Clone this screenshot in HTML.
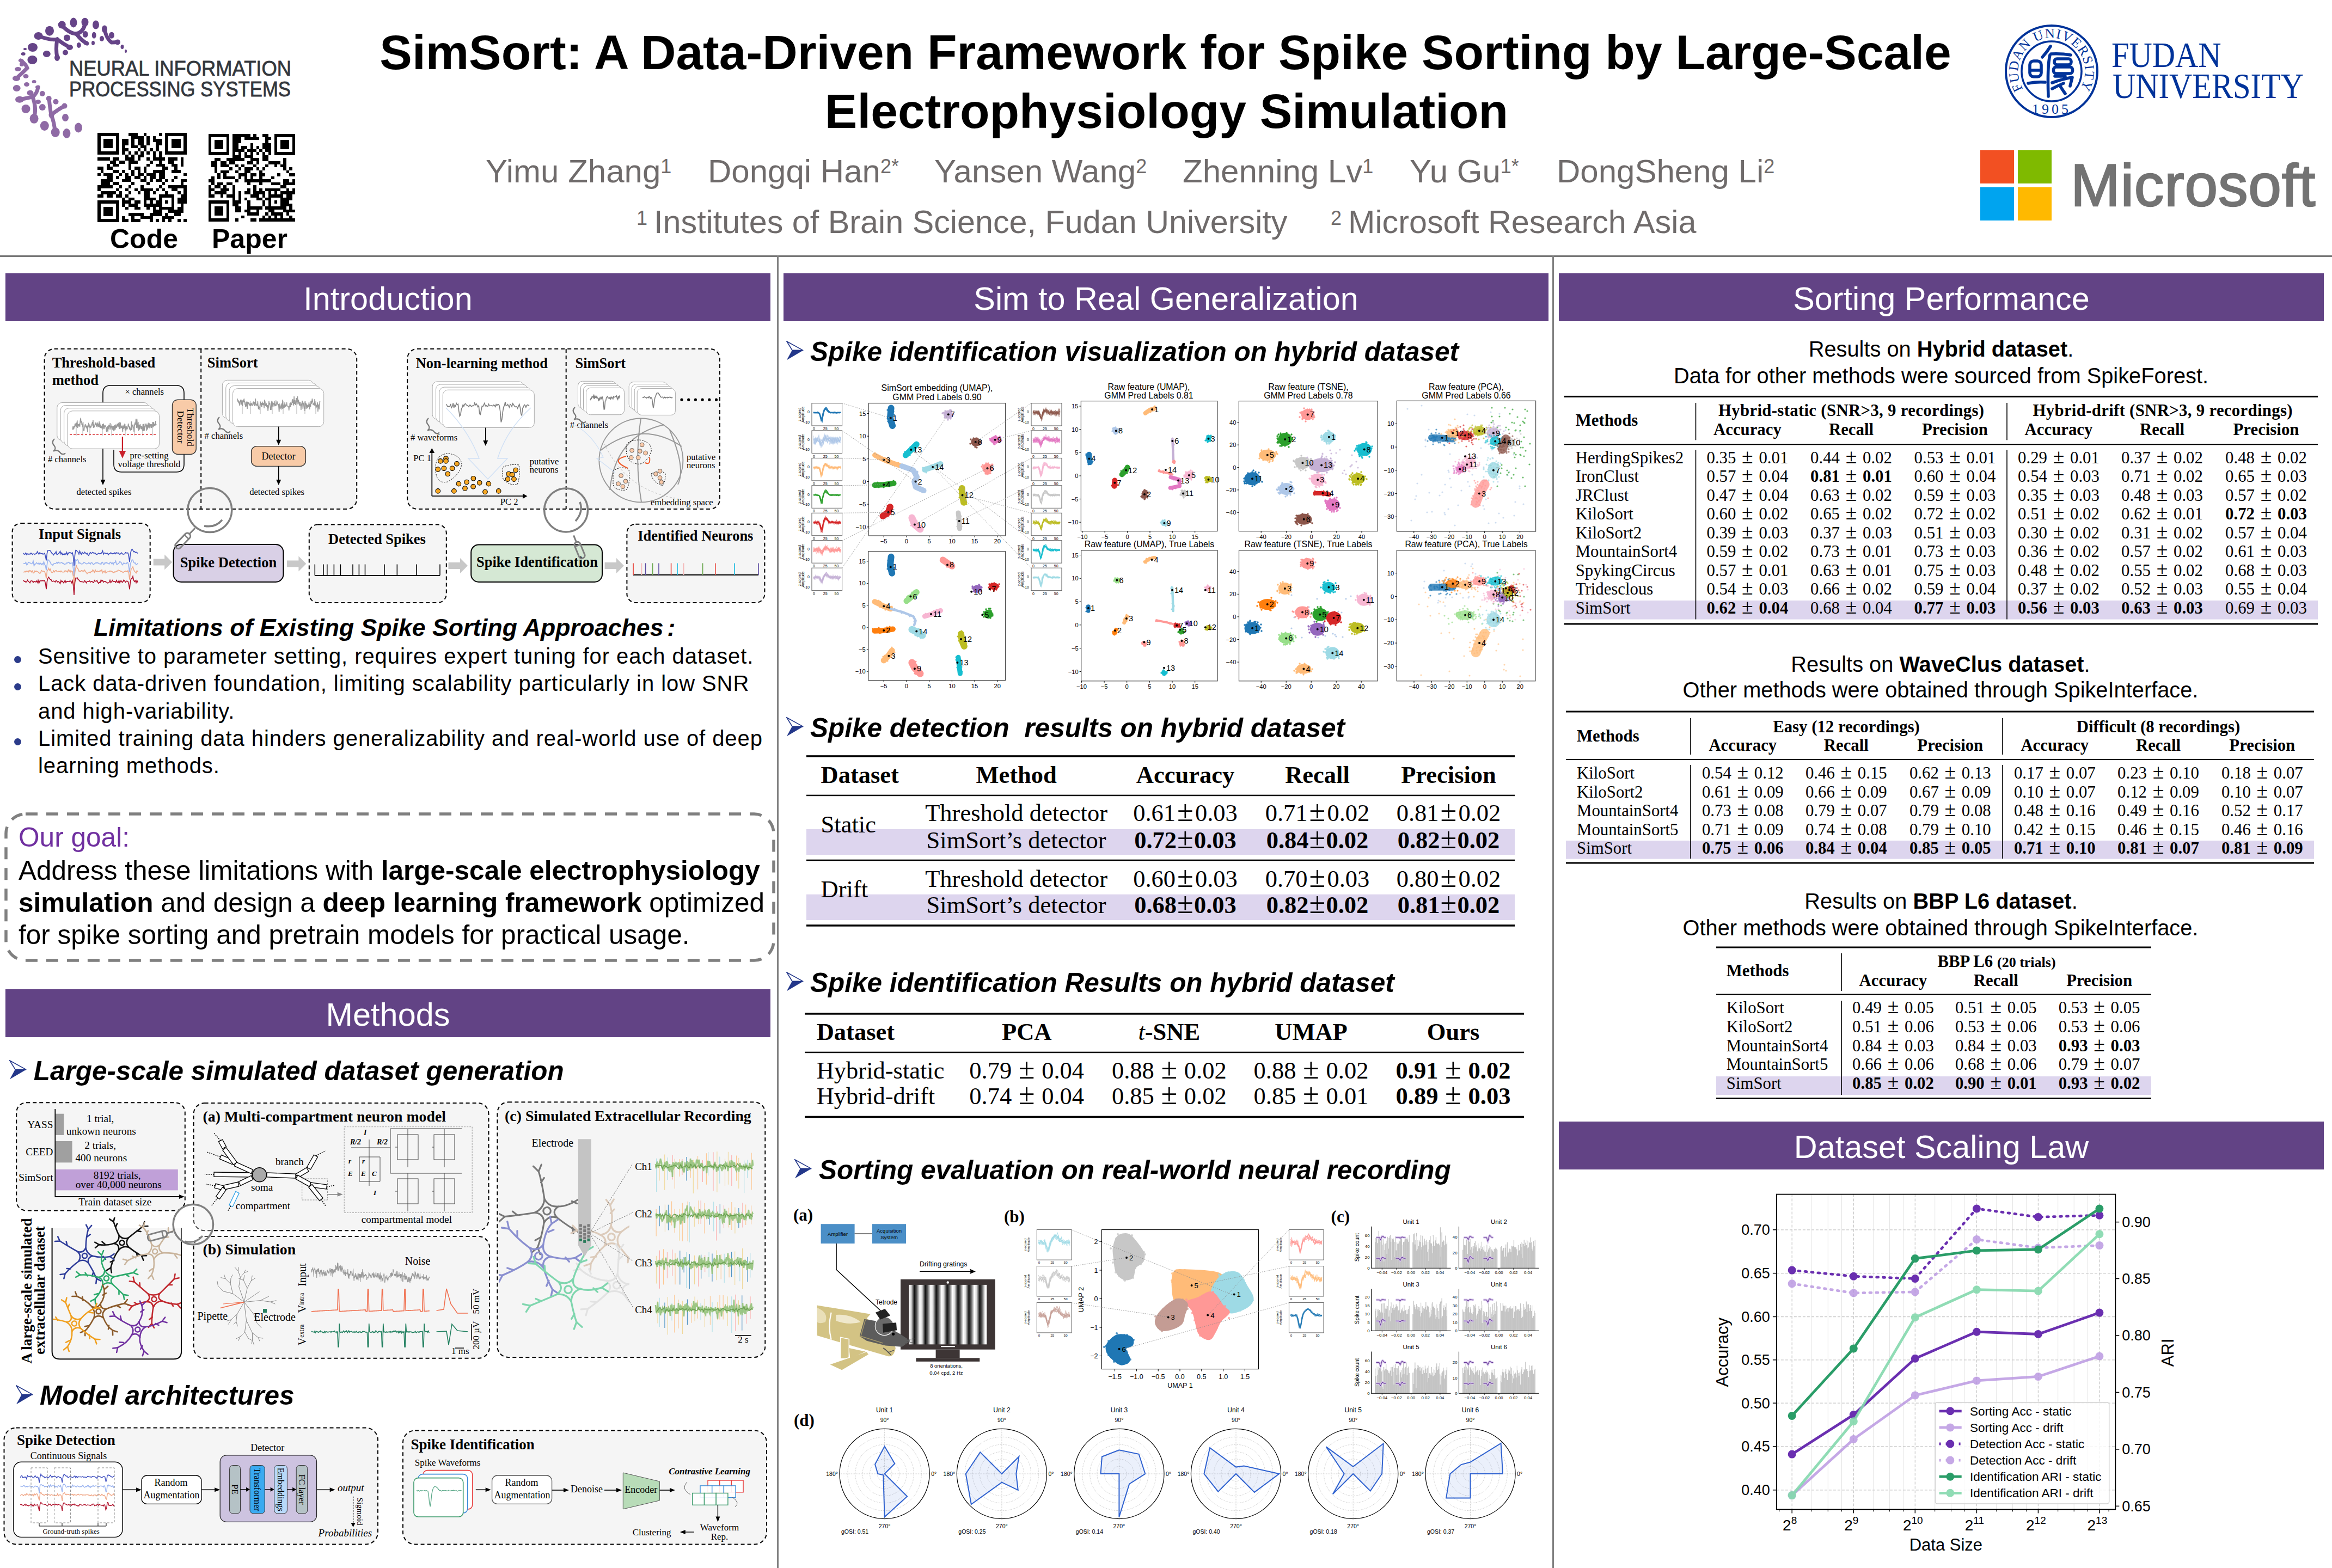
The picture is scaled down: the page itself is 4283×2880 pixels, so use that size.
<!DOCTYPE html>
<html><head><meta charset="utf-8">
<style>
html,body{margin:0;padding:0;background:#fff;}
body{width:4283px;height:2880px;position:relative;overflow:hidden;font-family:"Liberation Sans",sans-serif;color:#000;}
.a{position:absolute;white-space:nowrap;}
.bar{position:absolute;background:#624385;color:#fff;text-align:center;height:88px;line-height:88px;font-size:60px;}
.sv{position:absolute;}
.serif{font-family:"Liberation Serif",serif;}
.h2{position:absolute;white-space:nowrap;font-weight:bold;font-style:italic;font-size:49.5px;line-height:1;}
.arr{position:absolute;}
.au{position:absolute;white-space:nowrap;top:280px;font-size:60px;line-height:70px;color:#6f6b6b;}
.au .sp{font-size:36px;vertical-align:top;position:relative;top:-9px;}
.af{position:absolute;white-space:nowrap;top:374px;font-size:59.3px;line-height:68px;color:#6f6b6b;}
.af .sp2{font-size:36px;vertical-align:top;position:relative;top:-7px;margin-right:12px;}
table{border-collapse:collapse;}
.bar{line-height:94px;font-size:59.4px;}
.t40{position:absolute;white-space:nowrap;font-size:40px;line-height:40px;letter-spacing:0.93px;}
.t49{position:absolute;white-space:nowrap;font-size:49.5px;line-height:49px;}
.dot{position:absolute;width:13px;height:13px;border-radius:50%;background:#2b3b8a;}
</style></head><body>
<!-- header.html --><!-- HEADER --><div id="title" class="a" style="left:0;width:4283px;text-align:center;top:42px;font-weight:bold;font-size:89.3px;line-height:108px;"><div style="position:relative;left:-1px;">SimSort: A Data-Driven Framework for Spike Sorting by Large-Scale</div><div style="position:relative;left:1px;">Electrophysiology Simulation</div></div><div class="au" style="left:892px;">Yimu Zhang<span class="sp">1</span></div><div class="au" style="left:1300px;">Dongqi Han<span class="sp">2*</span></div><div class="au" style="left:1716px;">Yansen Wang<span class="sp">2</span></div><div class="au" style="left:2172px;">Zhenning Lv<span class="sp">1</span></div><div class="au" style="left:2589px;">Yu Gu<span class="sp">1*</span></div><div class="au" style="left:2859px;">DongSheng Li<span class="sp">2</span></div><div class="af" style="left:1169px;"><span class="sp2">1</span>Institutes of Brain Science, Fudan University</div><div class="af" style="left:2444px;"><span class="sp2">2</span>Microsoft Research Asia</div><!-- LOGOS --><svg class="sv" style="left:0;top:0" width="560" height="270" viewBox="0 0 560 270"><g fill="#664488"><ellipse cx="135" cy="41.5" rx="6.5" ry="9"/><ellipse cx="156" cy="40.7" rx="6.5" ry="8"/><ellipse cx="176" cy="45.5" rx="6" ry="8"/><ellipse cx="192" cy="53.5" rx="5" ry="7"/><ellipse cx="205" cy="64.7" rx="5" ry="6"/><ellipse cx="216" cy="77.4" rx="5" ry="5"/><ellipse cx="224.5" cy="86" rx="3" ry="4"/><ellipse cx="231" cy="94" rx="2" ry="3"/><ellipse cx="113.7" cy="45.5" rx="7" ry="7"/><ellipse cx="91" cy="56.7" rx="8" ry="9"/><ellipse cx="70.6" cy="66" rx="8" ry="7"/><ellipse cx="123" cy="69.4" rx="6" ry="6"/><ellipse cx="156.7" cy="63" rx="5" ry="6"/><ellipse cx="172.7" cy="64.7" rx="4" ry="6"/><ellipse cx="187" cy="71" rx="4" ry="5"/><ellipse cx="158" cy="79" rx="4" ry="4"/><ellipse cx="171" cy="79" rx="3" ry="4"/><ellipse cx="144.8" cy="83" rx="4" ry="5"/><ellipse cx="128" cy="87" rx="6" ry="5"/><ellipse cx="105" cy="106" rx="5" ry="6"/><ellipse cx="120" cy="96.5" rx="5" ry="5"/><ellipse cx="85.8" cy="99" rx="7" ry="6"/><ellipse cx="60" cy="87" rx="9" ry="8"/><ellipse cx="59.4" cy="110" rx="9" ry="8"/><ellipse cx="46" cy="90" rx="3" ry="2"/><ellipse cx="42.7" cy="99" rx="4" ry="3"/></g><g stroke="#664488" stroke-width="7" fill="none" stroke-linecap="round"><path d="M113,46 Q128,62 140,62 Q152,60 156,45"/><path d="M140,62 Q150,75 160,80"/><path d="M70,66 Q95,75 105,72 Q115,80 128,87"/><path d="M105,72 Q102,90 105,106"/><path d="M192,54 Q196,72 205,78 Q212,78 216,77"/></g><g fill="#8f6aa5"><ellipse cx="38.7" cy="111" rx="5" ry="3"/><ellipse cx="33" cy="127" rx="6" ry="4"/><ellipse cx="47.5" cy="140" rx="5" ry="4"/><ellipse cx="30" cy="144" rx="7" ry="5"/><ellipse cx="62.6" cy="150" rx="4" ry="3"/><ellipse cx="49" cy="155" rx="5" ry="4"/><ellipse cx="30.7" cy="162" rx="7" ry="6"/><ellipse cx="69" cy="160" rx="4" ry="3"/><ellipse cx="55.5" cy="170.7" rx="6" ry="5"/><ellipse cx="77.8" cy="172" rx="5" ry="5"/><ellipse cx="36" cy="182.7" rx="8" ry="6"/><ellipse cx="89.7" cy="181" rx="5" ry="5"/><ellipse cx="102.5" cy="186.7" rx="5" ry="5"/><ellipse cx="77.8" cy="197" rx="6" ry="6"/><ellipse cx="47.5" cy="200" rx="8" ry="8"/><ellipse cx="118.5" cy="194.6" rx="5" ry="5"/><ellipse cx="62.6" cy="217.8" rx="8" ry="9"/><ellipse cx="120" cy="216" rx="6" ry="7"/><ellipse cx="81.8" cy="231" rx="8" ry="9"/><ellipse cx="101.7" cy="243" rx="8" ry="9"/><ellipse cx="122.4" cy="245" rx="7" ry="9"/><ellipse cx="144" cy="234.5" rx="7" ry="9"/><ellipse cx="94.5" cy="211" rx="5" ry="6"/><ellipse cx="70" cy="187" rx="5" ry="4"/><ellipse cx="40" cy="118" rx="4" ry="4"/></g><g stroke="#8f6aa5" stroke-width="7" fill="none" stroke-linecap="round"><path d="M38,111 Q48,118 50,125 Q40,135 30,144"/><path d="M36,183 Q50,180 60,178 Q68,172 70,160"/><path d="M60,178 Q68,200 62,218"/><path d="M90,181 Q92,200 94,211 Q100,225 101,243"/><path d="M94,211 Q108,200 118,195"/></g><text x="127" y="139" font-size="38.5" fill="#33373d" stroke="#33373d" stroke-width="0.8" font-family="Liberation Sans" textLength="408" lengthAdjust="spacingAndGlyphs">NEURAL INFORMATION</text><text x="127" y="177" font-size="38.5" fill="#33373d" stroke="#33373d" stroke-width="0.8" font-family="Liberation Sans" textLength="407" lengthAdjust="spacingAndGlyphs">PROCESSING SYSTEMS</text></svg><svg class="sv" style="left:179px;top:244px" width="164" height="164" viewBox="0 0 29 29" shape-rendering="crispEdges"><path d="M0,0h1v1h-1zM1,0h1v1h-1zM2,0h1v1h-1zM3,0h1v1h-1zM4,0h1v1h-1zM5,0h1v1h-1zM6,0h1v1h-1zM10,0h1v1h-1zM11,0h1v1h-1zM12,0h1v1h-1zM15,0h1v1h-1zM20,0h1v1h-1zM22,0h1v1h-1zM23,0h1v1h-1zM24,0h1v1h-1zM25,0h1v1h-1zM26,0h1v1h-1zM27,0h1v1h-1zM28,0h1v1h-1zM0,1h1v1h-1zM6,1h1v1h-1zM11,1h1v1h-1zM12,1h1v1h-1zM13,1h1v1h-1zM14,1h1v1h-1zM16,1h1v1h-1zM18,1h1v1h-1zM22,1h1v1h-1zM28,1h1v1h-1zM0,2h1v1h-1zM2,2h1v1h-1zM3,2h1v1h-1zM4,2h1v1h-1zM6,2h1v1h-1zM8,2h1v1h-1zM9,2h1v1h-1zM11,2h1v1h-1zM13,2h1v1h-1zM14,2h1v1h-1zM16,2h1v1h-1zM18,2h1v1h-1zM19,2h1v1h-1zM20,2h1v1h-1zM22,2h1v1h-1zM24,2h1v1h-1zM25,2h1v1h-1zM26,2h1v1h-1zM28,2h1v1h-1zM0,3h1v1h-1zM2,3h1v1h-1zM3,3h1v1h-1zM4,3h1v1h-1zM6,3h1v1h-1zM8,3h1v1h-1zM9,3h1v1h-1zM11,3h1v1h-1zM13,3h1v1h-1zM14,3h1v1h-1zM16,3h1v1h-1zM19,3h1v1h-1zM20,3h1v1h-1zM22,3h1v1h-1zM24,3h1v1h-1zM25,3h1v1h-1zM26,3h1v1h-1zM28,3h1v1h-1zM0,4h1v1h-1zM2,4h1v1h-1zM3,4h1v1h-1zM4,4h1v1h-1zM6,4h1v1h-1zM8,4h1v1h-1zM11,4h1v1h-1zM12,4h1v1h-1zM14,4h1v1h-1zM15,4h1v1h-1zM19,4h1v1h-1zM22,4h1v1h-1zM24,4h1v1h-1zM25,4h1v1h-1zM26,4h1v1h-1zM28,4h1v1h-1zM0,5h1v1h-1zM6,5h1v1h-1zM8,5h1v1h-1zM9,5h1v1h-1zM13,5h1v1h-1zM15,5h1v1h-1zM17,5h1v1h-1zM19,5h1v1h-1zM22,5h1v1h-1zM28,5h1v1h-1zM0,6h1v1h-1zM1,6h1v1h-1zM2,6h1v1h-1zM3,6h1v1h-1zM4,6h1v1h-1zM5,6h1v1h-1zM6,6h1v1h-1zM8,6h1v1h-1zM10,6h1v1h-1zM12,6h1v1h-1zM14,6h1v1h-1zM16,6h1v1h-1zM18,6h1v1h-1zM20,6h1v1h-1zM22,6h1v1h-1zM23,6h1v1h-1zM24,6h1v1h-1zM25,6h1v1h-1zM26,6h1v1h-1zM27,6h1v1h-1zM28,6h1v1h-1zM9,7h1v1h-1zM11,7h1v1h-1zM13,7h1v1h-1zM14,7h1v1h-1zM18,7h1v1h-1zM20,7h1v1h-1zM0,8h1v1h-1zM1,8h1v1h-1zM2,8h1v1h-1zM3,8h1v1h-1zM5,8h1v1h-1zM6,8h1v1h-1zM9,8h1v1h-1zM10,8h1v1h-1zM11,8h1v1h-1zM13,8h1v1h-1zM16,8h1v1h-1zM18,8h1v1h-1zM19,8h1v1h-1zM20,8h1v1h-1zM21,8h1v1h-1zM23,8h1v1h-1zM24,8h1v1h-1zM25,8h1v1h-1zM27,8h1v1h-1zM4,9h1v1h-1zM5,9h1v1h-1zM7,9h1v1h-1zM8,9h1v1h-1zM10,9h1v1h-1zM11,9h1v1h-1zM12,9h1v1h-1zM17,9h1v1h-1zM20,9h1v1h-1zM23,9h1v1h-1zM24,9h1v1h-1zM27,9h1v1h-1zM3,10h1v1h-1zM5,10h1v1h-1zM6,10h1v1h-1zM10,10h1v1h-1zM16,10h1v1h-1zM19,10h1v1h-1zM20,10h1v1h-1zM21,10h1v1h-1zM24,10h1v1h-1zM25,10h1v1h-1zM27,10h1v1h-1zM0,11h1v1h-1zM1,11h1v1h-1zM3,11h1v1h-1zM4,11h1v1h-1zM10,11h1v1h-1zM12,11h1v1h-1zM13,11h1v1h-1zM15,11h1v1h-1zM21,11h1v1h-1zM22,11h1v1h-1zM25,11h1v1h-1zM1,12h1v1h-1zM5,12h1v1h-1zM6,12h1v1h-1zM8,12h1v1h-1zM11,12h1v1h-1zM13,12h1v1h-1zM15,12h1v1h-1zM18,12h1v1h-1zM19,12h1v1h-1zM20,12h1v1h-1zM21,12h1v1h-1zM24,12h1v1h-1zM25,12h1v1h-1zM26,12h1v1h-1zM0,13h1v1h-1zM2,13h1v1h-1zM3,13h1v1h-1zM4,13h1v1h-1zM7,13h1v1h-1zM9,13h1v1h-1zM11,13h1v1h-1zM13,13h1v1h-1zM14,13h1v1h-1zM16,13h1v1h-1zM17,13h1v1h-1zM18,13h1v1h-1zM20,13h1v1h-1zM21,13h1v1h-1zM28,13h1v1h-1zM3,14h1v1h-1zM4,14h1v1h-1zM6,14h1v1h-1zM9,14h1v1h-1zM10,14h1v1h-1zM12,14h1v1h-1zM13,14h1v1h-1zM15,14h1v1h-1zM17,14h1v1h-1zM18,14h1v1h-1zM20,14h1v1h-1zM21,14h1v1h-1zM25,14h1v1h-1zM1,15h1v1h-1zM2,15h1v1h-1zM3,15h1v1h-1zM4,15h1v1h-1zM8,15h1v1h-1zM9,15h1v1h-1zM10,15h1v1h-1zM14,15h1v1h-1zM15,15h1v1h-1zM17,15h1v1h-1zM19,15h1v1h-1zM20,15h1v1h-1zM22,15h1v1h-1zM24,15h1v1h-1zM27,15h1v1h-1zM28,15h1v1h-1zM1,16h1v1h-1zM2,16h1v1h-1zM3,16h1v1h-1zM5,16h1v1h-1zM6,16h1v1h-1zM11,16h1v1h-1zM16,16h1v1h-1zM21,16h1v1h-1zM27,16h1v1h-1zM0,17h1v1h-1zM1,17h1v1h-1zM2,17h1v1h-1zM3,17h1v1h-1zM4,17h1v1h-1zM7,17h1v1h-1zM10,17h1v1h-1zM14,17h1v1h-1zM20,17h1v1h-1zM23,17h1v1h-1zM24,17h1v1h-1zM25,17h1v1h-1zM26,17h1v1h-1zM27,17h1v1h-1zM28,17h1v1h-1zM0,18h1v1h-1zM6,18h1v1h-1zM9,18h1v1h-1zM12,18h1v1h-1zM14,18h1v1h-1zM15,18h1v1h-1zM16,18h1v1h-1zM17,18h1v1h-1zM19,18h1v1h-1zM21,18h1v1h-1zM24,18h1v1h-1zM25,18h1v1h-1zM28,18h1v1h-1zM1,19h1v1h-1zM2,19h1v1h-1zM3,19h1v1h-1zM4,19h1v1h-1zM5,19h1v1h-1zM7,19h1v1h-1zM10,19h1v1h-1zM13,19h1v1h-1zM15,19h1v1h-1zM16,19h1v1h-1zM18,19h1v1h-1zM22,19h1v1h-1zM26,19h1v1h-1zM28,19h1v1h-1zM0,20h1v1h-1zM1,20h1v1h-1zM3,20h1v1h-1zM4,20h1v1h-1zM6,20h1v1h-1zM7,20h1v1h-1zM9,20h1v1h-1zM15,20h1v1h-1zM16,20h1v1h-1zM20,20h1v1h-1zM21,20h1v1h-1zM22,20h1v1h-1zM23,20h1v1h-1zM24,20h1v1h-1zM27,20h1v1h-1zM28,20h1v1h-1zM8,21h1v1h-1zM10,21h1v1h-1zM11,21h1v1h-1zM15,21h1v1h-1zM16,21h1v1h-1zM17,21h1v1h-1zM18,21h1v1h-1zM20,21h1v1h-1zM24,21h1v1h-1zM26,21h1v1h-1zM27,21h1v1h-1zM28,21h1v1h-1zM0,22h1v1h-1zM1,22h1v1h-1zM2,22h1v1h-1zM3,22h1v1h-1zM4,22h1v1h-1zM5,22h1v1h-1zM6,22h1v1h-1zM8,22h1v1h-1zM9,22h1v1h-1zM10,22h1v1h-1zM12,22h1v1h-1zM13,22h1v1h-1zM15,22h1v1h-1zM17,22h1v1h-1zM19,22h1v1h-1zM20,22h1v1h-1zM22,22h1v1h-1zM24,22h1v1h-1zM26,22h1v1h-1zM27,22h1v1h-1zM28,22h1v1h-1zM0,23h1v1h-1zM6,23h1v1h-1zM8,23h1v1h-1zM10,23h1v1h-1zM11,23h1v1h-1zM12,23h1v1h-1zM15,23h1v1h-1zM16,23h1v1h-1zM17,23h1v1h-1zM18,23h1v1h-1zM19,23h1v1h-1zM20,23h1v1h-1zM24,23h1v1h-1zM27,23h1v1h-1zM0,24h1v1h-1zM2,24h1v1h-1zM3,24h1v1h-1zM4,24h1v1h-1zM6,24h1v1h-1zM9,24h1v1h-1zM12,24h1v1h-1zM13,24h1v1h-1zM16,24h1v1h-1zM18,24h1v1h-1zM20,24h1v1h-1zM21,24h1v1h-1zM22,24h1v1h-1zM23,24h1v1h-1zM24,24h1v1h-1zM26,24h1v1h-1zM27,24h1v1h-1zM0,25h1v1h-1zM2,25h1v1h-1zM3,25h1v1h-1zM4,25h1v1h-1zM6,25h1v1h-1zM18,25h1v1h-1zM19,25h1v1h-1zM20,25h1v1h-1zM23,25h1v1h-1zM24,25h1v1h-1zM25,25h1v1h-1zM26,25h1v1h-1zM27,25h1v1h-1zM0,26h1v1h-1zM2,26h1v1h-1zM3,26h1v1h-1zM4,26h1v1h-1zM6,26h1v1h-1zM10,26h1v1h-1zM11,26h1v1h-1zM12,26h1v1h-1zM13,26h1v1h-1zM14,26h1v1h-1zM17,26h1v1h-1zM18,26h1v1h-1zM19,26h1v1h-1zM20,26h1v1h-1zM22,26h1v1h-1zM25,26h1v1h-1zM26,26h1v1h-1zM0,27h1v1h-1zM6,27h1v1h-1zM8,27h1v1h-1zM11,27h1v1h-1zM14,27h1v1h-1zM15,27h1v1h-1zM16,27h1v1h-1zM17,27h1v1h-1zM21,27h1v1h-1zM22,27h1v1h-1zM23,27h1v1h-1zM24,27h1v1h-1zM0,28h1v1h-1zM1,28h1v1h-1zM2,28h1v1h-1zM3,28h1v1h-1zM4,28h1v1h-1zM5,28h1v1h-1zM6,28h1v1h-1zM8,28h1v1h-1zM9,28h1v1h-1zM11,28h1v1h-1zM12,28h1v1h-1zM13,28h1v1h-1zM17,28h1v1h-1zM19,28h1v1h-1zM21,28h1v1h-1zM23,28h1v1h-1zM26,28h1v1h-1zM28,28h1v1h-1z" fill="#000"/></svg><svg class="sv" style="left:383px;top:246px" width="159" height="161" viewBox="0 0 29 29" preserveAspectRatio="none" shape-rendering="crispEdges"><path d="M0,0h1v1h-1zM1,0h1v1h-1zM2,0h1v1h-1zM3,0h1v1h-1zM4,0h1v1h-1zM5,0h1v1h-1zM6,0h1v1h-1zM8,0h1v1h-1zM9,0h1v1h-1zM10,0h1v1h-1zM11,0h1v1h-1zM12,0h1v1h-1zM13,0h1v1h-1zM15,0h1v1h-1zM18,0h1v1h-1zM19,0h1v1h-1zM22,0h1v1h-1zM23,0h1v1h-1zM24,0h1v1h-1zM25,0h1v1h-1zM26,0h1v1h-1zM27,0h1v1h-1zM28,0h1v1h-1zM0,1h1v1h-1zM6,1h1v1h-1zM8,1h1v1h-1zM9,1h1v1h-1zM10,1h1v1h-1zM12,1h1v1h-1zM13,1h1v1h-1zM14,1h1v1h-1zM15,1h1v1h-1zM16,1h1v1h-1zM19,1h1v1h-1zM20,1h1v1h-1zM22,1h1v1h-1zM28,1h1v1h-1zM0,2h1v1h-1zM2,2h1v1h-1zM3,2h1v1h-1zM4,2h1v1h-1zM6,2h1v1h-1zM8,2h1v1h-1zM9,2h1v1h-1zM10,2h1v1h-1zM19,2h1v1h-1zM22,2h1v1h-1zM24,2h1v1h-1zM25,2h1v1h-1zM26,2h1v1h-1zM28,2h1v1h-1zM0,3h1v1h-1zM2,3h1v1h-1zM3,3h1v1h-1zM4,3h1v1h-1zM6,3h1v1h-1zM8,3h1v1h-1zM9,3h1v1h-1zM14,3h1v1h-1zM18,3h1v1h-1zM19,3h1v1h-1zM20,3h1v1h-1zM22,3h1v1h-1zM24,3h1v1h-1zM25,3h1v1h-1zM26,3h1v1h-1zM28,3h1v1h-1zM0,4h1v1h-1zM2,4h1v1h-1zM3,4h1v1h-1zM4,4h1v1h-1zM6,4h1v1h-1zM8,4h1v1h-1zM9,4h1v1h-1zM11,4h1v1h-1zM12,4h1v1h-1zM14,4h1v1h-1zM16,4h1v1h-1zM18,4h1v1h-1zM19,4h1v1h-1zM20,4h1v1h-1zM22,4h1v1h-1zM24,4h1v1h-1zM25,4h1v1h-1zM26,4h1v1h-1zM28,4h1v1h-1zM0,5h1v1h-1zM6,5h1v1h-1zM8,5h1v1h-1zM9,5h1v1h-1zM10,5h1v1h-1zM11,5h1v1h-1zM13,5h1v1h-1zM14,5h1v1h-1zM15,5h1v1h-1zM17,5h1v1h-1zM19,5h1v1h-1zM20,5h1v1h-1zM22,5h1v1h-1zM28,5h1v1h-1zM0,6h1v1h-1zM1,6h1v1h-1zM2,6h1v1h-1zM3,6h1v1h-1zM4,6h1v1h-1zM5,6h1v1h-1zM6,6h1v1h-1zM8,6h1v1h-1zM10,6h1v1h-1zM12,6h1v1h-1zM14,6h1v1h-1zM16,6h1v1h-1zM18,6h1v1h-1zM20,6h1v1h-1zM22,6h1v1h-1zM23,6h1v1h-1zM24,6h1v1h-1zM25,6h1v1h-1zM26,6h1v1h-1zM27,6h1v1h-1zM28,6h1v1h-1zM8,7h1v1h-1zM9,7h1v1h-1zM10,7h1v1h-1zM12,7h1v1h-1zM13,7h1v1h-1zM14,7h1v1h-1zM18,7h1v1h-1zM19,7h1v1h-1zM2,8h1v1h-1zM3,8h1v1h-1zM6,8h1v1h-1zM7,8h1v1h-1zM8,8h1v1h-1zM9,8h1v1h-1zM10,8h1v1h-1zM11,8h1v1h-1zM14,8h1v1h-1zM15,8h1v1h-1zM16,8h1v1h-1zM18,8h1v1h-1zM19,8h1v1h-1zM25,8h1v1h-1zM1,9h1v1h-1zM2,9h1v1h-1zM4,9h1v1h-1zM5,9h1v1h-1zM7,9h1v1h-1zM8,9h1v1h-1zM13,9h1v1h-1zM14,9h1v1h-1zM16,9h1v1h-1zM20,9h1v1h-1zM21,9h1v1h-1zM22,9h1v1h-1zM23,9h1v1h-1zM25,9h1v1h-1zM1,10h1v1h-1zM2,10h1v1h-1zM4,10h1v1h-1zM5,10h1v1h-1zM6,10h1v1h-1zM9,10h1v1h-1zM11,10h1v1h-1zM15,10h1v1h-1zM19,10h1v1h-1zM22,10h1v1h-1zM24,10h1v1h-1zM25,10h1v1h-1zM2,11h1v1h-1zM7,11h1v1h-1zM10,11h1v1h-1zM12,11h1v1h-1zM13,11h1v1h-1zM14,11h1v1h-1zM16,11h1v1h-1zM18,11h1v1h-1zM25,11h1v1h-1zM27,11h1v1h-1zM2,12h1v1h-1zM4,12h1v1h-1zM5,12h1v1h-1zM6,12h1v1h-1zM9,12h1v1h-1zM12,12h1v1h-1zM13,12h1v1h-1zM17,12h1v1h-1zM26,12h1v1h-1zM3,13h1v1h-1zM5,13h1v1h-1zM10,13h1v1h-1zM11,13h1v1h-1zM12,13h1v1h-1zM14,13h1v1h-1zM15,13h1v1h-1zM17,13h1v1h-1zM18,13h1v1h-1zM23,13h1v1h-1zM27,13h1v1h-1zM28,13h1v1h-1zM1,14h1v1h-1zM3,14h1v1h-1zM5,14h1v1h-1zM6,14h1v1h-1zM7,14h1v1h-1zM8,14h1v1h-1zM10,14h1v1h-1zM12,14h1v1h-1zM14,14h1v1h-1zM17,14h1v1h-1zM21,14h1v1h-1zM0,15h1v1h-1zM1,15h1v1h-1zM9,15h1v1h-1zM12,15h1v1h-1zM13,15h1v1h-1zM14,15h1v1h-1zM15,15h1v1h-1zM16,15h1v1h-1zM17,15h1v1h-1zM18,15h1v1h-1zM19,15h1v1h-1zM20,15h1v1h-1zM25,15h1v1h-1zM26,15h1v1h-1zM28,15h1v1h-1zM1,16h1v1h-1zM3,16h1v1h-1zM4,16h1v1h-1zM6,16h1v1h-1zM7,16h1v1h-1zM13,16h1v1h-1zM17,16h1v1h-1zM21,16h1v1h-1zM22,16h1v1h-1zM23,16h1v1h-1zM25,16h1v1h-1zM26,16h1v1h-1zM27,16h1v1h-1zM28,16h1v1h-1zM0,17h1v1h-1zM2,17h1v1h-1zM3,17h1v1h-1zM5,17h1v1h-1zM8,17h1v1h-1zM15,17h1v1h-1zM24,17h1v1h-1zM25,17h1v1h-1zM0,18h1v1h-1zM1,18h1v1h-1zM4,18h1v1h-1zM5,18h1v1h-1zM6,18h1v1h-1zM8,18h1v1h-1zM13,18h1v1h-1zM15,18h1v1h-1zM17,18h1v1h-1zM19,18h1v1h-1zM20,18h1v1h-1zM21,18h1v1h-1zM22,18h1v1h-1zM23,18h1v1h-1zM26,18h1v1h-1zM28,18h1v1h-1zM0,19h1v1h-1zM2,19h1v1h-1zM3,19h1v1h-1zM4,19h1v1h-1zM5,19h1v1h-1zM8,19h1v1h-1zM10,19h1v1h-1zM12,19h1v1h-1zM13,19h1v1h-1zM15,19h1v1h-1zM16,19h1v1h-1zM17,19h1v1h-1zM18,19h1v1h-1zM20,19h1v1h-1zM22,19h1v1h-1zM24,19h1v1h-1zM25,19h1v1h-1zM26,19h1v1h-1zM27,19h1v1h-1zM28,19h1v1h-1zM0,20h1v1h-1zM1,20h1v1h-1zM4,20h1v1h-1zM6,20h1v1h-1zM7,20h1v1h-1zM8,20h1v1h-1zM10,20h1v1h-1zM14,20h1v1h-1zM15,20h1v1h-1zM16,20h1v1h-1zM18,20h1v1h-1zM20,20h1v1h-1zM21,20h1v1h-1zM22,20h1v1h-1zM23,20h1v1h-1zM24,20h1v1h-1zM26,20h1v1h-1zM27,20h1v1h-1zM8,21h1v1h-1zM10,21h1v1h-1zM12,21h1v1h-1zM16,21h1v1h-1zM17,21h1v1h-1zM19,21h1v1h-1zM20,21h1v1h-1zM24,21h1v1h-1zM25,21h1v1h-1zM26,21h1v1h-1zM27,21h1v1h-1zM0,22h1v1h-1zM1,22h1v1h-1zM2,22h1v1h-1zM3,22h1v1h-1zM4,22h1v1h-1zM5,22h1v1h-1zM6,22h1v1h-1zM8,22h1v1h-1zM9,22h1v1h-1zM10,22h1v1h-1zM13,22h1v1h-1zM18,22h1v1h-1zM20,22h1v1h-1zM22,22h1v1h-1zM24,22h1v1h-1zM25,22h1v1h-1zM26,22h1v1h-1zM0,23h1v1h-1zM6,23h1v1h-1zM8,23h1v1h-1zM9,23h1v1h-1zM13,23h1v1h-1zM18,23h1v1h-1zM20,23h1v1h-1zM24,23h1v1h-1zM25,23h1v1h-1zM26,23h1v1h-1zM27,23h1v1h-1zM0,24h1v1h-1zM2,24h1v1h-1zM3,24h1v1h-1zM4,24h1v1h-1zM6,24h1v1h-1zM9,24h1v1h-1zM10,24h1v1h-1zM13,24h1v1h-1zM14,24h1v1h-1zM15,24h1v1h-1zM16,24h1v1h-1zM17,24h1v1h-1zM19,24h1v1h-1zM20,24h1v1h-1zM21,24h1v1h-1zM22,24h1v1h-1zM23,24h1v1h-1zM24,24h1v1h-1zM25,24h1v1h-1zM27,24h1v1h-1zM0,25h1v1h-1zM2,25h1v1h-1zM3,25h1v1h-1zM4,25h1v1h-1zM6,25h1v1h-1zM9,25h1v1h-1zM10,25h1v1h-1zM12,25h1v1h-1zM13,25h1v1h-1zM16,25h1v1h-1zM20,25h1v1h-1zM21,25h1v1h-1zM25,25h1v1h-1zM26,25h1v1h-1zM27,25h1v1h-1zM28,25h1v1h-1zM0,26h1v1h-1zM2,26h1v1h-1zM3,26h1v1h-1zM4,26h1v1h-1zM6,26h1v1h-1zM13,26h1v1h-1zM14,26h1v1h-1zM15,26h1v1h-1zM16,26h1v1h-1zM19,26h1v1h-1zM21,26h1v1h-1zM22,26h1v1h-1zM23,26h1v1h-1zM24,26h1v1h-1zM26,26h1v1h-1zM0,27h1v1h-1zM6,27h1v1h-1zM11,27h1v1h-1zM18,27h1v1h-1zM20,27h1v1h-1zM22,27h1v1h-1zM24,27h1v1h-1zM27,27h1v1h-1zM0,28h1v1h-1zM1,28h1v1h-1zM2,28h1v1h-1zM3,28h1v1h-1zM4,28h1v1h-1zM5,28h1v1h-1zM6,28h1v1h-1zM9,28h1v1h-1zM14,28h1v1h-1zM15,28h1v1h-1zM17,28h1v1h-1zM18,28h1v1h-1zM19,28h1v1h-1zM20,28h1v1h-1zM21,28h1v1h-1zM22,28h1v1h-1zM23,28h1v1h-1zM24,28h1v1h-1zM25,28h1v1h-1zM26,28h1v1h-1zM27,28h1v1h-1zM28,28h1v1h-1z" fill="#000"/></svg><div class="a" style="left:202px;top:409px;font-size:50px;font-weight:bold;line-height:60px;">Code</div><div class="a" style="left:389px;top:409px;font-size:50px;font-weight:bold;line-height:60px;">Paper</div><svg class="sv" style="left:3680px;top:43px" width="176" height="176" viewBox="-88 -88 176 176"><defs><path id="ftop" d="M-50.4,35.3 A61.5,61.5 0 1 1 50.4,35.3"/></defs><circle r="84" fill="none" stroke="#00339a" stroke-width="4"/><circle r="55" fill="none" stroke="#00339a" stroke-width="3.5"/><text font-family="Liberation Serif" font-size="25" fill="#00339a" letter-spacing="1.2"><textPath href="#ftop" startOffset="50%" text-anchor="middle">FUDAN UNIVERSITY</textPath></text><text font-family="Liberation Serif" font-size="26" fill="#00339a" x="0" y="78" letter-spacing="5" text-anchor="middle">1905</text><g stroke="#00339a" stroke-width="5.6" fill="none" stroke-linecap="round" stroke-linejoin="round"><rect x="-40" y="-19" width="21" height="29" rx="7"/><path d="M-39,-2 H-20"/><path d="M-43,22 Q-28,19 -12,20"/><path d="M-2,-46 Q-8,-36 -17,-26 M-3,-30 Q-8,-10 -6,46"/><path d="M-1,-32 Q18,-33 35,-30"/><rect x="5" y="-23" width="31" height="11" rx="5"/><rect x="3.5" y="-8" width="35" height="12" rx="5"/><path d="M6,9 H25 M1,21 Q20,14 38,11 L34,27 M1,32 Q12,26 22,22 M15,26 Q20,34 25,41"/></g></svg><div class="a serif" style="left:3878px;top:66px;font-size:65px;line-height:70px;color:#00339a;transform-origin:0 0;transform:scaleX(0.9);">FUDAN</div><div class="a serif" style="left:3880px;top:123px;font-size:65px;line-height:70px;color:#00339a;transform-origin:0 0;transform:scaleX(0.9);">UNIVERSITY</div><div style="position:absolute;left:3637px;top:276px;width:62px;height:61px;background:#f25022"></div><div style="position:absolute;left:3706px;top:276px;width:62px;height:61px;background:#7fba00"></div><div style="position:absolute;left:3637px;top:344px;width:62px;height:61px;background:#00a4ef"></div><div style="position:absolute;left:3706px;top:344px;width:62px;height:61px;background:#ffb900"></div><div class="a" style="left:3803px;top:275px;font-size:109px;line-height:130px;color:#737373;-webkit-text-stroke:2.5px #737373;letter-spacing:0.9px;">Microsoft</div><!-- /LOGOS --><!-- frame.html --><div style="position:absolute;left:0;top:469px;width:4283px;height:3px;background:#777;"></div><div style="position:absolute;left:1427px;top:469px;width:3px;height:2411px;background:#808080;"></div><div style="position:absolute;left:2851px;top:469px;width:3px;height:2411px;background:#808080;"></div><div class="bar" style="left:10px;top:502px;width:1405px;">Introduction</div><div class="bar" style="left:1439px;top:502px;width:1405px;">Sim to Real Generalization</div><div class="bar" style="left:2863px;top:502px;width:1405px;">Sorting Performance</div><div class="bar" style="left:10px;top:1817px;width:1405px;">Methods</div><div class="bar" style="left:2863px;top:2060px;width:1405px;">Dataset Scaling Law</div><!-- col1.html --><div class="a" style="left:172px;top:1129.9px;font-size:44.6px;line-height:45px;font-weight:bold;font-style:italic;">Limitations of Existing Spike Sorting Approaches<span style="margin-left:7px">:</span></div><div class="t40"  id="bl1219" style="left:70px;top:1185.1px;">Sensitive to parameter setting, requires expert tuning for each dataset.</div><div class="dot" style="left:25.5px;top:1205.0px;"></div><div class="t40"  id="bl1269" style="left:70px;top:1235.4px;">Lack data-driven foundation, limiting scalability particularly in low SNR</div><div class="dot" style="left:25.5px;top:1255.3px;"></div><div class="t40"  id="bl1319" style="left:70px;top:1285.7px;">and high-variability.</div><div class="t40"  id="bl1370" style="left:70px;top:1336.1px;">Limited training data hinders generalizability and real-world use of deep</div><div class="dot" style="left:25.5px;top:1356.0px;"></div><div class="t40"  id="bl1420" style="left:70px;top:1386.3px;">learning methods.</div><svg class="sv" style="left:0;top:1480px" width="1428" height="300"><rect x="11" y="15" width="1410" height="269" rx="36" ry="36" fill="none" stroke="#808080" stroke-width="5.5" stroke-dasharray="22 16"/></svg><div class="a" style="left:34px;top:1514.0px;font-size:49.6px;line-height:49.6px;color:#7030a0;">Our goal:</div><div class="t49" id="gl1615" style="left:34px;top:1573.5px;">Address these limitations with <b>large-scale electrophysiology</b></div><div class="t49" id="gl1674" style="left:34px;top:1633.0px;"><b>simulation</b> and design a <b>deep learning framework</b> optimized</div><div class="t49" id="gl1733" style="left:34px;top:1692.2px;">for spike sorting and pretrain models for practical usage.</div><svg class="sv" style="left:17.4px;top:1947.4px" width="34" height="37" viewBox="-1 -1 34 37"><path d="M0,0 L30.2,16.6 L9.9,16.1 Z" fill="none" stroke="#23378a" stroke-width="1.6" stroke-linejoin="miter"/><path d="M9.9,16.1 L30.2,16.6 L0,34.3 Z" fill="#23378a"/></svg><div class="h2" style="left:61.8px;top:1941.5px;">Large-scale simulated dataset generation</div><svg class="sv" style="left:29px;top:2544.0px" width="34" height="37" viewBox="-1 -1 34 37"><path d="M0,0 L30.2,16.6 L9.9,16.1 Z" fill="none" stroke="#23378a" stroke-width="1.6" stroke-linejoin="miter"/><path d="M9.9,16.1 L30.2,16.6 L0,34.3 Z" fill="#23378a"/></svg><div class="h2" style="left:73px;top:2538.1px;">Model architectures</div><!-- fig_intro.html --><svg class="sv" style="left:0;top:0" width="1428" height="1200" viewBox="0 0 1428 1200" font-family="Liberation Serif"><rect x="81.6" y="640.8" width="573.6" height="294.1" rx="18" fill="#f5f5f5" stroke="#000" stroke-width="2" stroke-dasharray="7 5"/><line x1="369.2" y1="641" x2="369.2" y2="935" stroke="#000" stroke-width="2" stroke-dasharray="7 5"/><text x="95.7" y="675.0" font-size="26.5" text-anchor="start" font-family="Liberation Serif" fill="#000" font-weight="bold">Threshold-based</text><text x="95.7" y="707.2" font-size="26.5" text-anchor="start" font-family="Liberation Serif" fill="#000" font-weight="bold">method</text><text x="380.8" y="675.0" font-size="26.5" text-anchor="start" font-family="Liberation Serif" fill="#000" font-weight="bold">SimSort</text><path d="M189,740 L189,722 Q189,708 203,708 L324,708 Q338,708 338,722 L338,734" fill="none" stroke="#000" stroke-width="1.6"/><path d="M209,826 L209,853 Q209,867 223,867 L324,867 Q338,867 338,853 L338,834" fill="none" stroke="#000" stroke-width="1.6"/><text x="229.5" y="725.2" font-size="16.6" text-anchor="start" font-family="Liberation Serif" fill="#000">× channels</text><rect x="104.8" y="739.5" width="168.5" height="69.4" rx="9" fill="#fff" stroke="#aaa" stroke-width="1"/><rect x="111.2" y="744.6" width="168.5" height="69.4" rx="9" fill="#fff" stroke="#aaa" stroke-width="1"/><rect x="117.6" y="749.7" width="168.5" height="69.4" rx="9" fill="#fff" stroke="#aaa" stroke-width="1"/><rect x="124.0" y="754.8" width="168.5" height="69.4" rx="9" fill="#fff" stroke="#aaa" stroke-width="1"/><polyline points="133.0,789 133.6,787 134.2,782 134.8,786 135.4,788 136.0,786 136.6,782 137.1,784 137.7,778 138.3,782 138.9,781 139.5,777 140.1,784 140.7,780 141.3,775 141.9,774 142.5,786 143.1,783 143.7,779 144.3,783 144.8,781 145.4,779 146.0,780 146.6,784 147.2,774 147.8,769 148.4,770 149.0,777 149.6,773 150.2,780 150.8,780 151.4,779 152.0,785 152.5,775 153.1,791 153.7,787 154.3,792 154.9,785 155.5,784 156.1,781 156.7,779 157.3,783 157.9,785 158.5,782 159.1,787 159.7,781 160.2,787 160.8,794 161.4,782 162.0,785 162.6,778 163.2,779 163.8,781 164.4,784 165.0,785 165.6,782 166.2,783 166.8,785 167.4,784 167.9,782 168.5,779 169.1,778 169.7,775 170.3,782 170.9,771 171.5,786 172.1,779 172.7,783 173.3,784 173.9,783 174.5,779 175.1,776 175.6,781 176.2,776 176.8,784 177.4,778 178.0,783 178.6,776 179.2,779 179.8,785 180.4,778 181.0,784 181.6,780 182.2,774 182.8,785 183.3,777 183.9,780 184.5,786 185.1,781 185.7,787 186.3,785 186.9,782 187.5,786 188.1,779 188.7,789 189.3,784 189.9,778 190.5,781 191.0,788 191.6,786 192.2,782 192.8,783 193.4,782 194.0,783 194.6,785 195.2,790 195.8,793 196.4,784 197.0,792 197.6,783 198.2,794 198.7,785 199.3,786 199.9,780 200.5,789 201.1,781 201.7,784 202.3,777 202.9,785 203.5,789 204.1,785 204.7,782 205.3,784 205.9,785 206.4,784 207.0,789 207.6,789 208.2,790 208.8,782 209.4,788 210.0,789 210.6,781 211.2,787 211.8,789 212.4,781 213.0,780 213.6,786 214.1,783 214.7,784 215.3,782 215.9,778 216.5,782 217.1,783 217.7,778 218.3,777 218.9,786 219.5,788 220.1,775 220.7,777 221.3,777 221.8,787 222.4,784 223.0,783 223.6,786 224.2,783 224.8,788 225.4,794 226.0,780 226.6,787 227.2,787 227.8,783 228.4,786 229.0,778 229.5,789 230.1,783 230.7,789 231.3,792 231.9,782 232.5,788 233.1,788 233.7,788 234.3,786 234.9,784 235.5,779 236.1,780 236.7,784 237.2,782 237.8,789 238.4,784 239.0,787 239.6,788 240.2,791 240.8,788 241.4,774 242.0,790 242.6,786 243.2,780 243.8,782 244.4,781 244.9,785 245.5,787 246.1,793 246.7,782 247.3,781 247.9,776 248.5,780 249.1,777 249.7,769 250.3,780 250.9,786 251.5,769 252.1,777 252.6,783 253.2,787 253.8,775 254.4,791 255.0,786 255.6,780 256.2,788 256.8,787 257.4,779 258.0,783 258.6,784 259.2,788 259.8,783 260.3,783 260.9,789 261.5,790 262.1,784 262.7,784 263.3,779 263.9,792 264.5,778 265.1,791 265.7,784 266.3,785 266.9,784 267.5,778 268.0,782 268.6,778 269.2,791 269.8,781 270.4,783 271.0,789 271.6,779 272.2,778 272.8,784 273.4,786 274.0,778 274.6,779 275.2,787 275.7,782 276.3,782 276.9,779 277.5,786 278.1,779 278.7,786 279.3,783 279.9,782 280.5,775 281.1,784 281.7,784 282.3,775 282.9,780 283.4,782 284.0,779 284.6,783 285.2,779 285.8,773 286.4,781 287.0,779" fill="none" stroke="#9a9a9a" stroke-width="1.5"/><line x1="140.0" y1="779.2" x2="140.0" y2="800.0" stroke="#9a9a9a" stroke-width="1" opacity="0.8"/><line x1="152.0" y1="779.2" x2="152.0" y2="800.0" stroke="#9a9a9a" stroke-width="1" opacity="0.8"/><line x1="165.0" y1="779.2" x2="165.0" y2="800.0" stroke="#9a9a9a" stroke-width="1" opacity="0.8"/><line x1="188.0" y1="779.2" x2="188.0" y2="800.0" stroke="#9a9a9a" stroke-width="1" opacity="0.8"/><line x1="205.0" y1="779.2" x2="205.0" y2="800.0" stroke="#9a9a9a" stroke-width="1" opacity="0.8"/><line x1="230.0" y1="779.2" x2="230.0" y2="800.0" stroke="#9a9a9a" stroke-width="1" opacity="0.8"/><line x1="247.0" y1="779.2" x2="247.0" y2="800.0" stroke="#9a9a9a" stroke-width="1" opacity="0.8"/><line x1="262.0" y1="779.2" x2="262.0" y2="800.0" stroke="#9a9a9a" stroke-width="1" opacity="0.8"/><line x1="280.0" y1="779.2" x2="280.0" y2="800.0" stroke="#9a9a9a" stroke-width="1" opacity="0.8"/><line x1="128" y1="797.7" x2="287" y2="797.7" stroke="#d62728" stroke-width="1.6" stroke-dasharray="4 3"/><line x1="224.9" y1="802" x2="224.9" y2="830" stroke="#c9202a" stroke-width="2.2"/><path d="M218.5,828 L224.9,842 L231.3,828 Z" fill="#c9202a"/><rect x="316.5" y="734.2" width="43.7" height="100.3" rx="10" fill="#f8cba8" stroke="#333" stroke-width="1.4"/><text transform="translate(344,784.3) rotate(90)" font-size="17.5" text-anchor="middle" font-family="Liberation Serif">Threshold</text><text transform="translate(326,784.3) rotate(90)" font-size="17.5" text-anchor="middle" font-family="Liberation Serif">Detector</text><text x="238.5" y="842.2" font-size="16.6" text-anchor="start" font-family="Liberation Serif" fill="#000">pre-setting</text><text x="216.6" y="857.7" font-size="16.6" text-anchor="start" font-family="Liberation Serif" fill="#000">voltage threshold</text><text x="88.0" y="848.7" font-size="16.6" text-anchor="start" font-family="Liberation Serif" fill="#000"># channels</text><path transform="translate(100,806) rotate(20)" d="M0,0 q-4,8 4,12 q6,4 2,10 q6,-6 12,-2 q6,4 10,-2" fill="none" stroke="#777" stroke-width="2.2"/><line x1="189" y1="824" x2="189" y2="883" stroke="#000" stroke-width="1.6"/><path d="M184.5,881 L189,891 L193.5,881 Z" fill="#000"/><text x="191.0" y="909.0" font-size="16.6" text-anchor="middle" font-family="Liberation Serif" fill="#000">detected spikes</text><rect x="408.4" y="698.3" width="167.1" height="70.0" rx="9" fill="#fff" stroke="#aaa" stroke-width="1"/><rect x="414.8" y="703.4" width="167.1" height="70.0" rx="9" fill="#fff" stroke="#aaa" stroke-width="1"/><rect x="421.2" y="708.5" width="167.1" height="70.0" rx="9" fill="#fff" stroke="#aaa" stroke-width="1"/><rect x="427.6" y="713.6" width="167.1" height="70.0" rx="9" fill="#fff" stroke="#aaa" stroke-width="1"/><polyline points="436.0,732 436.6,737 437.2,737 437.8,736 438.3,741 438.9,737 439.5,739 440.1,745 440.7,743 441.3,737 441.8,734 442.4,738 443.0,734 443.6,742 444.2,743 444.8,736 445.4,746 445.9,736 446.5,735 447.1,738 447.7,737 448.3,732 448.9,739 449.4,737 450.0,743 450.6,744 451.2,748 451.8,738 452.4,745 453.0,746 453.5,737 454.1,751 454.7,738 455.3,745 455.9,739 456.5,742 457.0,739 457.6,742 458.2,744 458.8,742 459.4,742 460.0,746 460.6,742 461.1,743 461.7,740 462.3,743 462.9,745 463.5,745 464.1,743 464.6,739 465.2,743 465.8,738 466.4,738 467.0,741 467.6,746 468.2,738 468.7,745 469.3,732 469.9,742 470.5,743 471.1,743 471.7,746 472.2,743 472.8,744 473.4,737 474.0,745 474.6,751 475.2,745 475.8,753 476.3,748 476.9,750 477.5,744 478.1,738 478.7,741 479.3,744 479.8,747 480.4,740 481.0,747 481.6,739 482.2,740 482.8,744 483.4,742 483.9,743 484.5,740 485.1,750 485.7,734 486.3,738 486.9,738 487.4,745 488.0,745 488.6,743 489.2,742 489.8,747 490.4,745 491.0,750 491.5,744 492.1,755 492.7,750 493.3,747 493.9,737 494.5,740 495.0,743 495.6,740 496.2,746 496.8,753 497.4,748 498.0,753 498.6,740 499.1,736 499.7,748 500.3,744 500.9,739 501.5,741 502.1,741 502.6,741 503.2,746 503.8,745 504.4,738 505.0,737 505.6,746 506.2,743 506.7,743 507.3,745 507.9,741 508.5,737 509.1,738 509.7,742 510.2,742 510.8,744 511.4,742 512.0,748 512.6,757 513.2,749 513.8,743 514.3,744 514.9,748 515.5,750 516.1,751 516.7,741 517.3,747 517.8,746 518.4,751 519.0,734 519.6,745 520.2,748 520.8,750 521.4,743 521.9,749 522.5,747 523.1,739 523.7,746 524.3,743 524.9,748 525.4,743 526.0,745 526.6,739 527.2,745 527.8,746 528.4,746 529.0,746 529.5,747 530.1,748 530.7,754 531.3,747 531.9,747 532.5,740 533.0,742 533.6,748 534.2,738 534.8,743 535.4,742 536.0,744 536.6,735 537.1,740 537.7,733 538.3,737 538.9,743 539.5,744 540.1,728 540.6,738 541.2,742 541.8,735 542.4,739 543.0,744 543.6,742 544.2,731 544.7,739 545.3,736 545.9,738 546.5,728 547.1,742 547.7,742 548.2,734 548.8,738 549.4,739 550.0,745 550.6,742 551.2,738 551.8,745 552.3,743 552.9,753 553.5,743 554.1,744 554.7,739 555.3,736 555.8,741 556.4,751 557.0,743 557.6,741 558.2,740 558.8,751 559.4,749 559.9,755 560.5,737 561.1,744 561.7,740 562.3,751 562.9,743 563.4,744 564.0,746 564.6,750 565.2,744 565.8,744 566.4,748 567.0,743 567.5,739 568.1,745 568.7,752 569.3,743 569.9,743 570.5,747 571.0,736 571.6,741 572.2,741 572.8,737 573.4,732 574.0,736 574.6,739 575.1,744 575.7,742 576.3,741 576.9,741 577.5,745 578.1,733 578.6,740 579.2,743 579.8,742 580.4,749 581.0,748 581.6,745 582.2,746 582.7,743 583.3,739 583.9,756 584.5,746 585.1,743 585.7,747 586.2,752 586.8,742 587.4,737 588.0,739" fill="none" stroke="#9a9a9a" stroke-width="1.5"/><line x1="445.0" y1="736.6" x2="445.0" y2="760.0" stroke="#9a9a9a" stroke-width="1" opacity="0.8"/><line x1="460.0" y1="736.6" x2="460.0" y2="760.0" stroke="#9a9a9a" stroke-width="1" opacity="0.8"/><line x1="478.0" y1="736.6" x2="478.0" y2="760.0" stroke="#9a9a9a" stroke-width="1" opacity="0.8"/><line x1="500.0" y1="736.6" x2="500.0" y2="760.0" stroke="#9a9a9a" stroke-width="1" opacity="0.8"/><line x1="520.0" y1="736.6" x2="520.0" y2="760.0" stroke="#9a9a9a" stroke-width="1" opacity="0.8"/><line x1="545.0" y1="736.6" x2="545.0" y2="760.0" stroke="#9a9a9a" stroke-width="1" opacity="0.8"/><line x1="560.0" y1="736.6" x2="560.0" y2="760.0" stroke="#9a9a9a" stroke-width="1" opacity="0.8"/><line x1="580.0" y1="736.6" x2="580.0" y2="760.0" stroke="#9a9a9a" stroke-width="1" opacity="0.8"/><text x="375.6" y="806.2" font-size="16.6" text-anchor="start" font-family="Liberation Serif" fill="#000"># channels</text><path transform="translate(403,766) rotate(20)" d="M0,0 q-4,8 4,12 q6,4 2,10 q6,-6 12,-2 q6,4 10,-2" fill="none" stroke="#777" stroke-width="2.2"/><line x1="511.7" y1="783.6" x2="511.7" y2="809.8" stroke="#000" stroke-width="1.6"/><path d="M507.2,807.8 L511.7,817.8 L516.2,807.8 Z" fill="#000"/><rect x="461.6" y="819.6" width="99.8" height="36.8" rx="10" fill="#f8cba8" stroke="#333" stroke-width="1.4"/><text x="511.5" y="843.5" font-size="18" text-anchor="middle" font-family="Liberation Serif" fill="#000">Detector</text><line x1="511.7" y1="856.4" x2="511.7" y2="883" stroke="#000" stroke-width="1.6"/><path d="M507.2,881 L511.7,891 L516.2,881 Z" fill="#000"/><text x="508.6" y="909.0" font-size="16.6" text-anchor="middle" font-family="Liberation Serif" fill="#000">detected spikes</text><rect x="748.2" y="640.8" width="573.8" height="294.1" rx="18" fill="#f5f5f5" stroke="#000" stroke-width="2" stroke-dasharray="7 5"/><line x1="1039.7" y1="641" x2="1039.7" y2="935" stroke="#000" stroke-width="2" stroke-dasharray="7 5"/><text x="763.7" y="675.8" font-size="26.5" text-anchor="start" font-family="Liberation Serif" fill="#000" font-weight="bold">Non-learning method</text><text x="1056.4" y="675.8" font-size="26.5" text-anchor="start" font-family="Liberation Serif" fill="#000" font-weight="bold">SimSort</text><rect x="794.1" y="700.9" width="168.0" height="69.3" rx="9" fill="#fff" stroke="#aaa" stroke-width="1"/><rect x="800.5" y="706.0" width="168.0" height="69.3" rx="9" fill="#fff" stroke="#aaa" stroke-width="1"/><rect x="806.9" y="711.1" width="168.0" height="69.3" rx="9" fill="#fff" stroke="#aaa" stroke-width="1"/><rect x="813.3" y="716.2" width="168.0" height="69.3" rx="9" fill="#fff" stroke="#aaa" stroke-width="1"/><polyline points="820.0,742.2 821.5,746.1 823.0,747.1 824.6,746.0 826.1,747.2 827.6,741.9 829.1,749.0 830.6,746.6 832.2,740.4 833.7,749.1 835.2,744.0 836.7,746.1 838.2,740.6 839.8,743.7 841.3,742.2 842.8,754.9 844.3,764.5 845.8,762.0 847.4,751.1 848.9,748.5 850.4,743.3 851.9,746.3 853.4,742.4 855.0,741.3 856.5,743.9 858.0,744.4 859.5,745.4 861.0,747.1 862.6,744.1 864.1,744.2 865.6,746.7 867.1,745.9 868.6,744.9 870.2,745.5 871.7,740.2 873.2,743.8 874.7,741.5 876.2,744.2 877.8,747.4 879.3,745.2 880.8,760.4 882.3,761.4 883.8,753.5 885.4,745.7 886.9,746.7 888.4,743.5 889.9,740.4 891.4,745.7 893.0,744.7 894.5,746.4 896.0,746.3 897.5,742.3 899.0,745.5 900.6,745.3 902.1,744.8 903.6,745.2 905.1,745.7 906.6,743.8 908.2,744.7 909.7,747.2 911.2,742.7 912.7,744.8 914.2,742.8 915.8,742.8 917.3,745.8 918.8,756.4 920.3,775.6 921.8,770.5 923.4,756.5 924.9,747.5 926.4,745.2 927.9,738.2 929.4,745.3 931.0,745.1 932.5,742.7 934.0,745.3 935.5,748.2 937.0,742.5 938.6,743.9 940.1,747.0 941.6,741.0 943.1,742.7 944.6,745.7 946.2,747.1 947.7,747.7 949.2,746.7 950.7,750.1 952.2,745.9 953.8,742.6 955.3,748.5 956.8,759.7 958.3,763.4 959.8,749.7 961.4,747.6 962.9,743.4 964.4,744.6 965.9,748.2 967.4,744.6 969.0,743.5 970.5,744.7 972.0,743.6" fill="none" stroke="#808080" stroke-width="1.6"/><text x="754.0" y="808.8" font-size="16.6" text-anchor="start" font-family="Liberation Serif" fill="#000"># waveforms</text><path transform="translate(787,768) rotate(20)" d="M0,0 q-4,8 4,12 q6,4 2,10 q6,-6 12,-2 q6,4 10,-2" fill="none" stroke="#777" stroke-width="2.2"/><path d="M819,749 Q860,790 880,842 L860,842 L896,880 L932,842 L914,842 Q930,790 975,749" fill="none" stroke="#cfe0f5" stroke-width="1.4"/><line x1="891.8" y1="785.6" x2="891.8" y2="811" stroke="#000" stroke-width="1.6"/><path d="M887.3,809 L891.8,819 L896.3,809 Z" fill="#000"/><line x1="793.3" y1="911.2" x2="793.3" y2="830" stroke="#000" stroke-width="1.8"/><path d="M788.5,832 L793.3,823 L798.1,832 Z" fill="#000"/><line x1="793.3" y1="911.2" x2="962" y2="911.2" stroke="#000" stroke-width="1.8"/><path d="M960,906.4 L968.5,911.2 L960,916 Z" fill="#000"/><text x="759.3" y="847.4" font-size="16.6" text-anchor="start" font-family="Liberation Serif" fill="#000">PC 1</text><text x="918.8" y="927.1" font-size="16.6" text-anchor="start" font-family="Liberation Serif" fill="#000">PC 2</text><path d="M800,860 Q800,835 822,833 Q845,835 848,852 Q845,872 822,885 Q800,890 800,860 Z" fill="none" stroke="#000" stroke-width="1" stroke-dasharray="2.5 2"/><path d="M924,858 Q935,852 953,854 Q956,875 950,890 Q935,892 924,880 Q922,865 924,858 Z" fill="none" stroke="#000" stroke-width="1" stroke-dasharray="2.5 2"/><circle cx="808.9" cy="846.9" r="4.3" fill="#f5a623" stroke="#000" stroke-width="1.1"/><circle cx="819.0" cy="842.2" r="4.3" fill="#f5a623" stroke="#000" stroke-width="1.1"/><circle cx="819.0" cy="846.9" r="4.3" fill="#f5a623" stroke="#000" stroke-width="1.1"/><circle cx="839.0" cy="851.8" r="4.3" fill="#f5a623" stroke="#000" stroke-width="1.1"/><circle cx="804.3" cy="862.1" r="4.3" fill="#f5a623" stroke="#000" stroke-width="1.1"/><circle cx="815.4" cy="860.3" r="4.3" fill="#f5a623" stroke="#000" stroke-width="1.1"/><circle cx="830.6" cy="860.3" r="4.3" fill="#f5a623" stroke="#000" stroke-width="1.1"/><circle cx="822.3" cy="870.5" r="4.3" fill="#f5a623" stroke="#000" stroke-width="1.1"/><circle cx="842.4" cy="888.6" r="4.3" fill="#f5a623" stroke="#000" stroke-width="1.1"/><circle cx="857.1" cy="885.5" r="4.3" fill="#f5a623" stroke="#000" stroke-width="1.1"/><circle cx="869.4" cy="878.8" r="4.3" fill="#f5a623" stroke="#000" stroke-width="1.1"/><circle cx="880.7" cy="886.8" r="4.3" fill="#f5a623" stroke="#000" stroke-width="1.1"/><circle cx="897.4" cy="888.6" r="4.3" fill="#f5a623" stroke="#000" stroke-width="1.1"/><circle cx="854.0" cy="897.0" r="4.3" fill="#f5a623" stroke="#000" stroke-width="1.1"/><circle cx="869.1" cy="893.7" r="4.3" fill="#f5a623" stroke="#000" stroke-width="1.1"/><circle cx="804.3" cy="901.9" r="4.3" fill="#f5a623" stroke="#000" stroke-width="1.1"/><circle cx="833.9" cy="901.9" r="4.3" fill="#f5a623" stroke="#000" stroke-width="1.1"/><circle cx="891.0" cy="903.5" r="4.3" fill="#f5a623" stroke="#000" stroke-width="1.1"/><circle cx="915.7" cy="901.9" r="4.3" fill="#f5a623" stroke="#000" stroke-width="1.1"/><circle cx="947.1" cy="863.6" r="4.3" fill="#f5a623" stroke="#000" stroke-width="1.1"/><circle cx="934.2" cy="870.5" r="4.3" fill="#f5a623" stroke="#000" stroke-width="1.1"/><circle cx="940.7" cy="871.8" r="4.3" fill="#f5a623" stroke="#000" stroke-width="1.1"/><circle cx="932.4" cy="880.1" r="4.3" fill="#f5a623" stroke="#000" stroke-width="1.1"/><circle cx="944.0" cy="880.1" r="4.3" fill="#f5a623" stroke="#000" stroke-width="1.1"/><text x="972.8" y="852.5" font-size="16.6" text-anchor="start" font-family="Liberation Serif" fill="#000">putative</text><text x="972.8" y="868.0" font-size="16.6" text-anchor="start" font-family="Liberation Serif" fill="#000">neurons</text><rect x="1061.5" y="700.3" width="70.0" height="49.4" rx="8" fill="#fff" stroke="#aaa" stroke-width="1"/><rect x="1066.5" y="704.3" width="70.0" height="49.4" rx="8" fill="#fff" stroke="#aaa" stroke-width="1"/><rect x="1071.5" y="708.3" width="70.0" height="49.4" rx="8" fill="#fff" stroke="#aaa" stroke-width="1"/><rect x="1076.5" y="712.3" width="70.0" height="49.4" rx="8" fill="#fff" stroke="#aaa" stroke-width="1"/><rect x="1155.2" y="701.6" width="70.2" height="48.8" rx="8" fill="#fff" stroke="#aaa" stroke-width="1"/><rect x="1160.2" y="705.6" width="70.2" height="48.8" rx="8" fill="#fff" stroke="#aaa" stroke-width="1"/><rect x="1165.2" y="709.6" width="70.2" height="48.8" rx="8" fill="#fff" stroke="#aaa" stroke-width="1"/><rect x="1170.2" y="713.6" width="70.2" height="48.8" rx="8" fill="#fff" stroke="#aaa" stroke-width="1"/><polyline points="1084.0,735.1 1085.1,732.1 1086.2,732.3 1087.3,728.3 1088.4,728.4 1089.5,730.6 1090.6,724.6 1091.7,732.6 1092.8,726.8 1093.9,730.3 1095.0,730.8 1096.1,728.0 1097.2,730.9 1098.3,731.7 1099.4,734.8 1100.5,731.0 1101.6,734.5 1102.7,731.2 1103.8,729.5 1104.9,732.2 1106.0,728.9 1107.1,732.0 1108.2,739.7 1109.3,751.8 1110.4,751.6 1111.5,737.3 1112.6,736.0 1113.7,730.7 1114.8,729.3 1115.9,728.0 1117.0,731.4 1118.1,730.8 1119.2,731.7 1120.3,729.7 1121.4,733.8 1122.5,729.3 1123.6,731.0 1124.7,730.5 1125.8,732.7 1126.9,728.3 1128.0,729.3 1129.1,729.5 1130.2,728.3 1131.3,728.4 1132.4,727.0 1133.5,731.9 1134.6,733.7 1135.7,727.5 1136.8,731.9 1137.9,727.1 1139.0,728.0" fill="none" stroke="#808080" stroke-width="1.6"/><polyline points="1180.0,729.8 1181.1,730.1 1182.2,730.3 1183.3,728.8 1184.4,729.2 1185.5,730.0 1186.6,729.9 1187.7,731.3 1188.8,729.8 1189.9,729.6 1191.0,730.7 1192.1,728.4 1193.2,728.9 1194.3,731.6 1195.4,729.7 1196.5,730.5 1197.6,733.3 1198.7,741.3 1199.8,749.5 1200.9,744.4 1202.0,735.5 1203.1,729.7 1204.2,727.2 1205.3,724.4 1206.4,722.0 1207.5,721.8 1208.6,721.5 1209.7,723.6 1210.8,724.1 1211.9,726.4 1213.0,728.4 1214.1,729.5 1215.2,729.7 1216.3,729.1 1217.4,729.6 1218.5,731.2 1219.6,730.6 1220.7,729.5 1221.8,731.1 1222.9,729.9 1224.0,730.0 1225.1,729.5 1226.2,730.9 1227.3,730.1 1228.4,729.9 1229.5,729.4 1230.6,729.2 1231.7,730.1 1232.8,730.0 1233.9,730.9 1235.0,729.5" fill="none" stroke="#808080" stroke-width="1.6"/><circle cx="1252.0" cy="734.2" r="2.6" fill="#000"/><circle cx="1264.7" cy="734.2" r="2.6" fill="#000"/><circle cx="1277.4" cy="734.2" r="2.6" fill="#000"/><circle cx="1290.1" cy="734.2" r="2.6" fill="#000"/><circle cx="1302.8" cy="734.2" r="2.6" fill="#000"/><circle cx="1315.5" cy="734.2" r="2.6" fill="#000"/><text x="1046.7" y="785.6" font-size="16.6" text-anchor="start" font-family="Liberation Serif" fill="#000"># channels</text><path transform="translate(1056,748) rotate(20)" d="M0,0 q-4,8 4,12 q6,4 2,10 q6,-6 12,-2 q6,4 10,-2" fill="none" stroke="#777" stroke-width="2.2"/><circle cx="1177.4" cy="845.6" r="77" fill="none" stroke="#999" stroke-width="2"/><path d="M1177,769 Q1165,845 1178,922" fill="none" stroke="#999" stroke-width="2"/><path d="M1102,828 Q1177,770 1252,820" fill="none" stroke="#999" stroke-width="2"/><path d="M1120,900 Q1130,800 1220,780" fill="none" stroke="#999" stroke-width="2"/><path d="M1230,790 Q1260,860 1245,890" fill="none" stroke="#999" stroke-width="2"/><path d="M1110,815 Q1150,900 1240,915" fill="none" stroke="#bbb" stroke-width="1" stroke-dasharray="4 3"/><path d="M1150,822 Q1150,808 1175,808 Q1198,812 1196,830 Q1185,855 1170,852 Q1150,850 1150,822Z" fill="none" stroke="#000" stroke-width="1" stroke-dasharray="2.5 2"/><path d="M1126,865 Q1140,855 1155,862 Q1158,890 1150,900 Q1130,902 1126,890Z" fill="none" stroke="#000" stroke-width="1" stroke-dasharray="2.5 2"/><path d="M1196,870 Q1215,862 1222,870 Q1222,890 1215,892 Q1198,885 1196,870Z" fill="none" stroke="#000" stroke-width="1" stroke-dasharray="2.5 2"/><circle cx="1179.2" cy="817.0" r="3.9" fill="#f9c9a8" stroke="#444" stroke-width="0.8"/><circle cx="1160.6" cy="827.3" r="3.9" fill="#f9c9a8" stroke="#444" stroke-width="0.8"/><circle cx="1175.3" cy="828.6" r="3.9" fill="#f9c9a8" stroke="#444" stroke-width="0.8"/><circle cx="1185.6" cy="832.0" r="3.9" fill="#f9c9a8" stroke="#444" stroke-width="0.8"/><circle cx="1159.3" cy="840.4" r="3.9" fill="#f9c9a8" stroke="#444" stroke-width="0.8"/><circle cx="1172.2" cy="840.4" r="3.9" fill="#f9c9a8" stroke="#444" stroke-width="0.8"/><circle cx="1140.6" cy="873.6" r="3.9" fill="#f9c9a8" stroke="#444" stroke-width="0.8"/><circle cx="1149.1" cy="883.9" r="3.9" fill="#f9c9a8" stroke="#444" stroke-width="0.8"/><circle cx="1135.7" cy="888.6" r="3.9" fill="#f9c9a8" stroke="#444" stroke-width="0.8"/><circle cx="1143.9" cy="893.7" r="3.9" fill="#f9c9a8" stroke="#444" stroke-width="0.8"/><circle cx="1212.1" cy="865.4" r="3.9" fill="#f9c9a8" stroke="#444" stroke-width="0.8"/><circle cx="1204.4" cy="870.5" r="3.9" fill="#f9c9a8" stroke="#444" stroke-width="0.8"/><circle cx="1212.1" cy="877.5" r="3.9" fill="#f9c9a8" stroke="#444" stroke-width="0.8"/><circle cx="1214.7" cy="885.5" r="3.9" fill="#f9c9a8" stroke="#444" stroke-width="0.8"/><path d="M1153,860 Q1120,845 1150,838" fill="none" stroke="#f05a28" stroke-width="2"/><path d="M1185,850 Q1195,855 1193,840" fill="none" stroke="#f05a28" stroke-width="2"/><path d="M1055,780 Q1090,800 1108,840 L1096,842 L1130,868" fill="none" stroke="#cfe0f5" stroke-width="1.2"/><text x="1261.0" y="844.8" font-size="16.6" text-anchor="start" font-family="Liberation Serif" fill="#000">putative</text><text x="1261.0" y="859.7" font-size="16.6" text-anchor="start" font-family="Liberation Serif" fill="#000">neurons</text><text x="1194.9" y="928.4" font-size="16.6" text-anchor="start" font-family="Liberation Serif" fill="#000">embedding space</text><rect x="22.6" y="961" width="253.1" height="145.7" rx="16" fill="#f5f5f5" stroke="#000" stroke-width="2" stroke-dasharray="7 5"/><text x="146.6" y="989.6" font-size="26.5" text-anchor="middle" font-family="Liberation Serif" fill="#000" font-weight="bold">Input Signals</text><polyline points="43.0,1016.0 44.5,1018.2 46.0,1017.9 47.5,1015.5 49.0,1018.9 50.5,1017.3 52.0,1018.0 53.5,1017.1 55.0,1018.1 56.5,1015.9 58.0,1016.2 59.5,1018.3 61.0,1017.2 62.5,1017.2 64.0,1018.4 65.5,1017.0 67.0,1017.2 68.5,1013.1 70.0,1015.8 71.5,1017.9 73.0,1015.2 74.5,1016.1 76.0,1017.0 77.5,1016.4 79.0,1018.0 80.5,1017.3 82.0,1016.1 83.5,1022.3 85.0,1029.4 86.5,1015.8 88.0,1010.7 89.5,1010.7 91.0,1010.9 92.5,1011.6 94.0,1014.3 95.5,1016.5 97.0,1017.6 98.5,1019.4 100.0,1016.3 101.5,1016.2 103.0,1013.2 104.5,1018.6 106.0,1018.0 107.5,1016.6 109.0,1015.5 110.5,1012.4 112.0,1017.8 113.5,1015.3 115.0,1019.0 116.5,1017.8 118.0,1018.6 119.5,1016.4 121.0,1018.5 122.5,1014.4 124.0,1018.9 125.5,1016.5 127.0,1014.7 128.5,1015.9 130.0,1015.0 131.5,1016.9 133.0,1015.4 134.5,1021.7 136.0,1039.4 137.5,1019.7 139.0,1010.6 140.5,1010.8 142.0,1013.2 143.5,1014.0 145.0,1017.7 146.5,1012.1 148.0,1016.3 149.5,1018.1 151.0,1014.5 152.5,1016.3 154.0,1016.9 155.5,1014.1 157.0,1015.7 158.5,1017.5 160.0,1016.1 161.5,1019.0 163.0,1020.4 164.5,1016.5 166.0,1014.8 167.5,1016.5 169.0,1015.7 170.5,1014.3 172.0,1016.0 173.5,1015.8 175.0,1016.0 176.5,1018.1 178.0,1018.3 179.5,1017.3 181.0,1016.0 182.5,1017.3 184.0,1016.6 185.5,1016.9 187.0,1015.0 188.5,1011.7 190.0,1018.0 191.5,1015.6 193.0,1015.8 194.5,1016.6 196.0,1016.5 197.5,1016.1 199.0,1019.0 200.5,1016.8 202.0,1017.0 203.5,1015.2 205.0,1016.4 206.5,1017.3 208.0,1016.5 209.5,1017.1 211.0,1015.1 212.5,1017.2 214.0,1015.0 215.5,1015.9 217.0,1015.4 218.5,1016.9 220.0,1018.3 221.5,1017.1 223.0,1015.2 224.5,1016.8 226.0,1018.2 227.5,1017.7 229.0,1017.4 230.5,1014.8 232.0,1015.7 233.5,1015.4 235.0,1015.7 236.5,1021.6 238.0,1032.1 239.5,1017.0 241.0,1011.1 242.5,1008.6 244.0,1010.6 245.5,1013.5 247.0,1013.0 248.5,1014.7 250.0,1014.2 251.5,1014.9 253.0,1016.4" fill="none" stroke="#3f4fc0" stroke-width="1.6"/><polyline points="43.0,1034.4 44.5,1035.1 46.0,1035.1 47.5,1032.8 49.0,1037.6 50.5,1036.7 52.0,1032.7 53.5,1033.5 55.0,1033.8 56.5,1034.9 58.0,1035.6 59.5,1034.6 61.0,1030.5 62.5,1039.2 64.0,1036.0 65.5,1035.9 67.0,1033.4 68.5,1034.8 70.0,1036.1 71.5,1033.8 73.0,1036.4 74.5,1034.7 76.0,1037.1 77.5,1034.7 79.0,1037.0 80.5,1032.0 82.0,1036.7 83.5,1039.3 85.0,1047.4 86.5,1036.6 88.0,1027.8 89.5,1029.0 91.0,1030.7 92.5,1033.0 94.0,1036.6 95.5,1036.3 97.0,1038.4 98.5,1035.7 100.0,1034.8 101.5,1035.2 103.0,1034.5 104.5,1032.6 106.0,1034.8 107.5,1032.7 109.0,1034.1 110.5,1034.1 112.0,1033.7 113.5,1032.9 115.0,1034.8 116.5,1034.6 118.0,1036.8 119.5,1035.6 121.0,1036.1 122.5,1033.9 124.0,1034.1 125.5,1032.6 127.0,1033.2 128.5,1035.7 130.0,1034.3 131.5,1034.3 133.0,1033.6 134.5,1044.3 136.0,1057.9 137.5,1039.9 139.0,1028.2 140.5,1029.2 142.0,1027.6 143.5,1029.2 145.0,1034.9 146.5,1033.6 148.0,1034.9 149.5,1036.0 151.0,1035.7 152.5,1035.0 154.0,1032.7 155.5,1033.5 157.0,1034.7 158.5,1035.6 160.0,1035.4 161.5,1035.2 163.0,1033.4 164.5,1034.6 166.0,1036.1 167.5,1033.2 169.0,1033.7 170.5,1036.0 172.0,1037.1 173.5,1035.2 175.0,1034.6 176.5,1033.1 178.0,1034.4 179.5,1033.3 181.0,1034.8 182.5,1035.7 184.0,1035.3 185.5,1036.7 187.0,1033.0 188.5,1032.6 190.0,1036.8 191.5,1036.3 193.0,1033.1 194.5,1034.8 196.0,1032.9 197.5,1034.6 199.0,1035.1 200.5,1036.1 202.0,1033.1 203.5,1032.6 205.0,1035.5 206.5,1034.1 208.0,1036.8 209.5,1032.8 211.0,1033.6 212.5,1030.3 214.0,1036.4 215.5,1036.7 217.0,1035.3 218.5,1034.1 220.0,1031.4 221.5,1032.4 223.0,1033.8 224.5,1037.6 226.0,1036.0 227.5,1033.7 229.0,1035.3 230.5,1035.5 232.0,1035.4 233.5,1033.1 235.0,1033.8 236.5,1040.8 238.0,1051.1 239.5,1035.0 241.0,1032.1 242.5,1028.2 244.0,1028.5 245.5,1032.8 247.0,1034.4 248.5,1033.9 250.0,1037.3 251.5,1036.3 253.0,1034.6" fill="none" stroke="#9bb4f0" stroke-width="1.6"/><polyline points="43.0,1050.7 44.5,1050.7 46.0,1049.2 47.5,1050.8 49.0,1048.8 50.5,1049.2 52.0,1050.7 53.5,1047.6 55.0,1049.1 56.5,1048.1 58.0,1050.7 59.5,1048.7 61.0,1052.5 62.5,1052.0 64.0,1048.5 65.5,1049.9 67.0,1049.0 68.5,1049.6 70.0,1050.7 71.5,1052.0 73.0,1053.1 74.5,1052.5 76.0,1047.6 77.5,1048.9 79.0,1049.3 80.5,1049.0 82.0,1049.7 83.5,1054.7 85.0,1062.3 86.5,1049.0 88.0,1046.9 89.5,1043.8 91.0,1047.6 92.5,1045.5 94.0,1050.3 95.5,1051.8 97.0,1051.6 98.5,1048.4 100.0,1050.5 101.5,1048.4 103.0,1047.8 104.5,1049.6 106.0,1050.4 107.5,1049.3 109.0,1049.4 110.5,1050.6 112.0,1048.5 113.5,1050.3 115.0,1050.8 116.5,1050.7 118.0,1050.5 119.5,1048.0 121.0,1049.2 122.5,1048.9 124.0,1050.7 125.5,1046.8 127.0,1049.8 128.5,1047.1 130.0,1050.6 131.5,1048.7 133.0,1049.6 134.5,1058.3 136.0,1075.7 137.5,1051.6 139.0,1043.5 140.5,1039.6 142.0,1043.8 143.5,1045.3 145.0,1049.2 146.5,1048.9 148.0,1049.6 149.5,1047.8 151.0,1049.1 152.5,1047.8 154.0,1049.6 155.5,1047.1 157.0,1050.0 158.5,1051.4 160.0,1053.8 161.5,1052.0 163.0,1051.7 164.5,1050.9 166.0,1052.1 167.5,1049.6 169.0,1050.2 170.5,1046.6 172.0,1048.8 173.5,1051.4 175.0,1046.9 176.5,1050.1 178.0,1049.5 179.5,1049.0 181.0,1050.1 182.5,1049.7 184.0,1047.8 185.5,1049.5 187.0,1046.8 188.5,1052.0 190.0,1049.6 191.5,1051.0 193.0,1048.2 194.5,1052.5 196.0,1051.2 197.5,1050.2 199.0,1050.0 200.5,1050.2 202.0,1048.5 203.5,1049.4 205.0,1049.3 206.5,1050.2 208.0,1052.1 209.5,1051.5 211.0,1050.0 212.5,1050.6 214.0,1049.2 215.5,1048.9 217.0,1047.1 218.5,1047.6 220.0,1047.7 221.5,1049.5 223.0,1049.3 224.5,1050.3 226.0,1051.5 227.5,1050.7 229.0,1049.4 230.5,1048.9 232.0,1049.2 233.5,1050.5 235.0,1048.0 236.5,1051.9 238.0,1064.7 239.5,1052.3 241.0,1045.2 242.5,1043.7 244.0,1041.1 245.5,1046.1 247.0,1049.3 248.5,1050.8 250.0,1052.4 251.5,1048.1 253.0,1050.2" fill="none" stroke="#f0a888" stroke-width="1.6"/><polyline points="43.0,1065.7 44.5,1067.9 46.0,1067.6 47.5,1069.5 49.0,1068.5 50.5,1065.4 52.0,1068.0 53.5,1068.8 55.0,1070.5 56.5,1067.1 58.0,1066.8 59.5,1067.3 61.0,1069.8 62.5,1067.8 64.0,1068.4 65.5,1068.9 67.0,1066.9 68.5,1069.9 70.0,1065.6 71.5,1071.1 73.0,1067.2 74.5,1066.8 76.0,1067.0 77.5,1066.4 79.0,1066.8 80.5,1066.9 82.0,1066.2 83.5,1072.0 85.0,1082.1 86.5,1067.6 88.0,1062.1 89.5,1060.0 91.0,1063.1 92.5,1064.4 94.0,1065.0 95.5,1067.9 97.0,1067.8 98.5,1067.1 100.0,1068.1 101.5,1069.1 103.0,1066.3 104.5,1067.4 106.0,1069.2 107.5,1068.2 109.0,1069.5 110.5,1072.0 112.0,1066.2 113.5,1068.8 115.0,1067.6 116.5,1070.5 118.0,1069.1 119.5,1066.0 121.0,1069.9 122.5,1068.2 124.0,1067.7 125.5,1068.2 127.0,1068.5 128.5,1066.8 130.0,1067.6 131.5,1070.3 133.0,1066.5 134.5,1074.4 136.0,1092.9 137.5,1070.2 139.0,1061.6 140.5,1061.8 142.0,1061.3 143.5,1064.4 145.0,1065.3 146.5,1067.4 148.0,1068.5 149.5,1068.2 151.0,1068.6 152.5,1068.8 154.0,1069.5 155.5,1066.5 157.0,1068.4 158.5,1070.7 160.0,1067.8 161.5,1067.8 163.0,1068.2 164.5,1067.0 166.0,1069.1 167.5,1068.2 169.0,1067.9 170.5,1069.4 172.0,1070.1 173.5,1065.9 175.0,1067.4 176.5,1067.8 178.0,1066.0 179.5,1069.3 181.0,1071.6 182.5,1069.5 184.0,1070.2 185.5,1065.1 187.0,1067.5 188.5,1066.1 190.0,1069.4 191.5,1068.0 193.0,1067.9 194.5,1069.0 196.0,1069.4 197.5,1070.8 199.0,1070.4 200.5,1069.7 202.0,1065.6 203.5,1070.2 205.0,1068.3 206.5,1065.8 208.0,1068.5 209.5,1067.8 211.0,1068.1 212.5,1069.7 214.0,1066.0 215.5,1069.2 217.0,1070.1 218.5,1066.4 220.0,1070.4 221.5,1067.1 223.0,1067.0 224.5,1069.7 226.0,1068.2 227.5,1065.3 229.0,1067.2 230.5,1069.3 232.0,1067.3 233.5,1067.4 235.0,1068.1 236.5,1072.8 238.0,1082.5 239.5,1067.7 241.0,1062.5 242.5,1063.3 244.0,1058.7 245.5,1065.6 247.0,1068.3 248.5,1066.3 250.0,1070.4 251.5,1065.8 253.0,1069.7" fill="none" stroke="#b0102a" stroke-width="1.6"/><path d="M281.7,1026.5 L302.2,1026.5 L302.2,1018.5 L316.2,1032.5 L302.2,1046.5 L302.2,1038.5 L281.7,1038.5 Z" fill="#c8c8c8"/><rect x="318.6" y="1000" width="201.8" height="69" rx="14" fill="#d9d0e6" stroke="#000" stroke-width="2"/><text x="419.5" y="1042.0" font-size="26.5" text-anchor="middle" font-family="Liberation Serif" fill="#000" font-weight="bold">Spike Detection</text><path d="M527,1029.5 L548.4,1029.5 L548.4,1021.5 L562.4,1035.5 L548.4,1049.5 L548.4,1041.5 L527,1041.5 Z" fill="#c8c8c8"/><rect x="567.8" y="963.4" width="252.0" height="143.6" rx="16" fill="#f5f5f5" stroke="#000" stroke-width="2" stroke-dasharray="7 5"/><text x="692.5" y="998.6" font-size="26.5" text-anchor="middle" font-family="Liberation Serif" fill="#000" font-weight="bold">Detected Spikes</text><line x1="578.3" y1="1057" x2="808" y2="1057" stroke="#000" stroke-width="1.8"/><line x1="578.3" y1="1036.5" x2="578.3" y2="1057" stroke="#000" stroke-width="1.5"/><line x1="594" y1="1036.5" x2="594" y2="1057" stroke="#000" stroke-width="1.5"/><line x1="600.8" y1="1036.5" x2="600.8" y2="1057" stroke="#000" stroke-width="1.5"/><line x1="613.4" y1="1036.5" x2="613.4" y2="1057" stroke="#000" stroke-width="1.5"/><line x1="625.4" y1="1036.5" x2="625.4" y2="1057" stroke="#000" stroke-width="1.5"/><line x1="648" y1="1036.5" x2="648" y2="1057" stroke="#000" stroke-width="1.5"/><line x1="659.4" y1="1036.5" x2="659.4" y2="1057" stroke="#000" stroke-width="1.5"/><line x1="670.5" y1="1036.5" x2="670.5" y2="1057" stroke="#000" stroke-width="1.5"/><line x1="706" y1="1036.5" x2="706" y2="1057" stroke="#000" stroke-width="1.5"/><line x1="729.3" y1="1036.5" x2="729.3" y2="1057" stroke="#000" stroke-width="1.5"/><line x1="764.8" y1="1036.5" x2="764.8" y2="1057" stroke="#000" stroke-width="1.5"/><line x1="808" y1="1036.5" x2="808" y2="1057" stroke="#000" stroke-width="1.5"/><path d="M823.5,1033 L845,1033 L845,1025 L859,1039 L845,1053 L845,1045 L823.5,1045 Z" fill="#c8c8c8"/><rect x="865.2" y="1000.4" width="240.8" height="68.6" rx="14" fill="#d5e8d4" stroke="#000" stroke-width="2"/><text x="986.5" y="1041.0" font-size="26.5" text-anchor="middle" font-family="Liberation Serif" fill="#000" font-weight="bold">Spike Identification</text><path d="M1110.6,1033 L1132,1033 L1132,1025 L1146,1039 L1132,1053 L1132,1045 L1110.6,1045 Z" fill="#c8c8c8"/><rect x="1151.4" y="962.7" width="253.0" height="144.2" rx="16" fill="#f5f5f5" stroke="#000" stroke-width="2" stroke-dasharray="7 5"/><text x="1277.3" y="992.7" font-size="26.5" text-anchor="middle" font-family="Liberation Serif" fill="#000" font-weight="bold">Identified Neurons</text><line x1="1163" y1="1056" x2="1393" y2="1056" stroke="#000" stroke-width="1.8"/><line x1="1163.1" y1="1034.4" x2="1163.1" y2="1056" stroke="#e8453c" stroke-width="1.6"/><line x1="1178.5" y1="1034.4" x2="1178.5" y2="1056" stroke="#f4b6b6" stroke-width="1.6"/><line x1="1185.6" y1="1034.4" x2="1185.6" y2="1056" stroke="#5b4aa0" stroke-width="1.6"/><line x1="1198.6" y1="1034.4" x2="1198.6" y2="1056" stroke="#6aa84f" stroke-width="1.6"/><line x1="1210" y1="1034.4" x2="1210" y2="1056" stroke="#5b4aa0" stroke-width="1.6"/><line x1="1232.6" y1="1034.4" x2="1232.6" y2="1056" stroke="#e8453c" stroke-width="1.6"/><line x1="1244" y1="1034.4" x2="1244" y2="1056" stroke="#17b8e0" stroke-width="1.6"/><line x1="1255.7" y1="1034.4" x2="1255.7" y2="1056" stroke="#f4b6b6" stroke-width="1.6"/><line x1="1290.6" y1="1034.4" x2="1290.6" y2="1056" stroke="#6aa84f" stroke-width="1.6"/><line x1="1313.8" y1="1034.4" x2="1313.8" y2="1056" stroke="#e8453c" stroke-width="1.6"/><line x1="1349" y1="1034.4" x2="1349" y2="1056" stroke="#17b8e0" stroke-width="1.6"/><line x1="1393" y1="1034.4" x2="1393" y2="1056" stroke="#5b4aa0" stroke-width="1.6"/><circle cx="385.3" cy="937" r="40.5" fill="none" stroke="#808080" stroke-width="3.5"/><g transform="translate(358.2,970) rotate(133.8)"><line x1="0" y1="0" x2="15.0" y2="0" stroke="#808080" stroke-width="3"/><rect x="15.0" y="-5.5" width="34.9" height="11" rx="5" fill="none" stroke="#808080" stroke-width="3"/><line x1="22.4" y1="-5.5" x2="22.4" y2="5.5" stroke="#808080" stroke-width="2.5"/></g><path d="M375,966 Q395,970 408,955" fill="none" stroke="#808080" stroke-width="3.5"/><circle cx="1039.6" cy="937" r="40" fill="none" stroke="#808080" stroke-width="3.5"/><g transform="translate(1053.5,983.4) rotate(67.8)"><line x1="0" y1="0" x2="13.5" y2="0" stroke="#808080" stroke-width="3"/><rect x="13.5" y="-5.5" width="31.5" height="11" rx="5" fill="none" stroke="#808080" stroke-width="3"/><line x1="20.2" y1="-5.5" x2="20.2" y2="5.5" stroke="#808080" stroke-width="2.5"/></g><path d="M1065,922 Q1072,940 1057,957" fill="none" stroke="#808080" stroke-width="3.5"/></svg><!-- fig_methods.html --><svg class="sv" style="left:0;top:0" width="1428" height="2880" viewBox="0 0 1428 2880" font-family="Liberation Serif"><rect x="30.2" y="2025.3" width="309.6" height="198.3" rx="18" fill="#f5f5f5" stroke="#000" stroke-width="2" stroke-dasharray="7 5"/><rect x="102.3" y="2045.7" width="15" height="39.3" fill="#a0a0a0"/><rect x="102.3" y="2096" width="30.3" height="39.3" fill="#a0a0a0"/><rect x="102.3" y="2147.8" width="224.5" height="38.5" fill="#c0a0d8"/><line x1="101.3" y1="2037" x2="101.3" y2="2198" stroke="#000" stroke-width="1.8"/><g transform="translate(101.3,2198.0) rotate(0.0)"><line x1="0" y1="0" x2="229.6" y2="0" stroke="#000" stroke-width="1.8"/><path d="M227.6,-4 L237.6,0 L227.6,4 Z" fill="#000"/></g><text x="97.5" y="2072.2" font-size="19.3" text-anchor="end" font-family="Liberation Serif" fill="#000">YASS</text><text x="97.5" y="2121.6" font-size="19.3" text-anchor="end" font-family="Liberation Serif" fill="#000">CEED</text><text x="97.5" y="2169.4" font-size="19.3" text-anchor="end" font-family="Liberation Serif" fill="#000">SimSort</text><text x="184.2" y="2061.0" font-size="19.3" text-anchor="middle" font-family="Liberation Serif" fill="#000">1 trial,</text><text x="185.8" y="2084.0" font-size="19.3" text-anchor="middle" font-family="Liberation Serif" fill="#000">unkown neurons</text><text x="184.2" y="2110.4" font-size="19.3" text-anchor="middle" font-family="Liberation Serif" fill="#000">2 trials,</text><text x="185.8" y="2132.8" font-size="19.3" text-anchor="middle" font-family="Liberation Serif" fill="#000">400 neurons</text><text x="215.2" y="2164.7" font-size="19.3" text-anchor="middle" font-family="Liberation Serif" fill="#000">8192 trials,</text><text x="217.7" y="2181.6" font-size="19.3" text-anchor="middle" font-family="Liberation Serif" fill="#000">over 40,000 neurons</text><text x="211.3" y="2214.0" font-size="19.3" text-anchor="middle" font-family="Liberation Serif" fill="#000">Train dataset size</text><path d="M95.6,2255.5 L95.6,2482 Q95.6,2496.3 110,2496.3 L319,2496.3 Q333.1,2496.3 333.1,2482 L333.1,2255.5" fill="#f5f5f5" stroke="#000" stroke-width="2"/><clipPath id="nbox"><rect x="97" y="2236" width="235" height="259"/></clipPath><g clip-path="url(#nbox)"><g transform="translate(224.0,2282.6) rotate(32) scale(1.0)" fill="none" stroke="#111" stroke-width="2.6" stroke-linecap="round" stroke-linejoin="round"><circle r="4.5"/><path d="M15.0,0.4Q3.7,3.3 2.0,14.9Q-1.9,4.6 -12.0,9.0Q-5.0,0.0 -12.1,-8.9Q-1.4,-4.8 5.2,-14.1Q4.1,-2.8 15.0,0.4"/><path d="M15.0,0.4 Q29.2,2.0 43.2,1.1"/><line x1="43.2" y1="1.1" x2="50.8" y2="-3.8"/><line x1="43.2" y1="1.1" x2="50.5" y2="6.3"/><line x1="32.0" y1="0.8" x2="36.8" y2="5.9"/><path d="M2.0,14.9 Q0.4,30.5 6.9,50.0"/><line x1="6.9" y1="50.0" x2="12.9" y2="56.7"/><line x1="6.9" y1="50.0" x2="2.8" y2="58.1"/><line x1="4.9" y1="35.7" x2="0.6" y2="41.2"/><path d="M-12.0,9.0 Q-19.8,19.0 -33.7,25.2"/><line x1="-33.7" y1="25.2" x2="-36.6" y2="33.7"/><line x1="-33.7" y1="25.2" x2="-42.7" y2="25.6"/><line x1="-25.1" y1="18.8" x2="-32.0" y2="17.7"/><path d="M-12.1,-8.9 Q-18.0,-12.0 -33.5,-24.5"/><line x1="-33.5" y1="-24.5" x2="-42.5" y2="-24.8"/><line x1="-33.5" y1="-24.5" x2="-36.5" y2="-33.0"/><line x1="-25.1" y1="-18.3" x2="-26.1" y2="-25.3"/><path d="M5.2,-14.1 Q12.1,-33.4 16.8,-45.9"/><line x1="16.8" y1="-45.9" x2="14.6" y2="-54.6"/><line x1="16.8" y1="-45.9" x2="24.1" y2="-51.1"/><line x1="12.1" y1="-33.0" x2="18.5" y2="-35.8"/></g><g transform="translate(155.5,2306.6) rotate(1) scale(1.0)" fill="none" stroke="#2f3d9a" stroke-width="2.6" stroke-linecap="round" stroke-linejoin="round"><circle r="4.5"/><path d="M15.0,0.2Q4.3,2.6 7.2,13.2Q-0.8,4.9 -10.9,10.3Q-5.0,0.6 -13.0,-7.5Q-2.2,-4.5 1.8,-14.9Q3.8,-3.3 15.0,0.2"/><path d="M15.0,0.2 Q30.2,3.8 46.6,0.6"/><line x1="46.6" y1="0.6" x2="54.1" y2="-4.4"/><line x1="46.6" y1="0.6" x2="53.9" y2="5.7"/><line x1="33.9" y1="0.4" x2="38.7" y2="5.5"/><path d="M7.2,13.2 Q16.3,27.3 22.6,41.5"/><line x1="22.6" y1="41.5" x2="30.6" y2="45.6"/><line x1="22.6" y1="41.5" x2="21.7" y2="50.4"/><line x1="16.4" y1="30.1" x2="14.3" y2="36.7"/><path d="M-10.9,10.3 Q-23.6,19.8 -35.5,33.7"/><line x1="-35.5" y1="33.7" x2="-37.4" y2="42.5"/><line x1="-35.5" y1="33.7" x2="-44.4" y2="35.1"/><line x1="-25.5" y1="24.2" x2="-32.5" y2="23.9"/><path d="M-13.0,-7.5 Q-24.5,-13.5 -46.0,-26.3"/><line x1="-46.0" y1="-26.3" x2="-54.9" y2="-25.6"/><line x1="-46.0" y1="-26.3" x2="-49.9" y2="-34.4"/><line x1="-32.4" y1="-18.6" x2="-34.2" y2="-25.4"/><path d="M1.8,-14.9 Q1.9,-34.7 5.8,-49.2"/><line x1="5.8" y1="-49.2" x2="1.6" y2="-57.1"/><line x1="5.8" y1="-49.2" x2="11.7" y2="-55.9"/><line x1="4.2" y1="-35.2" x2="9.7" y2="-39.5"/></g><g transform="translate(284.7,2298.6) rotate(20) scale(1.0)" fill="none" stroke="#c9b49c" stroke-width="2.6" stroke-linecap="round" stroke-linejoin="round"><circle r="4.5"/><path d="M14.8,-2.7Q4.1,2.8 3.0,14.7Q-1.7,4.7 -11.8,9.3Q-5.0,-0.3 -10.7,-10.5Q-1.3,-4.8 4.0,-14.5Q3.7,-3.4 14.8,-2.7"/><path d="M14.8,-2.7 Q36.7,-11.0 51.6,-9.4"/><line x1="51.6" y1="-9.4" x2="58.0" y2="-15.7"/><line x1="51.6" y1="-9.4" x2="59.9" y2="-5.7"/><line x1="36.5" y1="-6.6" x2="42.2" y2="-2.6"/><path d="M3.0,14.7 Q10.0,28.4 8.8,42.6"/><line x1="8.8" y1="42.6" x2="15.2" y2="48.9"/><line x1="8.8" y1="42.6" x2="5.3" y2="50.9"/><line x1="6.5" y1="31.5" x2="2.5" y2="37.3"/><path d="M-11.8,9.3 Q-27.6,16.8 -41.4,32.8"/><line x1="-41.4" y1="32.8" x2="-44.0" y2="41.4"/><line x1="-41.4" y1="32.8" x2="-50.3" y2="33.4"/><line x1="-29.2" y1="23.1" x2="-36.2" y2="22.2"/><path d="M-10.7,-10.5 Q-20.0,-24.5 -34.7,-33.9"/><line x1="-34.7" y1="-33.9" x2="-43.6" y2="-35.5"/><line x1="-34.7" y1="-33.9" x2="-36.5" y2="-42.7"/><line x1="-25.0" y1="-24.4" x2="-25.0" y2="-31.4"/><path d="M4.0,-14.5 Q5.8,-22.9 11.1,-40.6"/><line x1="11.1" y1="-40.6" x2="8.1" y2="-49.1"/><line x1="11.1" y1="-40.6" x2="17.9" y2="-46.4"/><line x1="8.3" y1="-30.3" x2="14.4" y2="-33.6"/></g><g transform="translate(195.4,2348.0) rotate(53) scale(1.0)" fill="none" stroke="#2aaa6a" stroke-width="2.6" stroke-linecap="round" stroke-linejoin="round"><circle r="4.5"/><path d="M14.8,-2.4Q4.4,2.4 6.1,13.7Q-0.9,4.9 -10.5,10.7Q-4.9,0.9 -13.5,-6.4Q-1.7,-4.7 6.4,-13.6Q4.0,-3.0 14.8,-2.4"/><path d="M14.8,-2.4 Q29.3,-5.2 42.6,-6.9"/><line x1="42.6" y1="-6.9" x2="49.1" y2="-13.1"/><line x1="42.6" y1="-6.9" x2="50.7" y2="-3.0"/><line x1="31.6" y1="-5.1" x2="37.2" y2="-0.9"/><path d="M6.1,13.7 Q14.2,22.9 17.7,39.5"/><line x1="17.7" y1="39.5" x2="25.3" y2="44.2"/><line x1="17.7" y1="39.5" x2="16.1" y2="48.4"/><line x1="13.1" y1="29.3" x2="10.5" y2="35.8"/><path d="M-10.5,10.7 Q-26.1,22.0 -34.1,34.8"/><line x1="-34.1" y1="34.8" x2="-35.7" y2="43.7"/><line x1="-34.1" y1="34.8" x2="-42.9" y2="36.5"/><line x1="-24.5" y1="25.0" x2="-31.5" y2="25.0"/><path d="M-13.5,-6.4 Q-28.7,-7.9 -39.3,-18.7"/><line x1="-39.3" y1="-18.7" x2="-48.2" y2="-17.3"/><line x1="-39.3" y1="-18.7" x2="-43.9" y2="-26.5"/><line x1="-29.1" y1="-13.8" x2="-31.3" y2="-20.5"/><path d="M6.4,-13.6 Q12.0,-25.9 21.5,-45.8"/><line x1="21.5" y1="-45.8" x2="20.1" y2="-54.7"/><line x1="21.5" y1="-45.8" x2="29.3" y2="-50.4"/><line x1="15.3" y1="-32.7" x2="21.9" y2="-35.0"/></g><g transform="translate(283.0,2386.3) rotate(15) scale(1.0)" fill="none" stroke="#c0282e" stroke-width="2.6" stroke-linecap="round" stroke-linejoin="round"><circle r="4.5"/><path d="M15.0,-0.7Q3.9,3.1 2.5,14.8Q-2.0,4.6 -12.6,8.1Q-5.0,0.3 -13.4,-6.7Q-1.5,-4.8 7.4,-13.0Q4.3,-2.6 15.0,-0.7"/><path d="M15.0,-0.7 Q26.8,1.4 43.5,-1.9"/><line x1="43.5" y1="-1.9" x2="50.7" y2="-7.3"/><line x1="43.5" y1="-1.9" x2="51.2" y2="2.8"/><line x1="32.2" y1="-1.4" x2="37.3" y2="3.4"/><path d="M2.5,14.8 Q2.9,25.3 7.4,44.3"/><line x1="7.4" y1="44.3" x2="13.7" y2="50.8"/><line x1="7.4" y1="44.3" x2="3.6" y2="52.5"/><line x1="5.4" y1="32.5" x2="1.3" y2="38.2"/><path d="M-12.6,8.1 Q-23.2,12.8 -35.5,22.7"/><line x1="-35.5" y1="22.7" x2="-39.0" y2="31.0"/><line x1="-35.5" y1="22.7" x2="-44.4" y2="22.4"/><line x1="-26.4" y1="16.9" x2="-33.3" y2="15.3"/><path d="M-13.4,-6.7 Q-29.6,-14.5 -43.2,-21.4"/><line x1="-43.2" y1="-21.4" x2="-52.1" y2="-20.2"/><line x1="-43.2" y1="-21.4" x2="-47.6" y2="-29.3"/><line x1="-31.1" y1="-15.5" x2="-33.3" y2="-22.1"/><path d="M7.4,-13.0 Q16.6,-28.6 26.1,-45.6"/><line x1="26.1" y1="-45.6" x2="25.3" y2="-54.6"/><line x1="26.1" y1="-45.6" x2="34.1" y2="-49.5"/><line x1="18.4" y1="-32.2" x2="25.2" y2="-34.0"/></g><g transform="translate(181.0,2408.6) rotate(61) scale(1.0)" fill="none" stroke="#8a5a2a" stroke-width="2.6" stroke-linecap="round" stroke-linejoin="round"><circle r="4.5"/><path d="M14.9,-2.0Q4.4,2.4 6.6,13.4Q-1.6,4.7 -13.5,6.6Q-4.9,-0.8 -10.9,-10.3Q-1.5,-4.8 3.1,-14.7Q3.7,-3.4 14.9,-2.0"/><path d="M14.9,-2.0 Q31.3,0.5 42.9,-5.7"/><line x1="42.9" y1="-5.7" x2="49.6" y2="-11.8"/><line x1="42.9" y1="-5.7" x2="50.9" y2="-1.7"/><line x1="31.8" y1="-4.2" x2="37.3" y2="0.1"/><path d="M6.6,13.4 Q17.4,30.0 19.2,38.9"/><line x1="19.2" y1="38.9" x2="27.1" y2="43.3"/><line x1="19.2" y1="38.9" x2="17.9" y2="47.8"/><line x1="14.2" y1="28.8" x2="11.9" y2="35.4"/><path d="M-13.5,6.6 Q-29.2,10.0 -43.3,21.3"/><line x1="-43.3" y1="21.3" x2="-47.7" y2="29.1"/><line x1="-43.3" y1="21.3" x2="-52.2" y2="20.0"/><line x1="-31.2" y1="15.4" x2="-37.8" y2="13.0"/><path d="M-10.9,-10.3 Q-15.8,-22.1 -30.0,-28.6"/><line x1="-30.0" y1="-28.6" x2="-38.9" y2="-30.1"/><line x1="-30.0" y1="-28.6" x2="-31.9" y2="-37.4"/><line x1="-22.5" y1="-21.4" x2="-22.5" y2="-28.4"/><path d="M3.1,-14.7 Q4.3,-28.3 10.3,-48.4"/><line x1="10.3" y1="-48.4" x2="6.8" y2="-56.7"/><line x1="10.3" y1="-48.4" x2="16.8" y2="-54.6"/><line x1="7.4" y1="-34.7" x2="13.3" y2="-38.4"/></g><g transform="translate(136.4,2431.0) rotate(42) scale(1.0)" fill="none" stroke="#f0a020" stroke-width="2.6" stroke-linecap="round" stroke-linejoin="round"><circle r="4.5"/><path d="M14.9,-1.3Q4.3,2.5 6.5,13.5Q-1.4,4.8 -12.9,7.7Q-5.0,0.2 -13.5,-6.5Q-2.2,-4.5 3.0,-14.7Q3.7,-3.3 14.9,-1.3"/><path d="M14.9,-1.3 Q34.8,-1.6 47.5,-4.1"/><line x1="47.5" y1="-4.1" x2="54.5" y2="-9.8"/><line x1="47.5" y1="-4.1" x2="55.4" y2="0.3"/><line x1="34.4" y1="-3.0" x2="39.7" y2="1.6"/><path d="M6.5,13.5 Q17.1,23.8 19.3,39.9"/><line x1="19.3" y1="39.9" x2="27.1" y2="44.4"/><line x1="19.3" y1="39.9" x2="18.0" y2="48.8"/><line x1="14.2" y1="29.4" x2="11.8" y2="36.0"/><path d="M-12.9,7.7 Q-26.5,13.8 -35.4,21.0"/><line x1="-35.4" y1="21.0" x2="-39.2" y2="29.2"/><line x1="-35.4" y1="21.0" x2="-44.4" y2="20.5"/><line x1="-26.6" y1="15.8" x2="-33.3" y2="14.0"/><path d="M-13.5,-6.5 Q-28.8,-13.6 -37.6,-18.1"/><line x1="-37.6" y1="-18.1" x2="-46.5" y2="-16.7"/><line x1="-37.6" y1="-18.1" x2="-42.1" y2="-25.9"/><line x1="-28.1" y1="-13.5" x2="-30.3" y2="-20.1"/><path d="M3.0,-14.7 Q2.6,-32.2 9.5,-46.9"/><line x1="9.5" y1="-46.9" x2="6.0" y2="-55.2"/><line x1="9.5" y1="-46.9" x2="16.0" y2="-53.2"/><line x1="6.9" y1="-33.9" x2="12.8" y2="-37.7"/></g><g transform="translate(252.8,2442.0) rotate(62) scale(1.0)" fill="none" stroke="#7030a0" stroke-width="2.6" stroke-linecap="round" stroke-linejoin="round"><circle r="4.5"/><path d="M14.7,3.0Q3.6,3.5 3.7,14.5Q-1.9,4.6 -12.8,7.8Q-5.0,-0.3 -11.8,-9.2Q-1.8,-4.7 2.4,-14.8Q4.1,-2.8 14.7,3.0"/><path d="M14.7,3.0 Q22.8,9.7 40.6,8.3"/><line x1="40.6" y1="8.3" x2="48.9" y2="4.8"/><line x1="40.6" y1="8.3" x2="46.8" y2="14.7"/><line x1="30.4" y1="6.2" x2="34.2" y2="12.1"/><path d="M3.7,14.5 Q12.5,26.4 12.1,47.9"/><line x1="12.1" y1="47.9" x2="18.9" y2="53.8"/><line x1="12.1" y1="47.9" x2="9.0" y2="56.3"/><line x1="8.7" y1="34.3" x2="5.0" y2="40.3"/><path d="M-12.8,7.8 Q-27.3,18.9 -41.5,25.3"/><line x1="-41.5" y1="25.3" x2="-45.2" y2="33.6"/><line x1="-41.5" y1="25.3" x2="-50.5" y2="24.9"/><line x1="-29.9" y1="18.2" x2="-36.6" y2="16.5"/><path d="M-11.8,-9.2 Q-18.6,-22.7 -35.3,-27.6"/><line x1="-35.3" y1="-27.6" x2="-44.3" y2="-28.2"/><line x1="-35.3" y1="-27.6" x2="-38.0" y2="-36.2"/><line x1="-25.9" y1="-20.3" x2="-26.7" y2="-27.2"/><path d="M2.4,-14.8 Q7.5,-26.9 7.7,-46.9"/><line x1="7.7" y1="-46.9" x2="3.9" y2="-55.1"/><line x1="7.7" y1="-46.9" x2="14.0" y2="-53.4"/><line x1="5.6" y1="-33.9" x2="11.3" y2="-37.9"/></g></g><text transform="translate(58,2371) rotate(-90)" font-size="27" font-weight="bold" text-anchor="middle" font-family="Liberation Serif">A large-scale simulated</text><text transform="translate(82,2370) rotate(-90)" font-size="27" font-weight="bold" text-anchor="middle" font-family="Liberation Serif">extracellular dataset</text><rect x="355.6" y="2026" width="541.9" height="234.3" rx="20" fill="#f5f5f5" stroke="#000" stroke-width="2" stroke-dasharray="7 5"/><text x="372.5" y="2060.3" font-size="27.8" text-anchor="start" font-family="Liberation Serif" fill="#000" font-weight="bold">(a) Multi-compartment neuron model</text><circle cx="476.6" cy="2157.8" r="13" fill="#aaa" stroke="#000" stroke-width="1.5"/><g transform="translate(463.0,2158.0) rotate(-179.2)"><rect x="0" y="-4.0" width="70.0" height="8" fill="#fff" stroke="#000" stroke-width="1.3"/></g><g transform="translate(463.0,2152.0) rotate(-155.7)"><rect x="0" y="-4.0" width="34.0" height="8" fill="#fff" stroke="#000" stroke-width="1.3"/></g><g transform="translate(428.0,2135.0) rotate(-156.5)"><rect x="0" y="-4.0" width="25.1" height="8" fill="#fff" stroke="#000" stroke-width="1.3"/></g><g transform="translate(432.0,2137.0) rotate(-126.5)"><rect x="0" y="-4.0" width="33.6" height="8" fill="#fff" stroke="#000" stroke-width="1.3"/></g><g transform="translate(412.0,2108.0) rotate(-118.3)"><rect x="0" y="-4.0" width="14.8" height="8" fill="#fff" stroke="#000" stroke-width="1.3"/></g><g transform="translate(463.0,2163.0) rotate(154.4)"><rect x="0" y="-4.0" width="25.5" height="8" fill="#fff" stroke="#000" stroke-width="1.3"/></g><g transform="translate(438.0,2175.0) rotate(167.0)"><rect x="0" y="-4.0" width="26.7" height="8" fill="#fff" stroke="#000" stroke-width="1.3"/></g><g transform="translate(410.0,2182.0) rotate(-165.1)"><rect x="0" y="-4.0" width="15.5" height="8" fill="#fff" stroke="#000" stroke-width="1.3"/></g><g transform="translate(412.0,2183.0) rotate(125.2)"><rect x="0" y="-4.0" width="20.8" height="8" fill="#fff" stroke="#000" stroke-width="1.3"/></g><g transform="translate(490.0,2158.0) rotate(2.2)"><rect x="0" y="-4.0" width="53.0" height="8" fill="#fff" stroke="#000" stroke-width="1.3"/></g><g transform="translate(545.0,2160.0) rotate(-31.0)"><rect x="0" y="-4.0" width="23.3" height="8" fill="#fff" stroke="#000" stroke-width="1.3"/></g><g transform="translate(567.0,2146.0) rotate(-60.5)"><rect x="0" y="-4.0" width="26.4" height="8" fill="#fff" stroke="#000" stroke-width="1.3"/></g><g transform="translate(545.0,2162.0) rotate(29.2)"><rect x="0" y="-4.0" width="28.7" height="8" fill="#fff" stroke="#000" stroke-width="1.3"/></g><g transform="translate(570.0,2176.0) rotate(7.6)"><rect x="0" y="-4.0" width="30.3" height="8" fill="#fff" stroke="#000" stroke-width="1.3"/></g><g transform="translate(570.0,2178.0) rotate(51.3)"><rect x="0" y="-4.0" width="32.0" height="8" fill="#fff" stroke="#000" stroke-width="1.3"/></g><g transform="translate(436.0,2190.0) rotate(115.6)"><rect x="0" y="-3.5" width="27.7" height="7" fill="#fff" stroke="#2aa0e8" stroke-width="1.3"/></g><line x1="393" y1="2157" x2="376" y2="2157" stroke="#000" stroke-width="1.5" stroke-dasharray="2 2"/><line x1="405" y1="2125" x2="380" y2="2116" stroke="#000" stroke-width="1.5" stroke-dasharray="2 2"/><line x1="405" y1="2095" x2="392" y2="2080" stroke="#000" stroke-width="1.5" stroke-dasharray="2 2"/><line x1="395" y1="2178" x2="378" y2="2175" stroke="#000" stroke-width="1.5" stroke-dasharray="2 2"/><line x1="400" y1="2200" x2="388" y2="2215" stroke="#000" stroke-width="1.5" stroke-dasharray="2 2"/><line x1="424" y1="2215" x2="418" y2="2225" stroke="#000" stroke-width="1.5" stroke-dasharray="2 2"/><line x1="580" y1="2123" x2="598" y2="2114" stroke="#000" stroke-width="1.5" stroke-dasharray="2 2"/><line x1="600" y1="2180" x2="615" y2="2177" stroke="#000" stroke-width="1.5" stroke-dasharray="2 2"/><line x1="590" y1="2203" x2="598" y2="2215" stroke="#000" stroke-width="1.5" stroke-dasharray="2 2"/><text x="506.0" y="2140.0" font-size="19" text-anchor="start" font-family="Liberation Serif" fill="#000">branch</text><text x="461.0" y="2186.9" font-size="19" text-anchor="start" font-family="Liberation Serif" fill="#000">soma</text><text x="432.8" y="2221.3" font-size="19" text-anchor="start" font-family="Liberation Serif" fill="#000">compartment</text><rect x="554.7" y="2165" width="46.9" height="39" fill="none" stroke="#888" stroke-width="1" stroke-dasharray="3 2"/><g transform="translate(603.0,2193.8) rotate(0.0)"><line x1="0" y1="0" x2="18.7" y2="0" stroke="#888" stroke-width="1.6"/><path d="M16.7,-4 L26.7,0 L16.7,4 Z" fill="#888"/></g><rect x="632.2" y="2069.7" width="235" height="157.8" fill="none" stroke="#999" stroke-width="1" stroke-dasharray="3 2"/><text x="746.9" y="2246.3" font-size="19" text-anchor="middle" font-family="Liberation Serif" fill="#000">compartmental model</text><g stroke="#444" stroke-width="1" fill="none"><path d="M645,2108 L717,2108 M678,2093 v15 M678,2108 v70 M660,2125 h38 v45 h-38 z M717,2108 V2073 H848 M717,2108 V2155 H848"/><rect x="730" y="2084" width="38" height="46"/><line x1="749" y1="2074" x2="749" y2="2144"/><line x1="730" y1="2107" x2="726" y2="2107"/><rect x="797" y="2084" width="38" height="46"/><line x1="816" y1="2074" x2="816" y2="2144"/><line x1="797" y1="2107" x2="793" y2="2107"/><rect x="730" y="2165" width="38" height="46"/><line x1="749" y1="2155" x2="749" y2="2225"/><line x1="730" y1="2188" x2="726" y2="2188"/><rect x="797" y="2165" width="38" height="46"/><line x1="816" y1="2155" x2="816" y2="2225"/><line x1="797" y1="2188" x2="793" y2="2188"/></g><text x="643.0" y="2102.0" font-size="14" text-anchor="start" font-family="Liberation Serif" fill="#000" font-weight="bold" font-style="italic">R</text><text x="652.0" y="2102.0" font-size="14" text-anchor="start" font-family="Liberation Serif" fill="#000" font-weight="bold" font-style="italic">/2</text><text x="692.0" y="2102.0" font-size="14" text-anchor="start" font-family="Liberation Serif" fill="#000" font-weight="bold" font-style="italic">R</text><text x="701.0" y="2102.0" font-size="14" text-anchor="start" font-family="Liberation Serif" fill="#000" font-weight="bold" font-style="italic">/2</text><text x="668.0" y="2085.0" font-size="14" text-anchor="start" font-family="Liberation Serif" fill="#000" font-weight="bold" font-style="italic">I</text><text x="640.0" y="2137.0" font-size="13" text-anchor="start" font-family="Liberation Serif" fill="#000" font-weight="bold" font-style="italic">r</text><text x="665.0" y="2137.0" font-size="13" text-anchor="start" font-family="Liberation Serif" fill="#000" font-weight="bold" font-style="italic">r</text><text x="639.0" y="2160.0" font-size="13" text-anchor="start" font-family="Liberation Serif" fill="#000" font-weight="bold" font-style="italic">E</text><text x="663.0" y="2160.0" font-size="13" text-anchor="start" font-family="Liberation Serif" fill="#000" font-weight="bold" font-style="italic">E</text><text x="683.0" y="2160.0" font-size="13" text-anchor="start" font-family="Liberation Serif" fill="#000" font-weight="bold" font-style="italic">C</text><text x="686.0" y="2195.0" font-size="13" text-anchor="start" font-family="Liberation Serif" fill="#000" font-weight="bold" font-style="italic">I</text><rect x="355.6" y="2271" width="543.4" height="223.7" rx="20" fill="#f5f5f5" stroke="#000" stroke-width="2" stroke-dasharray="7 5"/><circle cx="354.8" cy="2249" r="36.7" fill="#fff" fill-opacity="0.3" stroke="#808080" stroke-width="3.5"/><path d="M340,2280 Q360,2285 372,2270" fill="none" stroke="#808080" stroke-width="3"/><g transform="translate(318,2262) rotate(165)"><line x1="0" y1="0" x2="12" y2="0" stroke="#808080" stroke-width="3"/><rect x="12" y="-6" width="36" height="12" rx="5" fill="none" stroke="#808080" stroke-width="3"/><line x1="20" y1="-6" x2="20" y2="6" stroke="#808080" stroke-width="2.5"/></g><text x="372.5" y="2304.0" font-size="27.8" text-anchor="start" font-family="Liberation Serif" fill="#000" font-weight="bold">(b) Simulation</text><line x1="448.4" y1="2391.6" x2="427.6" y2="2376.0" stroke="#888" stroke-width="1"/><line x1="427.6" y1="2376.0" x2="409.9" y2="2371.7" stroke="#888" stroke-width="1"/><line x1="409.9" y1="2371.7" x2="400.6" y2="2362.3" stroke="#888" stroke-width="1"/><line x1="400.6" y1="2362.3" x2="398.9" y2="2353.1" stroke="#888" stroke-width="1"/><line x1="427.6" y1="2376.0" x2="423.3" y2="2357.8" stroke="#888" stroke-width="1"/><line x1="423.3" y1="2357.8" x2="414.2" y2="2348.8" stroke="#888" stroke-width="1"/><line x1="414.2" y1="2348.8" x2="405.4" y2="2346.5" stroke="#888" stroke-width="1"/><line x1="414.2" y1="2348.8" x2="411.4" y2="2340.9" stroke="#888" stroke-width="1"/><line x1="423.3" y1="2357.8" x2="424.0" y2="2347.7" stroke="#888" stroke-width="1"/><line x1="424.0" y1="2347.7" x2="427.4" y2="2341.2" stroke="#888" stroke-width="1"/><line x1="448.4" y1="2391.6" x2="438.7" y2="2363.2" stroke="#888" stroke-width="1"/><line x1="438.7" y1="2363.2" x2="441.5" y2="2346.1" stroke="#888" stroke-width="1"/><line x1="441.5" y1="2346.1" x2="437.4" y2="2334.4" stroke="#888" stroke-width="1"/><line x1="437.4" y1="2334.4" x2="431.3" y2="2327.7" stroke="#888" stroke-width="1"/><line x1="437.4" y1="2334.4" x2="438.2" y2="2327.4" stroke="#888" stroke-width="1"/><line x1="441.5" y1="2346.1" x2="448.8" y2="2337.6" stroke="#888" stroke-width="1"/><line x1="448.8" y1="2337.6" x2="450.8" y2="2332.4" stroke="#888" stroke-width="1"/><line x1="448.8" y1="2337.6" x2="455.3" y2="2335.4" stroke="#888" stroke-width="1"/><line x1="448.4" y1="2391.6" x2="454.1" y2="2366.2" stroke="#888" stroke-width="1"/><line x1="454.1" y1="2366.2" x2="447.4" y2="2351.6" stroke="#888" stroke-width="1"/><line x1="447.4" y1="2351.6" x2="438.2" y2="2347.8" stroke="#888" stroke-width="1"/><line x1="447.4" y1="2351.6" x2="448.8" y2="2342.1" stroke="#888" stroke-width="1"/><line x1="454.1" y1="2366.2" x2="461.5" y2="2352.1" stroke="#888" stroke-width="1"/><line x1="461.5" y1="2352.1" x2="463.3" y2="2342.8" stroke="#888" stroke-width="1"/><line x1="461.5" y1="2352.1" x2="469.0" y2="2347.5" stroke="#888" stroke-width="1"/><line x1="448.4" y1="2391.6" x2="476.5" y2="2372.4" stroke="#888" stroke-width="1"/><line x1="448.4" y1="2391.6" x2="478.3" y2="2388.6" stroke="#888" stroke-width="1"/><line x1="478.3" y1="2388.6" x2="493.9" y2="2381.0" stroke="#888" stroke-width="1"/><line x1="478.3" y1="2388.6" x2="496.4" y2="2391.2" stroke="#888" stroke-width="1"/><line x1="496.4" y1="2391.2" x2="507.5" y2="2388.7" stroke="#888" stroke-width="1"/><line x1="496.4" y1="2391.2" x2="505.4" y2="2395.1" stroke="#888" stroke-width="1"/><line x1="448.4" y1="2391.6" x2="465.8" y2="2413.5" stroke="#888" stroke-width="1"/><line x1="465.8" y1="2413.5" x2="472.0" y2="2430.1" stroke="#888" stroke-width="1"/><line x1="472.0" y1="2430.1" x2="480.0" y2="2438.7" stroke="#888" stroke-width="1"/><line x1="448.4" y1="2391.6" x2="452.5" y2="2425.4" stroke="#888" stroke-width="1"/><line x1="452.5" y1="2425.4" x2="463.4" y2="2448.1" stroke="#888" stroke-width="1"/><line x1="463.4" y1="2448.1" x2="474.3" y2="2456.7" stroke="#888" stroke-width="1"/><line x1="474.3" y1="2456.7" x2="483.2" y2="2458.1" stroke="#888" stroke-width="1"/><line x1="474.3" y1="2456.7" x2="476.9" y2="2463.4" stroke="#888" stroke-width="1"/><line x1="463.4" y1="2448.1" x2="463.5" y2="2461.5" stroke="#888" stroke-width="1"/><line x1="463.5" y1="2461.5" x2="466.8" y2="2470.7" stroke="#888" stroke-width="1"/><line x1="463.5" y1="2461.5" x2="462.0" y2="2468.7" stroke="#888" stroke-width="1"/><line x1="452.5" y1="2425.4" x2="449.5" y2="2446.5" stroke="#888" stroke-width="1"/><line x1="449.5" y1="2446.5" x2="456.1" y2="2458.3" stroke="#888" stroke-width="1"/><line x1="456.1" y1="2458.3" x2="463.3" y2="2462.1" stroke="#888" stroke-width="1"/><line x1="449.5" y1="2446.5" x2="441.2" y2="2455.0" stroke="#888" stroke-width="1"/><line x1="441.2" y1="2455.0" x2="437.7" y2="2462.9" stroke="#888" stroke-width="1"/><line x1="441.2" y1="2455.0" x2="434.0" y2="2458.8" stroke="#888" stroke-width="1"/><line x1="448.4" y1="2391.6" x2="435.3" y2="2414.0" stroke="#888" stroke-width="1"/><line x1="435.3" y1="2414.0" x2="433.7" y2="2427.1" stroke="#888" stroke-width="1"/><line x1="433.7" y1="2427.1" x2="436.4" y2="2436.2" stroke="#888" stroke-width="1"/><line x1="433.7" y1="2427.1" x2="429.3" y2="2432.7" stroke="#888" stroke-width="1"/><line x1="435.3" y1="2414.0" x2="424.8" y2="2423.8" stroke="#888" stroke-width="1"/><line x1="424.8" y1="2423.8" x2="419.2" y2="2432.6" stroke="#888" stroke-width="1"/><line x1="424.8" y1="2423.8" x2="416.5" y2="2426.3" stroke="#888" stroke-width="1"/><line x1="404.7" y1="2402.5" x2="448.4" y2="2391.6" stroke="#f07050" stroke-width="1.6"/><line x1="410" y1="2395" x2="448.4" y2="2391.6" stroke="#f07050" stroke-width="1.2"/><rect x="483" y="2404" width="7" height="7" fill="#2a8060"/><text x="362.5" y="2424.4" font-size="20" text-anchor="start" font-family="Liberation Serif" fill="#000">Pipette</text><text x="466.3" y="2426.0" font-size="20" text-anchor="start" font-family="Liberation Serif" fill="#000">Electrode</text><text transform="translate(562,2341.6) rotate(-90)" font-size="20" text-anchor="middle" font-family="Liberation Serif">Input</text><text transform="translate(562,2393) rotate(-90)" font-size="20" text-anchor="middle" font-family="Liberation Serif">V<tspan font-size="12" dy="-4">intra</tspan></text><text transform="translate(562,2452) rotate(-90)" font-size="20" text-anchor="middle" font-family="Liberation Serif">V<tspan font-size="12" dy="-4">extra</tspan></text><polyline points="571.9,2331 572.4,2337 573.0,2335 573.5,2331 574.1,2328 574.6,2332 575.2,2332 575.7,2335 576.3,2345 576.8,2328 577.3,2332 577.9,2332 578.4,2330 579.0,2333 579.5,2335 580.1,2340 580.6,2337 581.1,2332 581.7,2347 582.2,2333 582.8,2331 583.3,2334 583.9,2336 584.4,2329 585.0,2336 585.5,2331 586.0,2340 586.6,2337 587.1,2337 587.7,2345 588.2,2333 588.8,2335 589.3,2337 589.8,2335 590.4,2332 590.9,2340 591.5,2342 592.0,2343 592.6,2337 593.1,2337 593.7,2337 594.2,2340 594.7,2333 595.3,2343 595.8,2337 596.4,2338 596.9,2343 597.5,2342 598.0,2335 598.5,2337 599.1,2343 599.6,2341 600.2,2338 600.7,2336 601.3,2332 601.8,2337 602.4,2337 602.9,2334 603.4,2339 604.0,2337 604.5,2338 605.1,2336 605.6,2332 606.2,2329 606.7,2336 607.3,2333 607.8,2343 608.3,2331 608.9,2339 609.4,2331 610.0,2331 610.5,2332 611.1,2346 611.6,2331 612.1,2335 612.7,2339 613.2,2333 613.8,2333 614.3,2337 614.9,2331 615.4,2335 616.0,2336 616.5,2324 617.0,2333 617.6,2326 618.1,2329 618.7,2332 619.2,2327 619.8,2319 620.3,2334 620.8,2320 621.4,2330 621.9,2335 622.5,2331 623.0,2327 623.6,2326 624.1,2328 624.7,2336 625.2,2332 625.7,2324 626.3,2333 626.8,2336 627.4,2332 627.9,2325 628.5,2327 629.0,2331 629.5,2330 630.1,2338 630.6,2332 631.2,2340 631.7,2339 632.3,2338 632.8,2341 633.4,2332 633.9,2333 634.4,2344 635.0,2336 635.5,2341 636.1,2338 636.6,2339 637.2,2339 637.7,2337 638.3,2341 638.8,2331 639.3,2344 639.9,2347 640.4,2339 641.0,2349 641.5,2340 642.1,2343 642.6,2340 643.1,2341 643.7,2334 644.2,2339 644.8,2336 645.3,2336 645.9,2336 646.4,2343 647.0,2342 647.5,2339 648.0,2344 648.6,2330 649.1,2344 649.7,2347 650.2,2353 650.8,2344 651.3,2347 651.8,2341 652.4,2346 652.9,2338 653.5,2344 654.0,2346 654.6,2350 655.1,2341 655.7,2346 656.2,2350 656.7,2348 657.3,2339 657.8,2352 658.4,2342 658.9,2339 659.5,2342 660.0,2347 660.5,2340 661.1,2342 661.6,2355 662.2,2340 662.7,2343 663.3,2347 663.8,2336 664.4,2344 664.9,2345 665.4,2339 666.0,2331 666.5,2346 667.1,2347 667.6,2343 668.2,2337 668.7,2346 669.3,2342 669.8,2344 670.3,2342 670.9,2342 671.4,2340 672.0,2344 672.5,2342 673.1,2343 673.6,2351 674.1,2348 674.7,2347 675.2,2345 675.8,2348 676.3,2346 676.9,2345 677.4,2337 678.0,2343 678.5,2340 679.0,2341 679.6,2345 680.1,2342 680.7,2342 681.2,2347 681.8,2347 682.3,2346 682.8,2345 683.4,2339 683.9,2341 684.5,2339 685.0,2342 685.6,2345 686.1,2337 686.7,2347 687.2,2339 687.7,2346 688.3,2346 688.8,2345 689.4,2343 689.9,2343 690.5,2336 691.0,2346 691.5,2344 692.1,2346 692.6,2343 693.2,2338 693.7,2344 694.3,2348 694.8,2346 695.4,2342 695.9,2338 696.4,2350 697.0,2341 697.5,2348 698.1,2350 698.6,2345 699.2,2337 699.7,2355 700.3,2343 700.8,2347 701.3,2342 701.9,2352 702.4,2347 703.0,2353 703.5,2353 704.1,2343 704.6,2343 705.1,2339 705.7,2341 706.2,2353 706.8,2356 707.3,2353 707.9,2345 708.4,2346 709.0,2348 709.5,2348 710.0,2346 710.6,2342 711.1,2351 711.7,2347 712.2,2352 712.8,2351 713.3,2346 713.8,2346 714.4,2345 714.9,2345 715.5,2344 716.0,2345 716.6,2347 717.1,2341 717.7,2338 718.2,2344 718.7,2337 719.3,2346 719.8,2338 720.4,2340 720.9,2344 721.5,2341 722.0,2331 722.5,2334 723.1,2336 723.6,2339 724.2,2343 724.7,2340 725.3,2343 725.8,2340 726.4,2344 726.9,2342 727.4,2336 728.0,2334 728.5,2344 729.1,2347 729.6,2335 730.2,2345 730.7,2345 731.3,2341 731.8,2345 732.3,2342 732.9,2337 733.4,2344 734.0,2341 734.5,2345 735.1,2347 735.6,2340 736.1,2345 736.7,2353 737.2,2342 737.8,2341 738.3,2345 738.9,2336 739.4,2352 740.0,2355 740.5,2348 741.0,2343 741.6,2343 742.1,2346 742.7,2338 743.2,2348 743.8,2351 744.3,2344 744.8,2350 745.4,2340 745.9,2350 746.5,2343 747.0,2350 747.6,2345 748.1,2353 748.7,2355 749.2,2350 749.7,2348 750.3,2345 750.8,2355 751.4,2350 751.9,2345 752.5,2353 753.0,2357 753.5,2348 754.1,2349 754.6,2353 755.2,2346 755.7,2343 756.3,2349 756.8,2339 757.4,2343 757.9,2338 758.4,2343 759.0,2341 759.5,2341 760.1,2345 760.6,2335 761.2,2347 761.7,2348 762.3,2343 762.8,2338 763.3,2337 763.9,2343 764.4,2342 765.0,2343 765.5,2349 766.1,2347 766.6,2340 767.1,2339 767.7,2346 768.2,2344 768.8,2339 769.3,2348 769.9,2348 770.4,2347 771.0,2350 771.5,2339 772.0,2348 772.6,2348 773.1,2346 773.7,2345 774.2,2345 774.8,2346 775.3,2346 775.8,2344 776.4,2347 776.9,2345 777.5,2350 778.0,2340 778.6,2350 779.1,2346 779.7,2348 780.2,2348 780.7,2345 781.3,2348 781.8,2345 782.4,2351 782.9,2342 783.5,2344 784.0,2351 784.5,2350 785.1,2349 785.6,2351 786.2,2349 786.7,2351 787.3,2350 787.8,2347 788.4,2345 788.9,2348" fill="none" stroke="#9a9a9a" stroke-width="1.1"/><text x="743.8" y="2322.8" font-size="20" text-anchor="start" font-family="Liberation Serif" fill="#000">Noise</text><polyline points="571.9,2408.8 573.0,2408.7 574.1,2408.7 575.2,2408.6 576.3,2408.5 577.4,2408.5 578.4,2408.4 579.5,2408.3 580.6,2408.3 581.7,2408.2 582.8,2408.1 583.9,2408.1 585.0,2408.0 586.1,2407.9 587.2,2407.9 588.3,2407.8 589.3,2407.8 590.4,2407.7 591.5,2407.6 592.6,2407.6 593.7,2407.5 594.8,2407.4 595.9,2407.4 597.0,2407.3 598.1,2407.2 599.2,2407.2 600.3,2407.1 601.3,2407.0 602.4,2407.0 603.5,2406.9 604.6,2406.8 605.7,2406.8 606.8,2406.7 607.9,2406.6 609.0,2406.6 610.1,2406.5 611.2,2406.4 612.2,2406.4 613.3,2406.3 614.4,2406.2 615.5,2406.2 616.6,2406.1 617.7,2406.1 618.8,2406.0 619.9,2405.9 621.0,2368.0 622.1,2368.0 623.2,2408.7 624.2,2408.7 625.3,2408.6 626.4,2408.5 627.5,2408.5 628.6,2408.4 629.7,2408.3 630.8,2408.3 631.9,2408.2 633.0,2408.1 634.1,2408.1 635.1,2408.0 636.2,2407.9 637.3,2407.9 638.4,2407.8 639.5,2407.7 640.6,2407.7 641.7,2407.6 642.8,2407.5 643.9,2407.5 645.0,2407.4 646.1,2407.4 647.1,2407.3 648.2,2407.2 649.3,2407.2 650.4,2407.1 651.5,2407.0 652.6,2407.0 653.7,2406.9 654.8,2406.8 655.9,2406.8 657.0,2406.7 658.0,2406.6 659.1,2406.6 660.2,2406.5 661.3,2406.4 662.4,2406.4 663.5,2406.3 664.6,2406.2 665.7,2406.2 666.8,2406.1 667.9,2406.0 669.0,2406.0 670.0,2405.9 671.1,2405.8 672.2,2408.8 673.3,2408.7 674.4,2408.6 675.5,2368.0 676.6,2368.0 677.7,2408.5 678.8,2408.4 679.9,2408.3 680.9,2408.3 682.0,2408.2 683.1,2408.1 684.2,2408.1 685.3,2408.0 686.4,2407.9 687.5,2407.9 688.6,2407.8 689.7,2407.7 690.8,2407.7 691.8,2407.6 692.9,2407.5 694.0,2407.5 695.1,2407.4 696.2,2407.3 697.3,2407.3 698.4,2407.2 699.5,2407.1 700.6,2407.1 701.7,2368.0 702.8,2368.0 703.8,2406.9 704.9,2406.8 706.0,2406.8 707.1,2406.7 708.2,2406.6 709.3,2406.6 710.4,2406.5 711.5,2406.4 712.6,2406.4 713.7,2406.3 714.7,2406.2 715.8,2406.2 716.9,2406.1 718.0,2406.0 719.1,2406.0 720.2,2405.9 721.3,2405.8 722.4,2408.8 723.5,2408.7 724.6,2408.6 725.7,2408.6 726.7,2408.5 727.8,2408.4 728.9,2408.4 730.0,2408.3 731.1,2408.2 732.2,2408.2 733.3,2408.1 734.4,2408.1 735.5,2408.0 736.6,2407.9 737.6,2407.9 738.7,2407.8 739.8,2407.7 740.9,2407.7 742.0,2407.6 743.1,2368.0 744.2,2368.0 745.3,2407.4 746.4,2407.3 747.5,2407.3 748.6,2407.2 749.6,2407.1 750.7,2407.1 751.8,2407.0 752.9,2406.9 754.0,2406.9 755.1,2406.8 756.2,2406.7 757.3,2406.7 758.4,2406.6 759.5,2406.5 760.5,2406.5 761.6,2406.4 762.7,2406.4 763.8,2406.3 764.9,2406.2 766.0,2406.2 767.1,2406.1 768.2,2406.0 769.3,2406.0 770.4,2405.9 771.5,2405.8 772.5,2408.8 773.6,2408.7 774.7,2408.6 775.8,2408.6 776.9,2368.0 778.0,2368.0 779.1,2408.4 780.2,2408.3 781.3,2408.2 782.4,2408.2 783.4,2408.1 784.5,2408.0 785.6,2408.0 786.7,2407.9 787.8,2407.8 788.9,2407.8" fill="none" stroke="#f07050" stroke-width="1.6"/><path d="M801.6,2407 L815,2405 L820,2367 L828,2395 L840,2412 L859.4,2412" fill="none" stroke="#f07050" stroke-width="1.6"/><polyline points="571.9,2446.0 573.0,2445.4 574.1,2446.3 575.2,2446.5 576.3,2446.6 577.4,2447.0 578.4,2444.5 579.5,2447.7 580.6,2446.1 581.7,2445.5 582.8,2445.9 583.9,2446.7 585.0,2447.2 586.1,2445.9 587.2,2446.5 588.3,2444.7 589.3,2446.5 590.4,2446.2 591.5,2445.9 592.6,2447.2 593.7,2448.1 594.8,2447.3 595.9,2445.5 597.0,2447.8 598.1,2446.0 599.2,2446.3 600.3,2445.7 601.3,2446.8 602.4,2446.9 603.5,2446.4 604.6,2446.1 605.7,2446.2 606.8,2445.9 607.9,2447.3 609.0,2445.8 610.1,2446.2 611.2,2446.1 612.2,2445.6 613.3,2446.1 614.4,2444.8 615.5,2446.7 616.6,2446.8 617.7,2446.0 618.8,2447.9 619.9,2445.5 621.0,2474.0 622.1,2474.0 623.2,2431.0 624.2,2446.1 625.3,2447.2 626.4,2446.4 627.5,2446.6 628.6,2447.7 629.7,2446.5 630.8,2444.6 631.9,2445.6 633.0,2447.1 634.1,2446.2 635.1,2445.2 636.2,2444.3 637.3,2446.6 638.4,2447.8 639.5,2445.1 640.6,2444.1 641.7,2446.8 642.8,2445.8 643.9,2446.0 645.0,2446.0 646.1,2445.4 647.1,2446.7 648.2,2447.2 649.3,2446.7 650.4,2445.7 651.5,2447.3 652.6,2446.2 653.7,2446.9 654.8,2445.4 655.9,2447.0 657.0,2447.0 658.0,2447.6 659.1,2446.3 660.2,2446.7 661.3,2445.7 662.4,2447.2 663.5,2447.1 664.6,2447.4 665.7,2445.9 666.8,2445.1 667.9,2446.2 669.0,2446.1 670.0,2445.6 671.1,2446.9 672.2,2447.2 673.3,2446.7 674.4,2447.4 675.5,2474.0 676.6,2474.0 677.7,2431.0 678.8,2446.0 679.9,2447.0 680.9,2447.2 682.0,2446.4 683.1,2447.3 684.2,2445.5 685.3,2446.2 686.4,2447.8 687.5,2446.7 688.6,2447.3 689.7,2444.4 690.8,2444.7 691.8,2445.4 692.9,2447.3 694.0,2447.9 695.1,2445.7 696.2,2445.3 697.3,2445.3 698.4,2445.4 699.5,2446.9 700.6,2446.0 701.7,2474.0 702.8,2474.0 703.8,2431.0 704.9,2446.5 706.0,2446.2 707.1,2447.1 708.2,2447.2 709.3,2446.0 710.4,2447.2 711.5,2446.9 712.6,2446.2 713.7,2446.6 714.7,2447.0 715.8,2446.0 716.9,2445.6 718.0,2447.6 719.1,2446.3 720.2,2445.7 721.3,2446.8 722.4,2444.9 723.5,2446.4 724.6,2445.0 725.7,2445.9 726.7,2444.5 727.8,2445.6 728.9,2447.2 730.0,2446.1 731.1,2445.1 732.2,2448.0 733.3,2445.7 734.4,2447.8 735.5,2445.8 736.6,2444.9 737.6,2448.1 738.7,2445.9 739.8,2447.1 740.9,2447.5 742.0,2445.0 743.1,2474.0 744.2,2474.0 745.3,2431.0 746.4,2446.3 747.5,2445.1 748.6,2446.4 749.6,2447.1 750.7,2446.0 751.8,2446.9 752.9,2445.8 754.0,2446.3 755.1,2446.6 756.2,2446.4 757.3,2447.6 758.4,2447.2 759.5,2447.1 760.5,2447.0 761.6,2446.5 762.7,2445.2 763.8,2447.3 764.9,2448.0 766.0,2446.5 767.1,2446.1 768.2,2446.3 769.3,2447.5 770.4,2446.6 771.5,2445.3 772.5,2446.1 773.6,2445.6 774.7,2446.1 775.8,2445.4 776.9,2474.0 778.0,2474.0 779.1,2431.0 780.2,2444.7 781.3,2445.3 782.4,2445.9 783.4,2445.9 784.5,2445.0 785.6,2447.2 786.7,2444.7 787.8,2447.0 788.9,2447.0" fill="none" stroke="#228060" stroke-width="1.6"/><path d="M801.6,2446 L820,2445 L824,2470 L830,2432 L840,2444 L859.4,2446" fill="none" stroke="#228060" stroke-width="1.6"/><line x1="866" y1="2375" x2="866" y2="2405" stroke="#000" stroke-width="1.5"/><line x1="866" y1="2432" x2="866" y2="2462" stroke="#000" stroke-width="1.5"/><line x1="836" y1="2476" x2="852" y2="2476" stroke="#000" stroke-width="1.5"/><text transform="translate(880,2390) rotate(-90)" font-size="17" text-anchor="middle" font-family="Liberation Serif">50 mV</text><text transform="translate(880,2452.5) rotate(-90)" font-size="17" text-anchor="middle" font-family="Liberation Serif">200 µV</text><text x="845.3" y="2486.9" font-size="17" text-anchor="middle" font-family="Liberation Serif" fill="#000">1 ms</text><rect x="913.4" y="2024.3" width="491.9" height="468.7" rx="20" fill="#f5f5f5" stroke="#000" stroke-width="2" stroke-dasharray="7 5"/><text x="927.1" y="2059.4" font-size="27.8" text-anchor="start" font-family="Liberation Serif" fill="#000" font-weight="bold">(c) Simulated Extracellular Recording</text><clipPath id="cbox"><rect x="916" y="2070" width="240" height="420"/></clipPath><g clip-path="url(#cbox)"><g transform="translate(1004.6,2224.2) rotate(40) scale(1.5)" fill="none" stroke="#777" stroke-width="2.1" stroke-linecap="round" stroke-linejoin="round"><circle r="4.5"/><path d="M14.9,-1.7Q4.4,2.4 6.5,13.5Q-0.7,4.9 -10.1,11.1Q-5.0,0.4 -11.8,-9.2Q-1.0,-4.9 7.2,-13.2Q4.1,-2.8 14.9,-1.7"/><path d="M14.9,-1.7 Q29.9,-1.9 52.3,-5.9"/><line x1="52.3" y1="-5.9" x2="59.1" y2="-11.8"/><line x1="52.3" y1="-5.9" x2="60.3" y2="-1.7"/><line x1="37.0" y1="-4.2" x2="42.4" y2="0.3"/><path d="M6.5,13.5 Q14.5,26.5 19.9,41.5"/><line x1="19.9" y1="41.5" x2="27.7" y2="46.0"/><line x1="19.9" y1="41.5" x2="18.5" y2="50.4"/><line x1="14.5" y1="30.3" x2="12.1" y2="36.8"/><path d="M-10.1,11.1 Q-17.7,20.3 -35.2,38.6"/><line x1="-35.2" y1="38.6" x2="-36.4" y2="47.5"/><line x1="-35.2" y1="38.6" x2="-43.9" y2="40.7"/><line x1="-24.9" y1="27.3" x2="-31.9" y2="27.5"/><path d="M-11.8,-9.2 Q-29.2,-24.5 -39.0,-30.5"/><line x1="-39.0" y1="-30.5" x2="-48.0" y2="-31.1"/><line x1="-39.0" y1="-30.5" x2="-41.7" y2="-39.1"/><line x1="-28.0" y1="-21.9" x2="-28.7" y2="-28.8"/><path d="M7.2,-13.2 Q16.5,-21.2 21.3,-39.0"/><line x1="21.3" y1="-39.0" x2="20.4" y2="-48.0"/><line x1="21.3" y1="-39.0" x2="29.3" y2="-43.1"/><line x1="15.6" y1="-28.7" x2="22.4" y2="-30.6"/></g><g transform="translate(989.3,2307.0) rotate(7) scale(1.5)" fill="none" stroke="#8a8fd0" stroke-width="2.2" stroke-linecap="round" stroke-linejoin="round"><circle r="4.5"/><path d="M15.0,-1.1Q4.4,2.4 7.4,13.1Q-1.1,4.9 -12.3,8.6Q-5.0,-0.0 -12.2,-8.7Q-1.7,-4.7 3.9,-14.5Q3.9,-3.2 15.0,-1.1"/><path d="M15.0,-1.1 Q32.8,1.3 44.6,-3.2"/><line x1="44.6" y1="-3.2" x2="51.6" y2="-8.8"/><line x1="44.6" y1="-3.2" x2="52.4" y2="1.4"/><line x1="32.8" y1="-2.3" x2="38.0" y2="2.3"/><path d="M7.4,13.1 Q13.5,27.1 21.8,38.7"/><line x1="21.8" y1="38.7" x2="29.8" y2="42.7"/><line x1="21.8" y1="38.7" x2="21.0" y2="47.7"/><line x1="16.0" y1="28.5" x2="14.0" y2="35.2"/><path d="M-12.3,8.6 Q-21.9,17.6 -41.1,28.8"/><line x1="-41.1" y1="28.8" x2="-44.3" y2="37.2"/><line x1="-41.1" y1="28.8" x2="-50.1" y2="28.9"/><line x1="-29.4" y1="20.6" x2="-36.3" y2="19.2"/><path d="M-12.2,-8.7 Q-25.7,-15.7 -40.1,-28.7"/><line x1="-40.1" y1="-28.7" x2="-49.1" y2="-28.9"/><line x1="-40.1" y1="-28.7" x2="-43.2" y2="-37.2"/><line x1="-28.8" y1="-20.6" x2="-29.8" y2="-27.5"/><path d="M3.9,-14.5 Q4.2,-31.8 11.0,-41.3"/><line x1="11.0" y1="-41.3" x2="8.0" y2="-49.8"/><line x1="11.0" y1="-41.3" x2="17.9" y2="-47.2"/><line x1="8.2" y1="-30.7" x2="14.3" y2="-34.1"/></g><g transform="translate(1123.0,2272.0) rotate(56) scale(1.4)" fill="none" stroke="#dccbbb" stroke-width="2.3" stroke-linecap="round" stroke-linejoin="round"><circle r="4.5"/><path d="M14.9,-1.6Q4.2,2.7 4.7,14.2Q-1.2,4.9 -10.6,10.6Q-5.0,0.6 -12.8,-7.9Q-2.2,-4.5 1.7,-14.9Q3.6,-3.5 14.9,-1.6"/><path d="M14.9,-1.6 Q27.7,-2.0 47.5,-5.0"/><line x1="47.5" y1="-5.0" x2="54.4" y2="-10.8"/><line x1="47.5" y1="-5.0" x2="55.4" y2="-0.7"/><line x1="34.3" y1="-3.6" x2="39.7" y2="0.9"/><path d="M4.7,14.2 Q6.6,28.0 13.9,42.1"/><line x1="13.9" y1="42.1" x2="21.0" y2="47.5"/><line x1="13.9" y1="42.1" x2="11.4" y2="50.7"/><line x1="10.2" y1="31.0" x2="7.0" y2="37.2"/><path d="M-10.6,10.6 Q-23.7,16.9 -32.0,32.2"/><line x1="-32.0" y1="32.2" x2="-33.7" y2="41.0"/><line x1="-32.0" y1="32.2" x2="-40.9" y2="33.8"/><line x1="-23.4" y1="23.5" x2="-30.4" y2="23.4"/><path d="M-12.8,-7.9 Q-20.2,-16.9 -35.5,-22.0"/><line x1="-35.5" y1="-22.0" x2="-44.5" y2="-21.6"/><line x1="-35.5" y1="-22.0" x2="-39.2" y2="-30.2"/><line x1="-26.5" y1="-16.4" x2="-28.0" y2="-23.3"/><path d="M1.7,-14.9 Q0.0,-28.5 4.7,-41.7"/><line x1="4.7" y1="-41.7" x2="0.5" y2="-49.6"/><line x1="4.7" y1="-41.7" x2="10.6" y2="-48.5"/><line x1="3.5" y1="-31.1" x2="9.1" y2="-35.4"/></g><g transform="translate(1132.7,2360.6) rotate(60) scale(1.4)" fill="none" stroke="#e2e2e2" stroke-width="2.3" stroke-linecap="round" stroke-linejoin="round"><circle r="4.5"/><path d="M14.9,-1.9Q4.0,3.0 2.4,14.8Q-1.9,4.6 -12.1,8.9Q-5.0,0.1 -12.4,-8.4Q-1.3,-4.8 6.4,-13.6Q4.1,-2.9 14.9,-1.9"/><path d="M14.9,-1.9 Q25.7,-3.3 45.4,-5.7"/><line x1="45.4" y1="-5.7" x2="52.1" y2="-11.7"/><line x1="45.4" y1="-5.7" x2="53.4" y2="-1.6"/><line x1="33.2" y1="-4.2" x2="38.6" y2="0.2"/><path d="M2.4,14.8 Q6.3,29.3 7.8,48.3"/><line x1="7.8" y1="48.3" x2="14.0" y2="54.8"/><line x1="7.8" y1="48.3" x2="4.0" y2="56.4"/><line x1="5.6" y1="34.7" x2="1.4" y2="40.3"/><path d="M-12.1,8.9 Q-23.4,24.9 -42.1,31.0"/><line x1="-42.1" y1="31.0" x2="-45.0" y2="39.5"/><line x1="-42.1" y1="31.0" x2="-51.1" y2="31.3"/><line x1="-29.8" y1="21.9" x2="-36.7" y2="20.8"/><path d="M-12.4,-8.4 Q-22.1,-14.9 -38.4,-25.9"/><line x1="-38.4" y1="-25.9" x2="-47.4" y2="-25.8"/><line x1="-38.4" y1="-25.9" x2="-41.7" y2="-34.2"/><line x1="-28.0" y1="-18.8" x2="-29.2" y2="-25.7"/><path d="M6.4,-13.6 Q7.7,-29.6 18.5,-39.0"/><line x1="18.5" y1="-39.0" x2="17.1" y2="-47.8"/><line x1="18.5" y1="-39.0" x2="26.2" y2="-43.5"/><line x1="13.7" y1="-28.9" x2="20.3" y2="-31.1"/></g><g transform="translate(1043.5,2368.6) rotate(7) scale(1.5)" fill="none" stroke="#7fd6ae" stroke-width="2.2" stroke-linecap="round" stroke-linejoin="round"><circle r="4.5"/><path d="M14.8,-2.7Q4.4,2.4 5.5,14.0Q-1.7,4.7 -13.0,7.5Q-5.0,-0.1 -12.8,-7.8Q-1.7,-4.7 4.7,-14.2Q3.8,-3.3 14.8,-2.7"/><path d="M14.8,-2.7 Q24.7,-0.4 40.5,-7.3"/><line x1="40.5" y1="-7.3" x2="46.9" y2="-13.6"/><line x1="40.5" y1="-7.3" x2="48.7" y2="-3.6"/><line x1="30.4" y1="-5.5" x2="36.1" y2="-1.4"/><path d="M5.5,14.0 Q10.5,29.2 15.0,38.3"/><line x1="15.0" y1="38.3" x2="22.4" y2="43.4"/><line x1="15.0" y1="38.3" x2="13.0" y2="47.1"/><line x1="11.3" y1="28.7" x2="8.4" y2="35.1"/><path d="M-13.0,7.5 Q-26.0,15.3 -43.8,25.2"/><line x1="-43.8" y1="25.2" x2="-47.7" y2="33.3"/><line x1="-43.8" y1="25.2" x2="-52.8" y2="24.5"/><line x1="-31.2" y1="18.0" x2="-38.0" y2="16.0"/><path d="M-12.8,-7.8 Q-24.7,-14.4 -43.2,-26.4"/><line x1="-43.2" y1="-26.4" x2="-52.2" y2="-26.0"/><line x1="-43.2" y1="-26.4" x2="-46.9" y2="-34.6"/><line x1="-30.8" y1="-18.8" x2="-32.3" y2="-25.7"/><path d="M4.7,-14.2 Q6.7,-27.7 16.6,-50.1"/><line x1="16.6" y1="-50.1" x2="14.1" y2="-58.8"/><line x1="16.6" y1="-50.1" x2="23.8" y2="-55.6"/><line x1="11.7" y1="-35.4" x2="18.0" y2="-38.5"/></g></g><path d="M1062,2092.2 L1085.8,2092.2 L1085.8,2287.3 L1073.7,2308 L1062,2287.3 Z" fill="#c4c4c4"/><rect x="1063.9" y="2248.4" width="5" height="5" fill="#7a7a7a"/><rect x="1071.2" y="2251.4" width="5" height="5" fill="#7a7a7a"/><rect x="1078.5" y="2248.4" width="5" height="5" fill="#7a7a7a"/><rect x="1063.9" y="2255.0" width="5" height="5" fill="#7a7a7a"/><rect x="1071.2" y="2258.0" width="5" height="5" fill="#7a7a7a"/><rect x="1078.5" y="2255.0" width="5" height="5" fill="#7a7a7a"/><rect x="1063.9" y="2261.6" width="5" height="5" fill="#7a7a7a"/><rect x="1071.2" y="2264.6" width="5" height="5" fill="#7a7a7a"/><rect x="1078.5" y="2261.6" width="5" height="5" fill="#7a7a7a"/><rect x="1063.9" y="2268.2" width="5" height="5" fill="#7a7a7a"/><rect x="1071.2" y="2271.2" width="5" height="5" fill="#7a7a7a"/><rect x="1078.5" y="2268.2" width="5" height="5" fill="#7a7a7a"/><rect x="1063.9" y="2274.8" width="5" height="5" fill="#2a7a5a"/><rect x="1071.2" y="2277.8" width="5" height="5" fill="#2a7a5a"/><rect x="1078.5" y="2274.8" width="5" height="5" fill="#2a7a5a"/><text x="976.5" y="2105.6" font-size="20" text-anchor="start" font-family="Liberation Serif" fill="#000">Electrode</text><text x="1166.2" y="2148.7" font-size="19" text-anchor="start" font-family="Liberation Serif" fill="#000">Ch1</text><line x1="1083" y1="2265" x2="1162" y2="2137.3" stroke="#777" stroke-width="1" stroke-dasharray="3 2"/><line x1="1205.6" y1="2127.8" x2="1205.6" y2="2189.1" stroke="#9edae5" stroke-width="1.1" opacity="0.8"/><line x1="1211.0" y1="2129.8" x2="1211.0" y2="2168.6" stroke="#f0d080" stroke-width="1.1" opacity="0.8"/><line x1="1220.7" y1="2120.5" x2="1220.7" y2="2185.7" stroke="#f0d080" stroke-width="1.1" opacity="0.8"/><line x1="1226.2" y1="2125.9" x2="1226.2" y2="2167.1" stroke="#9edae5" stroke-width="1.1" opacity="0.8"/><line x1="1235.2" y1="2121.6" x2="1235.2" y2="2166.6" stroke="#ff9896" stroke-width="1.1" opacity="0.8"/><line x1="1239.4" y1="2128.5" x2="1239.4" y2="2183.3" stroke="#ffbb78" stroke-width="1.1" opacity="0.8"/><line x1="1247.6" y1="2129.1" x2="1247.6" y2="2161.0" stroke="#ffbb78" stroke-width="1.1" opacity="0.8"/><line x1="1252.9" y1="2129.0" x2="1252.9" y2="2158.1" stroke="#ff9896" stroke-width="1.1" opacity="0.8"/><line x1="1260.8" y1="2125.0" x2="1260.8" y2="2168.6" stroke="#1f77b4" stroke-width="1.1" opacity="0.8"/><line x1="1268.2" y1="2131.9" x2="1268.2" y2="2163.4" stroke="#ffbb78" stroke-width="1.1" opacity="0.8"/><line x1="1273.3" y1="2130.3" x2="1273.3" y2="2191.9" stroke="#f0d080" stroke-width="1.1" opacity="0.8"/><line x1="1281.6" y1="2123.3" x2="1281.6" y2="2184.6" stroke="#ffbb78" stroke-width="1.1" opacity="0.8"/><line x1="1290.4" y1="2131.0" x2="1290.4" y2="2171.0" stroke="#ff9896" stroke-width="1.1" opacity="0.8"/><line x1="1297.4" y1="2118.3" x2="1297.4" y2="2175.7" stroke="#ffbb78" stroke-width="1.1" opacity="0.8"/><line x1="1300.6" y1="2115.9" x2="1300.6" y2="2159.2" stroke="#9edae5" stroke-width="1.1" opacity="0.8"/><line x1="1310.0" y1="2116.3" x2="1310.0" y2="2187.3" stroke="#ff9896" stroke-width="1.1" opacity="0.8"/><line x1="1316.9" y1="2114.9" x2="1316.9" y2="2189.7" stroke="#f0d080" stroke-width="1.1" opacity="0.8"/><line x1="1321.8" y1="2124.4" x2="1321.8" y2="2173.7" stroke="#9edae5" stroke-width="1.1" opacity="0.8"/><line x1="1331.5" y1="2128.2" x2="1331.5" y2="2178.3" stroke="#f0d080" stroke-width="1.1" opacity="0.8"/><line x1="1337.4" y1="2115.7" x2="1337.4" y2="2175.8" stroke="#f0d080" stroke-width="1.1" opacity="0.8"/><line x1="1343.8" y1="2121.6" x2="1343.8" y2="2178.1" stroke="#ff9896" stroke-width="1.1" opacity="0.8"/><line x1="1352.6" y1="2122.6" x2="1352.6" y2="2168.8" stroke="#ffbb78" stroke-width="1.1" opacity="0.8"/><line x1="1356.8" y1="2126.7" x2="1356.8" y2="2183.1" stroke="#f0d080" stroke-width="1.1" opacity="0.8"/><line x1="1366.7" y1="2131.4" x2="1366.7" y2="2191.2" stroke="#9edae5" stroke-width="1.1" opacity="0.8"/><line x1="1372.6" y1="2130.3" x2="1372.6" y2="2163.8" stroke="#9edae5" stroke-width="1.1" opacity="0.8"/><line x1="1380.2" y1="2117.4" x2="1380.2" y2="2185.2" stroke="#ffbb78" stroke-width="1.1" opacity="0.8"/><polyline points="1204,2138 1205,2146 1206,2137 1207,2135 1208,2137 1209,2145 1210,2139 1211,2136 1212,2139 1213,2128 1214,2132 1215,2135 1216,2146 1217,2143 1218,2151 1219,2139 1220,2147 1221,2135 1222,2141 1223,2143 1224,2133 1225,2138 1226,2136 1227,2143 1228,2149 1229,2150 1230,2138 1231,2149 1232,2143 1233,2153 1234,2139 1235,2162 1236,2134 1237,2146 1238,2144 1239,2137 1240,2136 1241,2143 1242,2140 1243,2137 1244,2139 1245,2138 1246,2135 1247,2145 1248,2146 1249,2135 1250,2143 1251,2146 1252,2139 1253,2132 1254,2147 1255,2151 1256,2148 1257,2150 1258,2135 1259,2141 1260,2140 1261,2146 1262,2132 1263,2151 1264,2140 1265,2135 1266,2145 1267,2147 1268,2128 1269,2138 1270,2146 1271,2131 1272,2139 1273,2140 1274,2135 1275,2139 1276,2142 1277,2144 1278,2141 1279,2132 1280,2134 1281,2130 1282,2136 1283,2140 1284,2130 1285,2140 1286,2146 1287,2140 1288,2136 1289,2140 1290,2139 1291,2145 1292,2151 1293,2147 1294,2143 1295,2143 1296,2142 1297,2147 1298,2155 1299,2140 1300,2132 1301,2139 1302,2141 1303,2133 1304,2138 1305,2141 1306,2145 1307,2141 1308,2142 1309,2144 1310,2146 1311,2141 1312,2143 1313,2134 1314,2140 1315,2140 1316,2152 1317,2149 1318,2145 1319,2147 1320,2142 1321,2140 1322,2139 1323,2143 1324,2144 1325,2147 1326,2151 1327,2141 1328,2148 1329,2141 1330,2140 1331,2137 1332,2148 1333,2137 1334,2139 1335,2137 1336,2143 1337,2151 1338,2144 1339,2141 1340,2136 1341,2139 1342,2145 1343,2131 1344,2139 1345,2139 1346,2135 1347,2137 1348,2145 1349,2135 1350,2144 1351,2147 1352,2143 1353,2150 1354,2148 1355,2148 1356,2144 1357,2152 1358,2144 1359,2136 1360,2142 1361,2147 1362,2142 1363,2143 1364,2148 1365,2141 1366,2140 1367,2146 1368,2150 1369,2142 1370,2139 1371,2142 1372,2141 1373,2142 1374,2146 1375,2149 1376,2141 1377,2136 1378,2146 1379,2140 1380,2146 1381,2143 1382,2130 1383,2141" fill="none" stroke="#93c27a" stroke-width="2.6" opacity="0.9"/><polyline points="1204.4,2143.2 1206.4,2140.6 1208.4,2141.9 1210.4,2140.2 1212.4,2140.4 1214.4,2140.6 1216.4,2146.6 1218.4,2141.6 1220.4,2140.1 1222.4,2142.9 1224.4,2142.7 1226.4,2145.6 1228.4,2143.7 1230.4,2143.3 1232.4,2142.6 1234.4,2141.9 1236.4,2141.5 1238.4,2139.8 1240.4,2140.6 1242.4,2141.7 1244.4,2145.1 1246.4,2146.3 1248.4,2142.6 1250.4,2138.7 1252.4,2145.2 1254.4,2144.3 1256.4,2142.6 1258.4,2143.6 1260.4,2139.6 1262.4,2141.7 1264.4,2144.8 1266.4,2144.6 1268.4,2138.6 1270.4,2140.2 1272.4,2145.0 1274.4,2140.9 1276.4,2139.1 1278.4,2146.0 1280.4,2142.0 1282.4,2140.7 1284.4,2144.3 1286.4,2139.8 1288.4,2142.2 1290.4,2143.8 1292.4,2144.8 1294.4,2142.6 1296.4,2142.3 1298.4,2144.0 1300.4,2142.3 1302.4,2143.4 1304.4,2140.7 1306.4,2142.5 1308.4,2141.9 1310.4,2143.9 1312.4,2138.2 1314.4,2142.1 1316.4,2144.4 1318.4,2145.6 1320.4,2144.0 1322.4,2140.1 1324.4,2139.2 1326.4,2141.4 1328.4,2139.4 1330.4,2141.7 1332.4,2145.3 1334.4,2140.6 1336.4,2142.3 1338.4,2143.0 1340.4,2144.0 1342.4,2141.6 1344.4,2142.6 1346.4,2140.9 1348.4,2140.5 1350.4,2142.9 1352.4,2141.7 1354.4,2137.5 1356.4,2139.7 1358.4,2142.2 1360.4,2141.5 1362.4,2143.5 1364.4,2143.2 1366.4,2142.0 1368.4,2145.0 1370.4,2141.2 1372.4,2146.2 1374.4,2144.2 1376.4,2144.4 1378.4,2143.8 1380.4,2146.7 1382.4,2146.4" fill="none" stroke="#6aa050" stroke-width="1.5"/><text x="1166.2" y="2235.7" font-size="19" text-anchor="start" font-family="Liberation Serif" fill="#000">Ch2</text><line x1="1083" y1="2265" x2="1162" y2="2227.2" stroke="#777" stroke-width="1" stroke-dasharray="3 2"/><line x1="1205.2" y1="2221.1" x2="1205.2" y2="2270.5" stroke="#ffbb78" stroke-width="1.1" opacity="0.8"/><line x1="1211.2" y1="2214.8" x2="1211.2" y2="2252.2" stroke="#1f77b4" stroke-width="1.1" opacity="0.8"/><line x1="1221.4" y1="2212.4" x2="1221.4" y2="2262.5" stroke="#f0d080" stroke-width="1.1" opacity="0.8"/><line x1="1227.4" y1="2212.7" x2="1227.4" y2="2259.6" stroke="#1f77b4" stroke-width="1.1" opacity="0.8"/><line x1="1233.6" y1="2206.4" x2="1233.6" y2="2250.8" stroke="#ffbb78" stroke-width="1.1" opacity="0.8"/><line x1="1239.1" y1="2220.8" x2="1239.1" y2="2264.2" stroke="#ffbb78" stroke-width="1.1" opacity="0.8"/><line x1="1247.6" y1="2220.6" x2="1247.6" y2="2278.7" stroke="#f0d080" stroke-width="1.1" opacity="0.8"/><line x1="1253.3" y1="2209.6" x2="1253.3" y2="2280.1" stroke="#ffbb78" stroke-width="1.1" opacity="0.8"/><line x1="1263.1" y1="2206.7" x2="1263.1" y2="2279.9" stroke="#ffbb78" stroke-width="1.1" opacity="0.8"/><line x1="1266.2" y1="2207.9" x2="1266.2" y2="2282.1" stroke="#9edae5" stroke-width="1.1" opacity="0.8"/><line x1="1275.3" y1="2216.5" x2="1275.3" y2="2253.1" stroke="#f0d080" stroke-width="1.1" opacity="0.8"/><line x1="1283.0" y1="2204.9" x2="1283.0" y2="2248.3" stroke="#ffbb78" stroke-width="1.1" opacity="0.8"/><line x1="1287.2" y1="2205.0" x2="1287.2" y2="2248.0" stroke="#ff9896" stroke-width="1.1" opacity="0.8"/><line x1="1293.8" y1="2209.8" x2="1293.8" y2="2265.4" stroke="#ffbb78" stroke-width="1.1" opacity="0.8"/><line x1="1302.9" y1="2222.2" x2="1302.9" y2="2249.6" stroke="#1f77b4" stroke-width="1.1" opacity="0.8"/><line x1="1310.7" y1="2207.2" x2="1310.7" y2="2261.5" stroke="#9edae5" stroke-width="1.1" opacity="0.8"/><line x1="1315.7" y1="2215.1" x2="1315.7" y2="2278.6" stroke="#ff9896" stroke-width="1.1" opacity="0.8"/><line x1="1322.3" y1="2211.7" x2="1322.3" y2="2265.6" stroke="#1f77b4" stroke-width="1.1" opacity="0.8"/><line x1="1329.5" y1="2214.0" x2="1329.5" y2="2255.4" stroke="#ff9896" stroke-width="1.1" opacity="0.8"/><line x1="1338.6" y1="2218.6" x2="1338.6" y2="2254.6" stroke="#ffbb78" stroke-width="1.1" opacity="0.8"/><line x1="1343.8" y1="2208.1" x2="1343.8" y2="2258.9" stroke="#ffbb78" stroke-width="1.1" opacity="0.8"/><line x1="1349.9" y1="2217.5" x2="1349.9" y2="2265.5" stroke="#f0d080" stroke-width="1.1" opacity="0.8"/><line x1="1356.8" y1="2218.9" x2="1356.8" y2="2255.3" stroke="#1f77b4" stroke-width="1.1" opacity="0.8"/><line x1="1363.9" y1="2208.9" x2="1363.9" y2="2254.4" stroke="#ff9896" stroke-width="1.1" opacity="0.8"/><line x1="1369.7" y1="2212.5" x2="1369.7" y2="2250.0" stroke="#ffbb78" stroke-width="1.1" opacity="0.8"/><line x1="1379.6" y1="2214.3" x2="1379.6" y2="2248.8" stroke="#ffbb78" stroke-width="1.1" opacity="0.8"/><polyline points="1204,2231 1205,2230 1206,2238 1207,2234 1208,2230 1209,2234 1210,2230 1211,2234 1212,2234 1213,2237 1214,2235 1215,2239 1216,2243 1217,2242 1218,2239 1219,2232 1220,2238 1221,2233 1222,2227 1223,2232 1224,2223 1225,2247 1226,2237 1227,2235 1228,2244 1229,2244 1230,2231 1231,2232 1232,2242 1233,2240 1234,2238 1235,2236 1236,2238 1237,2245 1238,2236 1239,2256 1240,2239 1241,2244 1242,2232 1243,2233 1244,2238 1245,2242 1246,2235 1247,2240 1248,2232 1249,2235 1250,2249 1251,2244 1252,2229 1253,2242 1254,2236 1255,2228 1256,2234 1257,2246 1258,2230 1259,2220 1260,2223 1261,2222 1262,2214 1263,2234 1264,2232 1265,2234 1266,2226 1267,2227 1268,2216 1269,2219 1270,2221 1271,2225 1272,2224 1273,2233 1274,2227 1275,2228 1276,2229 1277,2232 1278,2230 1279,2238 1280,2234 1281,2231 1282,2228 1283,2239 1284,2229 1285,2221 1286,2230 1287,2225 1288,2238 1289,2233 1290,2227 1291,2229 1292,2232 1293,2228 1294,2231 1295,2224 1296,2226 1297,2231 1298,2236 1299,2234 1300,2223 1301,2239 1302,2221 1303,2224 1304,2232 1305,2228 1306,2236 1307,2228 1308,2228 1309,2226 1310,2231 1311,2229 1312,2237 1313,2232 1314,2232 1315,2228 1316,2233 1317,2233 1318,2229 1319,2232 1320,2234 1321,2232 1322,2238 1323,2237 1324,2233 1325,2232 1326,2236 1327,2245 1328,2243 1329,2227 1330,2246 1331,2220 1332,2237 1333,2234 1334,2224 1335,2230 1336,2231 1337,2234 1338,2236 1339,2234 1340,2250 1341,2228 1342,2234 1343,2234 1344,2237 1345,2235 1346,2242 1347,2234 1348,2239 1349,2229 1350,2238 1351,2233 1352,2233 1353,2233 1354,2242 1355,2246 1356,2241 1357,2227 1358,2233 1359,2246 1360,2236 1361,2234 1362,2239 1363,2230 1364,2232 1365,2234 1366,2237 1367,2241 1368,2233 1369,2237 1370,2239 1371,2235 1372,2228 1373,2232 1374,2228 1375,2222 1376,2233 1377,2239 1378,2229 1379,2234 1380,2240 1381,2233 1382,2228 1383,2230" fill="none" stroke="#93c27a" stroke-width="2.6" opacity="0.9"/><polyline points="1204.4,2233.2 1206.4,2230.6 1208.4,2231.4 1210.4,2232.6 1212.4,2229.3 1214.4,2234.9 1216.4,2230.7 1218.4,2237.0 1220.4,2232.2 1222.4,2230.1 1224.4,2231.5 1226.4,2232.2 1228.4,2232.8 1230.4,2235.0 1232.4,2237.2 1234.4,2234.4 1236.4,2231.8 1238.4,2230.4 1240.4,2230.7 1242.4,2233.9 1244.4,2232.1 1246.4,2235.2 1248.4,2231.2 1250.4,2232.8 1252.4,2235.5 1254.4,2232.7 1256.4,2229.1 1258.4,2230.4 1260.4,2231.8 1262.4,2232.2 1264.4,2232.3 1266.4,2230.4 1268.4,2233.9 1270.4,2231.7 1272.4,2235.3 1274.4,2230.5 1276.4,2229.9 1278.4,2232.3 1280.4,2236.5 1282.4,2229.3 1284.4,2231.8 1286.4,2231.4 1288.4,2234.3 1290.4,2232.9 1292.4,2230.2 1294.4,2231.4 1296.4,2233.8 1298.4,2232.4 1300.4,2231.6 1302.4,2232.5 1304.4,2234.7 1306.4,2232.3 1308.4,2233.1 1310.4,2233.9 1312.4,2232.9 1314.4,2235.3 1316.4,2233.8 1318.4,2234.3 1320.4,2229.7 1322.4,2232.0 1324.4,2230.6 1326.4,2233.4 1328.4,2232.9 1330.4,2229.5 1332.4,2233.6 1334.4,2229.8 1336.4,2232.3 1338.4,2232.6 1340.4,2234.6 1342.4,2230.7 1344.4,2233.5 1346.4,2232.4 1348.4,2232.9 1350.4,2232.3 1352.4,2229.6 1354.4,2230.7 1356.4,2231.7 1358.4,2233.9 1360.4,2230.9 1362.4,2230.9 1364.4,2230.6 1366.4,2235.5 1368.4,2235.4 1370.4,2230.0 1372.4,2232.1 1374.4,2231.7 1376.4,2235.3 1378.4,2230.5 1380.4,2231.7 1382.4,2234.5" fill="none" stroke="#6aa050" stroke-width="1.5"/><text x="1166.2" y="2325.6" font-size="19" text-anchor="start" font-family="Liberation Serif" fill="#000">Ch3</text><line x1="1083" y1="2265" x2="1162" y2="2315.8" stroke="#777" stroke-width="1" stroke-dasharray="3 2"/><line x1="1205.4" y1="2306.8" x2="1205.4" y2="2357.5" stroke="#f0d080" stroke-width="1.1" opacity="0.8"/><line x1="1211.5" y1="2296.6" x2="1211.5" y2="2366.8" stroke="#ff9896" stroke-width="1.1" opacity="0.8"/><line x1="1218.5" y1="2294.3" x2="1218.5" y2="2359.5" stroke="#ffbb78" stroke-width="1.1" opacity="0.8"/><line x1="1225.4" y1="2299.9" x2="1225.4" y2="2348.0" stroke="#ff9896" stroke-width="1.1" opacity="0.8"/><line x1="1234.7" y1="2295.1" x2="1234.7" y2="2343.7" stroke="#ff9896" stroke-width="1.1" opacity="0.8"/><line x1="1240.0" y1="2301.9" x2="1240.0" y2="2359.2" stroke="#ffbb78" stroke-width="1.1" opacity="0.8"/><line x1="1248.8" y1="2297.0" x2="1248.8" y2="2359.6" stroke="#1f77b4" stroke-width="1.1" opacity="0.8"/><line x1="1256.1" y1="2309.1" x2="1256.1" y2="2337.3" stroke="#1f77b4" stroke-width="1.1" opacity="0.8"/><line x1="1260.6" y1="2300.0" x2="1260.6" y2="2366.0" stroke="#9edae5" stroke-width="1.1" opacity="0.8"/><line x1="1266.4" y1="2303.3" x2="1266.4" y2="2367.6" stroke="#1f77b4" stroke-width="1.1" opacity="0.8"/><line x1="1275.5" y1="2305.9" x2="1275.5" y2="2359.1" stroke="#f0d080" stroke-width="1.1" opacity="0.8"/><line x1="1282.7" y1="2309.8" x2="1282.7" y2="2363.1" stroke="#ff9896" stroke-width="1.1" opacity="0.8"/><line x1="1287.7" y1="2304.4" x2="1287.7" y2="2348.4" stroke="#1f77b4" stroke-width="1.1" opacity="0.8"/><line x1="1294.7" y1="2305.4" x2="1294.7" y2="2336.3" stroke="#ff9896" stroke-width="1.1" opacity="0.8"/><line x1="1302.1" y1="2300.1" x2="1302.1" y2="2345.2" stroke="#9edae5" stroke-width="1.1" opacity="0.8"/><line x1="1308.0" y1="2302.4" x2="1308.0" y2="2353.7" stroke="#1f77b4" stroke-width="1.1" opacity="0.8"/><line x1="1315.6" y1="2296.4" x2="1315.6" y2="2351.3" stroke="#f0d080" stroke-width="1.1" opacity="0.8"/><line x1="1324.2" y1="2303.4" x2="1324.2" y2="2349.5" stroke="#ffbb78" stroke-width="1.1" opacity="0.8"/><line x1="1330.2" y1="2302.8" x2="1330.2" y2="2355.9" stroke="#9edae5" stroke-width="1.1" opacity="0.8"/><line x1="1339.1" y1="2305.7" x2="1339.1" y2="2346.2" stroke="#ffbb78" stroke-width="1.1" opacity="0.8"/><line x1="1343.6" y1="2299.6" x2="1343.6" y2="2345.8" stroke="#1f77b4" stroke-width="1.1" opacity="0.8"/><line x1="1349.7" y1="2298.5" x2="1349.7" y2="2360.0" stroke="#f0d080" stroke-width="1.1" opacity="0.8"/><line x1="1358.8" y1="2309.2" x2="1358.8" y2="2353.3" stroke="#9edae5" stroke-width="1.1" opacity="0.8"/><line x1="1363.6" y1="2293.0" x2="1363.6" y2="2367.9" stroke="#f0d080" stroke-width="1.1" opacity="0.8"/><line x1="1372.9" y1="2308.8" x2="1372.9" y2="2354.5" stroke="#1f77b4" stroke-width="1.1" opacity="0.8"/><line x1="1377.8" y1="2301.5" x2="1377.8" y2="2346.6" stroke="#9edae5" stroke-width="1.1" opacity="0.8"/><polyline points="1204,2316 1205,2322 1206,2322 1207,2327 1208,2320 1209,2315 1210,2323 1211,2314 1212,2325 1213,2315 1214,2326 1215,2318 1216,2315 1217,2320 1218,2315 1219,2325 1220,2332 1221,2318 1222,2315 1223,2310 1224,2317 1225,2323 1226,2324 1227,2322 1228,2322 1229,2324 1230,2316 1231,2313 1232,2319 1233,2316 1234,2315 1235,2315 1236,2318 1237,2322 1238,2314 1239,2321 1240,2324 1241,2312 1242,2320 1243,2316 1244,2314 1245,2324 1246,2325 1247,2321 1248,2321 1249,2324 1250,2312 1251,2327 1252,2319 1253,2317 1254,2328 1255,2326 1256,2322 1257,2322 1258,2312 1259,2309 1260,2324 1261,2324 1262,2321 1263,2317 1264,2322 1265,2315 1266,2321 1267,2326 1268,2325 1269,2331 1270,2326 1271,2321 1272,2329 1273,2322 1274,2322 1275,2319 1276,2322 1277,2317 1278,2326 1279,2320 1280,2327 1281,2326 1282,2319 1283,2325 1284,2309 1285,2306 1286,2325 1287,2312 1288,2333 1289,2310 1290,2328 1291,2320 1292,2315 1293,2323 1294,2309 1295,2327 1296,2320 1297,2320 1298,2318 1299,2328 1300,2327 1301,2309 1302,2328 1303,2318 1304,2319 1305,2320 1306,2322 1307,2322 1308,2340 1309,2320 1310,2317 1311,2321 1312,2310 1313,2323 1314,2323 1315,2313 1316,2317 1317,2305 1318,2329 1319,2322 1320,2322 1321,2313 1322,2305 1323,2321 1324,2322 1325,2313 1326,2316 1327,2322 1328,2318 1329,2321 1330,2322 1331,2319 1332,2312 1333,2321 1334,2309 1335,2314 1336,2312 1337,2302 1338,2327 1339,2311 1340,2318 1341,2326 1342,2316 1343,2318 1344,2311 1345,2318 1346,2324 1347,2316 1348,2324 1349,2316 1350,2315 1351,2315 1352,2317 1353,2312 1354,2321 1355,2309 1356,2317 1357,2323 1358,2315 1359,2311 1360,2318 1361,2311 1362,2322 1363,2325 1364,2318 1365,2317 1366,2329 1367,2322 1368,2315 1369,2315 1370,2323 1371,2316 1372,2333 1373,2329 1374,2328 1375,2320 1376,2331 1377,2317 1378,2326 1379,2330 1380,2322 1381,2333 1382,2328 1383,2315" fill="none" stroke="#93c27a" stroke-width="2.6" opacity="0.9"/><polyline points="1204.4,2319.7 1206.4,2322.6 1208.4,2319.7 1210.4,2317.8 1212.4,2319.8 1214.4,2321.0 1216.4,2321.8 1218.4,2321.5 1220.4,2321.9 1222.4,2318.7 1224.4,2319.6 1226.4,2319.3 1228.4,2320.0 1230.4,2321.7 1232.4,2323.5 1234.4,2320.4 1236.4,2323.0 1238.4,2323.1 1240.4,2318.5 1242.4,2319.2 1244.4,2321.1 1246.4,2318.1 1248.4,2324.6 1250.4,2317.1 1252.4,2318.4 1254.4,2322.4 1256.4,2319.4 1258.4,2322.3 1260.4,2318.9 1262.4,2323.0 1264.4,2319.7 1266.4,2322.3 1268.4,2322.8 1270.4,2317.9 1272.4,2319.1 1274.4,2317.4 1276.4,2318.6 1278.4,2322.7 1280.4,2320.8 1282.4,2322.5 1284.4,2323.7 1286.4,2322.9 1288.4,2322.3 1290.4,2320.0 1292.4,2320.1 1294.4,2321.5 1296.4,2322.6 1298.4,2323.0 1300.4,2321.5 1302.4,2320.3 1304.4,2320.7 1306.4,2324.2 1308.4,2321.4 1310.4,2324.9 1312.4,2319.4 1314.4,2322.6 1316.4,2321.3 1318.4,2322.4 1320.4,2319.4 1322.4,2321.5 1324.4,2320.7 1326.4,2320.3 1328.4,2318.5 1330.4,2318.0 1332.4,2320.2 1334.4,2322.0 1336.4,2321.4 1338.4,2321.3 1340.4,2321.5 1342.4,2318.2 1344.4,2323.0 1346.4,2321.0 1348.4,2319.4 1350.4,2319.8 1352.4,2322.8 1354.4,2321.3 1356.4,2317.6 1358.4,2325.1 1360.4,2317.9 1362.4,2324.3 1364.4,2322.6 1366.4,2318.9 1368.4,2323.4 1370.4,2323.4 1372.4,2323.0 1374.4,2322.2 1376.4,2321.5 1378.4,2321.3 1380.4,2319.8 1382.4,2321.4" fill="none" stroke="#6aa050" stroke-width="1.5"/><text x="1166.2" y="2412.3" font-size="19" text-anchor="start" font-family="Liberation Serif" fill="#000">Ch4</text><line x1="1083" y1="2265" x2="1162" y2="2400.3" stroke="#777" stroke-width="1" stroke-dasharray="3 2"/><line x1="1208.0" y1="2390.0" x2="1208.0" y2="2430.6" stroke="#f0d080" stroke-width="1.1" opacity="0.8"/><line x1="1211.2" y1="2383.7" x2="1211.2" y2="2436.9" stroke="#9edae5" stroke-width="1.1" opacity="0.8"/><line x1="1220.9" y1="2392.5" x2="1220.9" y2="2438.9" stroke="#1f77b4" stroke-width="1.1" opacity="0.8"/><line x1="1226.4" y1="2381.9" x2="1226.4" y2="2451.6" stroke="#f0d080" stroke-width="1.1" opacity="0.8"/><line x1="1234.0" y1="2393.6" x2="1234.0" y2="2425.4" stroke="#9edae5" stroke-width="1.1" opacity="0.8"/><line x1="1238.7" y1="2378.0" x2="1238.7" y2="2447.5" stroke="#ffbb78" stroke-width="1.1" opacity="0.8"/><line x1="1245.9" y1="2386.9" x2="1245.9" y2="2440.1" stroke="#ffbb78" stroke-width="1.1" opacity="0.8"/><line x1="1253.4" y1="2389.3" x2="1253.4" y2="2449.9" stroke="#f0d080" stroke-width="1.1" opacity="0.8"/><line x1="1262.4" y1="2386.4" x2="1262.4" y2="2433.5" stroke="#1f77b4" stroke-width="1.1" opacity="0.8"/><line x1="1269.7" y1="2394.1" x2="1269.7" y2="2429.7" stroke="#ffbb78" stroke-width="1.1" opacity="0.8"/><line x1="1276.1" y1="2381.6" x2="1276.1" y2="2426.7" stroke="#f0d080" stroke-width="1.1" opacity="0.8"/><line x1="1281.2" y1="2387.6" x2="1281.2" y2="2421.8" stroke="#ffbb78" stroke-width="1.1" opacity="0.8"/><line x1="1287.0" y1="2393.4" x2="1287.0" y2="2425.1" stroke="#9edae5" stroke-width="1.1" opacity="0.8"/><line x1="1294.5" y1="2385.6" x2="1294.5" y2="2437.4" stroke="#f0d080" stroke-width="1.1" opacity="0.8"/><line x1="1304.4" y1="2380.3" x2="1304.4" y2="2433.6" stroke="#ffbb78" stroke-width="1.1" opacity="0.8"/><line x1="1308.1" y1="2392.1" x2="1308.1" y2="2446.8" stroke="#9edae5" stroke-width="1.1" opacity="0.8"/><line x1="1317.7" y1="2391.5" x2="1317.7" y2="2424.5" stroke="#f0d080" stroke-width="1.1" opacity="0.8"/><line x1="1322.0" y1="2378.9" x2="1322.0" y2="2423.5" stroke="#ffbb78" stroke-width="1.1" opacity="0.8"/><line x1="1328.2" y1="2379.0" x2="1328.2" y2="2423.5" stroke="#ffbb78" stroke-width="1.1" opacity="0.8"/><line x1="1336.2" y1="2381.3" x2="1336.2" y2="2435.6" stroke="#f0d080" stroke-width="1.1" opacity="0.8"/><line x1="1343.8" y1="2381.3" x2="1343.8" y2="2448.1" stroke="#9edae5" stroke-width="1.1" opacity="0.8"/><line x1="1350.9" y1="2377.8" x2="1350.9" y2="2444.7" stroke="#ff9896" stroke-width="1.1" opacity="0.8"/><line x1="1356.4" y1="2388.3" x2="1356.4" y2="2432.9" stroke="#f0d080" stroke-width="1.1" opacity="0.8"/><line x1="1362.8" y1="2379.2" x2="1362.8" y2="2443.7" stroke="#1f77b4" stroke-width="1.1" opacity="0.8"/><line x1="1370.5" y1="2394.8" x2="1370.5" y2="2431.4" stroke="#ff9896" stroke-width="1.1" opacity="0.8"/><line x1="1378.0" y1="2381.2" x2="1378.0" y2="2422.4" stroke="#ff9896" stroke-width="1.1" opacity="0.8"/><polyline points="1204,2397 1205,2408 1206,2410 1207,2401 1208,2392 1209,2411 1210,2406 1211,2404 1212,2405 1213,2416 1214,2406 1215,2412 1216,2406 1217,2402 1218,2405 1219,2408 1220,2410 1221,2408 1222,2410 1223,2406 1224,2401 1225,2408 1226,2402 1227,2409 1228,2402 1229,2404 1230,2408 1231,2417 1232,2401 1233,2403 1234,2396 1235,2407 1236,2405 1237,2408 1238,2397 1239,2403 1240,2406 1241,2412 1242,2412 1243,2403 1244,2408 1245,2413 1246,2393 1247,2407 1248,2401 1249,2399 1250,2406 1251,2398 1252,2405 1253,2402 1254,2408 1255,2399 1256,2418 1257,2403 1258,2396 1259,2406 1260,2401 1261,2394 1262,2404 1263,2407 1264,2398 1265,2406 1266,2407 1267,2400 1268,2404 1269,2408 1270,2402 1271,2406 1272,2401 1273,2403 1274,2390 1275,2399 1276,2414 1277,2401 1278,2396 1279,2398 1280,2395 1281,2400 1282,2402 1283,2406 1284,2400 1285,2406 1286,2401 1287,2410 1288,2402 1289,2406 1290,2398 1291,2411 1292,2407 1293,2405 1294,2411 1295,2413 1296,2415 1297,2399 1298,2406 1299,2412 1300,2405 1301,2402 1302,2403 1303,2412 1304,2414 1305,2402 1306,2402 1307,2407 1308,2410 1309,2403 1310,2407 1311,2405 1312,2407 1313,2407 1314,2401 1315,2405 1316,2412 1317,2413 1318,2422 1319,2402 1320,2411 1321,2408 1322,2404 1323,2410 1324,2402 1325,2418 1326,2409 1327,2403 1328,2406 1329,2407 1330,2403 1331,2401 1332,2399 1333,2405 1334,2403 1335,2412 1336,2401 1337,2403 1338,2405 1339,2408 1340,2398 1341,2410 1342,2404 1343,2399 1344,2398 1345,2399 1346,2410 1347,2402 1348,2387 1349,2410 1350,2409 1351,2408 1352,2399 1353,2397 1354,2410 1355,2406 1356,2418 1357,2407 1358,2397 1359,2406 1360,2412 1361,2410 1362,2405 1363,2416 1364,2393 1365,2411 1366,2399 1367,2403 1368,2414 1369,2398 1370,2413 1371,2395 1372,2400 1373,2406 1374,2404 1375,2406 1376,2405 1377,2406 1378,2399 1379,2399 1380,2394 1381,2404 1382,2403 1383,2400" fill="none" stroke="#93c27a" stroke-width="2.6" opacity="0.9"/><polyline points="1204.4,2410.5 1206.4,2408.7 1208.4,2405.7 1210.4,2403.0 1212.4,2401.0 1214.4,2406.0 1216.4,2404.8 1218.4,2403.6 1220.4,2400.2 1222.4,2409.6 1224.4,2405.2 1226.4,2406.1 1228.4,2409.2 1230.4,2405.7 1232.4,2406.7 1234.4,2407.5 1236.4,2403.1 1238.4,2406.6 1240.4,2406.6 1242.4,2404.1 1244.4,2406.1 1246.4,2407.3 1248.4,2403.5 1250.4,2405.7 1252.4,2403.5 1254.4,2403.7 1256.4,2405.3 1258.4,2406.3 1260.4,2403.6 1262.4,2408.8 1264.4,2405.8 1266.4,2404.0 1268.4,2404.6 1270.4,2407.6 1272.4,2404.3 1274.4,2405.3 1276.4,2405.8 1278.4,2407.6 1280.4,2407.0 1282.4,2401.8 1284.4,2405.6 1286.4,2406.5 1288.4,2405.2 1290.4,2405.2 1292.4,2408.8 1294.4,2403.3 1296.4,2405.7 1298.4,2404.8 1300.4,2406.7 1302.4,2404.8 1304.4,2406.2 1306.4,2404.2 1308.4,2404.2 1310.4,2406.6 1312.4,2405.9 1314.4,2405.9 1316.4,2405.2 1318.4,2403.2 1320.4,2407.2 1322.4,2407.2 1324.4,2406.0 1326.4,2403.9 1328.4,2403.4 1330.4,2404.8 1332.4,2405.4 1334.4,2407.5 1336.4,2406.7 1338.4,2407.1 1340.4,2406.3 1342.4,2405.2 1344.4,2406.1 1346.4,2404.1 1348.4,2407.7 1350.4,2405.1 1352.4,2403.1 1354.4,2408.6 1356.4,2404.7 1358.4,2405.2 1360.4,2403.8 1362.4,2403.7 1364.4,2404.2 1366.4,2399.7 1368.4,2405.4 1370.4,2406.0 1372.4,2402.9 1374.4,2406.1 1376.4,2406.8 1378.4,2405.3 1380.4,2403.5 1382.4,2405.6" fill="none" stroke="#6aa050" stroke-width="1.5"/><line x1="1350" y1="2453" x2="1379.7" y2="2453" stroke="#000" stroke-width="1.6"/><text x="1365.0" y="2465.9" font-size="17" text-anchor="middle" font-family="Liberation Serif" fill="#000">2 s</text></svg><!-- fig_arch.html --><svg class="sv" style="left:0;top:0" width="1428" height="2880" viewBox="0 0 1428 2880" font-family="Liberation Serif"><rect x="7.5" y="2622.5" width="686.5" height="213.9" rx="22" fill="#f5f5f5" stroke="#000" stroke-width="2" stroke-dasharray="7 5"/><text x="31.0" y="2654.2" font-size="27" text-anchor="start" font-family="Liberation Serif" fill="#000" font-weight="bold">Spike Detection</text><text x="126.0" y="2680.3" font-size="18" text-anchor="middle" font-family="Liberation Serif" fill="#000">Continuous Signals</text><rect x="24.9" y="2685.3" width="200.1" height="138.1" rx="14" fill="#fff" stroke="#000" stroke-width="1.4"/><polyline points="37.3,2713.9 38.8,2711.0 40.2,2710.3 41.7,2714.1 43.1,2713.6 44.6,2712.8 46.0,2713.5 47.5,2712.8 48.9,2716.4 50.4,2710.2 51.8,2711.5 53.3,2711.9 54.7,2711.6 56.2,2713.0 57.6,2711.2 59.1,2712.5 60.5,2713.9 62.0,2714.6 63.5,2711.5 64.9,2710.7 66.4,2713.2 67.8,2713.9 69.3,2712.5 70.7,2715.0 72.2,2723.5 73.6,2712.9 75.1,2707.6 76.5,2710.0 78.0,2710.7 79.4,2712.5 80.9,2712.3 82.3,2714.6 83.8,2713.6 85.2,2712.5 86.7,2713.4 88.2,2714.5 89.6,2713.4 91.1,2712.1 92.5,2709.6 94.0,2711.7 95.4,2713.8 96.9,2711.8 98.3,2711.7 99.8,2711.7 101.2,2711.7 102.7,2712.5 104.1,2714.5 105.6,2712.6 107.0,2712.0 108.5,2712.8 109.9,2713.6 111.4,2713.4 112.9,2716.1 114.3,2723.2 115.8,2711.9 117.2,2708.6 118.7,2708.3 120.1,2709.9 121.6,2711.6 123.0,2711.0 124.5,2713.5 125.9,2713.7 127.4,2712.4 128.8,2712.3 130.3,2713.0 131.7,2713.0 133.2,2713.8 134.6,2713.2 136.1,2711.8 137.6,2710.8 139.0,2714.0 140.5,2711.9 141.9,2714.0 143.4,2712.2 144.8,2712.5 146.3,2712.6 147.7,2712.4 149.2,2713.1 150.6,2712.7 152.1,2712.1 153.5,2713.3 155.0,2713.0 156.4,2712.9 157.9,2713.7 159.3,2713.4 160.8,2711.6 162.3,2712.0 163.7,2712.8 165.2,2712.3 166.6,2713.0 168.1,2713.2 169.5,2711.7 171.0,2712.1 172.4,2711.9 173.9,2712.3 175.3,2713.3 176.8,2713.6 178.2,2715.6 179.7,2711.0 181.1,2712.4 182.6,2711.9 184.0,2712.4 185.5,2713.3 187.0,2714.4 188.4,2713.0 189.9,2712.0 191.3,2712.0 192.8,2713.0 194.2,2720.7 195.7,2720.4 197.1,2710.0 198.6,2708.6 200.0,2710.0 201.5,2709.8 202.9,2711.7 204.4,2712.2 205.8,2713.3 207.3,2713.0 208.7,2711.6 210.2,2710.6" fill="none" stroke="#3f4fc0" stroke-width="1.4"/><polyline points="37.3,2729.3 38.8,2730.1 40.2,2730.0 41.7,2730.0 43.1,2728.8 44.6,2728.7 46.0,2730.7 47.5,2731.3 48.9,2730.0 50.4,2730.8 51.8,2729.6 53.3,2729.7 54.7,2729.3 56.2,2729.5 57.6,2731.1 59.1,2729.9 60.5,2731.1 62.0,2731.9 63.5,2729.6 64.9,2729.3 66.4,2730.4 67.8,2730.4 69.3,2730.4 70.7,2733.5 72.2,2742.7 73.6,2728.2 75.1,2726.7 76.5,2727.1 78.0,2728.8 79.4,2728.1 80.9,2729.5 82.3,2731.4 83.8,2729.8 85.2,2730.5 86.7,2730.2 88.2,2729.9 89.6,2728.0 91.1,2731.5 92.5,2727.3 94.0,2730.5 95.4,2728.7 96.9,2728.9 98.3,2729.2 99.8,2728.1 101.2,2731.6 102.7,2730.1 104.1,2730.8 105.6,2731.6 107.0,2728.6 108.5,2729.1 109.9,2730.5 111.4,2728.3 112.9,2734.8 114.3,2740.6 115.8,2727.4 117.2,2726.0 118.7,2726.2 120.1,2728.5 121.6,2731.7 123.0,2731.4 124.5,2729.7 125.9,2730.8 127.4,2730.0 128.8,2729.2 130.3,2729.3 131.7,2731.7 133.2,2727.7 134.6,2730.1 136.1,2729.0 137.6,2729.7 139.0,2730.8 140.5,2731.0 141.9,2729.0 143.4,2729.9 144.8,2730.7 146.3,2731.0 147.7,2730.7 149.2,2730.7 150.6,2730.0 152.1,2727.8 153.5,2730.2 155.0,2731.9 156.4,2731.3 157.9,2729.9 159.3,2730.9 160.8,2728.6 162.3,2728.6 163.7,2731.6 165.2,2729.7 166.6,2732.2 168.1,2729.7 169.5,2729.9 171.0,2728.2 172.4,2730.2 173.9,2730.0 175.3,2728.9 176.8,2729.3 178.2,2729.4 179.7,2730.6 181.1,2730.1 182.6,2730.3 184.0,2729.4 185.5,2729.3 187.0,2729.7 188.4,2729.6 189.9,2731.5 191.3,2728.7 192.8,2730.9 194.2,2739.0 195.7,2740.1 197.1,2728.9 198.6,2727.1 200.0,2729.6 201.5,2728.6 202.9,2729.1 204.4,2730.6 205.8,2730.3 207.3,2728.5 208.7,2732.0 210.2,2729.8" fill="none" stroke="#9bb4f0" stroke-width="1.4"/><polyline points="37.3,2747.0 38.8,2745.6 40.2,2745.0 41.7,2745.9 43.1,2747.3 44.6,2745.5 46.0,2744.9 47.5,2746.7 48.9,2743.5 50.4,2744.3 51.8,2745.7 53.3,2746.6 54.7,2744.4 56.2,2745.6 57.6,2745.8 59.1,2746.4 60.5,2744.2 62.0,2747.5 63.5,2744.1 64.9,2745.9 66.4,2743.9 67.8,2743.7 69.3,2746.3 70.7,2751.4 72.2,2756.0 73.6,2743.5 75.1,2740.9 76.5,2743.4 78.0,2745.4 79.4,2745.0 80.9,2747.0 82.3,2745.5 83.8,2744.8 85.2,2744.8 86.7,2746.7 88.2,2745.6 89.6,2745.1 91.1,2745.9 92.5,2746.6 94.0,2745.0 95.4,2745.7 96.9,2746.2 98.3,2746.0 99.8,2746.6 101.2,2746.6 102.7,2746.5 104.1,2747.3 105.6,2743.9 107.0,2747.5 108.5,2745.2 109.9,2746.0 111.4,2745.5 112.9,2748.2 114.3,2756.8 115.8,2743.5 117.2,2743.1 118.7,2741.7 120.1,2745.0 121.6,2745.9 123.0,2744.2 124.5,2745.5 125.9,2744.8 127.4,2745.8 128.8,2745.8 130.3,2744.6 131.7,2744.9 133.2,2744.5 134.6,2746.9 136.1,2744.6 137.6,2746.2 139.0,2745.7 140.5,2746.2 141.9,2745.6 143.4,2744.3 144.8,2745.6 146.3,2746.0 147.7,2745.3 149.2,2745.4 150.6,2745.1 152.1,2746.6 153.5,2745.7 155.0,2745.7 156.4,2746.4 157.9,2745.2 159.3,2745.8 160.8,2745.4 162.3,2745.7 163.7,2746.9 165.2,2746.1 166.6,2747.1 168.1,2745.6 169.5,2747.4 171.0,2747.8 172.4,2745.5 173.9,2745.9 175.3,2745.8 176.8,2747.9 178.2,2746.0 179.7,2746.0 181.1,2744.2 182.6,2745.0 184.0,2746.7 185.5,2746.5 187.0,2744.5 188.4,2745.8 189.9,2747.3 191.3,2746.2 192.8,2747.8 194.2,2752.6 195.7,2753.9 197.1,2744.8 198.6,2742.0 200.0,2743.4 201.5,2744.2 202.9,2745.6 204.4,2747.1 205.8,2745.6 207.3,2745.7 208.7,2743.9 210.2,2747.4" fill="none" stroke="#f0a888" stroke-width="1.4"/><polyline points="37.3,2764.1 38.8,2762.7 40.2,2764.3 41.7,2764.5 43.1,2765.2 44.6,2764.2 46.0,2762.7 47.5,2765.4 48.9,2763.8 50.4,2765.3 51.8,2766.2 53.3,2765.2 54.7,2764.7 56.2,2763.7 57.6,2763.1 59.1,2765.8 60.5,2763.7 62.0,2766.3 63.5,2762.9 64.9,2764.7 66.4,2764.5 67.8,2764.1 69.3,2763.8 70.7,2769.9 72.2,2775.1 73.6,2762.5 75.1,2759.3 76.5,2761.1 78.0,2762.5 79.4,2762.6 80.9,2762.8 82.3,2763.2 83.8,2763.0 85.2,2764.9 86.7,2765.2 88.2,2764.8 89.6,2762.2 91.1,2763.2 92.5,2762.6 94.0,2765.6 95.4,2764.3 96.9,2763.7 98.3,2763.4 99.8,2764.0 101.2,2764.0 102.7,2762.4 104.1,2763.6 105.6,2764.3 107.0,2763.1 108.5,2763.9 109.9,2764.1 111.4,2764.5 112.9,2767.7 114.3,2774.8 115.8,2762.8 117.2,2760.4 118.7,2760.7 120.1,2762.6 121.6,2763.1 123.0,2764.1 124.5,2764.4 125.9,2763.4 127.4,2764.6 128.8,2763.1 130.3,2762.9 131.7,2765.1 133.2,2763.2 134.6,2763.7 136.1,2762.3 137.6,2764.8 139.0,2763.8 140.5,2764.8 141.9,2766.2 143.4,2765.4 144.8,2766.2 146.3,2762.8 147.7,2762.9 149.2,2764.0 150.6,2765.1 152.1,2764.7 153.5,2763.9 155.0,2763.8 156.4,2763.4 157.9,2764.7 159.3,2764.8 160.8,2763.9 162.3,2764.4 163.7,2764.2 165.2,2765.1 166.6,2765.2 168.1,2763.9 169.5,2764.3 171.0,2762.2 172.4,2763.2 173.9,2765.7 175.3,2764.5 176.8,2765.4 178.2,2763.4 179.7,2762.9 181.1,2765.2 182.6,2763.4 184.0,2764.2 185.5,2764.5 187.0,2765.1 188.4,2764.5 189.9,2766.3 191.3,2763.5 192.8,2765.2 194.2,2773.1 195.7,2770.6 197.1,2759.7 198.6,2760.0 200.0,2765.1 201.5,2765.0 202.9,2765.5 204.4,2765.0 205.8,2764.7 207.3,2762.8 208.7,2765.8 210.2,2766.5" fill="none" stroke="#b0102a" stroke-width="1.4"/><rect x="57" y="2696" width="30" height="101" fill="none" stroke="#888" stroke-width="1" stroke-dasharray="4 3"/><rect x="99.5" y="2696" width="29.9" height="101" fill="none" stroke="#888" stroke-width="1" stroke-dasharray="4 3"/><rect x="180" y="2696" width="30" height="101" fill="none" stroke="#888" stroke-width="1" stroke-dasharray="4 3"/><path d="M72,2797 v6 h108 v-6 M114,2797 v6 M195,2797 v6 h-15" fill="none" stroke="#000" stroke-width="1"/><text x="130.6" y="2817.0" font-size="13" text-anchor="middle" font-family="Liberation Serif" fill="#000">Ground-truth spikes</text><g transform="translate(225.0,2736.3) rotate(0.0)"><line x1="0" y1="0" x2="27.0" y2="0" stroke="#000" stroke-width="1.6"/><path d="M25.0,-4 L35.0,0 L25.0,4 Z" fill="#000"/></g><rect x="260" y="2710" width="110" height="52.4" rx="10" fill="#fff" stroke="#000" stroke-width="1.3"/><text x="314.0" y="2728.9" font-size="18" text-anchor="middle" font-family="Liberation Serif" fill="#000">Random</text><text x="315.0" y="2751.9" font-size="18" text-anchor="middle" font-family="Liberation Serif" fill="#000">Augmentation</text><g transform="translate(370.0,2736.3) rotate(0.0)"><line x1="0" y1="0" x2="26.2" y2="0" stroke="#000" stroke-width="1.6"/><path d="M24.2,-4 L34.2,0 L24.2,4 Z" fill="#000"/></g><rect x="404.2" y="2672.9" width="177.3" height="122.5" rx="12" fill="#cdc3e0" stroke="#222" stroke-width="1.3"/><text x="491.3" y="2664.8" font-size="18" text-anchor="middle" font-family="Liberation Serif" fill="#000">Detector</text><rect x="421.6" y="2691.5" width="19.9" height="88.4" rx="6" fill="#b5c2c6" stroke="#333" stroke-width="1"/><text transform="translate(425.6,2735.7) rotate(90)" font-size="16" text-anchor="middle" font-family="Liberation Serif">PE</text><rect x="459" y="2691.5" width="27.3" height="88.4" rx="6" fill="#3aaaf0" stroke="#333" stroke-width="1"/><text transform="translate(466.6,2735.7) rotate(90)" font-size="16" text-anchor="middle" font-family="Liberation Serif">Transformer</text><rect x="503.7" y="2691.5" width="23.7" height="88.4" rx="6" fill="#b8d8f8" stroke="#333" stroke-width="1"/><text transform="translate(509.5,2735.7) rotate(90)" font-size="16" text-anchor="middle" font-family="Liberation Serif">Embeddings</text><rect x="544.2" y="2691.5" width="20.5" height="88.4" rx="6" fill="#b5c2c6" stroke="#333" stroke-width="1"/><text transform="translate(548.5,2735.7) rotate(90)" font-size="16" text-anchor="middle" font-family="Liberation Serif">FC layer</text><g transform="translate(441.5,2735.7) rotate(0.0)"><line x1="0" y1="0" x2="12.5" y2="0" stroke="#000" stroke-width="1.2"/><path d="M10.5,-4 L17.5,0 L10.5,4 Z" fill="#000"/></g><g transform="translate(486.3,2735.7) rotate(0.0)"><line x1="0" y1="0" x2="12.4" y2="0" stroke="#000" stroke-width="1.2"/><path d="M10.4,-4 L17.4,0 L10.4,4 Z" fill="#000"/></g><g transform="translate(527.4,2735.7) rotate(0.0)"><line x1="0" y1="0" x2="11.8" y2="0" stroke="#000" stroke-width="1.2"/><path d="M9.8,-4 L16.8,0 L9.8,4 Z" fill="#000"/></g><g transform="translate(581.5,2736.3) rotate(0.0)"><line x1="0" y1="0" x2="26.2" y2="0" stroke="#000" stroke-width="1.6"/><path d="M24.2,-4 L34.2,0 L24.2,4 Z" fill="#000"/></g><text x="620.0" y="2739.4" font-size="19" text-anchor="start" font-family="Liberation Serif" fill="#000" font-style="italic">output</text><line x1="648.6" y1="2748.8" x2="648.6" y2="2798" stroke="#000" stroke-width="1.3" stroke-dasharray="3 2"/><path d="M644.5,2797 L648.6,2805 L652.7,2797Z" fill="#000"/><text transform="translate(656,2776) rotate(90)" font-size="15" text-anchor="middle" font-family="Liberation Serif">Sigmoid</text><text x="584.6" y="2822.0" font-size="19" text-anchor="start" font-family="Liberation Serif" fill="#000" font-style="italic">Probabilities</text><rect x="740" y="2627.5" width="668.0" height="208.9" rx="22" fill="#f5f5f5" stroke="#000" stroke-width="2" stroke-dasharray="7 5"/><text x="754.4" y="2661.7" font-size="27" text-anchor="start" font-family="Liberation Serif" fill="#000" font-weight="bold">Spike Identification</text><text x="761.8" y="2691.5" font-size="17" text-anchor="start" font-family="Liberation Serif" fill="#000">Spike Waveforms</text><rect x="777" y="2700.6" width="90.7" height="71.4" rx="8" fill="#fff" stroke="#e84040" stroke-width="1.6"/><rect x="768" y="2707.6" width="90.7" height="71.4" rx="8" fill="#fff" stroke="#3a8ad8" stroke-width="1.6"/><rect x="760" y="2714.6" width="90.7" height="71.4" rx="8" fill="#fff" stroke="#3a9a6a" stroke-width="1.6"/><polyline points="765.0,2737.6 766.4,2738.6 767.8,2737.3 769.2,2737.9 770.6,2739.0 772.0,2737.7 773.4,2738.7 774.8,2737.5 776.2,2738.1 777.6,2738.4 779.0,2738.0 780.4,2737.3 781.8,2738.5 783.2,2737.8 784.6,2738.4 786.0,2738.9 787.4,2747.6 788.8,2761.3 790.2,2767.2 791.6,2757.1 793.0,2743.8 794.4,2737.2 795.8,2733.1 797.2,2731.6 798.6,2729.8 800.0,2729.9 801.4,2731.5 802.8,2732.5 804.2,2733.7 805.6,2736.1 807.0,2737.3 808.4,2737.5 809.8,2738.0 811.2,2738.9 812.6,2737.7 814.0,2738.0 815.4,2737.7 816.8,2737.8 818.2,2737.7 819.6,2737.8 821.0,2738.6 822.4,2738.2 823.8,2737.3 825.2,2738.4 826.6,2738.2 828.0,2738.5 829.4,2737.6 830.8,2737.6 832.2,2737.7 833.6,2737.1 835.0,2738.3 836.4,2738.4 837.8,2737.6 839.2,2738.7 840.6,2738.8 842.0,2738.0 843.4,2737.9 844.8,2737.7 846.2,2737.5 847.6,2738.2" fill="none" stroke="#5aa888" stroke-width="1.3"/><g transform="translate(873.8,2736.3) rotate(0.0)"><line x1="0" y1="0" x2="19.9" y2="0" stroke="#000" stroke-width="1.6"/><path d="M17.9,-4 L27.9,0 L17.9,4 Z" fill="#000"/></g><rect x="903.6" y="2710" width="110" height="52.4" rx="10" fill="#fff" stroke="#555" stroke-width="1.3"/><text x="958.0" y="2728.9" font-size="18" text-anchor="middle" font-family="Liberation Serif" fill="#000">Random</text><text x="959.0" y="2751.9" font-size="18" text-anchor="middle" font-family="Liberation Serif" fill="#000">Augmentation</text><g transform="translate(1013.7,2737.0) rotate(0.0)"><line x1="0" y1="0" x2="23.3" y2="0" stroke="#000" stroke-width="1.6"/><path d="M21.3,-4 L31.3,0 L21.3,4 Z" fill="#000"/></g><text x="1048.0" y="2741.3" font-size="18" text-anchor="start" font-family="Liberation Serif" fill="#000">Denoise</text><g transform="translate(1110.0,2737.0) rotate(0.0)"><line x1="0" y1="0" x2="24.0" y2="0" stroke="#000" stroke-width="1.6"/><path d="M22.0,-4 L32.0,0 L22.0,4 Z" fill="#000"/></g><path d="M1144.3,2705 L1211.4,2721 L1211.4,2756 L1144.3,2771.8 Z" fill="#b8dcb8" stroke="#555" stroke-width="1"/><text x="1177.2" y="2742.0" font-size="18" text-anchor="middle" font-family="Liberation Serif" fill="#000">Encoder</text><g transform="translate(1211.4,2737.0) rotate(0.0)"><line x1="0" y1="0" x2="20.6" y2="0" stroke="#000" stroke-width="1.6"/><path d="M18.6,-4 L28.6,0 L18.6,4 Z" fill="#000"/></g><rect x="1300.0" y="2719" width="21.7" height="21.8" fill="#fff" fill-opacity="0.9" stroke="#e84040" stroke-width="1.4"/><rect x="1321.7" y="2719" width="21.7" height="21.8" fill="#fff" fill-opacity="0.9" stroke="#e84040" stroke-width="1.4"/><rect x="1343.4" y="2719" width="21.7" height="21.8" fill="#fff" fill-opacity="0.9" stroke="#e84040" stroke-width="1.4"/><rect x="1286.0" y="2728.9" width="21.7" height="21.8" fill="#fff" fill-opacity="0.9" stroke="#3a8ad8" stroke-width="1.4"/><rect x="1307.7" y="2728.9" width="21.7" height="21.8" fill="#fff" fill-opacity="0.9" stroke="#3a8ad8" stroke-width="1.4"/><rect x="1329.4" y="2728.9" width="21.7" height="21.8" fill="#fff" fill-opacity="0.9" stroke="#3a8ad8" stroke-width="1.4"/><rect x="1271.8" y="2742.5" width="21.7" height="21.8" fill="#fff" fill-opacity="0.9" stroke="#3a9a6a" stroke-width="1.4"/><rect x="1293.5" y="2742.5" width="21.7" height="21.8" fill="#fff" fill-opacity="0.9" stroke="#3a9a6a" stroke-width="1.4"/><rect x="1315.2" y="2742.5" width="21.7" height="21.8" fill="#fff" fill-opacity="0.9" stroke="#3a9a6a" stroke-width="1.4"/><text x="1228.2" y="2708.3" font-size="17" text-anchor="start" font-family="Liberation Serif" fill="#000" font-weight="bold" font-style="italic">Contrastive Learning</text><path d="M1268,2745 Q1250,2735 1262,2722" fill="none" stroke="#666" stroke-width="1"/><path d="M1345,2750 Q1360,2760 1350,2768" fill="none" stroke="#666" stroke-width="1"/><g transform="translate(1318.4,2764.3) rotate(90.0)"><line x1="0" y1="0" x2="23.1" y2="0" stroke="#000" stroke-width="1.4"/><path d="M21.1,-4 L31.1,0 L21.1,4 Z" fill="#000"/></g><text x="1321.5" y="2811.0" font-size="17" text-anchor="middle" font-family="Liberation Serif" fill="#000">Waveform</text><text x="1321.5" y="2827.7" font-size="17" text-anchor="middle" font-family="Liberation Serif" fill="#000">Rep.</text><text x="1161.7" y="2820.3" font-size="17" text-anchor="start" font-family="Liberation Serif" fill="#000">Clustering</text><g transform="translate(1274.9,2814.0) rotate(180.0)"><line x1="0" y1="0" x2="18.1" y2="0" stroke="#000" stroke-width="1.4"/><path d="M16.1,-4 L26.1,0 L16.1,4 Z" fill="#000"/></g></svg><!-- col2.html --><svg class="sv" style="left:1444px;top:626.4px" width="34" height="37" viewBox="-1 -1 34 37"><path d="M0,0 L30.2,16.6 L9.9,16.1 Z" fill="none" stroke="#23378a" stroke-width="1.6" stroke-linejoin="miter"/><path d="M9.9,16.1 L30.2,16.6 L0,34.3 Z" fill="#23378a"/></svg><div class="h2" style="left:1488px;top:620.5px;">Spike identification visualization on hybrid dataset</div><svg class="sv" style="left:1444px;top:1317.4px" width="34" height="37" viewBox="-1 -1 34 37"><path d="M0,0 L30.2,16.6 L9.9,16.1 Z" fill="none" stroke="#23378a" stroke-width="1.6" stroke-linejoin="miter"/><path d="M9.9,16.1 L30.2,16.6 L0,34.3 Z" fill="#23378a"/></svg><div class="h2" style="left:1488px;top:1311.5px;">Spike detection &nbsp;results on hybrid dataset</div><svg class="sv" style="left:1444px;top:1785.4px" width="34" height="37" viewBox="-1 -1 34 37"><path d="M0,0 L30.2,16.6 L9.9,16.1 Z" fill="none" stroke="#23378a" stroke-width="1.6" stroke-linejoin="miter"/><path d="M9.9,16.1 L30.2,16.6 L0,34.3 Z" fill="#23378a"/></svg><div class="h2" style="left:1488px;top:1779.5px;">Spike identification Results on hybrid dataset</div><svg class="sv" style="left:1459px;top:2129.4px" width="34" height="37" viewBox="-1 -1 34 37"><path d="M0,0 L30.2,16.6 L9.9,16.1 Z" fill="none" stroke="#23378a" stroke-width="1.6" stroke-linejoin="miter"/><path d="M9.9,16.1 L30.2,16.6 L0,34.3 Z" fill="#23378a"/></svg><div class="h2" style="left:1504px;top:2123.5px;">Sorting evaluation on real-world neural recording</div><!-- fig_scatter.html --><svg class="sv" style="left:0;top:0" width="4283" height="2880" viewBox="0 0 4283 2880" font-family="Liberation Sans"><rect x="1595.5" y="740.5" width="251.0" height="243.5" fill="#fff" stroke="#444" stroke-width="1.2"/><clipPath id="cp0_1595_740"><rect x="1595.5" y="740.5" width="251.0" height="243.5"/></clipPath><g clip-path="url(#cp0_1595_740)"><path d="M1636.6,749.5 L1634.9,767.8 L1639.1,782.0" fill="none" stroke="#1f77b4" stroke-width="12" stroke-linecap="round" stroke-linejoin="round"/><path d="M1636 756h0M1641 756h0M1642 762h0M1630 753h0M1634 754h0M1630 768h0M1639 769h0M1640 778h0M1631 774h0M1633 776h0" stroke="#1f77b4" stroke-width="3.2" stroke-linecap="round"/><ellipse cx="1741.7" cy="761.2" rx="8.7" ry="7.8" fill="#c5b0d5"/><path d="M1745 753h0M1731 759h0M1735 767h0M1746 754h0M1747 755h0M1740 756h0M1743 767h0M1748 764h0M1747 765h0M1737 756h0M1737 765h0M1741 771h0M1736 755h0M1746 769h0M1746 767h0M1751 761h0M1733 758h0M1747 754h0M1742 766h0M1739 767h0" stroke="#c5b0d5" stroke-width="3.4" stroke-linecap="round"/><ellipse cx="1791.7" cy="812.0" rx="8.3" ry="8.3" fill="#8c564b"/><path d="M1794 822h0M1797 807h0M1788 806h0M1798 808h0M1791 818h0M1786 810h0M1783 807h0M1787 816h0M1800 812h0M1796 815h0M1798 817h0M1794 805h0M1798 815h0M1800 812h0M1802 810h0M1801 813h0M1788 805h0M1791 821h0M1797 817h0M1782 815h0" stroke="#8c564b" stroke-width="3.4" stroke-linecap="round"/><ellipse cx="1827.6" cy="807.8" rx="9.2" ry="6.9" fill="#e377c2"/><path d="M1833 804h0M1821 808h0M1837 803h0M1825 815h0M1823 805h0M1828 801h0M1829 801h0M1835 808h0M1839 809h0M1836 802h0M1826 812h0M1836 802h0M1835 811h0M1837 811h0M1828 803h0M1819 809h0M1827 816h0M1822 810h0M1818 806h0M1830 813h0" stroke="#e377c2" stroke-width="3.4" stroke-linecap="round"/><path d="M1663.3,836.1 L1673.3,826.1 L1683.3,816.1" fill="none" stroke="#17becf" stroke-width="11.0" stroke-linecap="round" stroke-linejoin="round"/><path d="M1672 821h0M1671 836h0M1670 836h0M1662 830h0M1670 831h0M1674 831h0M1679 828h0M1670 825h0M1680 828h0M1672 826h0" stroke="#17becf" stroke-width="3.2" stroke-linecap="round"/><path d="M1606.5,836.1 L1623.2,844.5 L1652.4,855.3" fill="none" stroke="#ffbb78" stroke-width="9.0" stroke-linecap="round" stroke-linejoin="round"/><path d="M1622 841h0M1607 832h0M1612 843h0M1629 850h0M1635 845h0M1650 850h0M1612 837h0M1627 842h0M1605 838h0M1625 841h0" stroke="#ffbb78" stroke-width="3.2" stroke-linecap="round"/><path d="M1656.6,856.1 L1677.4,863.6 L1684.1,876.1 L1679.1,884.5 L1681.6,894.4 L1696.6,901.1" fill="none" stroke="#aec7e8" stroke-width="10" stroke-linecap="round" stroke-linejoin="round"/><path d="M1685 868h0M1681 879h0M1687 878h0M1686 899h0M1685 866h0M1698 901h0M1679 874h0M1690 900h0M1681 866h0M1683 867h0" stroke="#aec7e8" stroke-width="3.2" stroke-linecap="round"/><path d="M1698.3,862.8 L1713.3,857.8 L1727.5,852.0" fill="none" stroke="#9edae5" stroke-width="10" stroke-linecap="round" stroke-linejoin="round"/><path d="M1709 859h0M1712 861h0M1700 858h0M1728 857h0M1713 860h0M1725 853h0M1695 859h0M1701 868h0M1712 861h0M1708 862h0" stroke="#9edae5" stroke-width="3.2" stroke-linecap="round"/><ellipse cx="1813.4" cy="860.3" rx="9.2" ry="9.2" fill="#ff9896"/><path d="M1819 869h0M1811 851h0M1823 860h0M1824 861h0M1810 870h0M1819 858h0M1818 864h0M1807 858h0M1805 854h0M1816 870h0M1813 869h0M1823 854h0M1820 865h0M1813 866h0M1815 851h0M1813 871h0M1806 858h0M1819 861h0M1822 853h0M1803 857h0" stroke="#ff9896" stroke-width="3.4" stroke-linecap="round"/><path d="M1606.5,891.1 L1623.2,890.3 L1641.6,887.8" fill="none" stroke="#2ca02c" stroke-width="10" stroke-linecap="round" stroke-linejoin="round"/><path d="M1619 892h0M1641 883h0M1623 895h0M1614 895h0M1641 883h0M1626 890h0M1626 891h0M1633 891h0M1612 886h0M1618 892h0" stroke="#2ca02c" stroke-width="3.2" stroke-linecap="round"/><path d="M1766.7,896.9 L1767.6,909.4 L1770.1,922.8" fill="none" stroke="#bcbd22" stroke-width="12" stroke-linecap="round" stroke-linejoin="round"/><path d="M1771 907h0M1771 908h0M1764 894h0M1773 909h0M1762 914h0M1775 926h0M1774 910h0M1762 906h0M1767 925h0M1761 899h0" stroke="#bcbd22" stroke-width="3.2" stroke-linecap="round"/><path d="M1621.5,947.8 L1631.5,941.1 L1634.9,931.1" fill="none" stroke="#d62728" stroke-width="12" stroke-linecap="round" stroke-linejoin="round"/><path d="M1626 943h0M1631 948h0M1630 929h0M1627 949h0M1631 940h0M1636 941h0M1639 931h0M1636 932h0M1627 941h0M1627 939h0" stroke="#d62728" stroke-width="3.2" stroke-linecap="round"/><path d="M1674.9,951.1 L1679.9,963.6 L1690.0,971.9" fill="none" stroke="#f7b6d2" stroke-width="13.0" stroke-linecap="round" stroke-linejoin="round"/><path d="M1679 951h0M1677 966h0M1687 962h0M1679 966h0M1682 955h0M1687 962h0M1679 962h0M1673 965h0M1679 960h0M1684 957h0" stroke="#f7b6d2" stroke-width="3.2" stroke-linecap="round"/><path d="M1760.0,941.9 L1761.7,956.9 L1762.5,971.1" fill="none" stroke="#c7c7c7" stroke-width="9.0" stroke-linecap="round" stroke-linejoin="round"/><path d="M1762 958h0M1762 962h0M1762 944h0M1766 967h0M1758 967h0M1757 954h0M1765 964h0M1758 967h0M1765 948h0M1759 964h0" stroke="#c7c7c7" stroke-width="3.2" stroke-linecap="round"/></g><circle cx="1635.7" cy="767.8" r="2" fill="#000"/><text x="1639.7" y="772.8" font-size="14.5" text-anchor="start" fill="#000">1</text><circle cx="1741.7" cy="761.2" r="2" fill="#000"/><text x="1745.7" y="766.2" font-size="14.5" text-anchor="start" fill="#000">7</text><circle cx="1791.7" cy="812.0" r="2" fill="#000"/><text x="1795.7" y="817.0" font-size="14.5" text-anchor="start" fill="#000">8</text><circle cx="1827.6" cy="807.8" r="2" fill="#000"/><text x="1831.6" y="812.8" font-size="14.5" text-anchor="start" fill="#000">9</text><circle cx="1673.3" cy="826.1" r="2" fill="#000"/><text x="1677.3" y="831.1" font-size="14.5" text-anchor="start" fill="#000">13</text><circle cx="1623.2" cy="844.5" r="2" fill="#000"/><text x="1627.2" y="849.5" font-size="14.5" text-anchor="start" fill="#000">3</text><circle cx="1681.6" cy="884.5" r="2" fill="#000"/><text x="1685.6" y="889.5" font-size="14.5" text-anchor="start" fill="#000">2</text><circle cx="1713.3" cy="857.8" r="2" fill="#000"/><text x="1717.3" y="862.8" font-size="14.5" text-anchor="start" fill="#000">14</text><circle cx="1813.4" cy="860.3" r="2" fill="#000"/><text x="1817.4" y="865.3" font-size="14.5" text-anchor="start" fill="#000">6</text><circle cx="1623.2" cy="890.3" r="2" fill="#000"/><text x="1627.2" y="895.3" font-size="14.5" text-anchor="start" fill="#000">4</text><circle cx="1767.6" cy="909.4" r="2" fill="#000"/><text x="1771.6" y="914.4" font-size="14.5" text-anchor="start" fill="#000">12</text><circle cx="1631.5" cy="941.1" r="2" fill="#000"/><text x="1635.5" y="946.1" font-size="14.5" text-anchor="start" fill="#000">5</text><circle cx="1679.9" cy="963.6" r="2" fill="#000"/><text x="1683.9" y="968.6" font-size="14.5" text-anchor="start" fill="#000">10</text><circle cx="1761.7" cy="956.9" r="2" fill="#000"/><text x="1765.7" y="961.9" font-size="14.5" text-anchor="start" fill="#000">11</text><line x1="1623.2" y1="984" x2="1623.2" y2="987" stroke="#000" stroke-width="1"/><text x="1623.2" y="998.0" font-size="11.2" text-anchor="middle" fill="#000">−5</text><line x1="1664.9" y1="984" x2="1664.9" y2="987" stroke="#000" stroke-width="1"/><text x="1664.9" y="998.0" font-size="11.2" text-anchor="middle" fill="#000">0</text><line x1="1706.6" y1="984" x2="1706.6" y2="987" stroke="#000" stroke-width="1"/><text x="1706.6" y="998.0" font-size="11.2" text-anchor="middle" fill="#000">5</text><line x1="1748.4" y1="984" x2="1748.4" y2="987" stroke="#000" stroke-width="1"/><text x="1748.4" y="998.0" font-size="11.2" text-anchor="middle" fill="#000">10</text><line x1="1790.1" y1="984" x2="1790.1" y2="987" stroke="#000" stroke-width="1"/><text x="1790.1" y="998.0" font-size="11.2" text-anchor="middle" fill="#000">15</text><line x1="1831.8" y1="984" x2="1831.8" y2="987" stroke="#000" stroke-width="1"/><text x="1831.8" y="998.0" font-size="11.2" text-anchor="middle" fill="#000">20</text><line x1="1592.5" y1="967.8" x2="1595.5" y2="967.8" stroke="#000" stroke-width="1"/><text x="1590.5" y="971.8" font-size="11.2" text-anchor="end" fill="#000">−10</text><line x1="1592.5" y1="926.1" x2="1595.5" y2="926.1" stroke="#000" stroke-width="1"/><text x="1590.5" y="930.1" font-size="11.2" text-anchor="end" fill="#000">−5</text><line x1="1592.5" y1="884.5" x2="1595.5" y2="884.5" stroke="#000" stroke-width="1"/><text x="1590.5" y="888.5" font-size="11.2" text-anchor="end" fill="#000">0</text><line x1="1592.5" y1="842.8" x2="1595.5" y2="842.8" stroke="#000" stroke-width="1"/><text x="1590.5" y="846.8" font-size="11.2" text-anchor="end" fill="#000">5</text><line x1="1592.5" y1="801.1" x2="1595.5" y2="801.1" stroke="#000" stroke-width="1"/><text x="1590.5" y="805.1" font-size="11.2" text-anchor="end" fill="#000">10</text><line x1="1592.5" y1="759.5" x2="1595.5" y2="759.5" stroke="#000" stroke-width="1"/><text x="1590.5" y="763.5" font-size="11.2" text-anchor="end" fill="#000">15</text><text x="1721.0" y="718.0" font-size="15.9" text-anchor="middle" fill="#000">SimSort embedding (UMAP),</text><text x="1721.0" y="734.5" font-size="15.9" text-anchor="middle" fill="#000">GMM Pred Labels 0.90</text><rect x="1594.8" y="1012.7" width="251.7" height="237.0" fill="#fff" stroke="#444" stroke-width="1.2"/><clipPath id="cp86_1594_1012"><rect x="1594.8" y="1012.7" width="251.7" height="237.0"/></clipPath><g clip-path="url(#cp86_1594_1012)"><path d="M1636.6,1022.8 L1634.9,1039.0 L1638.2,1052.7" fill="none" stroke="#1f77b4" stroke-width="12" stroke-linecap="round" stroke-linejoin="round"/><path d="M1637 1031h0M1641 1037h0M1630 1045h0M1631 1029h0M1636 1030h0M1642 1043h0M1641 1044h0M1636 1040h0M1635 1037h0M1632 1045h0" stroke="#1f77b4" stroke-width="3.2" stroke-linecap="round"/><path d="M1731.7,1028.5 L1740.0,1034.1 L1748.4,1039.8" fill="none" stroke="#ff9896" stroke-width="12" stroke-linecap="round" stroke-linejoin="round"/><path d="M1749 1033h0M1734 1033h0M1742 1032h0M1741 1037h0M1741 1041h0M1739 1041h0M1748 1034h0M1748 1039h0M1744 1035h0M1748 1038h0" stroke="#ff9896" stroke-width="3.2" stroke-linecap="round"/><ellipse cx="1794.3" cy="1081.1" rx="8.3" ry="6.4" fill="#9467bd"/><path d="M1799 1080h0M1801 1082h0M1799 1075h0M1795 1087h0M1802 1086h0M1788 1082h0M1788 1086h0M1803 1079h0M1795 1077h0M1791 1087h0M1802 1078h0M1800 1078h0M1800 1079h0M1786 1077h0M1795 1088h0M1791 1088h0M1798 1074h0M1790 1079h0M1786 1080h0M1802 1084h0" stroke="#9467bd" stroke-width="3.4" stroke-linecap="round"/><ellipse cx="1826.0" cy="1077.0" rx="8.7" ry="6.4" fill="#d62728"/><path d="M1834 1077h0M1818 1077h0M1819 1083h0M1820 1078h0M1830 1083h0M1821 1072h0M1835 1073h0M1816 1079h0M1820 1074h0M1826 1085h0M1825 1083h0M1826 1071h0M1822 1072h0M1819 1077h0M1819 1077h0M1826 1082h0M1817 1073h0M1818 1075h0M1828 1082h0M1819 1081h0" stroke="#d62728" stroke-width="3.4" stroke-linecap="round"/><path d="M1664.9,1103.7 L1674.9,1095.6 L1683.3,1087.5" fill="none" stroke="#98df8a" stroke-width="11.0" stroke-linecap="round" stroke-linejoin="round"/><path d="M1668 1094h0M1684 1093h0M1675 1088h0M1677 1094h0M1678 1086h0M1672 1094h0M1681 1098h0M1668 1095h0M1666 1096h0M1687 1089h0" stroke="#98df8a" stroke-width="3.2" stroke-linecap="round"/><path d="M1606.5,1105.3 L1623.2,1113.4 L1635.7,1118.3" fill="none" stroke="#ffbb78" stroke-width="10" stroke-linecap="round" stroke-linejoin="round"/><path d="M1638 1114h0M1628 1119h0M1622 1115h0M1618 1111h0M1617 1105h0M1616 1110h0M1626 1120h0M1614 1103h0M1616 1115h0M1614 1105h0" stroke="#ffbb78" stroke-width="3.2" stroke-linecap="round"/><path d="M1635.7,1118.3 L1656.6,1123.9 L1677.4,1132.0 L1681.6,1140.1 L1679.1,1148.2" fill="none" stroke="#aec7e8" stroke-width="4.4" stroke-linecap="round" stroke-linejoin="round"/><path d="M1658 1124h0M1678 1135h0M1681 1143h0M1671 1132h0M1679 1141h0M1679 1141h0M1656 1126h0M1664 1127h0M1662 1126h0M1643 1118h0" stroke="#aec7e8" stroke-width="3.2" stroke-linecap="round"/><path d="M1698.3,1132.0 L1711.6,1128.0 L1727.5,1121.5" fill="none" stroke="#f7b6d2" stroke-width="9.0" stroke-linecap="round" stroke-linejoin="round"/><path d="M1717 1131h0M1718 1125h0M1712 1124h0M1699 1129h0M1713 1124h0M1700 1127h0M1714 1126h0M1727 1122h0M1715 1122h0M1720 1120h0" stroke="#f7b6d2" stroke-width="3.2" stroke-linecap="round"/><ellipse cx="1815.1" cy="1128.0" rx="8.3" ry="8.3" fill="#2ca02c"/><path d="M1821 1129h0M1811 1119h0M1811 1125h0M1816 1118h0M1807 1124h0M1819 1135h0M1809 1130h0M1823 1128h0M1819 1118h0M1808 1129h0M1813 1133h0M1819 1134h0M1806 1128h0M1807 1133h0M1820 1129h0M1815 1134h0M1817 1118h0M1817 1124h0M1820 1122h0M1823 1131h0" stroke="#2ca02c" stroke-width="3.4" stroke-linecap="round"/><path d="M1606.5,1158.7 L1623.2,1157.9 L1639.9,1155.5" fill="none" stroke="#ff7f0e" stroke-width="10" stroke-linecap="round" stroke-linejoin="round"/><path d="M1634 1151h0M1615 1162h0M1629 1152h0M1603 1155h0M1616 1163h0M1620 1161h0M1618 1162h0M1614 1153h0M1625 1157h0M1622 1156h0" stroke="#ff7f0e" stroke-width="3.2" stroke-linecap="round"/><path d="M1674.9,1156.3 L1683.3,1160.3 L1694.1,1166.8" fill="none" stroke="#9edae5" stroke-width="13.0" stroke-linecap="round" stroke-linejoin="round"/><path d="M1680 1158h0M1681 1167h0M1689 1156h0M1691 1172h0M1686 1162h0M1686 1168h0M1681 1160h0M1685 1169h0M1684 1167h0M1687 1155h0" stroke="#9edae5" stroke-width="3.2" stroke-linecap="round"/><path d="M1765.0,1164.4 L1766.7,1176.5 L1770.9,1187.0" fill="none" stroke="#bcbd22" stroke-width="12" stroke-linecap="round" stroke-linejoin="round"/><path d="M1759 1169h0M1765 1175h0M1772 1172h0M1775 1181h0M1772 1174h0M1761 1177h0M1766 1159h0M1766 1174h0M1770 1170h0M1766 1182h0" stroke="#bcbd22" stroke-width="3.2" stroke-linecap="round"/><path d="M1623.2,1212.9 L1631.5,1204.8 L1638.2,1195.1" fill="none" stroke="#ffbb78" stroke-width="11.0" stroke-linecap="round" stroke-linejoin="round"/><path d="M1643 1198h0M1623 1206h0M1638 1189h0M1638 1190h0M1625 1204h0M1625 1207h0M1629 1204h0M1622 1206h0M1630 1214h0M1636 1205h0" stroke="#ffbb78" stroke-width="3.2" stroke-linecap="round"/><path d="M1674.9,1217.0 L1679.9,1226.7 L1690.0,1237.2" fill="none" stroke="#ff9896" stroke-width="13.0" stroke-linecap="round" stroke-linejoin="round"/><path d="M1672 1214h0M1689 1230h0M1686 1230h0M1682 1215h0M1680 1237h0M1682 1238h0M1694 1240h0M1680 1230h0M1683 1221h0M1676 1227h0" stroke="#ff9896" stroke-width="3.2" stroke-linecap="round"/><path d="M1760.0,1207.3 L1760.9,1217.0 L1763.4,1237.2" fill="none" stroke="#17becf" stroke-width="9.0" stroke-linecap="round" stroke-linejoin="round"/><path d="M1761 1211h0M1763 1237h0M1763 1226h0M1762 1226h0M1764 1211h0M1756 1212h0M1767 1234h0M1758 1226h0M1756 1207h0M1766 1225h0" stroke="#17becf" stroke-width="3.2" stroke-linecap="round"/></g><circle cx="1635.7" cy="1041.4" r="2" fill="#000"/><text x="1639.7" y="1046.4" font-size="14.5" text-anchor="start" fill="#000">1</text><circle cx="1740.0" cy="1037.4" r="2" fill="#000"/><text x="1744.0" y="1042.4" font-size="14.5" text-anchor="start" fill="#000">8</text><circle cx="1784.2" cy="1086.7" r="2" fill="#000"/><text x="1788.2" y="1091.7" font-size="14.5" text-anchor="start" fill="#000">10</text><circle cx="1817.6" cy="1081.9" r="2" fill="#000"/><text x="1821.6" y="1086.9" font-size="14.5" text-anchor="start" fill="#000">7</text><circle cx="1672.4" cy="1095.6" r="2" fill="#000"/><text x="1676.4" y="1100.6" font-size="14.5" text-anchor="start" fill="#000">6</text><circle cx="1623.2" cy="1113.4" r="2" fill="#000"/><text x="1627.2" y="1118.4" font-size="14.5" text-anchor="start" fill="#000">4</text><circle cx="1710.0" cy="1128.0" r="2" fill="#000"/><text x="1714.0" y="1133.0" font-size="14.5" text-anchor="start" fill="#000">11</text><circle cx="1804.3" cy="1129.6" r="2" fill="#000"/><text x="1808.3" y="1134.6" font-size="14.5" text-anchor="start" fill="#000">5</text><circle cx="1623.2" cy="1157.9" r="2" fill="#000"/><text x="1627.2" y="1162.9" font-size="14.5" text-anchor="start" fill="#000">2</text><circle cx="1683.3" cy="1159.5" r="2" fill="#000"/><text x="1687.3" y="1164.5" font-size="14.5" text-anchor="start" fill="#000">14</text><circle cx="1765.0" cy="1174.1" r="2" fill="#000"/><text x="1769.0" y="1179.1" font-size="14.5" text-anchor="start" fill="#000">12</text><circle cx="1632.4" cy="1204.8" r="2" fill="#000"/><text x="1636.4" y="1209.8" font-size="14.5" text-anchor="start" fill="#000">3</text><circle cx="1679.9" cy="1228.3" r="2" fill="#000"/><text x="1683.9" y="1233.3" font-size="14.5" text-anchor="start" fill="#000">9</text><circle cx="1758.4" cy="1217.0" r="2" fill="#000"/><text x="1762.4" y="1222.0" font-size="14.5" text-anchor="start" fill="#000">13</text><line x1="1623.2" y1="1249.8" x2="1623.2" y2="1252.8" stroke="#000" stroke-width="1"/><text x="1623.2" y="1263.8" font-size="11.2" text-anchor="middle" fill="#000">−5</text><line x1="1664.9" y1="1249.8" x2="1664.9" y2="1252.8" stroke="#000" stroke-width="1"/><text x="1664.9" y="1263.8" font-size="11.2" text-anchor="middle" fill="#000">0</text><line x1="1706.6" y1="1249.8" x2="1706.6" y2="1252.8" stroke="#000" stroke-width="1"/><text x="1706.6" y="1263.8" font-size="11.2" text-anchor="middle" fill="#000">5</text><line x1="1748.4" y1="1249.8" x2="1748.4" y2="1252.8" stroke="#000" stroke-width="1"/><text x="1748.4" y="1263.8" font-size="11.2" text-anchor="middle" fill="#000">10</text><line x1="1790.1" y1="1249.8" x2="1790.1" y2="1252.8" stroke="#000" stroke-width="1"/><text x="1790.1" y="1263.8" font-size="11.2" text-anchor="middle" fill="#000">15</text><line x1="1831.8" y1="1249.8" x2="1831.8" y2="1252.8" stroke="#000" stroke-width="1"/><text x="1831.8" y="1263.8" font-size="11.2" text-anchor="middle" fill="#000">20</text><line x1="1591.8" y1="1233.2" x2="1594.8" y2="1233.2" stroke="#000" stroke-width="1"/><text x="1589.8" y="1237.2" font-size="11.2" text-anchor="end" fill="#000">−10</text><line x1="1591.8" y1="1192.7" x2="1594.8" y2="1192.7" stroke="#000" stroke-width="1"/><text x="1589.8" y="1196.7" font-size="11.2" text-anchor="end" fill="#000">−5</text><line x1="1591.8" y1="1152.2" x2="1594.8" y2="1152.2" stroke="#000" stroke-width="1"/><text x="1589.8" y="1156.2" font-size="11.2" text-anchor="end" fill="#000">0</text><line x1="1591.8" y1="1111.8" x2="1594.8" y2="1111.8" stroke="#000" stroke-width="1"/><text x="1589.8" y="1115.8" font-size="11.2" text-anchor="end" fill="#000">5</text><line x1="1591.8" y1="1071.4" x2="1594.8" y2="1071.4" stroke="#000" stroke-width="1"/><text x="1589.8" y="1075.4" font-size="11.2" text-anchor="end" fill="#000">10</text><line x1="1591.8" y1="1030.9" x2="1594.8" y2="1030.9" stroke="#000" stroke-width="1"/><text x="1589.8" y="1034.9" font-size="11.2" text-anchor="end" fill="#000">15</text><rect x="1985.4" y="736.6" width="250.5" height="239.0" fill="#fff" stroke="#444" stroke-width="1.2"/><clipPath id="cp172_1985_736"><rect x="1985.4" y="736.6" width="250.5" height="239.0"/></clipPath><g clip-path="url(#cp172_1985_736)"><path d="M2103.7,758.8 L2112.0,752.8 L2120.2,750.3" fill="none" stroke="#ffbb78" stroke-width="8" stroke-linecap="round" stroke-linejoin="round"/><path d="M2108 754h0M2119 754h0M2114 752h0M2109 757h0M2121 746h0M2109 755h0M2112 753h0M2119 748h0M2113 757h0M2113 754h0" stroke="#ffbb78" stroke-width="3.2" stroke-linecap="round"/><ellipse cx="2049.9" cy="791.2" rx="6.4" ry="5.1" fill="#aec7e8"/><path d="M2047 796h0M2046 787h0M2043 792h0M2047 788h0M2054 792h0M2054 791h0M2051 796h0M2046 794h0M2057 789h0M2044 790h0M2049 785h0M2046 786h0M2044 787h0M2049 797h0M2051 796h0M2050 796h0M2055 791h0M2055 788h0M2055 793h0M2058 790h0" stroke="#aec7e8" stroke-width="3.4" stroke-linecap="round"/><path d="M2153.3,805.7 L2154.1,822.8 L2155.0,844.1" fill="none" stroke="#c5b0d5" stroke-width="4.4" stroke-linecap="round" stroke-linejoin="round"/><path d="M2155 827h0M2152 809h0M2155 821h0M2155 814h0M2155 813h0M2156 810h0M2154 813h0M2156 817h0M2154 810h0M2154 825h0" stroke="#c5b0d5" stroke-width="3.2" stroke-linecap="round"/><path d="M2155.8,846.7 L2156.6,850.1" fill="none" stroke="#ff9896" stroke-width="4.4" stroke-linecap="round" stroke-linejoin="round"/><path d="M2154 849h0M2157 846h0M2157 850h0M2158 848h0M2158 848h0M2158 848h0M2154 849h0M2158 848h0M2155 849h0M2154 847h0" stroke="#ff9896" stroke-width="3.2" stroke-linecap="round"/><ellipse cx="2219.5" cy="805.7" rx="4.6" ry="6.4" fill="#17becf"/><path d="M2218 812h0M2215 809h0M2223 810h0M2223 801h0M2222 801h0M2223 802h0M2221 801h0M2219 800h0M2218 810h0M2224 804h0M2216 806h0M2223 809h0M2219 800h0M2221 809h0M2224 804h0M2217 801h0M2224 800h0M2214 809h0M2223 807h0M2218 810h0" stroke="#17becf" stroke-width="3.4" stroke-linecap="round"/><path d="M2000.3,834.7 L2000.3,842.4 L2002.0,849.2" fill="none" stroke="#1f77b4" stroke-width="10" stroke-linecap="round" stroke-linejoin="round"/><path d="M1995 836h0M1995 836h0M1996 838h0M2007 847h0M1997 835h0M2000 848h0M1999 853h0M1996 839h0M2000 838h0M1995 834h0" stroke="#1f77b4" stroke-width="3.2" stroke-linecap="round"/><path d="M2060.7,871.4 L2068.1,863.7 L2070.6,858.6" fill="none" stroke="#2ca02c" stroke-width="10" stroke-linecap="round" stroke-linejoin="round"/><path d="M2066 866h0M2067 867h0M2070 869h0M2065 871h0M2064 863h0M2063 862h0M2068 867h0M2068 866h0M2059 865h0M2067 868h0" stroke="#2ca02c" stroke-width="3.2" stroke-linecap="round"/><path d="M2128.5,865.4 L2140.9,868.0 L2153.3,871.4" fill="none" stroke="#ff9896" stroke-width="4" stroke-linecap="round" stroke-linejoin="round"/><path d="M2137 869h0M2129 863h0M2128 865h0M2136 865h0M2143 867h0M2132 867h0M2137 867h0M2148 871h0M2136 866h0M2137 866h0" stroke="#ff9896" stroke-width="3.2" stroke-linecap="round"/><path d="M2150.0,876.5 L2165.7,880.8 L2166.5,892.7 L2149.2,896.1" fill="none" stroke="#e377c2" stroke-width="7.0" stroke-linecap="round" stroke-linejoin="round"/><path d="M2154 898h0M2151 876h0M2168 890h0M2159 897h0M2149 874h0M2161 892h0M2170 884h0M2153 899h0M2156 881h0M2160 877h0" stroke="#e377c2" stroke-width="3.2" stroke-linecap="round"/><ellipse cx="2183.9" cy="873.1" rx="8.3" ry="7.4" fill="#f7b6d2"/><path d="M2188 881h0M2175 873h0M2184 866h0M2191 870h0M2178 867h0M2190 867h0M2187 877h0M2178 875h0M2183 878h0M2177 873h0M2179 874h0M2187 869h0M2190 866h0M2178 868h0M2176 875h0M2187 864h0M2175 876h0M2180 868h0M2178 874h0M2189 875h0" stroke="#f7b6d2" stroke-width="3.4" stroke-linecap="round"/><ellipse cx="2219.5" cy="880.8" rx="6.4" ry="4.6" fill="#bcbd22"/><path d="M2224 878h0M2218 876h0M2222 884h0M2214 882h0M2215 880h0M2216 883h0M2215 883h0M2213 878h0M2217 878h0M2225 884h0M2218 886h0M2215 876h0M2223 878h0M2216 879h0M2215 886h0M2218 877h0M2213 878h0M2217 884h0M2221 876h0M2216 876h0" stroke="#bcbd22" stroke-width="3.4" stroke-linecap="round"/><path d="M2047.4,882.5 L2046.6,892.7" fill="none" stroke="#d62728" stroke-width="10" stroke-linecap="round" stroke-linejoin="round"/><path d="M2042 892h0M2046 888h0M2048 881h0M2051 889h0M2048 880h0M2051 886h0M2050 893h0M2047 886h0M2052 891h0M2047 895h0" stroke="#d62728" stroke-width="3.2" stroke-linecap="round"/><ellipse cx="2102.0" cy="908.1" rx="5.1" ry="8.3" fill="#8c564b"/><path d="M2098 910h0M2102 900h0M2098 907h0M2104 901h0M2104 902h0M2108 905h0M2098 910h0M2098 914h0M2108 906h0M2103 903h0M2102 917h0M2106 902h0M2107 914h0M2104 903h0M2102 902h0M2105 905h0M2096 912h0M2103 916h0M2100 912h0M2107 911h0" stroke="#8c564b" stroke-width="3.4" stroke-linecap="round"/><ellipse cx="2173.1" cy="906.4" rx="5.1" ry="5.5" fill="#c7c7c7"/><path d="M2174 914h0M2171 909h0M2179 904h0M2170 901h0M2176 910h0M2176 901h0M2177 911h0M2170 907h0M2177 908h0M2176 902h0M2172 901h0M2176 909h0M2172 910h0M2168 909h0M2170 907h0M2177 903h0M2178 907h0M2173 910h0M2168 909h0M2173 911h0" stroke="#c7c7c7" stroke-width="3.4" stroke-linecap="round"/><ellipse cx="2138.4" cy="961.0" rx="4.6" ry="5.1" fill="#9edae5"/><path d="M2137 958h0M2141 960h0M2134 960h0M2143 961h0M2135 964h0M2135 956h0M2138 964h0M2139 957h0M2138 956h0M2139 955h0M2137 964h0M2133 959h0M2141 966h0M2134 962h0M2135 957h0M2143 963h0M2135 962h0M2142 962h0M2144 963h0M2132 960h0" stroke="#9edae5" stroke-width="3.4" stroke-linecap="round"/></g><circle cx="2116.1" cy="752.0" r="2" fill="#000"/><text x="2120.1" y="757.0" font-size="14.5" text-anchor="start" fill="#000">1</text><circle cx="2049.9" cy="791.2" r="2" fill="#000"/><text x="2053.9" y="796.2" font-size="14.5" text-anchor="start" fill="#000">8</text><circle cx="2153.3" cy="810.0" r="2" fill="#000"/><text x="2157.3" y="815.0" font-size="14.5" text-anchor="start" fill="#000">6</text><circle cx="2219.5" cy="805.7" r="2" fill="#000"/><text x="2223.5" y="810.7" font-size="14.5" text-anchor="start" fill="#000">3</text><circle cx="2000.3" cy="842.4" r="2" fill="#000"/><text x="2004.3" y="847.4" font-size="14.5" text-anchor="start" fill="#000">4</text><circle cx="2068.1" cy="863.7" r="2" fill="#000"/><text x="2072.1" y="868.7" font-size="14.5" text-anchor="start" fill="#000">12</text><circle cx="2140.9" cy="862.9" r="2" fill="#000"/><text x="2144.9" y="867.9" font-size="14.5" text-anchor="start" fill="#000">14</text><circle cx="2164.1" cy="882.5" r="2" fill="#000"/><text x="2168.1" y="887.5" font-size="14.5" text-anchor="start" fill="#000">13</text><circle cx="2183.9" cy="873.1" r="2" fill="#000"/><text x="2187.9" y="878.1" font-size="14.5" text-anchor="start" fill="#000">5</text><circle cx="2219.5" cy="880.8" r="2" fill="#000"/><text x="2223.5" y="885.8" font-size="14.5" text-anchor="start" fill="#000">10</text><circle cx="2047.4" cy="886.7" r="2" fill="#000"/><text x="2051.4" y="891.7" font-size="14.5" text-anchor="start" fill="#000">7</text><circle cx="2102.0" cy="908.1" r="2" fill="#000"/><text x="2106.0" y="913.1" font-size="14.5" text-anchor="start" fill="#000">2</text><circle cx="2173.1" cy="906.4" r="2" fill="#000"/><text x="2177.1" y="911.4" font-size="14.5" text-anchor="start" fill="#000">11</text><circle cx="2138.4" cy="961.0" r="2" fill="#000"/><text x="2142.4" y="966.0" font-size="14.5" text-anchor="start" fill="#000">9</text><line x1="1987.9" y1="975.6" x2="1987.9" y2="978.6" stroke="#000" stroke-width="1"/><text x="1987.9" y="989.6" font-size="11.2" text-anchor="middle" fill="#000">−10</text><line x1="2029.2" y1="975.6" x2="2029.2" y2="978.6" stroke="#000" stroke-width="1"/><text x="2029.2" y="989.6" font-size="11.2" text-anchor="middle" fill="#000">−5</text><line x1="2070.6" y1="975.6" x2="2070.6" y2="978.6" stroke="#000" stroke-width="1"/><text x="2070.6" y="989.6" font-size="11.2" text-anchor="middle" fill="#000">0</text><line x1="2112.0" y1="975.6" x2="2112.0" y2="978.6" stroke="#000" stroke-width="1"/><text x="2112.0" y="989.6" font-size="11.2" text-anchor="middle" fill="#000">5</text><line x1="2153.3" y1="975.6" x2="2153.3" y2="978.6" stroke="#000" stroke-width="1"/><text x="2153.3" y="989.6" font-size="11.2" text-anchor="middle" fill="#000">10</text><line x1="2194.7" y1="975.6" x2="2194.7" y2="978.6" stroke="#000" stroke-width="1"/><text x="2194.7" y="989.6" font-size="11.2" text-anchor="middle" fill="#000">15</text><line x1="1982.4" y1="959.2" x2="1985.4" y2="959.2" stroke="#000" stroke-width="1"/><text x="1980.4" y="963.2" font-size="11.2" text-anchor="end" fill="#000">−10</text><line x1="1982.4" y1="916.6" x2="1985.4" y2="916.6" stroke="#000" stroke-width="1"/><text x="1980.4" y="920.6" font-size="11.2" text-anchor="end" fill="#000">−5</text><line x1="1982.4" y1="874.0" x2="1985.4" y2="874.0" stroke="#000" stroke-width="1"/><text x="1980.4" y="878.0" font-size="11.2" text-anchor="end" fill="#000">0</text><line x1="1982.4" y1="831.3" x2="1985.4" y2="831.3" stroke="#000" stroke-width="1"/><text x="1980.4" y="835.3" font-size="11.2" text-anchor="end" fill="#000">5</text><line x1="1982.4" y1="788.6" x2="1985.4" y2="788.6" stroke="#000" stroke-width="1"/><text x="1980.4" y="792.6" font-size="11.2" text-anchor="end" fill="#000">10</text><line x1="1982.4" y1="746.0" x2="1985.4" y2="746.0" stroke="#000" stroke-width="1"/><text x="1980.4" y="750.0" font-size="11.2" text-anchor="end" fill="#000">15</text><text x="2110.0" y="716.0" font-size="15.9" text-anchor="middle" fill="#000">Raw feature (UMAP),</text><text x="2110.0" y="731.8" font-size="15.9" text-anchor="middle" fill="#000">GMM Pred Labels 0.81</text><rect x="2275.4" y="736.6" width="255.0" height="239.0" fill="#fff" stroke="#444" stroke-width="1.2"/><clipPath id="cp260_2275_736"><rect x="2275.4" y="736.6" width="255.0" height="239.0"/></clipPath><g clip-path="url(#cp260_2275_736)"><path d="M2448 860h0M2469 864h0M2429 834h0M2480 857h0M2405 855h0M2483 836h0M2483 854h0M2491 848h0M2443 827h0M2445 833h0M2466 869h0M2454 832h0M2448 857h0M2401 840h0M2424 843h0M2436 839h0M2428 871h0M2481 856h0M2494 859h0M2492 826h0M2400 841h0M2429 833h0M2461 826h0M2407 843h0M2472 871h0" stroke="#c5b0d5" stroke-width="3.2" stroke-linecap="round" opacity="0.8"/><ellipse cx="2401.7" cy="761.4" rx="12.0" ry="10.1" fill="#ff9896"/><path d="M2414 766h0M2395 768h0M2390 757h0M2395 750h0M2392 770h0M2391 757h0M2392 768h0M2402 768h0M2401 752h0M2393 768h0M2401 769h0M2387 766h0M2398 774h0M2393 762h0M2408 754h0M2410 756h0M2413 767h0M2407 755h0M2397 767h0M2388 758h0M2409 752h0M2413 757h0M2405 752h0M2408 767h0M2411 770h0M2413 763h0M2392 770h0M2390 758h0" stroke="#ff9896" stroke-width="3.4" stroke-linecap="round"/><ellipse cx="2360.1" cy="806.9" rx="12.9" ry="12.0" fill="#2ca02c"/><path d="M2369 812h0M2374 807h0M2346 805h0M2364 800h0M2373 805h0M2347 811h0M2351 819h0M2363 795h0M2367 821h0M2346 813h0M2368 810h0M2365 814h0M2354 819h0M2351 819h0M2372 798h0M2360 819h0M2352 804h0M2356 818h0M2351 807h0M2369 804h0M2352 796h0M2348 798h0M2346 801h0M2368 808h0M2352 798h0M2352 796h0M2348 813h0M2347 807h0" stroke="#2ca02c" stroke-width="3.4" stroke-linecap="round"/><ellipse cx="2440.9" cy="802.8" rx="12.0" ry="10.1" fill="#9edae5"/><path d="M2437 815h0M2427 804h0M2437 795h0M2448 806h0M2430 806h0M2444 813h0M2436 813h0M2440 791h0M2449 802h0M2433 810h0M2436 811h0M2440 811h0M2449 807h0M2432 810h0M2441 815h0M2446 810h0M2432 799h0M2442 793h0M2430 802h0M2438 809h0M2452 800h0M2450 801h0M2436 808h0M2426 803h0M2435 795h0M2427 800h0M2428 808h0M2439 791h0" stroke="#9edae5" stroke-width="3.4" stroke-linecap="round"/><ellipse cx="2505.6" cy="825.5" rx="13.8" ry="12.0" fill="#17becf"/><path d="M2498 833h0M2496 822h0M2497 823h0M2490 825h0M2502 841h0M2502 818h0M2518 824h0M2509 816h0M2520 820h0M2510 836h0M2497 826h0M2513 833h0M2493 827h0M2495 818h0M2499 836h0M2515 839h0M2505 816h0M2497 838h0M2491 823h0M2501 839h0M2496 835h0M2519 824h0M2510 813h0M2502 819h0M2488 828h0M2509 812h0M2492 819h0M2497 821h0" stroke="#17becf" stroke-width="3.4" stroke-linecap="round"/><ellipse cx="2327.8" cy="835.8" rx="15.6" ry="10.1" fill="#ffbb78"/><path d="M2317 828h0M2334 830h0M2324 830h0M2338 834h0M2340 837h0M2338 845h0M2313 842h0M2344 830h0M2327 829h0M2335 842h0M2320 845h0M2315 835h0M2337 847h0M2320 843h0M2330 825h0M2317 827h0M2319 831h0M2328 846h0M2331 849h0M2324 844h0M2332 847h0M2322 844h0M2344 831h0M2326 843h0M2322 828h0M2346 834h0M2345 833h0M2325 844h0" stroke="#ffbb78" stroke-width="3.4" stroke-linecap="round"/><ellipse cx="2392.4" cy="850.3" rx="13.8" ry="11.0" fill="#c7c7c7"/><path d="M2390 841h0M2382 853h0M2382 851h0M2376 847h0M2389 843h0M2382 843h0M2393 862h0M2378 848h0M2404 853h0M2391 843h0M2394 844h0M2376 846h0M2378 858h0M2402 843h0M2398 864h0M2386 861h0M2400 846h0M2380 845h0M2390 837h0M2401 846h0M2400 845h0M2408 843h0M2382 857h0M2409 845h0M2407 844h0M2406 851h0M2406 859h0M2389 864h0" stroke="#c7c7c7" stroke-width="3.4" stroke-linecap="round"/><ellipse cx="2427.1" cy="854.4" rx="22.1" ry="12.9" fill="#c5b0d5"/><path d="M2407 851h0M2452 849h0M2411 856h0M2439 860h0M2410 857h0M2437 868h0M2433 842h0M2428 845h0M2444 842h0M2437 843h0M2447 862h0M2433 863h0M2419 863h0M2426 864h0M2428 838h0M2419 868h0M2450 855h0M2422 847h0M2440 862h0M2410 861h0M2446 846h0M2421 863h0M2442 849h0M2415 848h0M2437 861h0M2427 841h0M2408 861h0M2406 857h0" stroke="#c5b0d5" stroke-width="3.4" stroke-linecap="round"/><ellipse cx="2300.0" cy="879.2" rx="14.7" ry="12.0" fill="#1f77b4"/><path d="M2294 872h0M2300 893h0M2307 874h0M2285 884h0M2313 885h0M2313 884h0M2285 879h0M2307 887h0M2290 878h0M2304 891h0M2312 885h0M2305 869h0M2287 878h0M2313 883h0M2306 867h0M2286 888h0M2300 867h0M2312 882h0M2318 885h0M2309 876h0M2308 876h0M2286 887h0M2302 864h0M2292 871h0M2313 879h0M2312 868h0M2289 888h0M2292 869h0" stroke="#1f77b4" stroke-width="3.4" stroke-linecap="round"/><ellipse cx="2420.1" cy="881.3" rx="12.9" ry="11.0" fill="#f7b6d2"/><path d="M2414 874h0M2426 891h0M2406 879h0M2421 888h0M2430 883h0M2414 872h0M2405 879h0M2420 891h0M2418 895h0M2419 874h0M2424 872h0M2422 868h0M2430 882h0M2427 885h0M2409 874h0M2434 885h0M2412 886h0M2423 894h0M2432 885h0M2416 894h0M2419 872h0M2409 874h0M2416 889h0M2429 891h0M2422 890h0M2435 887h0M2432 872h0M2412 874h0" stroke="#f7b6d2" stroke-width="3.4" stroke-linecap="round"/><ellipse cx="2494.1" cy="879.2" rx="12.9" ry="10.1" fill="#bcbd22"/><path d="M2478 880h0M2507 875h0M2496 871h0M2486 883h0M2484 887h0M2479 881h0M2490 890h0M2500 867h0M2479 874h0M2486 877h0M2494 887h0M2484 869h0M2499 874h0M2493 872h0M2492 890h0M2482 872h0M2500 890h0M2492 869h0M2479 881h0M2486 890h0M2510 880h0M2503 878h0M2506 879h0M2495 890h0M2499 891h0M2480 876h0M2485 886h0M2488 885h0" stroke="#bcbd22" stroke-width="3.4" stroke-linecap="round"/><ellipse cx="2362.4" cy="897.9" rx="13.8" ry="11.0" fill="#aec7e8"/><path d="M2349 897h0M2377 906h0M2346 900h0M2373 893h0M2351 904h0M2364 905h0M2361 912h0M2352 893h0M2369 905h0M2350 907h0M2348 898h0M2358 890h0M2370 885h0M2354 890h0M2370 909h0M2370 909h0M2345 899h0M2348 895h0M2370 900h0M2372 886h0M2355 887h0M2348 905h0M2364 910h0M2376 898h0M2352 906h0M2355 888h0M2349 899h0M2376 898h0" stroke="#aec7e8" stroke-width="3.4" stroke-linecap="round"/><path d="M2415.5,906.1 L2429.4,906.1 L2440.9,908.2" fill="none" stroke="#d62728" stroke-width="8" stroke-linecap="round" stroke-linejoin="round"/><path d="M2415 902h0M2431 902h0M2442 906h0M2424 905h0M2414 905h0M2429 909h0M2436 909h0M2430 910h0M2427 903h0M2414 909h0M2434 906h0M2419 903h0M2439 904h0M2432 904h0" stroke="#d62728" stroke-width="3.2" stroke-linecap="round"/><ellipse cx="2447.9" cy="926.8" rx="12.9" ry="11.0" fill="#e377c2"/><path d="M2450 940h0M2443 916h0M2446 940h0M2444 919h0M2435 924h0M2455 939h0M2457 928h0M2457 937h0M2455 914h0M2444 937h0M2434 921h0M2442 917h0M2437 935h0M2451 915h0M2461 933h0M2443 933h0M2449 934h0M2437 920h0M2434 919h0M2442 937h0M2450 917h0M2450 938h0M2441 932h0M2438 922h0M2449 918h0M2448 934h0M2447 936h0M2450 919h0" stroke="#e377c2" stroke-width="3.4" stroke-linecap="round"/><ellipse cx="2394.7" cy="953.7" rx="14.7" ry="10.1" fill="#8c564b"/><path d="M2385 959h0M2410 961h0M2379 958h0M2403 958h0M2381 958h0M2385 953h0M2407 959h0M2381 947h0M2401 949h0M2380 960h0M2392 944h0M2406 953h0M2379 952h0M2400 961h0M2394 961h0M2401 961h0M2390 965h0M2383 963h0M2392 944h0M2385 947h0M2401 958h0M2381 961h0M2382 962h0M2382 957h0M2402 944h0M2385 949h0M2382 947h0M2384 955h0" stroke="#8c564b" stroke-width="3.4" stroke-linecap="round"/></g><circle cx="2401.7" cy="761.4" r="2" fill="#000"/><text x="2405.7" y="766.4" font-size="14.5" text-anchor="start" fill="#000">7</text><circle cx="2360.1" cy="806.9" r="2" fill="#000"/><text x="2364.1" y="811.9" font-size="14.5" text-anchor="start" fill="#000">12</text><circle cx="2440.9" cy="802.8" r="2" fill="#000"/><text x="2444.9" y="807.8" font-size="14.5" text-anchor="start" fill="#000">1</text><circle cx="2505.6" cy="825.5" r="2" fill="#000"/><text x="2509.6" y="830.5" font-size="14.5" text-anchor="start" fill="#000">8</text><circle cx="2327.8" cy="835.8" r="2" fill="#000"/><text x="2331.8" y="840.8" font-size="14.5" text-anchor="start" fill="#000">5</text><circle cx="2392.4" cy="850.3" r="2" fill="#000"/><text x="2396.4" y="855.3" font-size="14.5" text-anchor="start" fill="#000">10</text><circle cx="2427.1" cy="854.4" r="2" fill="#000"/><text x="2431.1" y="859.4" font-size="14.5" text-anchor="start" fill="#000">13</text><circle cx="2300.0" cy="879.2" r="2" fill="#000"/><text x="2304.0" y="884.2" font-size="14.5" text-anchor="start" fill="#000">11</text><circle cx="2420.1" cy="881.3" r="2" fill="#000"/><text x="2424.1" y="886.3" font-size="14.5" text-anchor="start" fill="#000">3</text><circle cx="2494.1" cy="879.2" r="2" fill="#000"/><text x="2498.1" y="884.2" font-size="14.5" text-anchor="start" fill="#000">4</text><circle cx="2362.4" cy="897.9" r="2" fill="#000"/><text x="2366.4" y="902.9" font-size="14.5" text-anchor="start" fill="#000">2</text><circle cx="2429.4" cy="906.1" r="2" fill="#000"/><text x="2433.4" y="911.1" font-size="14.5" text-anchor="start" fill="#000">14</text><circle cx="2447.9" cy="926.8" r="2" fill="#000"/><text x="2451.9" y="931.8" font-size="14.5" text-anchor="start" fill="#000">9</text><circle cx="2394.7" cy="953.7" r="2" fill="#000"/><text x="2398.7" y="958.7" font-size="14.5" text-anchor="start" fill="#000">6</text><line x1="2316.2" y1="975.6" x2="2316.2" y2="978.6" stroke="#000" stroke-width="1"/><text x="2316.2" y="989.6" font-size="11.2" text-anchor="middle" fill="#000">−40</text><line x1="2362.4" y1="975.6" x2="2362.4" y2="978.6" stroke="#000" stroke-width="1"/><text x="2362.4" y="989.6" font-size="11.2" text-anchor="middle" fill="#000">−20</text><line x1="2408.6" y1="975.6" x2="2408.6" y2="978.6" stroke="#000" stroke-width="1"/><text x="2408.6" y="989.6" font-size="11.2" text-anchor="middle" fill="#000">0</text><line x1="2454.8" y1="975.6" x2="2454.8" y2="978.6" stroke="#000" stroke-width="1"/><text x="2454.8" y="989.6" font-size="11.2" text-anchor="middle" fill="#000">20</text><line x1="2501.0" y1="975.6" x2="2501.0" y2="978.6" stroke="#000" stroke-width="1"/><text x="2501.0" y="989.6" font-size="11.2" text-anchor="middle" fill="#000">40</text><line x1="2272.4" y1="941.3" x2="2275.4" y2="941.3" stroke="#000" stroke-width="1"/><text x="2270.4" y="945.3" font-size="11.2" text-anchor="end" fill="#000">−40</text><line x1="2272.4" y1="899.9" x2="2275.4" y2="899.9" stroke="#000" stroke-width="1"/><text x="2270.4" y="903.9" font-size="11.2" text-anchor="end" fill="#000">−20</text><line x1="2272.4" y1="858.6" x2="2275.4" y2="858.6" stroke="#000" stroke-width="1"/><text x="2270.4" y="862.6" font-size="11.2" text-anchor="end" fill="#000">0</text><line x1="2272.4" y1="817.2" x2="2275.4" y2="817.2" stroke="#000" stroke-width="1"/><text x="2270.4" y="821.2" font-size="11.2" text-anchor="end" fill="#000">20</text><line x1="2272.4" y1="775.9" x2="2275.4" y2="775.9" stroke="#000" stroke-width="1"/><text x="2270.4" y="779.9" font-size="11.2" text-anchor="end" fill="#000">40</text><text x="2402.9" y="716.0" font-size="15.9" text-anchor="middle" fill="#000">Raw feature (TSNE),</text><text x="2402.9" y="731.8" font-size="15.9" text-anchor="middle" fill="#000">GMM Pred Labels 0.78</text><rect x="2565.4" y="736.3" width="255.2" height="239.7" fill="#fff" stroke="#444" stroke-width="1.2"/><clipPath id="cp343_2565_736"><rect x="2565.4" y="736.3" width="255.2" height="239.7"/></clipPath><g clip-path="url(#cp343_2565_736)"><path d="M2665 895h0M2740 826h0M2791 793h0M2649 904h0M2751 885h0M2783 922h0M2798 926h0M2747 960h0M2738 757h0M2624 789h0M2761 951h0M2765 790h0M2726 935h0M2644 910h0M2611 872h0M2661 867h0M2709 837h0M2695 761h0M2769 873h0M2585 751h0M2732 786h0M2708 763h0M2601 911h0M2724 929h0M2713 841h0M2720 823h0M2791 893h0M2753 943h0M2599 917h0M2742 842h0M2729 917h0M2660 864h0M2727 813h0M2611 745h0M2684 901h0M2781 947h0M2761 804h0M2654 890h0M2750 851h0M2654 945h0M2737 866h0M2592 956h0M2734 961h0M2653 942h0M2754 760h0M2741 852h0M2699 893h0M2671 864h0M2753 826h0M2618 820h0M2665 803h0M2772 866h0M2672 965h0M2625 905h0M2733 790h0M2705 789h0M2696 885h0M2621 941h0M2725 858h0M2791 897h0M2663 879h0M2603 888h0M2678 928h0M2726 789h0M2780 835h0M2726 897h0M2630 940h0M2660 935h0M2663 834h0M2704 872h0" stroke="#aec7e8" stroke-width="3.2" stroke-linecap="round" opacity="0.6"/><path d="M2771 815h0M2805 755h0M2747 872h0M2756 869h0M2799 803h0M2801 752h0M2771 868h0M2763 812h0M2784 835h0M2771 789h0M2768 872h0M2777 776h0M2750 893h0M2751 854h0M2794 811h0M2793 822h0M2773 810h0M2754 814h0M2810 815h0M2792 781h0M2768 864h0M2766 785h0M2784 860h0M2801 893h0M2754 765h0M2740 765h0M2742 773h0M2750 785h0M2787 766h0M2781 832h0M2781 777h0M2797 774h0M2778 816h0M2780 872h0M2809 853h0M2778 752h0M2773 760h0M2797 877h0M2792 835h0M2738 855h0M2784 790h0M2744 876h0M2758 860h0M2799 838h0M2744 801h0M2782 840h0M2739 776h0M2793 836h0M2792 791h0M2802 828h0M2771 809h0M2801 768h0M2740 749h0M2783 791h0M2799 776h0M2764 749h0M2797 822h0M2758 854h0M2776 878h0M2800 777h0" stroke="#2ca02c" stroke-width="3.2" stroke-linecap="round" opacity="0.7"/><ellipse cx="2635.8" cy="804.0" rx="7.2" ry="4.0" fill="#aec7e8" opacity="0.8"/><path d="M2644 801h0M2644 805h0M2636 804h0M2639 803h0M2618 807h0M2618 809h0M2646 800h0M2632 810h0M2638 803h0M2634 805h0M2631 800h0M2644 805h0M2634 799h0M2633 805h0M2639 805h0M2643 806h0M2629 804h0M2641 804h0M2644 808h0M2633 801h0M2636 805h0M2637 803h0M2632 806h0M2628 808h0M2642 801h0M2635 803h0M2628 802h0M2639 807h0M2638 809h0M2643 802h0M2632 805h0M2638 803h0M2643 808h0M2632 807h0M2637 802h0M2633 802h0M2628 801h0M2633 812h0M2647 805h0M2639 802h0M2633 803h0M2629 807h0M2638 798h0M2636 807h0M2636 809h0M2647 807h0M2641 804h0M2633 807h0M2639 801h0M2632 803h0" stroke="#aec7e8" stroke-width="3.2" stroke-linecap="round" opacity="0.7"/><path d="M2629.3,804.0 L2648.8,804.9 L2668.2,806.2" fill="none" stroke="#1f77b4" stroke-width="12.6" stroke-linecap="round" opacity="0.8"/><path d="M2667 805h0M2632 816h0M2654 801h0M2650 810h0M2632 811h0M2651 809h0M2622 810h0M2636 807h0M2668 808h0M2629 796h0M2635 810h0M2659 812h0M2672 814h0M2664 808h0M2637 804h0M2636 807h0M2632 804h0M2629 805h0M2634 804h0M2653 818h0M2659 808h0M2638 789h0M2646 806h0M2654 805h0M2637 795h0M2633 801h0M2634 802h0M2626 806h0M2661 805h0M2643 796h0M2647 804h0M2671 806h0M2661 799h0M2652 817h0M2633 804h0M2645 803h0M2634 809h0M2662 801h0M2656 804h0M2636 810h0M2645 813h0M2654 808h0M2642 813h0M2635 802h0M2647 806h0M2655 805h0M2659 804h0M2639 802h0M2631 800h0M2640 810h0" stroke="#1f77b4" stroke-width="3.2" stroke-linecap="round" opacity="0.7"/><ellipse cx="2668.2" cy="795.5" rx="12.0" ry="8.0" fill="#ffbb78" opacity="0.8"/><path d="M2660 789h0M2667 807h0M2672 796h0M2677 791h0M2683 806h0M2672 790h0M2679 797h0M2675 803h0M2672 790h0M2683 797h0M2671 799h0M2671 800h0M2670 794h0M2663 792h0M2665 802h0M2665 795h0M2667 799h0M2675 808h0M2655 794h0M2674 785h0M2685 795h0M2660 802h0M2647 797h0M2659 795h0M2672 801h0M2672 809h0M2669 793h0M2680 795h0M2672 770h0M2673 795h0M2664 791h0M2677 782h0M2699 803h0M2672 808h0M2671 790h0M2678 785h0M2674 803h0M2673 786h0M2670 795h0M2661 780h0M2657 792h0M2679 813h0M2677 790h0M2664 803h0M2674 798h0M2671 803h0M2690 796h0M2670 799h0M2664 781h0M2673 791h0" stroke="#ffbb78" stroke-width="3.2" stroke-linecap="round" opacity="0.7"/><ellipse cx="2691.0" cy="799.8" rx="14.4" ry="8.8" fill="#d62728" opacity="0.8"/><path d="M2706 801h0M2708 794h0M2704 788h0M2702 798h0M2702 797h0M2699 803h0M2695 803h0M2711 796h0M2707 797h0M2705 816h0M2682 784h0M2693 795h0M2685 797h0M2685 810h0M2704 808h0M2718 794h0M2662 814h0M2694 799h0M2670 790h0M2699 799h0M2666 793h0M2703 809h0M2693 820h0M2703 813h0M2707 806h0M2675 788h0M2682 802h0M2691 802h0M2691 803h0M2703 800h0M2688 781h0M2701 794h0M2680 806h0M2702 805h0M2702 792h0M2688 796h0M2711 806h0M2688 806h0M2695 799h0M2696 806h0M2689 791h0M2695 798h0M2678 794h0M2688 800h0M2698 798h0M2696 797h0M2697 803h0M2698 810h0M2688 788h0M2690 806h0" stroke="#d62728" stroke-width="3.2" stroke-linecap="round" opacity="0.7"/><ellipse cx="2716.9" cy="791.2" rx="12.0" ry="8.8" fill="#bcbd22" opacity="0.8"/><path d="M2717 793h0M2700 785h0M2722 797h0M2710 794h0M2710 783h0M2718 793h0M2721 796h0M2733 798h0M2713 798h0M2703 792h0M2727 796h0M2725 805h0M2710 797h0M2716 799h0M2718 797h0M2732 796h0M2715 789h0M2710 799h0M2730 789h0M2699 787h0M2721 784h0M2698 788h0M2697 794h0M2713 792h0M2730 785h0M2696 791h0M2722 781h0M2713 789h0M2717 787h0M2743 789h0M2719 788h0M2691 801h0M2686 801h0M2704 781h0M2716 807h0M2720 790h0M2709 796h0M2713 796h0M2698 795h0M2720 781h0M2707 790h0M2712 793h0M2703 785h0M2738 785h0M2713 790h0M2714 800h0M2711 797h0M2709 797h0M2715 790h0M2716 795h0" stroke="#bcbd22" stroke-width="3.2" stroke-linecap="round" opacity="0.7"/><ellipse cx="2742.9" cy="795.5" rx="12.0" ry="10.4" fill="#c5b0d5" opacity="0.8"/><path d="M2731 787h0M2763 800h0M2739 801h0M2742 776h0M2744 794h0M2746 789h0M2741 805h0M2741 792h0M2746 792h0M2753 794h0M2746 790h0M2731 802h0M2745 801h0M2750 783h0M2744 779h0M2748 786h0M2747 802h0M2738 795h0M2755 782h0M2749 796h0M2752 782h0M2743 805h0M2756 789h0M2740 811h0M2729 795h0M2745 797h0M2734 804h0M2752 811h0M2735 791h0M2754 811h0M2743 783h0M2741 804h0M2750 805h0M2762 792h0M2734 785h0M2742 804h0M2760 797h0M2743 794h0M2755 789h0M2742 795h0M2743 811h0M2734 816h0M2737 789h0M2736 801h0M2743 805h0M2735 781h0M2739 798h0M2729 795h0M2748 789h0M2735 786h0" stroke="#c5b0d5" stroke-width="3.2" stroke-linecap="round" opacity="0.7"/><ellipse cx="2746.2" cy="810.4" rx="10.4" ry="8.8" fill="#17becf" opacity="0.8"/><path d="M2745 814h0M2769 819h0M2736 799h0M2745 822h0M2752 807h0M2755 820h0M2759 803h0M2750 801h0M2739 801h0M2744 800h0M2753 810h0M2739 814h0M2759 813h0M2741 808h0M2745 805h0M2732 808h0M2757 805h0M2730 810h0M2755 798h0M2748 813h0M2751 814h0M2751 799h0M2751 820h0M2744 813h0M2738 820h0M2741 822h0M2743 815h0M2742 824h0M2729 813h0M2729 802h0M2762 817h0M2729 810h0M2741 815h0M2762 815h0M2750 814h0M2737 815h0M2754 806h0M2741 821h0M2748 802h0M2743 807h0M2746 810h0M2744 822h0M2753 821h0M2732 811h0M2756 816h0M2740 805h0M2754 809h0M2752 812h0M2745 811h0M2739 823h0" stroke="#17becf" stroke-width="3.2" stroke-linecap="round" opacity="0.7"/><ellipse cx="2772.1" cy="812.6" rx="10.4" ry="8.8" fill="#c7c7c7" opacity="0.8"/><path d="M2777 823h0M2768 809h0M2769 806h0M2778 818h0M2768 810h0M2775 807h0M2769 824h0M2766 809h0M2793 797h0M2762 825h0M2769 816h0M2790 807h0M2767 816h0M2771 809h0M2771 803h0M2776 819h0M2771 811h0M2777 809h0M2770 812h0M2785 812h0M2771 811h0M2769 806h0M2764 819h0M2767 813h0M2768 803h0M2768 823h0M2769 808h0M2769 810h0M2774 810h0M2771 809h0M2775 815h0M2774 817h0M2771 821h0M2776 823h0M2771 815h0M2766 813h0M2779 810h0M2785 813h0M2786 805h0M2770 809h0M2781 817h0M2771 809h0M2772 818h0M2779 812h0M2768 813h0M2773 814h0M2768 825h0M2767 823h0M2784 819h0M2788 817h0" stroke="#c7c7c7" stroke-width="3.2" stroke-linecap="round" opacity="0.7"/><path d="M2765.6,806.2 L2759.2,825.4" fill="none" stroke="#8c564b" stroke-width="16.2" stroke-linecap="round" opacity="0.8"/><path d="M2778 801h0M2771 830h0M2758 813h0M2754 820h0M2764 806h0M2772 804h0M2760 814h0M2769 815h0M2747 817h0M2765 813h0M2756 819h0M2762 806h0M2772 796h0M2773 803h0M2762 820h0M2761 817h0M2752 826h0M2765 808h0M2769 820h0M2757 813h0M2765 804h0M2750 819h0M2758 826h0M2754 833h0M2756 826h0M2762 827h0M2760 819h0M2768 805h0M2761 805h0M2766 806h0M2751 817h0M2751 824h0M2771 825h0M2752 823h0M2767 831h0M2751 805h0M2754 807h0M2782 807h0M2767 829h0M2754 821h0M2760 806h0M2767 832h0M2760 810h0M2752 817h0M2768 814h0M2759 821h0M2771 809h0M2758 821h0M2758 831h0M2754 816h0" stroke="#8c564b" stroke-width="3.2" stroke-linecap="round" opacity="0.7"/><ellipse cx="2700.7" cy="846.8" rx="8.8" ry="6.4" fill="#f7b6d2" opacity="0.8"/><path d="M2697 841h0M2702 854h0M2694 851h0M2704 839h0M2700 845h0M2695 850h0M2703 839h0M2703 846h0M2701 843h0M2710 839h0M2696 848h0M2693 841h0M2694 852h0M2700 843h0M2700 843h0M2681 851h0M2717 853h0M2700 844h0M2706 848h0M2700 850h0M2701 846h0M2684 849h0M2717 850h0M2691 842h0M2691 840h0M2697 855h0M2698 846h0M2698 841h0M2709 845h0M2702 844h0M2694 845h0M2692 855h0M2697 843h0M2696 859h0M2695 843h0M2690 843h0M2699 845h0M2698 850h0M2691 838h0M2701 848h0M2706 843h0M2702 844h0M2700 855h0M2709 848h0M2702 841h0M2692 846h0M2698 854h0M2699 849h0M2716 855h0M2702 840h0" stroke="#f7b6d2" stroke-width="3.2" stroke-linecap="round" opacity="0.7"/><ellipse cx="2694.2" cy="855.3" rx="12.0" ry="7.2" fill="#f7b6d2" opacity="0.8"/><path d="M2690 852h0M2690 852h0M2687 845h0M2699 866h0M2706 849h0M2678 860h0M2708 859h0M2710 857h0M2698 856h0M2697 859h0M2711 860h0M2703 852h0M2685 857h0M2690 861h0M2695 856h0M2694 853h0M2694 854h0M2700 851h0M2686 855h0M2689 848h0M2690 868h0M2681 863h0M2700 856h0M2697 865h0M2700 844h0M2690 863h0M2688 867h0M2713 853h0M2680 844h0M2714 856h0M2696 857h0M2685 853h0M2690 855h0M2698 865h0M2693 851h0M2710 849h0M2698 858h0M2689 852h0M2705 861h0M2691 854h0M2694 838h0M2681 853h0M2707 859h0M2694 859h0M2673 848h0M2685 862h0M2695 860h0M2700 857h0M2686 856h0M2686 848h0" stroke="#f7b6d2" stroke-width="3.2" stroke-linecap="round" opacity="0.7"/><ellipse cx="2681.2" cy="861.7" rx="8.0" ry="6.4" fill="#e377c2" opacity="0.8"/><path d="M2686 867h0M2687 849h0M2684 866h0M2684 854h0M2678 858h0M2675 868h0M2678 867h0M2671 865h0M2678 862h0M2680 860h0M2679 871h0M2685 860h0M2680 854h0M2679 851h0M2687 856h0M2685 855h0M2682 858h0M2686 863h0M2688 858h0M2679 859h0M2671 869h0M2670 856h0M2686 866h0M2686 864h0M2686 862h0M2699 858h0M2677 854h0M2684 864h0M2674 859h0M2684 860h0M2679 849h0M2692 864h0M2682 866h0M2682 869h0M2670 861h0M2670 869h0M2683 861h0M2679 860h0M2690 860h0M2680 870h0M2674 858h0M2677 865h0M2669 856h0M2686 864h0M2686 861h0M2671 867h0M2675 869h0M2682 861h0M2686 858h0M2682 868h0" stroke="#e377c2" stroke-width="3.2" stroke-linecap="round" opacity="0.7"/><ellipse cx="2742.9" cy="863.8" rx="10.4" ry="15.2" fill="#9edae5" opacity="0.8"/><path d="M2742 871h0M2749 878h0M2748 847h0M2736 869h0M2753 876h0M2732 866h0M2738 854h0M2743 870h0M2739 860h0M2725 862h0M2746 870h0M2752 857h0M2724 882h0M2732 845h0M2741 841h0M2748 861h0M2735 855h0M2737 865h0M2739 867h0M2730 853h0M2736 854h0M2749 880h0M2753 856h0M2750 869h0M2744 866h0M2725 860h0M2737 843h0M2739 859h0M2752 854h0M2750 853h0M2743 858h0M2733 841h0M2743 864h0M2755 857h0M2735 869h0M2752 850h0M2725 876h0M2729 866h0M2734 882h0M2756 851h0M2735 858h0M2743 885h0M2746 861h0M2734 855h0M2743 865h0M2743 862h0M2733 862h0M2739 870h0M2746 852h0M2750 872h0" stroke="#9edae5" stroke-width="3.2" stroke-linecap="round" opacity="0.7"/><path d="M2710.4,923.6 L2716.9,906.6 L2726.7,889.5" fill="none" stroke="#ff9896" stroke-width="18.0" stroke-linecap="round" opacity="0.8"/><path d="M2709 900h0M2722 893h0M2710 900h0M2724 889h0M2709 898h0M2728 892h0M2728 883h0M2712 921h0M2705 911h0M2711 926h0M2722 908h0M2708 883h0M2710 915h0M2721 894h0M2711 906h0M2722 910h0M2712 907h0M2718 913h0M2714 890h0M2725 901h0M2713 916h0M2716 919h0M2727 907h0M2730 882h0M2714 885h0M2718 892h0M2713 923h0M2716 919h0M2737 899h0M2702 927h0M2726 901h0M2715 901h0M2718 928h0M2721 909h0M2733 915h0M2724 886h0M2711 914h0M2739 896h0M2721 896h0M2712 896h0M2727 883h0M2703 915h0M2712 915h0M2722 906h0M2719 917h0M2717 927h0M2713 905h0M2711 893h0M2710 887h0M2716 920h0" stroke="#ff9896" stroke-width="3.2" stroke-linecap="round" opacity="0.7"/></g><circle cx="2648.8" cy="804.0" r="2" fill="#000"/><text x="2652.8" y="809.0" font-size="14.5" text-anchor="start" fill="#000">1</text><circle cx="2668.2" cy="795.5" r="2" fill="#000"/><text x="2672.2" y="800.5" font-size="14.5" text-anchor="start" fill="#000">12</text><circle cx="2691.0" cy="799.8" r="2" fill="#000"/><text x="2695.0" y="804.8" font-size="14.5" text-anchor="start" fill="#000">5</text><circle cx="2716.9" cy="791.2" r="2" fill="#000"/><text x="2720.9" y="796.2" font-size="14.5" text-anchor="start" fill="#000">4</text><circle cx="2742.9" cy="795.5" r="2" fill="#000"/><text x="2746.9" y="800.5" font-size="14.5" text-anchor="start" fill="#000">9</text><circle cx="2746.2" cy="810.4" r="2" fill="#000"/><text x="2750.2" y="815.4" font-size="14.5" text-anchor="start" fill="#000">14</text><circle cx="2772.1" cy="812.6" r="2" fill="#000"/><text x="2776.1" y="817.6" font-size="14.5" text-anchor="start" fill="#000">10</text><circle cx="2764.0" cy="812.6" r="2" fill="#000"/><text x="2768.0" y="817.6" font-size="14.5" text-anchor="start" fill="#000">6</text><circle cx="2691.0" cy="838.2" r="2" fill="#000"/><text x="2695.0" y="843.2" font-size="14.5" text-anchor="start" fill="#000">13</text><circle cx="2694.2" cy="853.2" r="2" fill="#000"/><text x="2698.2" y="858.2" font-size="14.5" text-anchor="start" fill="#000">11</text><circle cx="2681.2" cy="861.7" r="2" fill="#000"/><text x="2685.2" y="866.7" font-size="14.5" text-anchor="start" fill="#000">8</text><circle cx="2742.9" cy="863.8" r="2" fill="#000"/><text x="2746.9" y="868.8" font-size="14.5" text-anchor="start" fill="#000">7</text><circle cx="2716.9" cy="906.6" r="2" fill="#000"/><text x="2720.9" y="911.6" font-size="14.5" text-anchor="start" fill="#000">3</text><line x1="2596.8" y1="976" x2="2596.8" y2="979" stroke="#000" stroke-width="1"/><text x="2596.8" y="990.0" font-size="11.2" text-anchor="middle" fill="#000">−40</text><line x1="2629.3" y1="976" x2="2629.3" y2="979" stroke="#000" stroke-width="1"/><text x="2629.3" y="990.0" font-size="11.2" text-anchor="middle" fill="#000">−30</text><line x1="2661.7" y1="976" x2="2661.7" y2="979" stroke="#000" stroke-width="1"/><text x="2661.7" y="990.0" font-size="11.2" text-anchor="middle" fill="#000">−20</text><line x1="2694.2" y1="976" x2="2694.2" y2="979" stroke="#000" stroke-width="1"/><text x="2694.2" y="990.0" font-size="11.2" text-anchor="middle" fill="#000">−10</text><line x1="2726.7" y1="976" x2="2726.7" y2="979" stroke="#000" stroke-width="1"/><text x="2726.7" y="990.0" font-size="11.2" text-anchor="middle" fill="#000">0</text><line x1="2759.2" y1="976" x2="2759.2" y2="979" stroke="#000" stroke-width="1"/><text x="2759.2" y="990.0" font-size="11.2" text-anchor="middle" fill="#000">10</text><line x1="2791.6" y1="976" x2="2791.6" y2="979" stroke="#000" stroke-width="1"/><text x="2791.6" y="990.0" font-size="11.2" text-anchor="middle" fill="#000">20</text><line x1="2562.4" y1="949.3" x2="2565.4" y2="949.3" stroke="#000" stroke-width="1"/><text x="2560.4" y="953.3" font-size="11.2" text-anchor="end" fill="#000">−30</text><line x1="2562.4" y1="906.6" x2="2565.4" y2="906.6" stroke="#000" stroke-width="1"/><text x="2560.4" y="910.6" font-size="11.2" text-anchor="end" fill="#000">−20</text><line x1="2562.4" y1="863.8" x2="2565.4" y2="863.8" stroke="#000" stroke-width="1"/><text x="2560.4" y="867.8" font-size="11.2" text-anchor="end" fill="#000">−10</text><line x1="2562.4" y1="821.1" x2="2565.4" y2="821.1" stroke="#000" stroke-width="1"/><text x="2560.4" y="825.1" font-size="11.2" text-anchor="end" fill="#000">0</text><line x1="2562.4" y1="778.4" x2="2565.4" y2="778.4" stroke="#000" stroke-width="1"/><text x="2560.4" y="782.4" font-size="11.2" text-anchor="end" fill="#000">10</text><text x="2693.0" y="716.0" font-size="15.9" text-anchor="middle" fill="#000">Raw feature (PCA),</text><text x="2693.0" y="731.8" font-size="15.9" text-anchor="middle" fill="#000">GMM Pred Labels 0.66</text><rect x="1985.7" y="1010.8" width="250.4" height="240.0" fill="#fff" stroke="#444" stroke-width="1.2"/><clipPath id="cp429_1985_1010"><rect x="1985.7" y="1010.8" width="250.4" height="240.0"/></clipPath><g clip-path="url(#cp429_1985_1010)"><path d="M2103.0,1032.3 L2111.3,1026.3 L2119.7,1023.8" fill="none" stroke="#ffbb78" stroke-width="6" stroke-linecap="round" stroke-linejoin="round"/><path d="M2101 1031h0M2117 1027h0M2105 1027h0M2105 1034h0M2105 1032h0M2111 1024h0M2112 1027h0M2122 1023h0M2106 1026h0M2110 1030h0" stroke="#ffbb78" stroke-width="3.2" stroke-linecap="round"/><ellipse cx="2051.4" cy="1065.7" rx="4.6" ry="3.7" fill="#98df8a"/><path d="M2049 1069h0M2052 1062h0M2056 1068h0M2046 1067h0M2055 1063h0M2055 1064h0M2048 1064h0M2054 1064h0M2049 1068h0M2048 1062h0M2048 1064h0M2055 1063h0M2056 1064h0M2047 1065h0M2054 1070h0M2054 1068h0M2051 1070h0M2051 1063h0M2049 1067h0M2055 1064h0" stroke="#98df8a" stroke-width="3.4" stroke-linecap="round"/><path d="M2153.0,1079.4 L2153.8,1096.5 L2154.7,1122.2" fill="none" stroke="#9edae5" stroke-width="4.4" stroke-linecap="round" stroke-linejoin="round"/><path d="M2151 1081h0M2151 1080h0M2155 1089h0M2154 1100h0M2156 1114h0M2152 1078h0M2152 1119h0M2156 1112h0M2151 1090h0M2153 1108h0" stroke="#9edae5" stroke-width="3.2" stroke-linecap="round"/><ellipse cx="2218.0" cy="1080.3" rx="4.1" ry="4.1" fill="#f7b6d2"/><path d="M2217 1084h0M2213 1079h0M2215 1082h0M2218 1084h0M2223 1080h0M2220 1077h0M2216 1081h0M2223 1078h0M2215 1081h0M2215 1082h0M2218 1083h0M2215 1083h0M2215 1079h0M2220 1084h0M2215 1083h0M2218 1084h0M2218 1085h0M2222 1078h0M2217 1077h0M2218 1075h0" stroke="#f7b6d2" stroke-width="3.4" stroke-linecap="round"/><path d="M1998.9,1113.7 L1998.9,1122.2" fill="none" stroke="#1f77b4" stroke-width="7.0" stroke-linecap="round" stroke-linejoin="round"/><path d="M2002 1117h0M1996 1113h0M1996 1113h0M2001 1119h0M2002 1117h0M1995 1116h0M2001 1119h0M1996 1117h0M1995 1123h0M2001 1113h0" stroke="#1f77b4" stroke-width="3.2" stroke-linecap="round"/><path d="M2064.7,1143.6 L2069.7,1132.5" fill="none" stroke="#ffbb78" stroke-width="7.0" stroke-linecap="round" stroke-linejoin="round"/><path d="M2066 1139h0M2069 1141h0M2071 1131h0M2069 1129h0M2065 1136h0M2065 1138h0M2071 1137h0M2070 1138h0M2065 1138h0M2064 1138h0" stroke="#ffbb78" stroke-width="3.2" stroke-linecap="round"/><path d="M2046.4,1163.3 L2049.7,1156.5" fill="none" stroke="#ff7f0e" stroke-width="7.0" stroke-linecap="round" stroke-linejoin="round"/><path d="M2051 1162h0M2050 1160h0M2049 1164h0M2045 1162h0M2050 1164h0M2051 1162h0M2044 1162h0M2053 1157h0M2044 1160h0M2047 1166h0" stroke="#ff7f0e" stroke-width="3.2" stroke-linecap="round"/><path d="M2123.8,1139.3 L2144.7,1143.6 L2161.3,1147.9" fill="none" stroke="#ff9896" stroke-width="4" stroke-linecap="round" stroke-linejoin="round"/><path d="M2156 1148h0M2123 1141h0M2131 1141h0M2152 1145h0M2149 1146h0M2148 1145h0M2126 1141h0M2156 1147h0M2143 1142h0M2158 1145h0" stroke="#ff9896" stroke-width="3.2" stroke-linecap="round"/><ellipse cx="2161.3" cy="1148.8" rx="4.6" ry="3.7" fill="#d62728"/><path d="M2158 1147h0M2159 1147h0M2167 1151h0M2163 1146h0M2159 1145h0M2163 1151h0M2158 1150h0M2165 1151h0M2167 1150h0M2163 1151h0M2164 1150h0M2166 1150h0M2158 1151h0M2158 1146h0M2165 1150h0M2161 1147h0M2166 1147h0M2166 1147h0M2157 1150h0M2158 1152h0" stroke="#d62728" stroke-width="3.4" stroke-linecap="round"/><ellipse cx="2182.2" cy="1145.3" rx="4.6" ry="3.7" fill="#9467bd"/><path d="M2186 1143h0M2183 1143h0M2179 1143h0M2182 1141h0M2185 1147h0M2179 1145h0M2183 1149h0M2184 1149h0M2177 1143h0M2178 1144h0M2182 1141h0M2178 1144h0M2181 1142h0M2186 1148h0M2178 1144h0M2180 1142h0M2177 1143h0M2186 1143h0M2188 1145h0M2178 1147h0" stroke="#9467bd" stroke-width="3.4" stroke-linecap="round"/><ellipse cx="2169.7" cy="1159.9" rx="4.6" ry="3.7" fill="#2ca02c"/><path d="M2171 1157h0M2170 1163h0M2166 1162h0M2170 1157h0M2164 1161h0M2173 1160h0M2169 1162h0M2173 1163h0M2176 1160h0M2170 1163h0M2170 1155h0M2172 1156h0M2165 1160h0M2167 1159h0M2167 1161h0M2169 1164h0M2170 1163h0M2168 1163h0M2167 1159h0M2173 1161h0" stroke="#2ca02c" stroke-width="3.4" stroke-linecap="round"/><ellipse cx="2219.6" cy="1153.9" rx="4.6" ry="3.2" fill="#bcbd22"/><path d="M2215 1154h0M2224 1152h0M2221 1152h0M2218 1152h0M2221 1151h0M2221 1150h0M2217 1157h0M2214 1156h0M2223 1156h0M2220 1150h0M2224 1152h0M2218 1152h0M2216 1153h0M2216 1153h0M2219 1152h0M2217 1150h0M2225 1153h0M2217 1153h0M2215 1155h0M2222 1156h0" stroke="#bcbd22" stroke-width="3.4" stroke-linecap="round"/><ellipse cx="2171.3" cy="1181.3" rx="4.1" ry="4.6" fill="#ff9896"/><path d="M2167 1182h0M2168 1180h0M2168 1184h0M2170 1176h0M2168 1182h0M2168 1184h0M2166 1179h0M2168 1181h0M2171 1185h0M2170 1177h0M2174 1184h0M2169 1184h0M2169 1185h0M2172 1178h0M2168 1186h0M2173 1177h0M2167 1183h0M2172 1186h0M2174 1186h0M2175 1184h0" stroke="#ff9896" stroke-width="3.4" stroke-linecap="round"/><ellipse cx="2101.4" cy="1182.1" rx="3.7" ry="3.7" fill="#ff9896"/><path d="M2102 1186h0M2104 1186h0M2101 1185h0M2102 1179h0M2098 1183h0M2101 1179h0M2097 1181h0M2098 1181h0M2105 1182h0M2100 1179h0M2104 1180h0M2101 1184h0M2103 1186h0M2101 1186h0M2104 1181h0M2099 1179h0M2104 1181h0M2104 1184h0M2104 1180h0M2105 1182h0" stroke="#ff9896" stroke-width="3.4" stroke-linecap="round"/><ellipse cx="2138.0" cy="1236.1" rx="4.1" ry="4.1" fill="#17becf"/><path d="M2137 1231h0M2134 1236h0M2141 1238h0M2142 1235h0M2137 1234h0M2141 1234h0M2133 1236h0M2142 1237h0M2136 1239h0M2143 1236h0M2138 1239h0M2138 1240h0M2143 1236h0M2143 1234h0M2139 1240h0M2136 1238h0M2138 1232h0M2136 1232h0M2137 1233h0M2135 1234h0" stroke="#17becf" stroke-width="3.4" stroke-linecap="round"/></g><circle cx="2115.5" cy="1028.1" r="2" fill="#000"/><text x="2119.5" y="1033.1" font-size="14.5" text-anchor="start" fill="#000">4</text><circle cx="2051.4" cy="1065.7" r="2" fill="#000"/><text x="2055.4" y="1070.7" font-size="14.5" text-anchor="start" fill="#000">6</text><circle cx="2153.0" cy="1083.7" r="2" fill="#000"/><text x="2157.0" y="1088.7" font-size="14.5" text-anchor="start" fill="#000">14</text><circle cx="2213.8" cy="1083.7" r="2" fill="#000"/><text x="2217.8" y="1088.7" font-size="14.5" text-anchor="start" fill="#000">11</text><circle cx="1998.9" cy="1117.1" r="2" fill="#000"/><text x="2002.9" y="1122.1" font-size="14.5" text-anchor="start" fill="#000">1</text><circle cx="2068.9" cy="1135.9" r="2" fill="#000"/><text x="2072.9" y="1140.9" font-size="14.5" text-anchor="start" fill="#000">3</text><circle cx="2048.0" cy="1158.2" r="2" fill="#000"/><text x="2052.0" y="1163.2" font-size="14.5" text-anchor="start" fill="#000">2</text><circle cx="2161.3" cy="1148.8" r="2" fill="#000"/><text x="2165.3" y="1153.8" font-size="14.5" text-anchor="start" fill="#000">7</text><circle cx="2179.7" cy="1145.3" r="2" fill="#000"/><text x="2183.7" y="1150.3" font-size="14.5" text-anchor="start" fill="#000">10</text><circle cx="2167.2" cy="1156.5" r="2" fill="#000"/><text x="2171.2" y="1161.5" font-size="14.5" text-anchor="start" fill="#000">5</text><circle cx="2213.8" cy="1152.2" r="2" fill="#000"/><text x="2217.8" y="1157.2" font-size="14.5" text-anchor="start" fill="#000">12</text><circle cx="2170.5" cy="1177.0" r="2" fill="#000"/><text x="2174.5" y="1182.0" font-size="14.5" text-anchor="start" fill="#000">8</text><circle cx="2101.4" cy="1179.6" r="2" fill="#000"/><text x="2105.4" y="1184.6" font-size="14.5" text-anchor="start" fill="#000">9</text><circle cx="2138.0" cy="1226.7" r="2" fill="#000"/><text x="2142.0" y="1231.7" font-size="14.5" text-anchor="start" fill="#000">13</text><line x1="1986.4" y1="1250.8" x2="1986.4" y2="1253.8" stroke="#000" stroke-width="1"/><text x="1986.4" y="1264.8" font-size="11.2" text-anchor="middle" fill="#000">−10</text><line x1="2028.1" y1="1250.8" x2="2028.1" y2="1253.8" stroke="#000" stroke-width="1"/><text x="2028.1" y="1264.8" font-size="11.2" text-anchor="middle" fill="#000">−5</text><line x1="2069.7" y1="1250.8" x2="2069.7" y2="1253.8" stroke="#000" stroke-width="1"/><text x="2069.7" y="1264.8" font-size="11.2" text-anchor="middle" fill="#000">0</text><line x1="2111.3" y1="1250.8" x2="2111.3" y2="1253.8" stroke="#000" stroke-width="1"/><text x="2111.3" y="1264.8" font-size="11.2" text-anchor="middle" fill="#000">5</text><line x1="2153.0" y1="1250.8" x2="2153.0" y2="1253.8" stroke="#000" stroke-width="1"/><text x="2153.0" y="1264.8" font-size="11.2" text-anchor="middle" fill="#000">10</text><line x1="2194.7" y1="1250.8" x2="2194.7" y2="1253.8" stroke="#000" stroke-width="1"/><text x="2194.7" y="1264.8" font-size="11.2" text-anchor="middle" fill="#000">15</text><line x1="1982.7" y1="1233.5" x2="1985.7" y2="1233.5" stroke="#000" stroke-width="1"/><text x="1980.7" y="1237.5" font-size="11.2" text-anchor="end" fill="#000">−10</text><line x1="1982.7" y1="1190.7" x2="1985.7" y2="1190.7" stroke="#000" stroke-width="1"/><text x="1980.7" y="1194.7" font-size="11.2" text-anchor="end" fill="#000">−5</text><line x1="1982.7" y1="1147.9" x2="1985.7" y2="1147.9" stroke="#000" stroke-width="1"/><text x="1980.7" y="1151.9" font-size="11.2" text-anchor="end" fill="#000">0</text><line x1="1982.7" y1="1105.1" x2="1985.7" y2="1105.1" stroke="#000" stroke-width="1"/><text x="1980.7" y="1109.1" font-size="11.2" text-anchor="end" fill="#000">5</text><line x1="1982.7" y1="1062.3" x2="1985.7" y2="1062.3" stroke="#000" stroke-width="1"/><text x="1980.7" y="1066.3" font-size="11.2" text-anchor="end" fill="#000">10</text><line x1="1982.7" y1="1019.5" x2="1985.7" y2="1019.5" stroke="#000" stroke-width="1"/><text x="1980.7" y="1023.5" font-size="11.2" text-anchor="end" fill="#000">15</text><text x="2111.0" y="1005.0" font-size="15.9" text-anchor="middle" fill="#000">Raw feature (UMAP), True Labels</text><rect x="2275.5" y="1010.8" width="254.6" height="240.0" fill="#fff" stroke="#444" stroke-width="1.2"/><clipPath id="cp516_2275_1010"><rect x="2275.5" y="1010.8" width="254.6" height="240.0"/></clipPath><g clip-path="url(#cp516_2275_1010)"><path d="M2405 1127h0M2421 1171h0M2444 1130h0M2448 1164h0M2385 1120h0M2472 1100h0M2419 1100h0M2458 1123h0M2434 1168h0M2377 1134h0M2452 1166h0M2466 1170h0M2372 1154h0M2481 1095h0M2404 1115h0M2464 1125h0M2454 1169h0M2391 1171h0M2372 1093h0M2440 1127h0" stroke="#aec7e8" stroke-width="3.2" stroke-linecap="round" opacity="0.9"/><ellipse cx="2401.3" cy="1035.1" rx="12.0" ry="10.1" fill="#ff9896"/><path d="M2392 1028h0M2402 1041h0M2413 1041h0M2411 1044h0M2389 1037h0M2406 1043h0M2393 1036h0M2403 1044h0M2416 1033h0M2410 1033h0M2397 1029h0M2404 1042h0M2412 1033h0M2392 1028h0M2411 1026h0M2389 1040h0M2390 1028h0M2399 1026h0M2412 1031h0M2389 1033h0M2399 1029h0M2410 1041h0M2412 1027h0M2402 1045h0" stroke="#ff9896" stroke-width="3.4" stroke-linecap="round"/><ellipse cx="2359.9" cy="1080.9" rx="12.0" ry="11.0" fill="#ffbb78"/><path d="M2367 1080h0M2350 1089h0M2368 1079h0M2346 1086h0M2361 1072h0M2365 1089h0M2371 1075h0M2369 1075h0M2355 1075h0M2351 1081h0M2347 1074h0M2350 1078h0M2357 1087h0M2346 1085h0M2371 1073h0M2368 1086h0M2352 1071h0M2367 1091h0M2371 1087h0M2355 1075h0M2356 1069h0M2372 1079h0M2366 1090h0M2368 1083h0" stroke="#ffbb78" stroke-width="3.4" stroke-linecap="round"/><ellipse cx="2440.4" cy="1078.8" rx="12.0" ry="10.1" fill="#17becf"/><path d="M2433 1089h0M2446 1073h0M2449 1088h0M2450 1081h0M2439 1066h0M2438 1086h0M2453 1071h0M2454 1079h0M2452 1080h0M2426 1079h0M2432 1073h0M2443 1089h0M2430 1081h0M2435 1075h0M2447 1073h0M2431 1070h0M2443 1086h0M2450 1082h0M2445 1084h0M2430 1074h0M2437 1085h0M2452 1087h0M2445 1086h0M2433 1069h0" stroke="#17becf" stroke-width="3.4" stroke-linecap="round"/><ellipse cx="2504.8" cy="1101.7" rx="12.9" ry="11.0" fill="#f7b6d2"/><path d="M2493 1097h0M2519 1099h0M2500 1107h0M2506 1093h0M2517 1094h0M2506 1089h0M2516 1106h0M2516 1111h0M2499 1110h0M2507 1110h0M2517 1106h0M2517 1100h0M2517 1108h0M2493 1094h0M2502 1092h0M2511 1095h0M2493 1096h0M2517 1097h0M2490 1102h0M2490 1102h0M2512 1096h0M2502 1110h0M2514 1109h0M2509 1090h0" stroke="#f7b6d2" stroke-width="3.4" stroke-linecap="round"/><ellipse cx="2327.7" cy="1110.0" rx="15.6" ry="10.1" fill="#ff7f0e"/><path d="M2332 1120h0M2319 1113h0M2317 1120h0M2332 1120h0M2323 1103h0M2339 1113h0M2311 1106h0M2338 1116h0M2315 1116h0M2346 1107h0M2334 1121h0M2341 1106h0M2318 1111h0M2335 1115h0M2309 1113h0M2339 1104h0M2335 1098h0M2342 1113h0M2312 1106h0M2319 1108h0M2316 1106h0M2343 1104h0M2338 1113h0M2335 1103h0" stroke="#ff7f0e" stroke-width="3.4" stroke-linecap="round"/><ellipse cx="2392.1" cy="1124.6" rx="13.8" ry="11.0" fill="#ff9896"/><path d="M2383 1132h0M2399 1134h0M2396 1132h0M2394 1116h0M2402 1115h0M2391 1132h0M2401 1118h0M2397 1117h0M2382 1123h0M2386 1129h0M2395 1132h0M2376 1124h0M2400 1120h0M2385 1133h0M2400 1118h0M2385 1136h0M2407 1133h0M2374 1123h0M2394 1131h0M2379 1133h0M2401 1131h0M2408 1128h0M2400 1118h0M2399 1120h0" stroke="#ff9896" stroke-width="3.4" stroke-linecap="round"/><ellipse cx="2424.3" cy="1128.7" rx="13.8" ry="12.0" fill="#2ca02c"/><path d="M2426 1115h0M2440 1131h0M2418 1122h0M2428 1138h0M2409 1126h0M2419 1120h0M2429 1136h0M2438 1126h0M2435 1136h0M2414 1126h0M2439 1124h0M2415 1125h0M2418 1142h0M2416 1127h0M2441 1131h0M2436 1132h0M2435 1134h0M2420 1115h0M2414 1119h0M2413 1132h0M2419 1136h0M2425 1115h0M2439 1136h0M2426 1117h0" stroke="#2ca02c" stroke-width="3.4" stroke-linecap="round"/><ellipse cx="2449.6" cy="1135.0" rx="13.8" ry="12.0" fill="#d62728"/><path d="M2463 1143h0M2447 1127h0M2444 1147h0M2451 1124h0M2459 1132h0M2458 1129h0M2443 1142h0M2460 1130h0M2457 1127h0M2441 1136h0M2459 1142h0M2456 1127h0M2442 1145h0M2437 1134h0M2448 1127h0M2441 1132h0M2446 1145h0M2441 1130h0M2450 1143h0M2441 1136h0M2453 1148h0M2433 1141h0M2439 1131h0M2446 1127h0" stroke="#d62728" stroke-width="3.4" stroke-linecap="round"/><ellipse cx="2300.1" cy="1153.7" rx="14.7" ry="11.0" fill="#1f77b4"/><path d="M2292 1143h0M2296 1141h0M2311 1161h0M2296 1160h0M2289 1157h0M2288 1160h0M2294 1143h0M2305 1145h0M2294 1148h0M2302 1161h0M2286 1148h0M2306 1142h0M2293 1145h0M2296 1165h0M2290 1156h0M2309 1147h0M2304 1142h0M2316 1147h0M2296 1140h0M2315 1153h0M2289 1147h0M2310 1143h0M2317 1159h0M2309 1152h0" stroke="#1f77b4" stroke-width="3.4" stroke-linecap="round"/><ellipse cx="2419.7" cy="1155.8" rx="13.8" ry="12.0" fill="#9467bd"/><path d="M2403 1150h0M2428 1162h0M2432 1158h0M2408 1149h0M2417 1146h0M2410 1159h0M2424 1163h0M2404 1151h0M2412 1164h0M2416 1170h0M2426 1161h0M2414 1149h0M2431 1147h0M2429 1154h0M2430 1166h0M2431 1144h0M2414 1142h0M2411 1148h0M2405 1162h0M2412 1162h0M2412 1159h0M2404 1156h0M2417 1147h0M2432 1150h0" stroke="#9467bd" stroke-width="3.4" stroke-linecap="round"/><ellipse cx="2493.3" cy="1153.7" rx="12.9" ry="10.1" fill="#bcbd22"/><path d="M2501 1155h0M2482 1155h0M2479 1147h0M2506 1159h0M2478 1152h0M2493 1146h0M2481 1153h0M2486 1149h0M2484 1146h0M2486 1144h0M2481 1151h0M2481 1146h0M2486 1152h0M2478 1157h0M2484 1150h0M2483 1164h0M2491 1161h0M2489 1144h0M2488 1165h0M2492 1164h0M2482 1149h0M2488 1147h0M2493 1147h0M2484 1154h0" stroke="#bcbd22" stroke-width="3.4" stroke-linecap="round"/><ellipse cx="2362.2" cy="1172.4" rx="13.8" ry="10.1" fill="#98df8a"/><path d="M2376 1178h0M2362 1183h0M2361 1180h0M2361 1162h0M2375 1166h0M2356 1165h0M2369 1183h0M2363 1180h0M2354 1171h0M2380 1171h0M2349 1166h0M2370 1163h0M2352 1177h0M2354 1163h0M2369 1181h0M2367 1167h0M2361 1184h0M2374 1175h0M2349 1174h0M2379 1168h0M2364 1183h0M2354 1177h0M2350 1171h0M2358 1184h0" stroke="#98df8a" stroke-width="3.4" stroke-linecap="round"/><ellipse cx="2447.3" cy="1199.5" rx="12.9" ry="11.0" fill="#9edae5"/><path d="M2440 1206h0M2431 1197h0M2458 1206h0M2438 1210h0M2437 1192h0M2446 1208h0M2451 1191h0M2437 1194h0M2443 1192h0M2440 1188h0M2434 1198h0M2458 1199h0M2455 1200h0M2458 1204h0M2434 1198h0M2439 1209h0M2447 1206h0M2441 1195h0M2434 1192h0M2450 1210h0M2459 1209h0M2459 1205h0M2437 1208h0M2438 1189h0" stroke="#9edae5" stroke-width="3.4" stroke-linecap="round"/><ellipse cx="2394.4" cy="1228.6" rx="13.8" ry="9.2" fill="#ffbb78"/><path d="M2398 1234h0M2399 1235h0M2390 1224h0M2377 1232h0M2396 1219h0M2387 1219h0M2394 1239h0M2393 1234h0M2381 1236h0M2394 1239h0M2398 1234h0M2405 1228h0M2383 1235h0M2405 1234h0M2381 1233h0M2404 1234h0M2394 1234h0M2408 1233h0M2396 1223h0M2380 1229h0M2403 1229h0M2387 1233h0M2389 1236h0M2410 1229h0" stroke="#ffbb78" stroke-width="3.4" stroke-linecap="round"/></g><circle cx="2401.3" cy="1035.1" r="2" fill="#000"/><text x="2405.3" y="1040.1" font-size="14.5" text-anchor="start" fill="#000">9</text><circle cx="2359.9" cy="1080.9" r="2" fill="#000"/><text x="2363.9" y="1085.9" font-size="14.5" text-anchor="start" fill="#000">3</text><circle cx="2440.4" cy="1078.8" r="2" fill="#000"/><text x="2444.4" y="1083.8" font-size="14.5" text-anchor="start" fill="#000">13</text><circle cx="2504.8" cy="1101.7" r="2" fill="#000"/><text x="2508.8" y="1106.7" font-size="14.5" text-anchor="start" fill="#000">11</text><circle cx="2327.7" cy="1110.0" r="2" fill="#000"/><text x="2331.7" y="1115.0" font-size="14.5" text-anchor="start" fill="#000">2</text><circle cx="2392.1" cy="1124.6" r="2" fill="#000"/><text x="2396.1" y="1129.6" font-size="14.5" text-anchor="start" fill="#000">8</text><circle cx="2424.3" cy="1128.7" r="2" fill="#000"/><text x="2428.3" y="1133.7" font-size="14.5" text-anchor="start" fill="#000">5</text><circle cx="2449.6" cy="1135.0" r="2" fill="#000"/><text x="2453.6" y="1140.0" font-size="14.5" text-anchor="start" fill="#000">7</text><circle cx="2300.1" cy="1153.7" r="2" fill="#000"/><text x="2304.1" y="1158.7" font-size="14.5" text-anchor="start" fill="#000">1</text><circle cx="2419.7" cy="1155.8" r="2" fill="#000"/><text x="2423.7" y="1160.8" font-size="14.5" text-anchor="start" fill="#000">10</text><circle cx="2493.3" cy="1153.7" r="2" fill="#000"/><text x="2497.3" y="1158.7" font-size="14.5" text-anchor="start" fill="#000">12</text><circle cx="2362.2" cy="1172.4" r="2" fill="#000"/><text x="2366.2" y="1177.4" font-size="14.5" text-anchor="start" fill="#000">6</text><circle cx="2447.3" cy="1199.5" r="2" fill="#000"/><text x="2451.3" y="1204.5" font-size="14.5" text-anchor="start" fill="#000">14</text><circle cx="2394.4" cy="1228.6" r="2" fill="#000"/><text x="2398.4" y="1233.6" font-size="14.5" text-anchor="start" fill="#000">4</text><line x1="2316.2" y1="1250.8" x2="2316.2" y2="1253.8" stroke="#000" stroke-width="1"/><text x="2316.2" y="1264.8" font-size="11.2" text-anchor="middle" fill="#000">−40</text><line x1="2362.2" y1="1250.8" x2="2362.2" y2="1253.8" stroke="#000" stroke-width="1"/><text x="2362.2" y="1264.8" font-size="11.2" text-anchor="middle" fill="#000">−20</text><line x1="2408.2" y1="1250.8" x2="2408.2" y2="1253.8" stroke="#000" stroke-width="1"/><text x="2408.2" y="1264.8" font-size="11.2" text-anchor="middle" fill="#000">0</text><line x1="2454.2" y1="1250.8" x2="2454.2" y2="1253.8" stroke="#000" stroke-width="1"/><text x="2454.2" y="1264.8" font-size="11.2" text-anchor="middle" fill="#000">20</text><line x1="2500.2" y1="1250.8" x2="2500.2" y2="1253.8" stroke="#000" stroke-width="1"/><text x="2500.2" y="1264.8" font-size="11.2" text-anchor="middle" fill="#000">40</text><line x1="2272.5" y1="1216.1" x2="2275.5" y2="1216.1" stroke="#000" stroke-width="1"/><text x="2270.5" y="1220.1" font-size="11.2" text-anchor="end" fill="#000">−40</text><line x1="2272.5" y1="1174.5" x2="2275.5" y2="1174.5" stroke="#000" stroke-width="1"/><text x="2270.5" y="1178.5" font-size="11.2" text-anchor="end" fill="#000">−20</text><line x1="2272.5" y1="1132.9" x2="2275.5" y2="1132.9" stroke="#000" stroke-width="1"/><text x="2270.5" y="1136.9" font-size="11.2" text-anchor="end" fill="#000">0</text><line x1="2272.5" y1="1091.3" x2="2275.5" y2="1091.3" stroke="#000" stroke-width="1"/><text x="2270.5" y="1095.3" font-size="11.2" text-anchor="end" fill="#000">20</text><line x1="2272.5" y1="1049.7" x2="2275.5" y2="1049.7" stroke="#000" stroke-width="1"/><text x="2270.5" y="1053.7" font-size="11.2" text-anchor="end" fill="#000">40</text><text x="2402.9" y="1005.0" font-size="15.9" text-anchor="middle" fill="#000">Raw feature (TSNE), True Labels</text><rect x="2565.3" y="1010.8" width="254.6" height="240.0" fill="#fff" stroke="#444" stroke-width="1.2"/><clipPath id="cp598_2565_1010"><rect x="2565.3" y="1010.8" width="254.6" height="240.0"/></clipPath><g clip-path="url(#cp598_2565_1010)"><path d="M2754 1143h0M2682 1090h0M2762 1230h0M2647 1163h0M2738 1078h0M2627 1131h0M2797 1174h0M2662 1233h0M2798 1107h0M2675 1063h0M2670 1065h0M2752 1183h0M2643 1127h0M2792 1104h0M2662 1162h0M2624 1098h0M2698 1056h0M2689 1205h0M2610 1240h0M2797 1194h0M2679 1076h0M2729 1138h0M2791 1072h0M2792 1242h0M2670 1173h0M2744 1159h0M2645 1105h0M2705 1044h0M2773 1130h0M2748 1195h0M2618 1088h0M2699 1241h0M2780 1113h0M2651 1106h0M2606 1110h0M2780 1070h0M2622 1114h0M2766 1232h0M2763 1221h0M2719 1114h0" stroke="#ffbb78" stroke-width="3.2" stroke-linecap="round" opacity="0.6"/><path d="M2747 1126h0M2765 1061h0M2791 1106h0M2751 1077h0M2778 1114h0M2806 1125h0M2746 1129h0M2747 1119h0M2792 1130h0M2767 1130h0M2759 1087h0M2752 1066h0M2784 1108h0M2753 1057h0M2748 1146h0M2803 1074h0M2782 1118h0M2788 1065h0M2774 1134h0M2752 1119h0M2772 1122h0M2754 1076h0M2782 1073h0M2783 1138h0M2797 1116h0M2770 1090h0M2755 1046h0M2806 1083h0M2799 1045h0M2776 1099h0" stroke="#f7b6d2" stroke-width="3.2" stroke-linecap="round" opacity="0.6"/><path d="M2780 1125h0M2743 1135h0M2749 1060h0M2799 1096h0M2750 1052h0M2743 1109h0M2753 1121h0M2780 1055h0M2769 1136h0M2743 1092h0M2750 1144h0M2773 1140h0M2755 1101h0M2777 1104h0M2788 1055h0M2755 1136h0M2755 1123h0M2767 1126h0M2798 1139h0M2778 1141h0M2768 1125h0M2779 1129h0M2764 1100h0M2752 1110h0M2757 1112h0" stroke="#2ca02c" stroke-width="3.2" stroke-linecap="round" opacity="0.6"/><path d="M2616 1068h0M2641 1107h0M2659 1081h0M2687 1098h0M2642 1103h0M2691 1035h0M2701 1067h0M2667 1097h0M2653 1072h0M2697 1098h0M2659 1077h0M2615 1080h0M2698 1096h0M2655 1098h0M2704 1036h0M2702 1040h0M2654 1113h0M2710 1054h0M2662 1080h0M2652 1048h0" stroke="#aec7e8" stroke-width="3.2" stroke-linecap="round" opacity="0.6"/><path d="M2795 1114h0M2785 1115h0M2798 1074h0M2780 1106h0M2778 1105h0M2811 1120h0M2794 1110h0M2783 1082h0M2790 1054h0M2783 1112h0M2796 1109h0M2805 1078h0M2796 1121h0M2792 1095h0M2795 1085h0" stroke="#d62728" stroke-width="3.2" stroke-linecap="round" opacity="0.6"/><path d="M2629.4,1078.4 L2648.9,1078.4 L2668.4,1078.4" fill="none" stroke="#1f77b4" stroke-width="12.6" stroke-linecap="round" opacity="0.8"/><path d="M2656 1092h0M2655 1084h0M2644 1076h0M2626 1084h0M2651 1071h0M2629 1084h0M2663 1067h0M2644 1073h0M2657 1079h0M2649 1079h0M2628 1076h0M2652 1085h0M2635 1077h0M2663 1092h0M2635 1080h0M2639 1077h0M2652 1067h0M2648 1081h0M2663 1080h0M2652 1085h0M2655 1072h0M2647 1073h0M2652 1085h0M2669 1080h0M2665 1076h0M2656 1086h0M2646 1090h0M2635 1081h0M2646 1078h0M2662 1082h0M2634 1078h0M2675 1091h0M2658 1090h0M2643 1066h0M2661 1066h0M2644 1079h0M2640 1079h0M2643 1091h0M2662 1084h0M2643 1082h0M2645 1081h0M2653 1082h0M2648 1081h0M2627 1084h0M2660 1064h0M2654 1084h0M2627 1094h0M2659 1076h0M2627 1075h0M2638 1069h0" stroke="#1f77b4" stroke-width="3.2" stroke-linecap="round" opacity="0.7"/><ellipse cx="2668.4" cy="1072.0" rx="12.8" ry="8.0" fill="#ff7f0e" opacity="0.8"/><path d="M2673 1075h0M2659 1078h0M2687 1075h0M2673 1067h0M2658 1069h0M2669 1072h0M2666 1088h0M2674 1066h0M2656 1061h0M2658 1076h0M2665 1067h0M2675 1076h0M2672 1072h0M2668 1063h0M2649 1067h0M2660 1067h0M2667 1069h0M2655 1071h0M2672 1069h0M2677 1074h0M2672 1070h0M2673 1076h0M2648 1079h0M2663 1076h0M2644 1069h0M2651 1071h0M2670 1075h0M2669 1064h0M2682 1063h0M2665 1067h0M2662 1063h0M2680 1077h0M2669 1071h0M2658 1071h0M2659 1073h0M2672 1070h0M2673 1076h0M2677 1085h0M2654 1064h0M2656 1071h0M2652 1069h0M2677 1077h0M2685 1078h0M2679 1069h0M2665 1078h0M2677 1060h0M2654 1066h0M2659 1081h0M2687 1074h0M2672 1085h0" stroke="#ff7f0e" stroke-width="3.2" stroke-linecap="round" opacity="0.7"/><ellipse cx="2691.1" cy="1074.1" rx="12.8" ry="8.0" fill="#ffbb78" opacity="0.8"/><path d="M2696 1078h0M2695 1077h0M2705 1079h0M2692 1072h0M2694 1063h0M2696 1075h0M2694 1067h0M2696 1075h0M2691 1077h0M2682 1065h0M2696 1060h0M2697 1088h0M2695 1080h0M2708 1081h0M2715 1068h0M2688 1077h0M2674 1074h0M2692 1083h0M2702 1079h0M2698 1074h0M2694 1079h0M2702 1069h0M2696 1074h0M2694 1082h0M2688 1068h0M2682 1070h0M2697 1073h0M2685 1079h0M2693 1079h0M2714 1086h0M2695 1076h0M2703 1082h0M2687 1066h0M2700 1076h0M2697 1078h0M2684 1071h0M2702 1073h0M2683 1072h0M2695 1071h0M2709 1079h0M2676 1076h0M2707 1096h0M2686 1074h0M2677 1078h0M2696 1076h0M2680 1079h0M2710 1083h0M2695 1074h0M2700 1073h0M2665 1063h0" stroke="#ffbb78" stroke-width="3.2" stroke-linecap="round" opacity="0.7"/><ellipse cx="2717.1" cy="1067.7" rx="12.8" ry="8.0" fill="#ff9896" opacity="0.8"/><path d="M2731 1076h0M2716 1062h0M2714 1059h0M2714 1079h0M2711 1063h0M2703 1069h0M2707 1072h0M2714 1079h0M2723 1071h0M2702 1068h0M2720 1070h0M2721 1068h0M2705 1052h0M2705 1074h0M2725 1075h0M2720 1069h0M2717 1057h0M2719 1063h0M2711 1061h0M2716 1074h0M2725 1061h0M2720 1067h0M2696 1074h0M2710 1071h0M2709 1073h0M2730 1069h0M2723 1063h0M2714 1060h0M2728 1075h0M2712 1068h0M2710 1059h0M2712 1060h0M2697 1070h0M2707 1067h0M2689 1068h0M2710 1064h0M2726 1067h0M2720 1068h0M2722 1063h0M2717 1066h0M2724 1064h0M2725 1071h0M2711 1072h0M2713 1064h0M2709 1061h0M2720 1066h0M2714 1073h0M2726 1068h0M2697 1071h0M2697 1062h0" stroke="#ff9896" stroke-width="3.2" stroke-linecap="round" opacity="0.7"/><ellipse cx="2746.3" cy="1067.7" rx="12.8" ry="8.0" fill="#17becf" opacity="0.8"/><path d="M2745 1078h0M2720 1058h0M2739 1072h0M2729 1062h0M2759 1073h0M2740 1074h0M2747 1062h0M2739 1064h0M2735 1071h0M2757 1058h0M2753 1061h0M2746 1070h0M2757 1068h0M2749 1078h0M2763 1075h0M2754 1071h0M2763 1072h0M2739 1068h0M2751 1059h0M2740 1079h0M2734 1071h0M2750 1074h0M2738 1063h0M2747 1064h0M2762 1069h0M2755 1061h0M2752 1084h0M2746 1060h0M2758 1065h0M2733 1060h0M2734 1071h0M2737 1062h0M2742 1070h0M2756 1076h0M2743 1074h0M2738 1079h0M2753 1069h0M2730 1074h0M2741 1064h0M2738 1064h0M2751 1070h0M2747 1080h0M2733 1070h0M2732 1071h0M2752 1069h0M2752 1071h0M2751 1059h0M2755 1079h0M2758 1066h0M2767 1069h0" stroke="#17becf" stroke-width="3.2" stroke-linecap="round" opacity="0.7"/><ellipse cx="2743.0" cy="1091.2" rx="12.0" ry="8.0" fill="#f7b6d2" opacity="0.8"/><path d="M2754 1096h0M2757 1081h0M2735 1095h0M2741 1089h0M2758 1088h0M2746 1094h0M2741 1076h0M2725 1090h0M2764 1087h0M2743 1105h0M2743 1095h0M2746 1086h0M2735 1088h0M2743 1086h0M2738 1093h0M2755 1107h0M2736 1093h0M2733 1087h0M2726 1102h0M2739 1097h0M2733 1076h0M2760 1081h0M2733 1099h0M2744 1090h0M2756 1089h0M2751 1083h0M2757 1088h0M2745 1087h0M2735 1089h0M2752 1090h0M2745 1088h0M2756 1082h0M2727 1100h0M2722 1102h0M2743 1094h0M2746 1087h0M2748 1104h0M2755 1087h0M2755 1084h0M2741 1092h0M2755 1082h0M2753 1089h0M2727 1098h0M2739 1078h0M2751 1080h0M2739 1084h0M2735 1098h0M2749 1081h0M2741 1092h0M2756 1094h0" stroke="#f7b6d2" stroke-width="3.2" stroke-linecap="round" opacity="0.7"/><ellipse cx="2739.8" cy="1095.5" rx="6.4" ry="6.4" fill="#f7b6d2" opacity="0.8"/><path d="M2733 1089h0M2743 1099h0M2737 1092h0M2742 1097h0M2726 1094h0M2744 1088h0M2744 1089h0M2741 1091h0M2731 1097h0M2739 1103h0M2744 1087h0M2741 1101h0M2744 1105h0M2750 1092h0M2742 1108h0M2746 1092h0M2732 1087h0M2743 1095h0M2739 1092h0M2735 1099h0M2740 1098h0M2731 1105h0M2746 1101h0M2729 1100h0M2732 1098h0M2746 1101h0M2744 1105h0M2741 1091h0M2737 1096h0M2744 1090h0M2744 1095h0M2737 1091h0M2737 1097h0M2739 1099h0M2731 1088h0M2734 1101h0M2739 1096h0M2743 1099h0M2737 1088h0M2738 1088h0M2739 1092h0M2741 1097h0M2738 1099h0M2755 1086h0M2752 1090h0M2733 1091h0M2744 1097h0M2737 1092h0M2736 1099h0M2746 1094h0" stroke="#f7b6d2" stroke-width="3.2" stroke-linecap="round" opacity="0.7"/><ellipse cx="2769.0" cy="1086.9" rx="10.4" ry="8.8" fill="#bcbd22" opacity="0.8"/><path d="M2763 1084h0M2749 1087h0M2772 1084h0M2765 1095h0M2772 1090h0M2773 1088h0M2780 1077h0M2769 1071h0M2765 1101h0M2758 1079h0M2768 1093h0M2775 1083h0M2783 1087h0M2779 1098h0M2761 1076h0M2774 1088h0M2769 1089h0M2768 1098h0M2744 1096h0M2771 1086h0M2761 1096h0M2759 1088h0M2779 1075h0M2772 1089h0M2773 1084h0M2774 1094h0M2766 1102h0M2759 1082h0M2779 1085h0M2761 1084h0M2782 1093h0M2761 1074h0M2782 1089h0M2765 1080h0M2751 1077h0M2772 1083h0M2783 1094h0M2764 1080h0M2780 1084h0M2791 1088h0M2757 1072h0M2763 1097h0M2767 1069h0M2764 1085h0M2781 1090h0M2768 1089h0M2788 1095h0M2763 1092h0M2779 1104h0M2771 1085h0" stroke="#bcbd22" stroke-width="3.2" stroke-linecap="round" opacity="0.7"/><ellipse cx="2775.5" cy="1082.7" rx="6.4" ry="6.4" fill="#d62728" opacity="0.8"/><path d="M2777 1080h0M2776 1078h0M2776 1075h0M2780 1087h0M2767 1087h0M2773 1090h0M2781 1088h0M2779 1077h0M2765 1083h0M2769 1084h0M2768 1087h0M2778 1076h0M2770 1085h0M2780 1084h0M2772 1084h0M2774 1080h0M2768 1083h0M2771 1082h0M2765 1087h0M2773 1083h0M2783 1091h0M2779 1077h0M2775 1084h0M2777 1083h0M2780 1086h0M2782 1087h0M2772 1081h0M2775 1085h0M2773 1083h0M2774 1080h0M2778 1087h0M2785 1088h0M2773 1089h0M2768 1085h0M2773 1080h0M2786 1080h0M2777 1086h0M2775 1076h0M2777 1081h0M2775 1083h0M2778 1085h0M2768 1084h0M2785 1073h0M2771 1079h0M2765 1073h0M2770 1089h0M2774 1078h0M2775 1085h0M2778 1083h0M2789 1084h0" stroke="#d62728" stroke-width="3.2" stroke-linecap="round" opacity="0.7"/><ellipse cx="2772.2" cy="1091.2" rx="6.4" ry="6.4" fill="#bcbd22" opacity="0.8"/><path d="M2774 1088h0M2768 1085h0M2766 1094h0M2773 1088h0M2770 1097h0M2771 1091h0M2774 1094h0M2768 1078h0M2762 1093h0M2769 1089h0M2763 1087h0M2773 1091h0M2767 1085h0M2782 1090h0M2772 1084h0M2768 1090h0M2766 1092h0M2766 1087h0M2768 1083h0M2764 1092h0M2767 1090h0M2771 1093h0M2776 1088h0M2766 1092h0M2777 1089h0M2772 1090h0M2771 1095h0M2770 1094h0M2774 1102h0M2768 1097h0M2776 1085h0M2775 1094h0M2769 1078h0M2776 1084h0M2771 1082h0M2775 1082h0M2769 1088h0M2772 1084h0M2775 1094h0M2770 1090h0M2758 1100h0M2771 1095h0M2773 1092h0M2776 1088h0M2778 1099h0M2773 1090h0M2777 1093h0M2770 1089h0M2773 1095h0M2770 1095h0" stroke="#bcbd22" stroke-width="3.2" stroke-linecap="round" opacity="0.7"/><ellipse cx="2759.2" cy="1099.8" rx="8.0" ry="6.4" fill="#9467bd" opacity="0.8"/><path d="M2772 1103h0M2759 1103h0M2756 1094h0M2754 1093h0M2765 1097h0M2747 1102h0M2762 1101h0M2751 1094h0M2771 1097h0M2762 1100h0M2750 1092h0M2762 1098h0M2757 1105h0M2749 1099h0M2767 1104h0M2757 1102h0M2763 1095h0M2750 1104h0M2760 1109h0M2755 1105h0M2765 1102h0M2759 1095h0M2757 1097h0M2759 1094h0M2761 1109h0M2754 1103h0M2747 1102h0M2761 1095h0M2763 1100h0M2771 1100h0M2762 1099h0M2752 1113h0M2760 1101h0M2760 1092h0M2750 1091h0M2768 1102h0M2757 1092h0M2754 1099h0M2751 1104h0M2754 1098h0M2759 1088h0M2765 1100h0M2745 1098h0M2757 1094h0M2762 1106h0M2762 1092h0M2755 1089h0M2761 1095h0M2761 1104h0M2765 1101h0" stroke="#9467bd" stroke-width="3.2" stroke-linecap="round" opacity="0.7"/><ellipse cx="2691.1" cy="1129.7" rx="17.6" ry="8.8" fill="#98df8a" opacity="0.8"/><path d="M2687 1118h0M2722 1146h0M2690 1133h0M2675 1127h0M2691 1126h0M2716 1132h0M2682 1127h0M2695 1118h0M2698 1129h0M2704 1132h0M2682 1125h0M2711 1133h0M2700 1134h0M2690 1122h0M2717 1128h0M2710 1129h0M2707 1124h0M2672 1128h0M2684 1134h0M2696 1119h0M2681 1120h0M2680 1129h0M2682 1138h0M2697 1124h0M2710 1136h0M2694 1127h0M2719 1135h0M2676 1131h0M2679 1136h0M2676 1125h0M2682 1133h0M2676 1130h0M2660 1136h0M2653 1131h0M2695 1126h0M2707 1138h0M2706 1138h0M2696 1127h0M2695 1138h0M2690 1113h0M2667 1143h0M2679 1125h0M2705 1136h0M2699 1131h0M2661 1146h0M2686 1138h0M2693 1126h0M2687 1129h0M2715 1120h0M2697 1143h0" stroke="#98df8a" stroke-width="3.2" stroke-linecap="round" opacity="0.7"/><ellipse cx="2743.0" cy="1138.3" rx="12.8" ry="13.6" fill="#9edae5" opacity="0.8"/><path d="M2738 1139h0M2731 1156h0M2731 1145h0M2723 1129h0M2745 1126h0M2740 1123h0M2744 1125h0M2732 1141h0M2723 1145h0M2735 1156h0M2738 1129h0M2744 1149h0M2718 1131h0M2756 1127h0M2730 1121h0M2739 1124h0M2748 1122h0M2738 1136h0M2737 1136h0M2733 1128h0M2756 1143h0M2747 1150h0M2747 1135h0M2749 1136h0M2761 1141h0M2744 1156h0M2752 1131h0M2748 1124h0M2740 1140h0M2744 1136h0M2733 1143h0M2749 1131h0M2743 1144h0M2748 1142h0M2748 1145h0M2751 1143h0M2738 1142h0M2736 1132h0M2747 1139h0M2736 1144h0M2735 1143h0M2729 1153h0M2748 1143h0M2743 1124h0M2726 1139h0M2739 1142h0M2754 1143h0M2733 1145h0M2737 1143h0M2749 1133h0" stroke="#9edae5" stroke-width="3.2" stroke-linecap="round" opacity="0.7"/><path d="M2710.6,1198.2 L2717.1,1181.1 L2726.8,1164.0" fill="none" stroke="#ffbb78" stroke-width="18.0" stroke-linecap="round" opacity="0.8"/><path d="M2699 1189h0M2708 1177h0M2722 1193h0M2707 1183h0M2725 1162h0M2725 1172h0M2720 1188h0M2729 1182h0M2717 1170h0M2713 1165h0M2728 1175h0M2736 1162h0M2716 1170h0M2712 1190h0M2724 1187h0M2700 1196h0M2711 1165h0M2726 1180h0M2715 1181h0M2729 1162h0M2708 1200h0M2718 1195h0M2723 1168h0M2705 1195h0M2719 1162h0M2715 1188h0M2712 1172h0M2713 1199h0M2736 1152h0M2708 1155h0M2724 1169h0M2726 1169h0M2728 1173h0M2720 1172h0M2719 1193h0M2718 1184h0M2719 1193h0M2719 1189h0M2722 1193h0M2709 1183h0M2700 1180h0M2710 1183h0M2706 1176h0M2725 1173h0M2723 1184h0M2712 1195h0M2713 1171h0M2716 1173h0M2710 1170h0M2705 1192h0" stroke="#ffbb78" stroke-width="3.2" stroke-linecap="round" opacity="0.7"/></g><circle cx="2648.9" cy="1078.4" r="2" fill="#000"/><text x="2652.9" y="1083.4" font-size="14.5" text-anchor="start" fill="#000">1</text><circle cx="2668.4" cy="1072.0" r="2" fill="#000"/><text x="2672.4" y="1077.0" font-size="14.5" text-anchor="start" fill="#000">2</text><circle cx="2691.1" cy="1074.1" r="2" fill="#000"/><text x="2695.1" y="1079.1" font-size="14.5" text-anchor="start" fill="#000">3</text><circle cx="2717.1" cy="1067.7" r="2" fill="#000"/><text x="2721.1" y="1072.7" font-size="14.5" text-anchor="start" fill="#000">9</text><circle cx="2746.3" cy="1067.7" r="2" fill="#000"/><text x="2750.3" y="1072.7" font-size="14.5" text-anchor="start" fill="#000">13</text><circle cx="2746.3" cy="1084.8" r="2" fill="#000"/><text x="2750.3" y="1089.8" font-size="14.5" text-anchor="start" fill="#000">11</text><circle cx="2743.0" cy="1092.1" r="2" fill="#000"/><text x="2747.0" y="1097.1" font-size="14.5" text-anchor="start" fill="#000">8</text><circle cx="2765.7" cy="1080.5" r="2" fill="#000"/><text x="2769.7" y="1085.5" font-size="14.5" text-anchor="start" fill="#000">5</text><circle cx="2772.2" cy="1083.5" r="2" fill="#000"/><text x="2776.2" y="1088.5" font-size="14.5" text-anchor="start" fill="#000">7</text><circle cx="2769.0" cy="1089.1" r="2" fill="#000"/><text x="2773.0" y="1094.1" font-size="14.5" text-anchor="start" fill="#000">12</text><circle cx="2759.2" cy="1097.6" r="2" fill="#000"/><text x="2763.2" y="1102.6" font-size="14.5" text-anchor="start" fill="#000">10</text><circle cx="2691.1" cy="1129.7" r="2" fill="#000"/><text x="2695.1" y="1134.7" font-size="14.5" text-anchor="start" fill="#000">6</text><circle cx="2743.0" cy="1138.3" r="2" fill="#000"/><text x="2747.0" y="1143.3" font-size="14.5" text-anchor="start" fill="#000">14</text><circle cx="2717.1" cy="1181.1" r="2" fill="#000"/><text x="2721.1" y="1186.1" font-size="14.5" text-anchor="start" fill="#000">4</text><line x1="2597.0" y1="1250.8" x2="2597.0" y2="1253.8" stroke="#000" stroke-width="1"/><text x="2597.0" y="1264.8" font-size="11.2" text-anchor="middle" fill="#000">−40</text><line x1="2629.4" y1="1250.8" x2="2629.4" y2="1253.8" stroke="#000" stroke-width="1"/><text x="2629.4" y="1264.8" font-size="11.2" text-anchor="middle" fill="#000">−30</text><line x1="2661.9" y1="1250.8" x2="2661.9" y2="1253.8" stroke="#000" stroke-width="1"/><text x="2661.9" y="1264.8" font-size="11.2" text-anchor="middle" fill="#000">−20</text><line x1="2694.3" y1="1250.8" x2="2694.3" y2="1253.8" stroke="#000" stroke-width="1"/><text x="2694.3" y="1264.8" font-size="11.2" text-anchor="middle" fill="#000">−10</text><line x1="2726.8" y1="1250.8" x2="2726.8" y2="1253.8" stroke="#000" stroke-width="1"/><text x="2726.8" y="1264.8" font-size="11.2" text-anchor="middle" fill="#000">0</text><line x1="2759.2" y1="1250.8" x2="2759.2" y2="1253.8" stroke="#000" stroke-width="1"/><text x="2759.2" y="1264.8" font-size="11.2" text-anchor="middle" fill="#000">10</text><line x1="2791.7" y1="1250.8" x2="2791.7" y2="1253.8" stroke="#000" stroke-width="1"/><text x="2791.7" y="1264.8" font-size="11.2" text-anchor="middle" fill="#000">20</text><line x1="2562.3" y1="1223.9" x2="2565.3" y2="1223.9" stroke="#000" stroke-width="1"/><text x="2560.3" y="1227.9" font-size="11.2" text-anchor="end" fill="#000">−30</text><line x1="2562.3" y1="1181.1" x2="2565.3" y2="1181.1" stroke="#000" stroke-width="1"/><text x="2560.3" y="1185.1" font-size="11.2" text-anchor="end" fill="#000">−20</text><line x1="2562.3" y1="1138.3" x2="2565.3" y2="1138.3" stroke="#000" stroke-width="1"/><text x="2560.3" y="1142.3" font-size="11.2" text-anchor="end" fill="#000">−10</text><line x1="2562.3" y1="1095.5" x2="2565.3" y2="1095.5" stroke="#000" stroke-width="1"/><text x="2560.3" y="1099.5" font-size="11.2" text-anchor="end" fill="#000">0</text><line x1="2562.3" y1="1052.7" x2="2565.3" y2="1052.7" stroke="#000" stroke-width="1"/><text x="2560.3" y="1056.7" font-size="11.2" text-anchor="end" fill="#000">10</text><text x="2693.0" y="1005.0" font-size="15.9" text-anchor="middle" fill="#000">Raw feature (PCA), True Labels</text><rect x="1491" y="740.5" width="55.6" height="41.5" fill="#fff" stroke="#555" stroke-width="1"/><polyline points="1494,757 1496,758 1498,758 1500,759 1502,758 1504,758 1506,760 1508,768 1510,774 1512,762 1514,755 1516,750 1518,750 1520,753 1522,755 1524,757 1526,758 1528,758 1530,758 1532,757 1534,757 1536,759 1538,758 1540,758 1542,757 1544,758" fill="none" stroke="#1f77b4" stroke-width="1.1" opacity="0.6"/><polyline points="1494,758 1496,758 1498,757 1500,758 1502,758 1504,759 1506,762 1508,769 1510,769 1512,758 1514,754 1516,749 1518,752 1520,754 1522,756 1524,757 1526,759 1528,758 1530,759 1532,758 1534,757 1536,759 1538,758 1540,757 1542,758 1544,758" fill="none" stroke="#1f77b4" stroke-width="1.1" opacity="0.6"/><polyline points="1494,758 1496,757 1498,758 1500,758 1502,759 1504,758 1506,760 1508,770 1510,776 1512,762 1514,754 1516,750 1518,748 1520,752 1522,755 1524,758 1526,757 1528,757 1530,757 1532,759 1534,759 1536,759 1538,757 1540,758 1542,757 1544,758" fill="none" stroke="#1f77b4" stroke-width="1.1" opacity="0.6"/><polyline points="1494,758 1496,758 1498,758 1500,758 1502,758 1504,758 1506,760 1508,767 1510,770 1512,761 1514,755 1516,752 1518,753 1520,754 1522,756 1524,757 1526,759 1528,758 1530,758 1532,758 1534,758 1536,758 1538,758 1540,758 1542,758 1544,757" fill="none" stroke="#1f77b4" stroke-width="1.1" opacity="0.6"/><polyline points="1494,757 1496,759 1498,759 1500,758 1502,759 1504,758 1506,763 1508,773 1510,769 1512,758 1514,752 1516,749 1518,750 1520,754 1522,757 1524,758 1526,759 1528,758 1530,759 1532,758 1534,757 1536,757 1538,759 1540,758 1542,757 1544,758" fill="none" stroke="#1f77b4" stroke-width="1.1" opacity="0.6"/><polyline points="1494,759 1496,758 1498,759 1500,758 1502,759 1504,759 1506,760 1508,767 1510,772 1512,764 1514,755 1516,751 1518,751 1520,752 1522,755 1524,756 1526,758 1528,758 1530,758 1532,758 1534,758 1536,758 1538,757 1540,758 1542,758 1544,757" fill="none" stroke="#1f77b4" stroke-width="1.1" opacity="0.6"/><polyline points="1494,757 1496,758 1498,758 1500,758 1502,758 1504,757 1506,762 1508,772 1510,766 1512,757 1514,752 1516,751 1518,752 1520,754 1522,756 1524,758 1526,758 1528,758 1530,758 1532,758 1534,759 1536,758 1538,758 1540,758 1542,758 1544,757" fill="none" stroke="#1f77b4" stroke-width="1.1" opacity="0.6"/><polyline points="1494,758 1496,757 1498,758 1500,757 1502,756 1504,759 1506,764 1508,774 1510,765 1512,756 1514,750 1516,750 1518,752 1520,755 1522,757 1524,758 1526,758 1528,757 1530,759 1532,758 1534,758 1536,758 1538,757 1540,757 1542,759 1544,757" fill="none" stroke="#1f77b4" stroke-width="1.1" opacity="0.6"/><polyline points="1494,757 1496,758 1498,758 1500,758 1502,758 1504,759 1506,766 1508,772 1510,764 1512,755 1514,751 1516,751 1518,754 1520,756 1522,758 1524,758 1526,758 1528,758 1530,758 1532,756 1534,758 1536,759 1538,758 1540,757 1542,758 1544,758" fill="none" stroke="#1f77b4" stroke-width="1.1" opacity="0.6"/><polyline points="1494,757 1496,758 1498,758 1500,758 1502,757 1504,758 1506,761 1508,771 1510,775 1512,762 1514,752 1516,750 1518,749 1520,752 1522,755 1524,757 1526,758 1528,757 1530,759 1532,758 1534,758 1536,758 1538,759 1540,757 1542,759 1544,757" fill="none" stroke="#1f77b4" stroke-width="1.1" opacity="0.6"/><polyline points="1494,757 1496,759 1498,757 1500,758 1502,757 1504,759 1506,762 1508,769 1510,764 1512,756 1514,753 1516,752 1518,753 1520,756 1522,757 1524,757 1526,758 1528,758 1530,759 1532,758 1534,757 1536,759 1538,758 1540,758 1542,758 1544,757" fill="none" stroke="#1f77b4" stroke-width="1.1" opacity="0.6"/><polyline points="1494,759 1496,757 1498,758 1500,759 1502,757 1504,759 1506,761 1508,771 1510,775 1512,762 1514,753 1516,748 1518,749 1520,752 1522,755 1524,757 1526,757 1528,758 1530,757 1532,758 1534,758 1536,758 1538,758 1540,759 1542,757 1544,758" fill="none" stroke="#1f77b4" stroke-width="1.1" opacity="0.6"/><text x="1495.0" y="790.0" font-size="7" text-anchor="middle" fill="#000">0</text><text x="1515.7" y="790.0" font-size="7" text-anchor="middle" fill="#000">25</text><text x="1536.4" y="790.0" font-size="7" text-anchor="middle" fill="#000">50</text><text transform="translate(1471,761.2) rotate(-90)" font-size="6.5" text-anchor="middle">z-scored</text><text transform="translate(1477,761.2) rotate(-90)" font-size="6.5" text-anchor="middle">Amplitude</text><text x="1487.0" y="759.2" font-size="7" text-anchor="end" fill="#000">0</text><text x="1487.0" y="777.9" font-size="7" text-anchor="end" fill="#000">−10</text><rect x="1894" y="740.5" width="56" height="41.5" fill="#fff" stroke="#555" stroke-width="1"/><polyline points="1897,756 1899,758 1901,761 1903,757 1905,760 1907,757 1909,758 1911,765 1913,768 1915,763 1917,758 1919,756 1921,753 1923,757 1925,756 1927,756 1929,757 1931,758 1933,759 1935,759 1937,760 1939,759 1941,758 1943,760 1945,761 1947,761" fill="none" stroke="#8c564b" stroke-width="1.1" opacity="0.6"/><polyline points="1897,755 1899,754 1901,759 1903,759 1905,755 1907,755 1909,758 1911,761 1913,763 1915,759 1917,757 1919,754 1921,756 1923,761 1925,760 1927,758 1929,755 1931,757 1933,762 1935,758 1937,759 1939,759 1941,759 1943,760 1945,759 1947,758" fill="none" stroke="#8c564b" stroke-width="1.1" opacity="0.6"/><polyline points="1897,756 1899,757 1901,759 1903,757 1905,758 1907,754 1909,759 1911,765 1913,766 1915,758 1917,756 1919,753 1921,758 1923,756 1925,758 1927,762 1929,758 1931,759 1933,755 1935,762 1937,762 1939,760 1941,756 1943,758 1945,757 1947,758" fill="none" stroke="#8c564b" stroke-width="1.1" opacity="0.6"/><polyline points="1897,756 1899,758 1901,757 1903,754 1905,759 1907,755 1909,755 1911,765 1913,770 1915,757 1917,763 1919,754 1921,755 1923,760 1925,754 1927,759 1929,758 1931,757 1933,759 1935,755 1937,762 1939,754 1941,758 1943,759 1945,756 1947,754" fill="none" stroke="#8c564b" stroke-width="1.1" opacity="0.6"/><polyline points="1897,758 1899,758 1901,758 1903,756 1905,759 1907,762 1909,759 1911,768 1913,768 1915,761 1917,756 1919,754 1921,755 1923,755 1925,754 1927,757 1929,757 1931,756 1933,756 1935,757 1937,756 1939,759 1941,759 1943,759 1945,765 1947,763" fill="none" stroke="#8c564b" stroke-width="1.1" opacity="0.6"/><polyline points="1897,760 1899,754 1901,754 1903,757 1905,762 1907,756 1909,759 1911,765 1913,765 1915,762 1917,756 1919,754 1921,749 1923,760 1925,756 1927,761 1929,757 1931,753 1933,759 1935,758 1937,759 1939,759 1941,764 1943,758 1945,751 1947,755" fill="none" stroke="#8c564b" stroke-width="1.1" opacity="0.6"/><polyline points="1897,757 1899,762 1901,759 1903,757 1905,755 1907,761 1909,759 1911,766 1913,767 1915,763 1917,753 1919,754 1921,751 1923,754 1925,757 1927,756 1929,760 1931,756 1933,759 1935,760 1937,756 1939,761 1941,756 1943,759 1945,757 1947,755" fill="none" stroke="#8c564b" stroke-width="1.1" opacity="0.6"/><polyline points="1897,759 1899,757 1901,756 1903,759 1905,761 1907,759 1909,760 1911,765 1913,767 1915,756 1917,757 1919,755 1921,756 1923,752 1925,755 1927,753 1929,753 1931,758 1933,758 1935,760 1937,760 1939,756 1941,761 1943,755 1945,760 1947,757" fill="none" stroke="#8c564b" stroke-width="1.1" opacity="0.6"/><polyline points="1897,756 1899,757 1901,758 1903,757 1905,759 1907,757 1909,765 1911,763 1913,774 1915,766 1917,753 1919,755 1921,755 1923,752 1925,755 1927,759 1929,757 1931,763 1933,757 1935,760 1937,755 1939,754 1941,757 1943,756 1945,755 1947,757" fill="none" stroke="#8c564b" stroke-width="1.1" opacity="0.6"/><polyline points="1897,761 1899,760 1901,757 1903,757 1905,755 1907,756 1909,763 1911,762 1913,763 1915,759 1917,751 1919,757 1921,754 1923,754 1925,758 1927,760 1929,763 1931,759 1933,761 1935,760 1937,758 1939,764 1941,757 1943,759 1945,762 1947,760" fill="none" stroke="#8c564b" stroke-width="1.1" opacity="0.6"/><polyline points="1897,756 1899,758 1901,762 1903,756 1905,758 1907,759 1909,761 1911,767 1913,769 1915,761 1917,754 1919,755 1921,753 1923,755 1925,756 1927,761 1929,758 1931,755 1933,756 1935,758 1937,756 1939,758 1941,762 1943,755 1945,751 1947,756" fill="none" stroke="#8c564b" stroke-width="1.1" opacity="0.6"/><polyline points="1897,755 1899,756 1901,757 1903,757 1905,757 1907,758 1909,760 1911,769 1913,770 1915,757 1917,752 1919,753 1921,751 1923,757 1925,757 1927,758 1929,757 1931,754 1933,760 1935,756 1937,756 1939,758 1941,762 1943,758 1945,760 1947,759" fill="none" stroke="#8c564b" stroke-width="1.1" opacity="0.6"/><text x="1898.0" y="790.0" font-size="7" text-anchor="middle" fill="#000">0</text><text x="1918.9" y="790.0" font-size="7" text-anchor="middle" fill="#000">25</text><text x="1939.7" y="790.0" font-size="7" text-anchor="middle" fill="#000">50</text><text transform="translate(1874,761.2) rotate(-90)" font-size="6.5" text-anchor="middle">z-scored</text><text transform="translate(1880,761.2) rotate(-90)" font-size="6.5" text-anchor="middle">Amplitude</text><text x="1890.0" y="759.2" font-size="7" text-anchor="end" fill="#000">0</text><text x="1890.0" y="777.9" font-size="7" text-anchor="end" fill="#000">−10</text><rect x="1491" y="790.9" width="55.6" height="41.5" fill="#fff" stroke="#555" stroke-width="1"/><polyline points="1494,806 1496,808 1498,805 1500,812 1502,805 1504,801 1506,812 1508,816 1510,814 1512,805 1514,807 1516,799 1518,811 1520,804 1522,807 1524,817 1526,810 1528,808 1530,811 1532,814 1534,807 1536,805 1538,812 1540,809 1542,809 1544,814" fill="none" stroke="#aec7e8" stroke-width="1.1" opacity="0.6"/><polyline points="1494,813 1496,814 1498,802 1500,810 1502,810 1504,811 1506,818 1508,814 1510,810 1512,810 1514,796 1516,808 1518,811 1520,806 1522,808 1524,810 1526,812 1528,805 1530,810 1532,816 1534,804 1536,813 1538,809 1540,809 1542,810 1544,808" fill="none" stroke="#aec7e8" stroke-width="1.1" opacity="0.6"/><polyline points="1494,809 1496,816 1498,807 1500,804 1502,810 1504,811 1506,809 1508,807 1510,809 1512,815 1514,809 1516,803 1518,803 1520,801 1522,807 1524,810 1526,806 1528,809 1530,814 1532,803 1534,810 1536,813 1538,816 1540,811 1542,812 1544,807" fill="none" stroke="#aec7e8" stroke-width="1.1" opacity="0.6"/><polyline points="1494,816 1496,812 1498,805 1500,807 1502,803 1504,812 1506,812 1508,820 1510,810 1512,817 1514,808 1516,803 1518,805 1520,804 1522,805 1524,806 1526,810 1528,810 1530,804 1532,810 1534,806 1536,806 1538,813 1540,804 1542,810 1544,804" fill="none" stroke="#aec7e8" stroke-width="1.1" opacity="0.6"/><polyline points="1494,806 1496,807 1498,815 1500,807 1502,809 1504,811 1506,815 1508,814 1510,812 1512,806 1514,808 1516,803 1518,808 1520,806 1522,802 1524,806 1526,806 1528,809 1530,816 1532,808 1534,809 1536,810 1538,804 1540,809 1542,811 1544,806" fill="none" stroke="#aec7e8" stroke-width="1.1" opacity="0.6"/><polyline points="1494,808 1496,805 1498,807 1500,809 1502,808 1504,811 1506,813 1508,823 1510,810 1512,808 1514,805 1516,812 1518,803 1520,813 1522,808 1524,811 1526,805 1528,816 1530,808 1532,808 1534,811 1536,806 1538,812 1540,808 1542,809 1544,807" fill="none" stroke="#aec7e8" stroke-width="1.1" opacity="0.6"/><polyline points="1494,800 1496,810 1498,813 1500,806 1502,807 1504,807 1506,818 1508,808 1510,811 1512,810 1514,799 1516,807 1518,806 1520,814 1522,806 1524,806 1526,802 1528,807 1530,803 1532,813 1534,803 1536,803 1538,805 1540,806 1542,811 1544,803" fill="none" stroke="#aec7e8" stroke-width="1.1" opacity="0.6"/><polyline points="1494,805 1496,807 1498,817 1500,807 1502,805 1504,806 1506,812 1508,810 1510,809 1512,803 1514,806 1516,803 1518,808 1520,805 1522,809 1524,809 1526,809 1528,815 1530,803 1532,809 1534,805 1536,806 1538,807 1540,812 1542,811 1544,811" fill="none" stroke="#aec7e8" stroke-width="1.1" opacity="0.6"/><polyline points="1494,807 1496,813 1498,815 1500,808 1502,804 1504,804 1506,810 1508,813 1510,814 1512,812 1514,808 1516,799 1518,805 1520,807 1522,806 1524,811 1526,803 1528,805 1530,812 1532,813 1534,805 1536,814 1538,804 1540,807 1542,813 1544,802" fill="none" stroke="#aec7e8" stroke-width="1.1" opacity="0.6"/><polyline points="1494,806 1496,813 1498,808 1500,811 1502,809 1504,810 1506,806 1508,818 1510,811 1512,810 1514,806 1516,803 1518,809 1520,808 1522,805 1524,806 1526,808 1528,810 1530,806 1532,806 1534,806 1536,809 1538,803 1540,809 1542,808 1544,807" fill="none" stroke="#aec7e8" stroke-width="1.1" opacity="0.6"/><polyline points="1494,810 1496,810 1498,809 1500,812 1502,808 1504,798 1506,816 1508,819 1510,820 1512,812 1514,810 1516,802 1518,803 1520,800 1522,801 1524,807 1526,806 1528,813 1530,810 1532,809 1534,802 1536,813 1538,806 1540,809 1542,803 1544,806" fill="none" stroke="#aec7e8" stroke-width="1.1" opacity="0.6"/><polyline points="1494,812 1496,816 1498,807 1500,806 1502,810 1504,811 1506,813 1508,819 1510,818 1512,815 1514,808 1516,806 1518,799 1520,799 1522,809 1524,802 1526,815 1528,802 1530,808 1532,805 1534,814 1536,809 1538,811 1540,807 1542,802 1544,804" fill="none" stroke="#aec7e8" stroke-width="1.1" opacity="0.6"/><text x="1495.0" y="840.5" font-size="7" text-anchor="middle" fill="#000">0</text><text x="1515.7" y="840.5" font-size="7" text-anchor="middle" fill="#000">25</text><text x="1536.4" y="840.5" font-size="7" text-anchor="middle" fill="#000">50</text><text transform="translate(1471,811.7) rotate(-90)" font-size="6.5" text-anchor="middle">z-scored</text><text transform="translate(1477,811.7) rotate(-90)" font-size="6.5" text-anchor="middle">Amplitude</text><text x="1487.0" y="809.6" font-size="7" text-anchor="end" fill="#000">0</text><text x="1487.0" y="828.3" font-size="7" text-anchor="end" fill="#000">−10</text><rect x="1894" y="790.9" width="56" height="41.5" fill="#fff" stroke="#555" stroke-width="1"/><polyline points="1897,805 1899,809 1901,807 1903,807 1905,809 1907,804 1909,811 1911,813 1913,817 1915,809 1917,809 1919,804 1921,805 1923,807 1925,804 1927,808 1929,806 1931,808 1933,808 1935,810 1937,805 1939,806 1941,804 1943,810 1945,812 1947,813" fill="none" stroke="#e377c2" stroke-width="1.1" opacity="0.6"/><polyline points="1897,810 1899,809 1901,810 1903,812 1905,809 1907,810 1909,813 1911,817 1913,811 1915,810 1917,809 1919,802 1921,807 1923,809 1925,810 1927,808 1929,810 1931,806 1933,810 1935,802 1937,812 1939,809 1941,807 1943,809 1945,809 1947,809" fill="none" stroke="#e377c2" stroke-width="1.1" opacity="0.6"/><polyline points="1897,813 1899,809 1901,809 1903,808 1905,807 1907,809 1909,811 1911,816 1913,810 1915,809 1917,807 1919,802 1921,807 1923,805 1925,808 1927,812 1929,808 1931,810 1933,811 1935,808 1937,808 1939,807 1941,804 1943,806 1945,808 1947,811" fill="none" stroke="#e377c2" stroke-width="1.1" opacity="0.6"/><polyline points="1897,811 1899,813 1901,802 1903,808 1905,809 1907,809 1909,813 1911,818 1913,814 1915,811 1917,804 1919,804 1921,805 1923,805 1925,808 1927,807 1929,810 1931,808 1933,806 1935,809 1937,810 1939,813 1941,805 1943,812 1945,809 1947,806" fill="none" stroke="#e377c2" stroke-width="1.1" opacity="0.6"/><polyline points="1897,808 1899,813 1901,805 1903,803 1905,811 1907,814 1909,810 1911,808 1913,818 1915,811 1917,808 1919,803 1921,805 1923,806 1925,806 1927,810 1929,805 1931,809 1933,808 1935,810 1937,808 1939,814 1941,809 1943,813 1945,805 1947,804" fill="none" stroke="#e377c2" stroke-width="1.1" opacity="0.6"/><polyline points="1897,811 1899,808 1901,812 1903,804 1905,810 1907,809 1909,807 1911,815 1913,816 1915,809 1917,806 1919,806 1921,803 1923,809 1925,806 1927,807 1929,807 1931,806 1933,809 1935,808 1937,811 1939,814 1941,802 1943,810 1945,806 1947,806" fill="none" stroke="#e377c2" stroke-width="1.1" opacity="0.6"/><polyline points="1897,810 1899,808 1901,813 1903,812 1905,806 1907,809 1909,815 1911,812 1913,811 1915,809 1917,807 1919,805 1921,805 1923,807 1925,808 1927,807 1929,811 1931,809 1933,809 1935,810 1937,808 1939,806 1941,807 1943,811 1945,811 1947,808" fill="none" stroke="#e377c2" stroke-width="1.1" opacity="0.6"/><polyline points="1897,809 1899,805 1901,810 1903,811 1905,813 1907,808 1909,806 1911,811 1913,816 1915,811 1917,805 1919,808 1921,805 1923,806 1925,809 1927,807 1929,808 1931,807 1933,807 1935,808 1937,807 1939,810 1941,812 1943,809 1945,807 1947,809" fill="none" stroke="#e377c2" stroke-width="1.1" opacity="0.6"/><polyline points="1897,807 1899,807 1901,808 1903,812 1905,804 1907,809 1909,811 1911,813 1913,818 1915,807 1917,807 1919,806 1921,803 1923,807 1925,804 1927,810 1929,808 1931,811 1933,808 1935,806 1937,806 1939,810 1941,812 1943,807 1945,807 1947,807" fill="none" stroke="#e377c2" stroke-width="1.1" opacity="0.6"/><polyline points="1897,810 1899,809 1901,809 1903,805 1905,807 1907,808 1909,816 1911,820 1913,807 1915,805 1917,802 1919,808 1921,804 1923,804 1925,803 1927,805 1929,810 1931,810 1933,812 1935,808 1937,810 1939,809 1941,807 1943,807 1945,810 1947,813" fill="none" stroke="#e377c2" stroke-width="1.1" opacity="0.6"/><polyline points="1897,811 1899,810 1901,806 1903,809 1905,809 1907,811 1909,809 1911,822 1913,819 1915,810 1917,807 1919,805 1921,798 1923,807 1925,801 1927,802 1929,806 1931,807 1933,804 1935,811 1937,808 1939,809 1941,808 1943,811 1945,807 1947,811" fill="none" stroke="#e377c2" stroke-width="1.1" opacity="0.6"/><polyline points="1897,808 1899,808 1901,811 1903,810 1905,803 1907,808 1909,814 1911,818 1913,816 1915,811 1917,804 1919,806 1921,805 1923,805 1925,807 1927,805 1929,809 1931,805 1933,807 1935,809 1937,805 1939,805 1941,802 1943,806 1945,807 1947,808" fill="none" stroke="#e377c2" stroke-width="1.1" opacity="0.6"/><text x="1898.0" y="840.5" font-size="7" text-anchor="middle" fill="#000">0</text><text x="1918.9" y="840.5" font-size="7" text-anchor="middle" fill="#000">25</text><text x="1939.7" y="840.5" font-size="7" text-anchor="middle" fill="#000">50</text><text transform="translate(1874,811.7) rotate(-90)" font-size="6.5" text-anchor="middle">z-scored</text><text transform="translate(1880,811.7) rotate(-90)" font-size="6.5" text-anchor="middle">Amplitude</text><text x="1890.0" y="809.6" font-size="7" text-anchor="end" fill="#000">0</text><text x="1890.0" y="828.3" font-size="7" text-anchor="end" fill="#000">−10</text><rect x="1491" y="841.4" width="55.6" height="41.5" fill="#fff" stroke="#555" stroke-width="1"/><polyline points="1494,860 1496,858 1498,859 1500,856 1502,860 1504,859 1506,863 1508,870 1510,867 1512,857 1514,855 1516,853 1518,855 1520,857 1522,859 1524,859 1526,859 1528,860 1530,861 1532,857 1534,859 1536,859 1538,861 1540,858 1542,859 1544,860" fill="none" stroke="#ffbb78" stroke-width="1.1" opacity="0.6"/><polyline points="1494,860 1496,858 1498,858 1500,857 1502,858 1504,860 1506,866 1508,871 1510,867 1512,858 1514,856 1516,853 1518,857 1520,856 1522,857 1524,857 1526,858 1528,859 1530,859 1532,858 1534,857 1536,860 1538,859 1540,860 1542,858 1544,858" fill="none" stroke="#ffbb78" stroke-width="1.1" opacity="0.6"/><polyline points="1494,860 1496,859 1498,859 1500,859 1502,859 1504,858 1506,863 1508,873 1510,869 1512,857 1514,856 1516,851 1518,852 1520,856 1522,855 1524,860 1526,860 1528,857 1530,859 1532,861 1534,859 1536,859 1538,859 1540,857 1542,857 1544,857" fill="none" stroke="#ffbb78" stroke-width="1.1" opacity="0.6"/><polyline points="1494,860 1496,859 1498,860 1500,859 1502,859 1504,860 1506,863 1508,872 1510,865 1512,856 1514,854 1516,853 1518,854 1520,856 1522,859 1524,858 1526,859 1528,856 1530,860 1532,861 1534,859 1536,861 1538,863 1540,859 1542,858 1544,856" fill="none" stroke="#ffbb78" stroke-width="1.1" opacity="0.6"/><polyline points="1494,858 1496,861 1498,857 1500,859 1502,859 1504,858 1506,860 1508,869 1510,871 1512,864 1514,855 1516,854 1518,855 1520,856 1522,855 1524,859 1526,857 1528,859 1530,858 1532,857 1534,860 1536,858 1538,861 1540,857 1542,859 1544,858" fill="none" stroke="#ffbb78" stroke-width="1.1" opacity="0.6"/><polyline points="1494,858 1496,862 1498,859 1500,859 1502,861 1504,858 1506,861 1508,870 1510,871 1512,860 1514,856 1516,852 1518,856 1520,855 1522,859 1524,859 1526,857 1528,857 1530,858 1532,859 1534,860 1536,859 1538,860 1540,859 1542,859 1544,858" fill="none" stroke="#ffbb78" stroke-width="1.1" opacity="0.6"/><polyline points="1494,859 1496,859 1498,860 1500,858 1502,858 1504,860 1506,866 1508,877 1510,865 1512,856 1514,852 1516,851 1518,854 1520,855 1522,860 1524,858 1526,858 1528,858 1530,860 1532,858 1534,859 1536,859 1538,858 1540,859 1542,859 1544,859" fill="none" stroke="#ffbb78" stroke-width="1.1" opacity="0.6"/><polyline points="1494,859 1496,860 1498,858 1500,859 1502,860 1504,860 1506,865 1508,876 1510,871 1512,858 1514,853 1516,851 1518,852 1520,856 1522,857 1524,860 1526,858 1528,858 1530,858 1532,859 1534,859 1536,860 1538,859 1540,859 1542,858 1544,859" fill="none" stroke="#ffbb78" stroke-width="1.1" opacity="0.6"/><polyline points="1494,859 1496,858 1498,858 1500,861 1502,857 1504,861 1506,864 1508,875 1510,869 1512,859 1514,853 1516,851 1518,853 1520,854 1522,857 1524,857 1526,859 1528,859 1530,859 1532,861 1534,857 1536,857 1538,859 1540,857 1542,858 1544,861" fill="none" stroke="#ffbb78" stroke-width="1.1" opacity="0.6"/><polyline points="1494,859 1496,859 1498,860 1500,858 1502,859 1504,858 1506,863 1508,869 1510,872 1512,860 1514,854 1516,852 1518,853 1520,855 1522,857 1524,859 1526,858 1528,856 1530,859 1532,858 1534,859 1536,859 1538,857 1540,859 1542,858 1544,859" fill="none" stroke="#ffbb78" stroke-width="1.1" opacity="0.6"/><polyline points="1494,859 1496,857 1498,859 1500,859 1502,858 1504,859 1506,859 1508,867 1510,874 1512,864 1514,858 1516,856 1518,853 1520,852 1522,856 1524,861 1526,858 1528,858 1530,859 1532,859 1534,859 1536,861 1538,861 1540,859 1542,858 1544,859" fill="none" stroke="#ffbb78" stroke-width="1.1" opacity="0.6"/><polyline points="1494,857 1496,859 1498,857 1500,859 1502,861 1504,860 1506,865 1508,875 1510,872 1512,857 1514,853 1516,852 1518,853 1520,857 1522,857 1524,854 1526,861 1528,861 1530,862 1532,860 1534,859 1536,859 1538,859 1540,860 1542,857 1544,860" fill="none" stroke="#ffbb78" stroke-width="1.1" opacity="0.6"/><text x="1495.0" y="890.9" font-size="7" text-anchor="middle" fill="#000">0</text><text x="1515.7" y="890.9" font-size="7" text-anchor="middle" fill="#000">25</text><text x="1536.4" y="890.9" font-size="7" text-anchor="middle" fill="#000">50</text><text transform="translate(1471,862.1) rotate(-90)" font-size="6.5" text-anchor="middle">z-scored</text><text transform="translate(1477,862.1) rotate(-90)" font-size="6.5" text-anchor="middle">Amplitude</text><text x="1487.0" y="860.1" font-size="7" text-anchor="end" fill="#000">0</text><text x="1487.0" y="878.8" font-size="7" text-anchor="end" fill="#000">−10</text><rect x="1894" y="841.4" width="56" height="41.5" fill="#fff" stroke="#555" stroke-width="1"/><polyline points="1897,859 1899,858 1901,858 1903,857 1905,858 1907,860 1909,866 1911,877 1913,870 1915,853 1917,851 1919,849 1921,853 1923,852 1925,859 1927,857 1929,859 1931,859 1933,858 1935,860 1937,858 1939,859 1941,860 1943,861 1945,859 1947,859" fill="none" stroke="#f7b6d2" stroke-width="1.1" opacity="0.6"/><polyline points="1897,861 1899,858 1901,858 1903,859 1905,858 1907,859 1909,861 1911,872 1913,872 1915,861 1917,853 1919,851 1921,854 1923,856 1925,857 1927,856 1929,859 1931,860 1933,860 1935,859 1937,859 1939,859 1941,859 1943,858 1945,858 1947,859" fill="none" stroke="#f7b6d2" stroke-width="1.1" opacity="0.6"/><polyline points="1897,859 1899,860 1901,857 1903,858 1905,857 1907,858 1909,862 1911,874 1913,870 1915,858 1917,853 1919,855 1921,854 1923,855 1925,858 1927,858 1929,861 1931,858 1933,859 1935,859 1937,859 1939,859 1941,860 1943,859 1945,858 1947,858" fill="none" stroke="#f7b6d2" stroke-width="1.1" opacity="0.6"/><polyline points="1897,858 1899,860 1901,860 1903,858 1905,858 1907,859 1909,858 1911,866 1913,872 1915,859 1917,856 1919,853 1921,852 1923,856 1925,859 1927,859 1929,857 1931,859 1933,857 1935,860 1937,858 1939,860 1941,858 1943,859 1945,859 1947,860" fill="none" stroke="#f7b6d2" stroke-width="1.1" opacity="0.6"/><polyline points="1897,861 1899,859 1901,861 1903,859 1905,859 1907,857 1909,865 1911,871 1913,866 1915,857 1917,856 1919,853 1921,852 1923,853 1925,858 1927,858 1929,860 1931,860 1933,860 1935,857 1937,858 1939,858 1941,857 1943,859 1945,860 1947,859" fill="none" stroke="#f7b6d2" stroke-width="1.1" opacity="0.6"/><polyline points="1897,860 1899,862 1901,860 1903,858 1905,859 1907,858 1909,860 1911,868 1913,874 1915,861 1917,856 1919,852 1921,852 1923,856 1925,856 1927,859 1929,858 1931,859 1933,860 1935,858 1937,858 1939,858 1941,859 1943,857 1945,860 1947,860" fill="none" stroke="#f7b6d2" stroke-width="1.1" opacity="0.6"/><polyline points="1897,860 1899,858 1901,859 1903,859 1905,859 1907,856 1909,860 1911,865 1913,874 1915,868 1917,857 1919,853 1921,852 1923,852 1925,857 1927,857 1929,859 1931,859 1933,860 1935,857 1937,857 1939,858 1941,859 1943,858 1945,860 1947,857" fill="none" stroke="#f7b6d2" stroke-width="1.1" opacity="0.6"/><polyline points="1897,861 1899,857 1901,859 1903,860 1905,859 1907,858 1909,866 1911,873 1913,868 1915,858 1917,849 1919,850 1921,851 1923,855 1925,857 1927,861 1929,861 1931,859 1933,859 1935,858 1937,860 1939,859 1941,860 1943,859 1945,860 1947,860" fill="none" stroke="#f7b6d2" stroke-width="1.1" opacity="0.6"/><polyline points="1897,859 1899,858 1901,859 1903,859 1905,860 1907,859 1909,860 1911,866 1913,867 1915,861 1917,855 1919,855 1921,854 1923,855 1925,860 1927,858 1929,859 1931,859 1933,858 1935,859 1937,859 1939,859 1941,860 1943,860 1945,860 1947,857" fill="none" stroke="#f7b6d2" stroke-width="1.1" opacity="0.6"/><polyline points="1897,859 1899,862 1901,860 1903,860 1905,858 1907,857 1909,862 1911,867 1913,866 1915,861 1917,855 1919,855 1921,854 1923,856 1925,857 1927,858 1929,855 1931,858 1933,858 1935,859 1937,858 1939,859 1941,858 1943,858 1945,859 1947,858" fill="none" stroke="#f7b6d2" stroke-width="1.1" opacity="0.6"/><polyline points="1897,859 1899,857 1901,858 1903,860 1905,858 1907,860 1909,862 1911,874 1913,874 1915,863 1917,854 1919,850 1921,850 1923,852 1925,857 1927,860 1929,860 1931,858 1933,858 1935,861 1937,856 1939,859 1941,859 1943,860 1945,859 1947,858" fill="none" stroke="#f7b6d2" stroke-width="1.1" opacity="0.6"/><polyline points="1897,861 1899,859 1901,859 1903,858 1905,859 1907,859 1909,860 1911,869 1913,873 1915,863 1917,855 1919,851 1921,850 1923,853 1925,857 1927,859 1929,858 1931,860 1933,856 1935,860 1937,859 1939,858 1941,858 1943,860 1945,858 1947,859" fill="none" stroke="#f7b6d2" stroke-width="1.1" opacity="0.6"/><text x="1898.0" y="890.9" font-size="7" text-anchor="middle" fill="#000">0</text><text x="1918.9" y="890.9" font-size="7" text-anchor="middle" fill="#000">25</text><text x="1939.7" y="890.9" font-size="7" text-anchor="middle" fill="#000">50</text><text transform="translate(1874,862.1) rotate(-90)" font-size="6.5" text-anchor="middle">z-scored</text><text transform="translate(1880,862.1) rotate(-90)" font-size="6.5" text-anchor="middle">Amplitude</text><text x="1890.0" y="860.1" font-size="7" text-anchor="end" fill="#000">0</text><text x="1890.0" y="878.8" font-size="7" text-anchor="end" fill="#000">−10</text><rect x="1491" y="891.8" width="55.6" height="41.5" fill="#fff" stroke="#555" stroke-width="1"/><polyline points="1494,909 1496,909 1498,908 1500,910 1502,909 1504,910 1506,915 1508,925 1510,921 1512,909 1514,902 1516,901 1518,901 1520,905 1522,908 1524,908 1526,910 1528,909 1530,909 1532,910 1534,910 1536,909 1538,910 1540,910 1542,909 1544,909" fill="none" stroke="#2ca02c" stroke-width="1.1" opacity="0.6"/><polyline points="1494,909 1496,909 1498,910 1500,909 1502,909 1504,910 1506,914 1508,922 1510,916 1512,907 1514,904 1516,903 1518,904 1520,906 1522,908 1524,909 1526,910 1528,910 1530,908 1532,910 1534,910 1536,910 1538,910 1540,910 1542,910 1544,909" fill="none" stroke="#2ca02c" stroke-width="1.1" opacity="0.6"/><polyline points="1494,909 1496,909 1498,909 1500,909 1502,909 1504,910 1506,911 1508,917 1510,921 1512,912 1514,906 1516,904 1518,903 1520,905 1522,907 1524,909 1526,909 1528,910 1530,909 1532,909 1534,909 1536,910 1538,909 1540,910 1542,909 1544,910" fill="none" stroke="#2ca02c" stroke-width="1.1" opacity="0.6"/><polyline points="1494,909 1496,910 1498,909 1500,909 1502,909 1504,909 1506,912 1508,918 1510,919 1512,913 1514,906 1516,904 1518,904 1520,906 1522,906 1524,909 1526,909 1528,910 1530,908 1532,909 1534,909 1536,910 1538,909 1540,909 1542,909 1544,909" fill="none" stroke="#2ca02c" stroke-width="1.1" opacity="0.6"/><polyline points="1494,909 1496,909 1498,909 1500,910 1502,910 1504,910 1506,912 1508,923 1510,925 1512,911 1514,903 1516,900 1518,900 1520,903 1522,908 1524,909 1526,910 1528,910 1530,909 1532,910 1534,909 1536,909 1538,908 1540,910 1542,909 1544,909" fill="none" stroke="#2ca02c" stroke-width="1.1" opacity="0.6"/><polyline points="1494,909 1496,910 1498,910 1500,910 1502,909 1504,910 1506,917 1508,922 1510,916 1512,907 1514,904 1516,902 1518,905 1520,906 1522,908 1524,910 1526,910 1528,908 1530,910 1532,910 1534,909 1536,910 1538,908 1540,908 1542,910 1544,909" fill="none" stroke="#2ca02c" stroke-width="1.1" opacity="0.6"/><polyline points="1494,909 1496,909 1498,909 1500,910 1502,911 1504,910 1506,913 1508,922 1510,923 1512,911 1514,904 1516,902 1518,902 1520,905 1522,907 1524,909 1526,909 1528,910 1530,909 1532,909 1534,909 1536,910 1538,909 1540,910 1542,909 1544,909" fill="none" stroke="#2ca02c" stroke-width="1.1" opacity="0.6"/><polyline points="1494,909 1496,909 1498,909 1500,909 1502,910 1504,910 1506,913 1508,924 1510,925 1512,911 1514,902 1516,899 1518,901 1520,904 1522,907 1524,909 1526,908 1528,910 1530,910 1532,909 1534,909 1536,908 1538,910 1540,910 1542,909 1544,909" fill="none" stroke="#2ca02c" stroke-width="1.1" opacity="0.6"/><polyline points="1494,910 1496,909 1498,909 1500,909 1502,910 1504,910 1506,915 1508,924 1510,922 1512,910 1514,904 1516,902 1518,902 1520,904 1522,908 1524,909 1526,909 1528,908 1530,909 1532,909 1534,908 1536,909 1538,909 1540,909 1542,909 1544,909" fill="none" stroke="#2ca02c" stroke-width="1.1" opacity="0.6"/><polyline points="1494,908 1496,909 1498,909 1500,909 1502,910 1504,910 1506,913 1508,920 1510,916 1512,909 1514,905 1516,904 1518,906 1520,907 1522,908 1524,908 1526,909 1528,910 1530,910 1532,909 1534,910 1536,910 1538,909 1540,910 1542,909 1544,909" fill="none" stroke="#2ca02c" stroke-width="1.1" opacity="0.6"/><polyline points="1494,909 1496,909 1498,907 1500,909 1502,909 1504,910 1506,912 1508,921 1510,924 1512,911 1514,904 1516,902 1518,901 1520,904 1522,906 1524,910 1526,910 1528,908 1530,909 1532,909 1534,908 1536,910 1538,909 1540,911 1542,910 1544,909" fill="none" stroke="#2ca02c" stroke-width="1.1" opacity="0.6"/><polyline points="1494,910 1496,910 1498,908 1500,909 1502,910 1504,910 1506,912 1508,920 1510,922 1512,912 1514,904 1516,901 1518,902 1520,905 1522,907 1524,909 1526,909 1528,909 1530,909 1532,909 1534,909 1536,908 1538,909 1540,909 1542,909 1544,909" fill="none" stroke="#2ca02c" stroke-width="1.1" opacity="0.6"/><text x="1495.0" y="941.4" font-size="7" text-anchor="middle" fill="#000">0</text><text x="1515.7" y="941.4" font-size="7" text-anchor="middle" fill="#000">25</text><text x="1536.4" y="941.4" font-size="7" text-anchor="middle" fill="#000">50</text><text transform="translate(1471,912.6) rotate(-90)" font-size="6.5" text-anchor="middle">z-scored</text><text transform="translate(1477,912.6) rotate(-90)" font-size="6.5" text-anchor="middle">Amplitude</text><text x="1487.0" y="910.5" font-size="7" text-anchor="end" fill="#000">0</text><text x="1487.0" y="929.2" font-size="7" text-anchor="end" fill="#000">−10</text><rect x="1894" y="891.8" width="56" height="41.5" fill="#fff" stroke="#555" stroke-width="1"/><polyline points="1897,909 1899,908 1901,911 1903,912 1905,909 1907,912 1909,913 1911,922 1913,925 1915,912 1917,906 1919,901 1921,902 1923,902 1925,907 1927,909 1929,908 1931,910 1933,909 1935,907 1937,911 1939,908 1941,910 1943,909 1945,908 1947,908" fill="none" stroke="#c7c7c7" stroke-width="1.1" opacity="0.6"/><polyline points="1897,909 1899,910 1901,910 1903,909 1905,910 1907,909 1909,913 1911,920 1913,914 1915,906 1917,905 1919,905 1921,907 1923,907 1925,910 1927,909 1929,910 1931,909 1933,912 1935,909 1937,911 1939,909 1941,908 1943,909 1945,909 1947,909" fill="none" stroke="#c7c7c7" stroke-width="1.1" opacity="0.6"/><polyline points="1897,911 1899,910 1901,908 1903,908 1905,911 1907,908 1909,912 1911,922 1913,923 1915,913 1917,904 1919,903 1921,902 1923,904 1925,907 1927,908 1929,909 1931,911 1933,910 1935,911 1937,910 1939,909 1941,910 1943,910 1945,910 1947,910" fill="none" stroke="#c7c7c7" stroke-width="1.1" opacity="0.6"/><polyline points="1897,912 1899,910 1901,908 1903,908 1905,910 1907,911 1909,917 1911,924 1913,914 1915,908 1917,904 1919,903 1921,904 1923,907 1925,908 1927,910 1929,909 1931,909 1933,908 1935,909 1937,911 1939,908 1941,910 1943,908 1945,909 1947,909" fill="none" stroke="#c7c7c7" stroke-width="1.1" opacity="0.6"/><polyline points="1897,908 1899,911 1901,909 1903,909 1905,909 1907,909 1909,913 1911,924 1913,923 1915,912 1917,904 1919,901 1921,901 1923,905 1925,907 1927,910 1929,910 1931,909 1933,908 1935,909 1937,910 1939,909 1941,910 1943,909 1945,909 1947,910" fill="none" stroke="#c7c7c7" stroke-width="1.1" opacity="0.6"/><polyline points="1897,910 1899,910 1901,911 1903,909 1905,910 1907,909 1909,910 1911,917 1913,918 1915,912 1917,909 1919,905 1921,904 1923,904 1925,909 1927,909 1929,909 1931,909 1933,910 1935,910 1937,911 1939,909 1941,908 1943,908 1945,911 1947,911" fill="none" stroke="#c7c7c7" stroke-width="1.1" opacity="0.6"/><polyline points="1897,910 1899,908 1901,910 1903,909 1905,908 1907,911 1909,911 1911,917 1913,917 1915,912 1917,907 1919,906 1921,906 1923,906 1925,908 1927,909 1929,910 1931,910 1933,910 1935,910 1937,910 1939,909 1941,908 1943,908 1945,910 1947,908" fill="none" stroke="#c7c7c7" stroke-width="1.1" opacity="0.6"/><polyline points="1897,911 1899,907 1901,909 1903,909 1905,909 1907,909 1909,911 1911,920 1913,926 1915,913 1917,905 1919,902 1921,901 1923,903 1925,906 1927,907 1929,910 1931,909 1933,911 1935,909 1937,909 1939,908 1941,910 1943,909 1945,909 1947,910" fill="none" stroke="#c7c7c7" stroke-width="1.1" opacity="0.6"/><polyline points="1897,909 1899,909 1901,909 1903,908 1905,909 1907,911 1909,912 1911,918 1913,917 1915,909 1917,907 1919,905 1921,905 1923,906 1925,906 1927,910 1929,909 1931,908 1933,910 1935,909 1937,910 1939,911 1941,911 1943,910 1945,910 1947,910" fill="none" stroke="#c7c7c7" stroke-width="1.1" opacity="0.6"/><polyline points="1897,908 1899,909 1901,907 1903,909 1905,910 1907,908 1909,913 1911,921 1913,920 1915,910 1917,905 1919,902 1921,903 1923,905 1925,909 1927,909 1929,910 1931,910 1933,908 1935,910 1937,907 1939,910 1941,909 1943,909 1945,910 1947,909" fill="none" stroke="#c7c7c7" stroke-width="1.1" opacity="0.6"/><polyline points="1897,909 1899,909 1901,910 1903,909 1905,912 1907,908 1909,912 1911,921 1913,926 1915,914 1917,906 1919,901 1921,903 1923,903 1925,907 1927,909 1929,912 1931,908 1933,910 1935,908 1937,908 1939,908 1941,909 1943,909 1945,908 1947,911" fill="none" stroke="#c7c7c7" stroke-width="1.1" opacity="0.6"/><polyline points="1897,909 1899,907 1901,908 1903,909 1905,909 1907,908 1909,914 1911,922 1913,922 1915,911 1917,905 1919,901 1921,901 1923,904 1925,908 1927,909 1929,908 1931,908 1933,908 1935,910 1937,911 1939,907 1941,909 1943,909 1945,908 1947,909" fill="none" stroke="#c7c7c7" stroke-width="1.1" opacity="0.6"/><text x="1898.0" y="941.4" font-size="7" text-anchor="middle" fill="#000">0</text><text x="1918.9" y="941.4" font-size="7" text-anchor="middle" fill="#000">25</text><text x="1939.7" y="941.4" font-size="7" text-anchor="middle" fill="#000">50</text><text transform="translate(1874,912.6) rotate(-90)" font-size="6.5" text-anchor="middle">z-scored</text><text transform="translate(1880,912.6) rotate(-90)" font-size="6.5" text-anchor="middle">Amplitude</text><text x="1890.0" y="910.5" font-size="7" text-anchor="end" fill="#000">0</text><text x="1890.0" y="929.2" font-size="7" text-anchor="end" fill="#000">−10</text><rect x="1491" y="942.3" width="55.6" height="41.5" fill="#fff" stroke="#555" stroke-width="1"/><polyline points="1494,961 1496,958 1498,959 1500,959 1502,960 1504,960 1506,963 1508,974 1510,974 1512,963 1514,953 1516,948 1518,955 1520,954 1522,957 1524,960 1526,961 1528,957 1530,958 1532,959 1534,958 1536,959 1538,962 1540,959 1542,961 1544,960" fill="none" stroke="#d62728" stroke-width="1.1" opacity="0.6"/><polyline points="1494,959 1496,960 1498,959 1500,960 1502,960 1504,960 1506,963 1508,969 1510,973 1512,964 1514,953 1516,951 1518,952 1520,956 1522,958 1524,958 1526,958 1528,958 1530,960 1532,960 1534,960 1536,958 1538,959 1540,963 1542,957 1544,959" fill="none" stroke="#d62728" stroke-width="1.1" opacity="0.6"/><polyline points="1494,960 1496,959 1498,960 1500,959 1502,961 1504,959 1506,964 1508,973 1510,968 1512,960 1514,953 1516,955 1518,955 1520,955 1522,958 1524,957 1526,961 1528,960 1530,961 1532,959 1534,961 1536,960 1538,961 1540,958 1542,959 1544,962" fill="none" stroke="#d62728" stroke-width="1.1" opacity="0.6"/><polyline points="1494,958 1496,961 1498,959 1500,961 1502,957 1504,962 1506,969 1508,973 1510,969 1512,957 1514,953 1516,953 1518,953 1520,953 1522,962 1524,959 1526,959 1528,957 1530,960 1532,958 1534,960 1536,955 1538,960 1540,961 1542,960 1544,960" fill="none" stroke="#d62728" stroke-width="1.1" opacity="0.6"/><polyline points="1494,959 1496,961 1498,961 1500,959 1502,960 1504,961 1506,965 1508,970 1510,971 1512,960 1514,955 1516,952 1518,954 1520,957 1522,960 1524,961 1526,959 1528,957 1530,958 1532,963 1534,961 1536,961 1538,959 1540,960 1542,961 1544,961" fill="none" stroke="#d62728" stroke-width="1.1" opacity="0.6"/><polyline points="1494,958 1496,961 1498,960 1500,958 1502,959 1504,959 1506,964 1508,969 1510,970 1512,961 1514,952 1516,955 1518,954 1520,956 1522,957 1524,961 1526,960 1528,960 1530,960 1532,959 1534,960 1536,960 1538,959 1540,959 1542,962 1544,961" fill="none" stroke="#d62728" stroke-width="1.1" opacity="0.6"/><polyline points="1494,959 1496,960 1498,959 1500,961 1502,960 1504,957 1506,962 1508,973 1510,973 1512,964 1514,955 1516,953 1518,951 1520,953 1522,956 1524,958 1526,959 1528,960 1530,958 1532,960 1534,962 1536,960 1538,963 1540,961 1542,959 1544,960" fill="none" stroke="#d62728" stroke-width="1.1" opacity="0.6"/><polyline points="1494,962 1496,962 1498,956 1500,961 1502,964 1504,962 1506,966 1508,977 1510,972 1512,959 1514,952 1516,953 1518,954 1520,957 1522,959 1524,959 1526,959 1528,958 1530,959 1532,960 1534,959 1536,963 1538,960 1540,959 1542,958 1544,960" fill="none" stroke="#d62728" stroke-width="1.1" opacity="0.6"/><polyline points="1494,960 1496,958 1498,959 1500,959 1502,959 1504,961 1506,961 1508,969 1510,974 1512,962 1514,959 1516,952 1518,953 1520,953 1522,959 1524,960 1526,961 1528,959 1530,961 1532,959 1534,959 1536,960 1538,960 1540,962 1542,960 1544,959" fill="none" stroke="#d62728" stroke-width="1.1" opacity="0.6"/><polyline points="1494,959 1496,959 1498,960 1500,962 1502,960 1504,960 1506,961 1508,972 1510,972 1512,962 1514,954 1516,952 1518,954 1520,955 1522,958 1524,959 1526,960 1528,961 1530,960 1532,959 1534,959 1536,961 1538,960 1540,960 1542,960 1544,960" fill="none" stroke="#d62728" stroke-width="1.1" opacity="0.6"/><polyline points="1494,961 1496,961 1498,961 1500,962 1502,959 1504,960 1506,963 1508,968 1510,979 1512,969 1514,958 1516,952 1518,950 1520,954 1522,957 1524,959 1526,959 1528,959 1530,958 1532,960 1534,958 1536,960 1538,958 1540,958 1542,959 1544,961" fill="none" stroke="#d62728" stroke-width="1.1" opacity="0.6"/><polyline points="1494,960 1496,959 1498,960 1500,963 1502,957 1504,959 1506,963 1508,977 1510,975 1512,960 1514,952 1516,951 1518,952 1520,954 1522,958 1524,958 1526,960 1528,959 1530,959 1532,960 1534,960 1536,960 1538,960 1540,959 1542,958 1544,959" fill="none" stroke="#d62728" stroke-width="1.1" opacity="0.6"/><text x="1495.0" y="991.8" font-size="7" text-anchor="middle" fill="#000">0</text><text x="1515.7" y="991.8" font-size="7" text-anchor="middle" fill="#000">25</text><text x="1536.4" y="991.8" font-size="7" text-anchor="middle" fill="#000">50</text><text transform="translate(1471,963.0) rotate(-90)" font-size="6.5" text-anchor="middle">z-scored</text><text transform="translate(1477,963.0) rotate(-90)" font-size="6.5" text-anchor="middle">Amplitude</text><text x="1487.0" y="961.0" font-size="7" text-anchor="end" fill="#000">0</text><text x="1487.0" y="979.6" font-size="7" text-anchor="end" fill="#000">−10</text><rect x="1894" y="942.3" width="56" height="41.5" fill="#fff" stroke="#555" stroke-width="1"/><polyline points="1897,958 1899,956 1901,959 1903,961 1905,960 1907,963 1909,961 1911,969 1913,969 1915,960 1917,958 1919,956 1921,955 1923,960 1925,957 1927,960 1929,963 1931,957 1933,957 1935,960 1937,960 1939,959 1941,959 1943,962 1945,963 1947,959" fill="none" stroke="#bcbd22" stroke-width="1.1" opacity="0.6"/><polyline points="1897,959 1899,959 1901,961 1903,958 1905,960 1907,963 1909,962 1911,968 1913,964 1915,959 1917,954 1919,954 1921,958 1923,958 1925,962 1927,961 1929,963 1931,963 1933,961 1935,961 1937,963 1939,961 1941,960 1943,959 1945,962 1947,959" fill="none" stroke="#bcbd22" stroke-width="1.1" opacity="0.6"/><polyline points="1897,960 1899,960 1901,960 1903,962 1905,960 1907,960 1909,961 1911,970 1913,966 1915,960 1917,957 1919,957 1921,959 1923,959 1925,960 1927,961 1929,958 1931,956 1933,961 1935,958 1937,963 1939,961 1941,961 1943,961 1945,961 1947,961" fill="none" stroke="#bcbd22" stroke-width="1.1" opacity="0.6"/><polyline points="1897,956 1899,961 1901,960 1903,961 1905,961 1907,960 1909,963 1911,967 1913,964 1915,961 1917,958 1919,955 1921,954 1923,955 1925,957 1927,962 1929,962 1931,961 1933,958 1935,959 1937,959 1939,957 1941,962 1943,959 1945,961 1947,958" fill="none" stroke="#bcbd22" stroke-width="1.1" opacity="0.6"/><polyline points="1897,961 1899,960 1901,959 1903,961 1905,960 1907,960 1909,962 1911,969 1913,969 1915,960 1917,958 1919,955 1921,956 1923,955 1925,959 1927,958 1929,958 1931,959 1933,960 1935,962 1937,958 1939,960 1941,958 1943,960 1945,960 1947,959" fill="none" stroke="#bcbd22" stroke-width="1.1" opacity="0.6"/><polyline points="1897,957 1899,960 1901,962 1903,958 1905,960 1907,959 1909,963 1911,968 1913,970 1915,962 1917,953 1919,955 1921,955 1923,959 1925,961 1927,959 1929,958 1931,959 1933,957 1935,959 1937,960 1939,960 1941,960 1943,963 1945,961 1947,959" fill="none" stroke="#bcbd22" stroke-width="1.1" opacity="0.6"/><polyline points="1897,962 1899,958 1901,959 1903,960 1905,962 1907,957 1909,961 1911,971 1913,974 1915,963 1917,956 1919,957 1921,952 1923,954 1925,960 1927,962 1929,958 1931,960 1933,958 1935,956 1937,957 1939,961 1941,960 1943,961 1945,959 1947,961" fill="none" stroke="#bcbd22" stroke-width="1.1" opacity="0.6"/><polyline points="1897,960 1899,962 1901,964 1903,956 1905,960 1907,964 1909,961 1911,970 1913,970 1915,961 1917,954 1919,955 1921,958 1923,957 1925,958 1927,959 1929,958 1931,958 1933,958 1935,959 1937,959 1939,956 1941,960 1943,960 1945,962 1947,958" fill="none" stroke="#bcbd22" stroke-width="1.1" opacity="0.6"/><polyline points="1897,962 1899,958 1901,959 1903,962 1905,958 1907,960 1909,962 1911,968 1913,972 1915,962 1917,958 1919,955 1921,953 1923,959 1925,958 1927,958 1929,960 1931,962 1933,959 1935,962 1937,961 1939,960 1941,963 1943,960 1945,959 1947,960" fill="none" stroke="#bcbd22" stroke-width="1.1" opacity="0.6"/><polyline points="1897,959 1899,959 1901,959 1903,960 1905,958 1907,961 1909,964 1911,970 1913,967 1915,958 1917,957 1919,955 1921,951 1923,953 1925,959 1927,963 1929,960 1931,958 1933,958 1935,961 1937,959 1939,959 1941,961 1943,962 1945,958 1947,960" fill="none" stroke="#bcbd22" stroke-width="1.1" opacity="0.6"/><polyline points="1897,960 1899,961 1901,957 1903,956 1905,960 1907,959 1909,962 1911,972 1913,967 1915,959 1917,954 1919,955 1921,956 1923,958 1925,960 1927,958 1929,959 1931,958 1933,958 1935,960 1937,960 1939,962 1941,962 1943,960 1945,960 1947,959" fill="none" stroke="#bcbd22" stroke-width="1.1" opacity="0.6"/><polyline points="1897,962 1899,959 1901,962 1903,958 1905,958 1907,961 1909,962 1911,970 1913,973 1915,963 1917,956 1919,953 1921,955 1923,956 1925,960 1927,960 1929,961 1931,958 1933,958 1935,962 1937,957 1939,960 1941,962 1943,962 1945,960 1947,960" fill="none" stroke="#bcbd22" stroke-width="1.1" opacity="0.6"/><text x="1898.0" y="991.8" font-size="7" text-anchor="middle" fill="#000">0</text><text x="1918.9" y="991.8" font-size="7" text-anchor="middle" fill="#000">25</text><text x="1939.7" y="991.8" font-size="7" text-anchor="middle" fill="#000">50</text><text transform="translate(1874,963.0) rotate(-90)" font-size="6.5" text-anchor="middle">z-scored</text><text transform="translate(1880,963.0) rotate(-90)" font-size="6.5" text-anchor="middle">Amplitude</text><text x="1890.0" y="961.0" font-size="7" text-anchor="end" fill="#000">0</text><text x="1890.0" y="979.6" font-size="7" text-anchor="end" fill="#000">−10</text><rect x="1491" y="992.7" width="55.6" height="41.5" fill="#fff" stroke="#555" stroke-width="1"/><polyline points="1494,1005 1496,1011 1498,1011 1500,1010 1502,1010 1504,1004 1506,1008 1508,1011 1510,1011 1512,1013 1514,1007 1516,1008 1518,1003 1520,1008 1522,1007 1524,1009 1526,1014 1528,1013 1530,1006 1532,1011 1534,1009 1536,1012 1538,1011 1540,1008 1542,1007 1544,1010" fill="none" stroke="#ff9896" stroke-width="1.1" opacity="0.6"/><polyline points="1494,1014 1496,1009 1498,1010 1500,1009 1502,1007 1504,1012 1506,1009 1508,1010 1510,1012 1512,1014 1514,1009 1516,1005 1518,1011 1520,1011 1522,1008 1524,1011 1526,1014 1528,1006 1530,1009 1532,1010 1534,1011 1536,1009 1538,1012 1540,1011 1542,1006 1544,1013" fill="none" stroke="#ff9896" stroke-width="1.1" opacity="0.6"/><polyline points="1494,1010 1496,1012 1498,1013 1500,1017 1502,1005 1504,1011 1506,1013 1508,1011 1510,1014 1512,1007 1514,1007 1516,1010 1518,1006 1520,1009 1522,1009 1524,1010 1526,1014 1528,1011 1530,1011 1532,1012 1534,1008 1536,1011 1538,1014 1540,1008 1542,1006 1544,1006" fill="none" stroke="#ff9896" stroke-width="1.1" opacity="0.6"/><polyline points="1494,1014 1496,1009 1498,1012 1500,1006 1502,1011 1504,1005 1506,1013 1508,1016 1510,1016 1512,1008 1514,1004 1516,1011 1518,1004 1520,1002 1522,1010 1524,1012 1526,1006 1528,1010 1530,1013 1532,1008 1534,1009 1536,1010 1538,1010 1540,1012 1542,1010 1544,1009" fill="none" stroke="#ff9896" stroke-width="1.1" opacity="0.6"/><polyline points="1494,1013 1496,1013 1498,1008 1500,1007 1502,1015 1504,1012 1506,1009 1508,1012 1510,1010 1512,1009 1514,1009 1516,1007 1518,1008 1520,1008 1522,1011 1524,1008 1526,1009 1528,1011 1530,1011 1532,1010 1534,1010 1536,1012 1538,1012 1540,1006 1542,1014 1544,1012" fill="none" stroke="#ff9896" stroke-width="1.1" opacity="0.6"/><polyline points="1494,1007 1496,1013 1498,1010 1500,1012 1502,1012 1504,1009 1506,1011 1508,1011 1510,1021 1512,1010 1514,1008 1516,1004 1518,1004 1520,1007 1522,1010 1524,1009 1526,1012 1528,1008 1530,1010 1532,1013 1534,1008 1536,1013 1538,1007 1540,1005 1542,1011 1544,1011" fill="none" stroke="#ff9896" stroke-width="1.1" opacity="0.6"/><polyline points="1494,1010 1496,1012 1498,1013 1500,1011 1502,1008 1504,1007 1506,1011 1508,1014 1510,1018 1512,1013 1514,1008 1516,1006 1518,1005 1520,1005 1522,1010 1524,1012 1526,1012 1528,1012 1530,1010 1532,1014 1534,1012 1536,1008 1538,1011 1540,1008 1542,1009 1544,1009" fill="none" stroke="#ff9896" stroke-width="1.1" opacity="0.6"/><polyline points="1494,1013 1496,1006 1498,1009 1500,1008 1502,1009 1504,1008 1506,1012 1508,1018 1510,1016 1512,1012 1514,1009 1516,1010 1518,1009 1520,1008 1522,1010 1524,1013 1526,1013 1528,1010 1530,1005 1532,1009 1534,1010 1536,1004 1538,1009 1540,1011 1542,1012 1544,1009" fill="none" stroke="#ff9896" stroke-width="1.1" opacity="0.6"/><polyline points="1494,1011 1496,1009 1498,1008 1500,1013 1502,1012 1504,1016 1506,1013 1508,1017 1510,1015 1512,1012 1514,1011 1516,1005 1518,1006 1520,1008 1522,1011 1524,1011 1526,1008 1528,1014 1530,1009 1532,1010 1534,1009 1536,1011 1538,1009 1540,1009 1542,1012 1544,1010" fill="none" stroke="#ff9896" stroke-width="1.1" opacity="0.6"/><polyline points="1494,1010 1496,1010 1498,1010 1500,1009 1502,1013 1504,1011 1506,1011 1508,1013 1510,1016 1512,1008 1514,1007 1516,1001 1518,1009 1520,1007 1522,1007 1524,1011 1526,1011 1528,1008 1530,1012 1532,1015 1534,1013 1536,1012 1538,1012 1540,1007 1542,1010 1544,1010" fill="none" stroke="#ff9896" stroke-width="1.1" opacity="0.6"/><polyline points="1494,1009 1496,1012 1498,1008 1500,1007 1502,1010 1504,1011 1506,1011 1508,1015 1510,1013 1512,1009 1514,1007 1516,1004 1518,1005 1520,1007 1522,1008 1524,1011 1526,1007 1528,1012 1530,1010 1532,1009 1534,1011 1536,1013 1538,1008 1540,1007 1542,1007 1544,1012" fill="none" stroke="#ff9896" stroke-width="1.1" opacity="0.6"/><polyline points="1494,1014 1496,1008 1498,1009 1500,1009 1502,1014 1504,1010 1506,1007 1508,1014 1510,1017 1512,1014 1514,1006 1516,1006 1518,1006 1520,1009 1522,1007 1524,1015 1526,1014 1528,1010 1530,1011 1532,1015 1534,1009 1536,1010 1538,1009 1540,1008 1542,1010 1544,1015" fill="none" stroke="#ff9896" stroke-width="1.1" opacity="0.6"/><text x="1495.0" y="1042.2" font-size="7" text-anchor="middle" fill="#000">0</text><text x="1515.7" y="1042.2" font-size="7" text-anchor="middle" fill="#000">25</text><text x="1536.4" y="1042.2" font-size="7" text-anchor="middle" fill="#000">50</text><text transform="translate(1471,1013.5) rotate(-90)" font-size="6.5" text-anchor="middle">z-scored</text><text transform="translate(1477,1013.5) rotate(-90)" font-size="6.5" text-anchor="middle">Amplitude</text><text x="1487.0" y="1011.4" font-size="7" text-anchor="end" fill="#000">0</text><text x="1487.0" y="1030.1" font-size="7" text-anchor="end" fill="#000">−10</text><rect x="1894" y="992.7" width="56" height="41.5" fill="#fff" stroke="#555" stroke-width="1"/><polyline points="1897,1010 1899,1010 1901,1011 1903,1012 1905,1010 1907,1009 1909,1012 1911,1015 1913,1021 1915,1016 1917,1010 1919,1004 1921,1004 1923,1007 1925,1007 1927,1010 1929,1012 1931,1009 1933,1010 1935,1011 1937,1009 1939,1011 1941,1010 1943,1010 1945,1010 1947,1010" fill="none" stroke="#17becf" stroke-width="1.1" opacity="0.6"/><polyline points="1897,1009 1899,1009 1901,1010 1903,1010 1905,1013 1907,1011 1909,1017 1911,1023 1913,1020 1915,1010 1917,1002 1919,1005 1921,1004 1923,1009 1925,1008 1927,1010 1929,1008 1931,1010 1933,1011 1935,1012 1937,1009 1939,1009 1941,1010 1943,1011 1945,1011 1947,1011" fill="none" stroke="#17becf" stroke-width="1.1" opacity="0.6"/><polyline points="1897,1008 1899,1011 1901,1012 1903,1008 1905,1009 1907,1008 1909,1013 1911,1024 1913,1025 1915,1014 1917,1007 1919,1003 1921,1005 1923,1004 1925,1008 1927,1009 1929,1007 1931,1010 1933,1008 1935,1010 1937,1009 1939,1009 1941,1010 1943,1010 1945,1009 1947,1009" fill="none" stroke="#17becf" stroke-width="1.1" opacity="0.6"/><polyline points="1897,1011 1899,1011 1901,1012 1903,1010 1905,1011 1907,1011 1909,1014 1911,1023 1913,1024 1915,1010 1917,1004 1919,1003 1921,1004 1923,1005 1925,1009 1927,1010 1929,1012 1931,1010 1933,1011 1935,1009 1937,1010 1939,1011 1941,1009 1943,1011 1945,1011 1947,1010" fill="none" stroke="#17becf" stroke-width="1.1" opacity="0.6"/><polyline points="1897,1009 1899,1011 1901,1010 1903,1014 1905,1010 1907,1009 1909,1015 1911,1025 1913,1018 1915,1008 1917,1006 1919,1004 1921,1005 1923,1009 1925,1010 1927,1011 1929,1011 1931,1010 1933,1012 1935,1011 1937,1008 1939,1009 1941,1010 1943,1011 1945,1010 1947,1010" fill="none" stroke="#17becf" stroke-width="1.1" opacity="0.6"/><polyline points="1897,1010 1899,1010 1901,1011 1903,1008 1905,1010 1907,1014 1909,1012 1911,1022 1913,1021 1915,1010 1917,1004 1919,1004 1921,1004 1923,1008 1925,1010 1927,1011 1929,1011 1931,1011 1933,1012 1935,1010 1937,1010 1939,1009 1941,1010 1943,1011 1945,1010 1947,1011" fill="none" stroke="#17becf" stroke-width="1.1" opacity="0.6"/><polyline points="1897,1010 1899,1009 1901,1012 1903,1011 1905,1012 1907,1009 1909,1014 1911,1027 1913,1024 1915,1011 1917,1003 1919,1001 1921,1000 1923,1006 1925,1008 1927,1011 1929,1011 1931,1008 1933,1010 1935,1009 1937,1009 1939,1011 1941,1013 1943,1009 1945,1010 1947,1010" fill="none" stroke="#17becf" stroke-width="1.1" opacity="0.6"/><polyline points="1897,1009 1899,1008 1901,1012 1903,1010 1905,1010 1907,1009 1909,1016 1911,1025 1913,1019 1915,1008 1917,1002 1919,1002 1921,1006 1923,1006 1925,1010 1927,1010 1929,1010 1931,1009 1933,1012 1935,1012 1937,1009 1939,1012 1941,1009 1943,1011 1945,1010 1947,1011" fill="none" stroke="#17becf" stroke-width="1.1" opacity="0.6"/><polyline points="1897,1011 1899,1012 1901,1010 1903,1012 1905,1009 1907,1008 1909,1016 1911,1027 1913,1023 1915,1013 1917,1006 1919,1002 1921,1004 1923,1006 1925,1009 1927,1009 1929,1012 1931,1010 1933,1011 1935,1012 1937,1009 1939,1011 1941,1011 1943,1010 1945,1011 1947,1009" fill="none" stroke="#17becf" stroke-width="1.1" opacity="0.6"/><polyline points="1897,1010 1899,1012 1901,1011 1903,1009 1905,1010 1907,1010 1909,1018 1911,1025 1913,1019 1915,1006 1917,1005 1919,1002 1921,1004 1923,1009 1925,1010 1927,1008 1929,1011 1931,1009 1933,1010 1935,1009 1937,1010 1939,1010 1941,1010 1943,1010 1945,1009 1947,1011" fill="none" stroke="#17becf" stroke-width="1.1" opacity="0.6"/><polyline points="1897,1008 1899,1011 1901,1011 1903,1011 1905,1012 1907,1009 1909,1014 1911,1024 1913,1020 1915,1009 1917,1004 1919,1001 1921,1001 1923,1007 1925,1009 1927,1009 1929,1010 1931,1013 1933,1010 1935,1012 1937,1010 1939,1008 1941,1012 1943,1011 1945,1011 1947,1012" fill="none" stroke="#17becf" stroke-width="1.1" opacity="0.6"/><polyline points="1897,1009 1899,1011 1901,1009 1903,1011 1905,1011 1907,1010 1909,1014 1911,1022 1913,1021 1915,1010 1917,1004 1919,1002 1921,1004 1923,1007 1925,1008 1927,1008 1929,1012 1931,1011 1933,1008 1935,1010 1937,1009 1939,1012 1941,1009 1943,1011 1945,1010 1947,1010" fill="none" stroke="#17becf" stroke-width="1.1" opacity="0.6"/><text x="1898.0" y="1042.2" font-size="7" text-anchor="middle" fill="#000">0</text><text x="1918.9" y="1042.2" font-size="7" text-anchor="middle" fill="#000">25</text><text x="1939.7" y="1042.2" font-size="7" text-anchor="middle" fill="#000">50</text><text transform="translate(1874,1013.5) rotate(-90)" font-size="6.5" text-anchor="middle">z-scored</text><text transform="translate(1880,1013.5) rotate(-90)" font-size="6.5" text-anchor="middle">Amplitude</text><text x="1890.0" y="1011.4" font-size="7" text-anchor="end" fill="#000">0</text><text x="1890.0" y="1030.1" font-size="7" text-anchor="end" fill="#000">−10</text><rect x="1491" y="1043.2" width="55.6" height="41.5" fill="#fff" stroke="#555" stroke-width="1"/><polyline points="1494,1061 1496,1061 1498,1056 1500,1059 1502,1062 1504,1058 1506,1060 1508,1069 1510,1069 1512,1063 1514,1055 1516,1053 1518,1051 1520,1056 1522,1060 1524,1060 1526,1062 1528,1059 1530,1061 1532,1061 1534,1058 1536,1061 1538,1064 1540,1060 1542,1061 1544,1061" fill="none" stroke="#c5b0d5" stroke-width="1.1" opacity="0.6"/><polyline points="1494,1060 1496,1062 1498,1058 1500,1059 1502,1058 1504,1060 1506,1060 1508,1066 1510,1069 1512,1061 1514,1056 1516,1055 1518,1057 1520,1058 1522,1058 1524,1060 1526,1058 1528,1062 1530,1063 1532,1060 1534,1063 1536,1062 1538,1060 1540,1066 1542,1061 1544,1059" fill="none" stroke="#c5b0d5" stroke-width="1.1" opacity="0.6"/><polyline points="1494,1062 1496,1062 1498,1060 1500,1061 1502,1062 1504,1062 1506,1064 1508,1069 1510,1068 1512,1060 1514,1057 1516,1056 1518,1058 1520,1055 1522,1060 1524,1062 1526,1061 1528,1059 1530,1058 1532,1061 1534,1061 1536,1060 1538,1062 1540,1062 1542,1063 1544,1060" fill="none" stroke="#c5b0d5" stroke-width="1.1" opacity="0.6"/><polyline points="1494,1061 1496,1059 1498,1060 1500,1062 1502,1062 1504,1064 1506,1061 1508,1064 1510,1068 1512,1061 1514,1058 1516,1055 1518,1055 1520,1056 1522,1060 1524,1059 1526,1063 1528,1060 1530,1063 1532,1059 1534,1060 1536,1059 1538,1058 1540,1062 1542,1062 1544,1060" fill="none" stroke="#c5b0d5" stroke-width="1.1" opacity="0.6"/><polyline points="1494,1062 1496,1061 1498,1059 1500,1061 1502,1061 1504,1060 1506,1063 1508,1071 1510,1068 1512,1061 1514,1055 1516,1055 1518,1052 1520,1056 1522,1057 1524,1060 1526,1057 1528,1059 1530,1060 1532,1062 1534,1059 1536,1061 1538,1064 1540,1062 1542,1062 1544,1061" fill="none" stroke="#c5b0d5" stroke-width="1.1" opacity="0.6"/><polyline points="1494,1061 1496,1064 1498,1064 1500,1063 1502,1058 1504,1062 1506,1065 1508,1064 1510,1067 1512,1063 1514,1056 1516,1056 1518,1056 1520,1058 1522,1061 1524,1059 1526,1062 1528,1060 1530,1064 1532,1060 1534,1057 1536,1059 1538,1061 1540,1064 1542,1059 1544,1062" fill="none" stroke="#c5b0d5" stroke-width="1.1" opacity="0.6"/><polyline points="1494,1061 1496,1062 1498,1059 1500,1062 1502,1062 1504,1060 1506,1067 1508,1068 1510,1064 1512,1057 1514,1058 1516,1055 1518,1060 1520,1060 1522,1058 1524,1060 1526,1062 1528,1061 1530,1060 1532,1061 1534,1060 1536,1059 1538,1061 1540,1064 1542,1063 1544,1059" fill="none" stroke="#c5b0d5" stroke-width="1.1" opacity="0.6"/><polyline points="1494,1060 1496,1063 1498,1060 1500,1061 1502,1059 1504,1061 1506,1067 1508,1068 1510,1066 1512,1064 1514,1059 1516,1054 1518,1056 1520,1056 1522,1058 1524,1060 1526,1059 1528,1059 1530,1060 1532,1060 1534,1064 1536,1061 1538,1062 1540,1061 1542,1061 1544,1061" fill="none" stroke="#c5b0d5" stroke-width="1.1" opacity="0.6"/><polyline points="1494,1063 1496,1064 1498,1060 1500,1060 1502,1061 1504,1061 1506,1062 1508,1069 1510,1066 1512,1059 1514,1060 1516,1053 1518,1058 1520,1060 1522,1059 1524,1062 1526,1062 1528,1059 1530,1061 1532,1059 1534,1058 1536,1063 1538,1062 1540,1063 1542,1061 1544,1060" fill="none" stroke="#c5b0d5" stroke-width="1.1" opacity="0.6"/><polyline points="1494,1059 1496,1062 1498,1062 1500,1061 1502,1060 1504,1060 1506,1060 1508,1065 1510,1071 1512,1066 1514,1057 1516,1053 1518,1051 1520,1054 1522,1056 1524,1061 1526,1060 1528,1060 1530,1059 1532,1061 1534,1058 1536,1062 1538,1057 1540,1060 1542,1060 1544,1061" fill="none" stroke="#c5b0d5" stroke-width="1.1" opacity="0.6"/><polyline points="1494,1060 1496,1060 1498,1062 1500,1059 1502,1060 1504,1060 1506,1059 1508,1067 1510,1072 1512,1064 1514,1059 1516,1056 1518,1054 1520,1055 1522,1057 1524,1057 1526,1061 1528,1064 1530,1056 1532,1062 1534,1060 1536,1059 1538,1060 1540,1063 1542,1060 1544,1060" fill="none" stroke="#c5b0d5" stroke-width="1.1" opacity="0.6"/><polyline points="1494,1064 1496,1059 1498,1059 1500,1060 1502,1061 1504,1060 1506,1060 1508,1069 1510,1067 1512,1058 1514,1059 1516,1058 1518,1056 1520,1058 1522,1057 1524,1061 1526,1060 1528,1061 1530,1060 1532,1061 1534,1059 1536,1061 1538,1059 1540,1059 1542,1058 1544,1060" fill="none" stroke="#c5b0d5" stroke-width="1.1" opacity="0.6"/><text x="1495.0" y="1092.7" font-size="7" text-anchor="middle" fill="#000">0</text><text x="1515.7" y="1092.7" font-size="7" text-anchor="middle" fill="#000">25</text><text x="1536.4" y="1092.7" font-size="7" text-anchor="middle" fill="#000">50</text><text transform="translate(1471,1063.9) rotate(-90)" font-size="6.5" text-anchor="middle">z-scored</text><text transform="translate(1477,1063.9) rotate(-90)" font-size="6.5" text-anchor="middle">Amplitude</text><text x="1487.0" y="1061.9" font-size="7" text-anchor="end" fill="#000">0</text><text x="1487.0" y="1080.5" font-size="7" text-anchor="end" fill="#000">−10</text><rect x="1894" y="1043.2" width="56" height="41.5" fill="#fff" stroke="#555" stroke-width="1"/><polyline points="1897,1061 1899,1062 1901,1062 1903,1061 1905,1060 1907,1061 1909,1064 1911,1071 1913,1072 1915,1063 1917,1056 1919,1056 1921,1057 1923,1058 1925,1059 1927,1061 1929,1059 1931,1061 1933,1061 1935,1060 1937,1061 1939,1062 1941,1060 1943,1060 1945,1060 1947,1062" fill="none" stroke="#9edae5" stroke-width="1.1" opacity="0.6"/><polyline points="1897,1060 1899,1060 1901,1061 1903,1060 1905,1061 1907,1061 1909,1065 1911,1076 1913,1074 1915,1060 1917,1057 1919,1054 1921,1055 1923,1057 1925,1061 1927,1060 1929,1061 1931,1060 1933,1063 1935,1061 1937,1061 1939,1061 1941,1062 1943,1061 1945,1061 1947,1061" fill="none" stroke="#9edae5" stroke-width="1.1" opacity="0.6"/><polyline points="1897,1061 1899,1061 1901,1062 1903,1061 1905,1061 1907,1061 1909,1064 1911,1073 1913,1072 1915,1063 1917,1056 1919,1056 1921,1055 1923,1060 1925,1060 1927,1060 1929,1059 1931,1061 1933,1060 1935,1060 1937,1060 1939,1060 1941,1062 1943,1060 1945,1062 1947,1060" fill="none" stroke="#9edae5" stroke-width="1.1" opacity="0.6"/><polyline points="1897,1062 1899,1062 1901,1061 1903,1060 1905,1060 1907,1062 1909,1068 1911,1071 1913,1061 1915,1060 1917,1059 1919,1055 1921,1059 1923,1059 1925,1062 1927,1060 1929,1061 1931,1061 1933,1062 1935,1058 1937,1060 1939,1060 1941,1060 1943,1062 1945,1061 1947,1061" fill="none" stroke="#9edae5" stroke-width="1.1" opacity="0.6"/><polyline points="1897,1061 1899,1060 1901,1061 1903,1060 1905,1060 1907,1059 1909,1063 1911,1076 1913,1076 1915,1063 1917,1056 1919,1054 1921,1054 1923,1059 1925,1060 1927,1058 1929,1061 1931,1060 1933,1059 1935,1060 1937,1061 1939,1060 1941,1060 1943,1061 1945,1061 1947,1061" fill="none" stroke="#9edae5" stroke-width="1.1" opacity="0.6"/><polyline points="1897,1062 1899,1061 1901,1060 1903,1060 1905,1062 1907,1062 1909,1068 1911,1078 1913,1069 1915,1058 1917,1056 1919,1055 1921,1055 1923,1056 1925,1060 1927,1061 1929,1060 1931,1061 1933,1061 1935,1060 1937,1060 1939,1061 1941,1061 1943,1060 1945,1061 1947,1060" fill="none" stroke="#9edae5" stroke-width="1.1" opacity="0.6"/><polyline points="1897,1061 1899,1059 1901,1060 1903,1061 1905,1061 1907,1061 1909,1065 1911,1071 1913,1070 1915,1061 1917,1056 1919,1054 1921,1054 1923,1056 1925,1060 1927,1061 1929,1060 1931,1062 1933,1060 1935,1061 1937,1060 1939,1060 1941,1059 1943,1060 1945,1060 1947,1061" fill="none" stroke="#9edae5" stroke-width="1.1" opacity="0.6"/><polyline points="1897,1061 1899,1060 1901,1061 1903,1060 1905,1061 1907,1062 1909,1070 1911,1077 1913,1070 1915,1060 1917,1057 1919,1054 1921,1057 1923,1058 1925,1059 1927,1059 1929,1061 1931,1062 1933,1059 1935,1062 1937,1059 1939,1060 1941,1061 1943,1059 1945,1061 1947,1060" fill="none" stroke="#9edae5" stroke-width="1.1" opacity="0.6"/><polyline points="1897,1061 1899,1061 1901,1060 1903,1059 1905,1060 1907,1059 1909,1064 1911,1072 1913,1075 1915,1066 1917,1057 1919,1055 1921,1055 1923,1056 1925,1058 1927,1059 1929,1062 1931,1060 1933,1061 1935,1061 1937,1060 1939,1061 1941,1060 1943,1059 1945,1061 1947,1062" fill="none" stroke="#9edae5" stroke-width="1.1" opacity="0.6"/><polyline points="1897,1061 1899,1060 1901,1059 1903,1061 1905,1062 1907,1061 1909,1064 1911,1071 1913,1070 1915,1063 1917,1057 1919,1056 1921,1056 1923,1059 1925,1059 1927,1060 1929,1060 1931,1061 1933,1062 1935,1061 1937,1062 1939,1062 1941,1061 1943,1061 1945,1061 1947,1061" fill="none" stroke="#9edae5" stroke-width="1.1" opacity="0.6"/><polyline points="1897,1061 1899,1062 1901,1060 1903,1061 1905,1062 1907,1060 1909,1064 1911,1072 1913,1072 1915,1063 1917,1056 1919,1055 1921,1056 1923,1059 1925,1059 1927,1061 1929,1060 1931,1062 1933,1059 1935,1061 1937,1059 1939,1061 1941,1059 1943,1062 1945,1062 1947,1060" fill="none" stroke="#9edae5" stroke-width="1.1" opacity="0.6"/><polyline points="1897,1061 1899,1062 1901,1061 1903,1062 1905,1060 1907,1060 1909,1062 1911,1072 1913,1079 1915,1067 1917,1057 1919,1054 1921,1055 1923,1054 1925,1058 1927,1060 1929,1061 1931,1061 1933,1061 1935,1061 1937,1060 1939,1061 1941,1061 1943,1060 1945,1061 1947,1060" fill="none" stroke="#9edae5" stroke-width="1.1" opacity="0.6"/><text x="1898.0" y="1092.7" font-size="7" text-anchor="middle" fill="#000">0</text><text x="1918.9" y="1092.7" font-size="7" text-anchor="middle" fill="#000">25</text><text x="1939.7" y="1092.7" font-size="7" text-anchor="middle" fill="#000">50</text><text transform="translate(1874,1063.9) rotate(-90)" font-size="6.5" text-anchor="middle">z-scored</text><text transform="translate(1880,1063.9) rotate(-90)" font-size="6.5" text-anchor="middle">Amplitude</text><text x="1890.0" y="1061.9" font-size="7" text-anchor="end" fill="#000">0</text><text x="1890.0" y="1080.5" font-size="7" text-anchor="end" fill="#000">−10</text><line x1="1546.6" y1="740.5" x2="1635.7" y2="767.8" stroke="#999" stroke-width="0.9" stroke-dasharray="2 2"/><line x1="1546.6" y1="791.0" x2="1681.6" y2="884.5" stroke="#999" stroke-width="0.9" stroke-dasharray="2 2"/><line x1="1546.6" y1="841.4" x2="1623.2" y2="844.5" stroke="#999" stroke-width="0.9" stroke-dasharray="2 2"/><line x1="1546.6" y1="891.9" x2="1623.2" y2="890.3" stroke="#999" stroke-width="0.9" stroke-dasharray="2 2"/><line x1="1546.6" y1="942.3" x2="1631.5" y2="941.1" stroke="#999" stroke-width="0.9" stroke-dasharray="2 2"/><line x1="1546.6" y1="992.8" x2="1813.4" y2="860.3" stroke="#999" stroke-width="0.9" stroke-dasharray="2 2"/><line x1="1546.6" y1="1043.2" x2="1741.7" y2="761.2" stroke="#999" stroke-width="0.9" stroke-dasharray="2 2"/><line x1="1894" y1="740.5" x2="1791.7" y2="812.0" stroke="#999" stroke-width="0.9" stroke-dasharray="2 2"/><line x1="1894" y1="791.0" x2="1827.6" y2="807.8" stroke="#999" stroke-width="0.9" stroke-dasharray="2 2"/><line x1="1894" y1="841.4" x2="1679.9" y2="963.6" stroke="#999" stroke-width="0.9" stroke-dasharray="2 2"/><line x1="1894" y1="891.9" x2="1761.7" y2="956.9" stroke="#999" stroke-width="0.9" stroke-dasharray="2 2"/><line x1="1894" y1="942.3" x2="1767.6" y2="909.4" stroke="#999" stroke-width="0.9" stroke-dasharray="2 2"/><line x1="1894" y1="992.8" x2="1673.3" y2="826.1" stroke="#999" stroke-width="0.9" stroke-dasharray="2 2"/><line x1="1894" y1="1043.2" x2="1713.3" y2="857.8" stroke="#999" stroke-width="0.9" stroke-dasharray="2 2"/></svg><!-- fig_real.html --><svg class="sv" style="left:0;top:0" width="4283" height="2880" viewBox="0 0 4283 2880" font-family="Liberation Sans"><text x="1457" y="2242" font-size="31" font-weight="bold" font-family="Liberation Serif">(a)</text><text x="1844" y="2245" font-size="31" font-weight="bold" font-family="Liberation Serif">(b)</text><text x="2444.6" y="2245" font-size="31" font-weight="bold" font-family="Liberation Serif">(c)</text><text x="1458" y="2619" font-size="31" font-weight="bold" font-family="Liberation Serif">(d)</text><rect x="1507.6" y="2248.2" width="62" height="35.8" fill="#4b8fc7"/><rect x="1602" y="2248.2" width="62" height="35.8" fill="#4b8fc7"/><text x="1538.6" y="2270.0" font-size="9.5" text-anchor="middle" fill="#000">Amplifier</text><text x="1633.0" y="2264.0" font-size="9.5" text-anchor="middle" fill="#000">Acquisition</text><text x="1633.0" y="2276.0" font-size="9.5" text-anchor="middle" fill="#000">System</text><line x1="1569.6" y1="2266" x2="1602" y2="2266" stroke="#000" stroke-width="1"/><polyline points="1536,2284 1536,2332 1618,2408" fill="none" stroke="#000" stroke-width="1.6"/><text x="1689.0" y="2326.0" font-size="12.5" text-anchor="start" fill="#000">Drifting gratings</text><line x1="1689" y1="2335.4" x2="1786" y2="2335.4" stroke="#000" stroke-width="1.2"/><path d="M1792,2335.4 L1781,2330.5 L1783,2335.4 L1781,2340 Z" fill="#000"/><rect x="1654" y="2349.7" width="173.7" height="129" fill="#3d3535"/><defs><linearGradient id="grat" x1="0" x2="1" spreadMethod="repeat" gradientUnits="userSpaceOnUse" gradientTransform="translate(1669.4,0) scale(20,1)"><stop offset="0" stop-color="#fff"/><stop offset="0.2" stop-color="#ddd"/><stop offset="0.5" stop-color="#111"/><stop offset="0.7" stop-color="#555"/><stop offset="1" stop-color="#fff"/></linearGradient></defs><rect x="1669.4" y="2359.9" width="143.1" height="109.4" fill="url(#grat)"/><circle cx="1740.8" cy="2355.5" r="2.2" fill="#fff"/><rect x="1728" y="2472" width="26" height="2.2" fill="#fff"/><rect x="1718.6" y="2478.7" width="44" height="15.6" fill="#3d3535"/><rect x="1682.4" y="2494.3" width="116.9" height="6.5" fill="#3d3535"/><text x="1738.0" y="2511.6" font-size="9.5" text-anchor="middle" fill="#000">8 orientations,</text><text x="1738.0" y="2524.6" font-size="9.5" text-anchor="middle" fill="#000">0.04 cpd, 2 Hz</text><text x="1608.0" y="2396.0" font-size="12" text-anchor="start" fill="#000">Tetrode</text><path d="M1500.7,2396.7 L1599.4,2413.0 L1591.8,2421.6 Q1635.1,2447.7 1644.9,2475.9 Q1641.6,2493.2 1630.8,2491.0 L1500.7,2453.1 Z" fill="#d3c384"/><path d="M1500.7,2402.1 Q1522.4,2410.8 1515.9,2428.2 Q1505.0,2432.5 1500.7,2428.2Z" fill="#e9dfb8"/><path d="M1535.4,2415.1 Q1561.4,2413.0 1580.9,2428.2 Q1559.3,2434.7 1535.4,2426.0Z" fill="#efe8cc"/><path d="M1526.7,2410.8 Q1520.2,2436.8 1526.7,2460.7" fill="none" stroke="#fff" stroke-width="2.2"/><line x1="1500.7" y1="2396.7" x2="1599.4" y2="2413.0" stroke="#fff" stroke-width="1.5"/><path d="M1543.6,2456.3 L1559.3,2459.6 L1559.3,2495.4 L1543.6,2495.4 Z" fill="#d3c384" stroke="#fff" stroke-width="1.5"/><path d="M1522.4,2506.2 L1591.8,2482.4 L1596.1,2487.8 L1546.2,2517.1 Z" fill="#d3c384" stroke="#fff" stroke-width="1.5"/><path d="M1559.3,2475.9 L1589.6,2482.4 L1561.4,2495.4Z" fill="#d3c384"/><path d="M1587.4,2422.7 L1607.0,2426.0 Q1630.8,2436.8 1652.5,2449.8 L1672.0,2462.8 L1656.8,2473.7 L1626.5,2471.5 L1591.8,2462.8 L1578.8,2454.2 Z" fill="#5c5c5c"/><path d="M1589.6,2423.8 L1580.9,2454.2 L1622.1,2467.2" fill="none" stroke="#a89a6a" stroke-width="1.4"/><circle cx="1624.3" cy="2435.7" r="17" fill="#6a6a6a" stroke="#fff" stroke-width="1.2"/><path d="M1608.0,2410.8 L1625.4,2403.9 L1635.1,2416.2 L1616.7,2423.8 Z" fill="#222"/><path d="M1621.0,2431.4 L1646.0,2429.2 L1647.1,2443.3 L1622.1,2447.7 Z" fill="#222"/><circle cx="1640.6" cy="2450.3" r="2.6" fill="#000"/><path d="M1665.5,2460.7 l14,-2 M1665.5,2463.9 l14,3 M1663.3,2467.2 l8,8" stroke="#444" stroke-width="0.8"/><path d="M1622.1,2475.9 l10,8 l10,-4 M1624.3,2476.9 l12,12" stroke="#555" stroke-width="1.5" fill="none"/><rect x="2023.4" y="2258.6" width="288.1" height="256.0" fill="#fff" stroke="#000" stroke-width="1.1"/><path d="M2045.8,2292.0C2046.9,2285.2 2049.2,2275.5 2053.5,2271.5C2057.8,2267.4 2066.4,2266.3 2071.5,2267.6C2076.7,2268.9 2079.7,2273.4 2084.4,2279.2C2089.1,2285.0 2097.7,2295.9 2099.8,2302.3C2102.0,2308.8 2099.8,2313.5 2097.3,2317.8C2094.7,2322.0 2087.4,2323.3 2084.4,2328.1C2081.4,2332.8 2082.7,2342.6 2079.3,2346.1C2075.8,2349.5 2068.5,2350.3 2063.8,2348.6C2059.1,2346.9 2053.7,2341.8 2051.0,2335.8C2048.2,2329.8 2048.0,2319.9 2047.1,2312.6C2046.2,2305.3 2044.7,2298.9 2045.8,2292.0Z" fill="#c7c7c7" stroke="#c7c7c7" stroke-width="4" stroke-linejoin="round"/><path d="M2050 2275h0M2053 2267h0M2040 2293h0M2066 2268h0M2062 2273h0M2066 2269h0M2079 2269h0M2074 2268h0M2080 2275h0M2098 2301h0M2101 2300h0M2096 2301h0M2103 2304h0M2099 2316h0M2100 2309h0M2095 2322h0M2096 2316h0M2094 2318h0M2079 2334h0M2085 2329h0M2081 2341h0M2065 2351h0M2081 2347h0M2066 2352h0M2054 2336h0M2055 2343h0M2062 2343h0M2054 2317h0M2049 2337h0M2044 2319h0M2046 2303h0M2048 2310h0M2048 2298h0" stroke="#c7c7c7" stroke-width="4" stroke-linecap="round" opacity="0.8"/><path d="M2156.4,2338.3C2159.4,2333.2 2157.7,2332.8 2171.9,2333.2C2186.0,2333.6 2232.3,2334.1 2241.3,2340.9C2250.3,2347.8 2232.8,2367.1 2225.9,2374.4C2219.0,2381.6 2207.9,2381.6 2200.2,2384.7C2192.5,2387.7 2186.5,2391.5 2179.6,2392.4C2172.7,2393.2 2163.3,2394.5 2159.0,2389.8C2154.7,2385.1 2154.3,2372.6 2153.9,2364.1C2153.4,2355.5 2153.4,2343.5 2156.4,2338.3Z" fill="#ffbb78" stroke="#ffbb78" stroke-width="4" stroke-linejoin="round"/><path d="M2160 2338h0M2163 2340h0M2167 2335h0M2176 2333h0M2207 2336h0M2226 2338h0M2231 2369h0M2240 2344h0M2239 2356h0M2198 2385h0M2205 2382h0M2217 2380h0M2183 2391h0M2189 2389h0M2196 2382h0M2173 2387h0M2163 2387h0M2172 2389h0M2157 2374h0M2161 2381h0M2159 2375h0M2153 2355h0M2153 2339h0M2152 2352h0" stroke="#ffbb78" stroke-width="4" stroke-linecap="round" opacity="0.8"/><path d="M2225.9,2374.4C2225.5,2364.9 2236.2,2349.5 2243.9,2343.5C2251.6,2337.5 2264.5,2334.9 2272.2,2338.3C2279.9,2341.8 2285.5,2356.4 2290.2,2364.1C2294.9,2371.8 2300.5,2378.6 2300.5,2384.7C2300.5,2390.7 2296.7,2395.8 2290.2,2400.1C2283.8,2404.4 2269.2,2410.4 2261.9,2410.4C2254.6,2410.4 2252.5,2406.1 2246.5,2400.1C2240.5,2394.1 2226.3,2383.8 2225.9,2374.4Z" fill="#9edae5" stroke="#9edae5" stroke-width="4" stroke-linejoin="round"/><path d="M2238 2353h0M2239 2341h0M2240 2344h0M2252 2338h0M2256 2337h0M2267 2344h0M2281 2351h0M2284 2351h0M2287 2357h0M2294 2372h0M2297 2378h0M2295 2375h0M2298 2388h0M2301 2388h0M2294 2388h0M2284 2402h0M2278 2407h0M2288 2399h0M2261 2409h0M2252 2408h0M2248 2398h0M2228 2377h0M2241 2395h0M2230 2375h0" stroke="#9edae5" stroke-width="4" stroke-linecap="round" opacity="0.8"/><path d="M2179.6,2392.4C2181.3,2388.9 2192.5,2387.7 2200.2,2384.7C2207.9,2381.6 2218.2,2371.8 2225.9,2374.4C2233.6,2376.9 2241.3,2394.1 2246.5,2400.1C2251.6,2406.1 2257.6,2406.1 2256.8,2410.4C2255.9,2414.7 2245.6,2419.8 2241.3,2425.8C2237.0,2431.8 2234.5,2440.8 2231.0,2446.4C2227.6,2452.0 2225.5,2458.8 2220.8,2459.3C2216.0,2459.7 2207.0,2455.4 2202.7,2449.0C2198.5,2442.5 2197.2,2428.0 2195.0,2420.7C2192.9,2413.4 2192.5,2409.9 2189.9,2405.2C2187.3,2400.5 2177.9,2395.8 2179.6,2392.4Z" fill="#ff9896" stroke="#ff9896" stroke-width="4" stroke-linejoin="round"/><path d="M2187 2390h0M2179 2390h0M2179 2387h0M2208 2382h0M2210 2381h0M2228 2373h0M2234 2381h0M2231 2392h0M2235 2390h0M2246 2399h0M2250 2399h0M2245 2400h0M2243 2423h0M2257 2421h0M2250 2413h0M2231 2437h0M2240 2426h0M2235 2439h0M2223 2454h0M2223 2456h0M2223 2451h0M2204 2450h0M2204 2453h0M2206 2450h0M2194 2425h0M2197 2427h0M2201 2427h0M2190 2411h0M2192 2408h0M2190 2412h0M2188 2404h0M2183 2396h0M2182 2391h0" stroke="#ff9896" stroke-width="4" stroke-linecap="round" opacity="0.8"/><path d="M2123.0,2425.8C2123.9,2419.8 2129.4,2411.7 2135.9,2405.2C2142.3,2398.8 2154.3,2388.9 2161.6,2387.2C2168.9,2385.5 2177.4,2390.2 2179.6,2394.9C2181.7,2399.7 2176.2,2409.5 2174.4,2415.5C2172.7,2421.5 2173.6,2426.7 2169.3,2431.0C2165.0,2435.2 2155.2,2439.5 2148.7,2441.3C2142.3,2443.0 2135.0,2443.8 2130.7,2441.3C2126.4,2438.7 2122.1,2431.8 2123.0,2425.8Z" fill="#c49c94" stroke="#c49c94" stroke-width="4" stroke-linejoin="round"/><path d="M2122 2418h0M2136 2405h0M2135 2412h0M2160 2387h0M2145 2399h0M2150 2395h0M2174 2392h0M2169 2391h0M2172 2387h0M2177 2399h0M2171 2408h0M2181 2404h0M2172 2416h0M2166 2428h0M2171 2419h0M2153 2439h0M2162 2436h0M2165 2429h0M2147 2440h0M2145 2440h0M2131 2442h0M2129 2430h0M2134 2445h0M2126 2432h0" stroke="#c49c94" stroke-width="4" stroke-linecap="round" opacity="0.8"/><path d="M2035.5,2467.0C2039.0,2462.5 2046.7,2454.5 2053.5,2452.8C2060.4,2451.1 2072.4,2453.9 2076.7,2456.7C2081.0,2459.5 2081.0,2466.1 2079.3,2469.5C2077.5,2473.0 2067.3,2472.6 2066.4,2477.3C2065.5,2482.0 2075.4,2493.1 2074.1,2497.8C2072.8,2502.6 2064.3,2506.4 2058.7,2505.6C2053.1,2504.7 2045.0,2497.0 2040.7,2492.7C2036.4,2488.4 2033.8,2484.1 2033.0,2479.8C2032.1,2475.6 2032.1,2471.5 2035.5,2467.0Z" fill="#1f77b4" stroke="#1f77b4" stroke-width="4" stroke-linejoin="round"/><path d="M2051 2449h0M2036 2463h0M2038 2467h0M2061 2455h0M2070 2452h0M2065 2452h0M2075 2462h0M2078 2462h0M2082 2461h0M2073 2473h0M2076 2471h0M2073 2473h0M2069 2482h0M2070 2484h0M2068 2484h0M2070 2503h0M2076 2497h0M2058 2502h0M2051 2499h0M2046 2501h0M2046 2498h0M2041 2493h0M2040 2487h0M2036 2489h0M2035 2469h0M2031 2472h0M2028 2474h0" stroke="#1f77b4" stroke-width="4" stroke-linecap="round" opacity="0.8"/><circle cx="2069.0" cy="2310.0" r="2" fill="#000"/><text x="2074.0" y="2315.0" font-size="13" text-anchor="start" fill="#000">2</text><circle cx="2188.6" cy="2361.0" r="2" fill="#000"/><text x="2193.6" y="2366.0" font-size="13" text-anchor="start" fill="#000">5</text><circle cx="2266.6" cy="2377.4" r="2" fill="#000"/><text x="2271.6" y="2382.4" font-size="13" text-anchor="start" fill="#000">1</text><circle cx="2218.2" cy="2415.5" r="2" fill="#000"/><text x="2223.2" y="2420.5" font-size="13" text-anchor="start" fill="#000">4</text><circle cx="2145.6" cy="2419.4" r="2" fill="#000"/><text x="2150.6" y="2424.4" font-size="13" text-anchor="start" fill="#000">3</text><circle cx="2055.6" cy="2477.8" r="2" fill="#000"/><text x="2060.6" y="2482.8" font-size="13" text-anchor="start" fill="#000">6</text><line x1="2047.6" y1="2514.6" x2="2047.6" y2="2518.6" stroke="#000"/><text x="2047.6" y="2532.6" font-size="12.5" text-anchor="middle" fill="#000">−1.5</text><line x1="2087.4" y1="2514.6" x2="2087.4" y2="2518.6" stroke="#000"/><text x="2087.4" y="2532.6" font-size="12.5" text-anchor="middle" fill="#000">−1.0</text><line x1="2127.2" y1="2514.6" x2="2127.2" y2="2518.6" stroke="#000"/><text x="2127.2" y="2532.6" font-size="12.5" text-anchor="middle" fill="#000">−0.5</text><line x1="2167.0" y1="2514.6" x2="2167.0" y2="2518.6" stroke="#000"/><text x="2167.0" y="2532.6" font-size="12.5" text-anchor="middle" fill="#000">0.0</text><line x1="2206.8" y1="2514.6" x2="2206.8" y2="2518.6" stroke="#000"/><text x="2206.8" y="2532.6" font-size="12.5" text-anchor="middle" fill="#000">0.5</text><line x1="2246.6" y1="2514.6" x2="2246.6" y2="2518.6" stroke="#000"/><text x="2246.6" y="2532.6" font-size="12.5" text-anchor="middle" fill="#000">1.0</text><line x1="2286.4" y1="2514.6" x2="2286.4" y2="2518.6" stroke="#000"/><text x="2286.4" y="2532.6" font-size="12.5" text-anchor="middle" fill="#000">1.5</text><line x1="2019.4" y1="2280.5" x2="2023.4" y2="2280.5" stroke="#000"/><text x="2016.4" y="2285.0" font-size="12.5" text-anchor="end" fill="#000">2</text><line x1="2019.4" y1="2333.0" x2="2023.4" y2="2333.0" stroke="#000"/><text x="2016.4" y="2337.5" font-size="12.5" text-anchor="end" fill="#000">1</text><line x1="2019.4" y1="2385.5" x2="2023.4" y2="2385.5" stroke="#000"/><text x="2016.4" y="2390.0" font-size="12.5" text-anchor="end" fill="#000">0</text><line x1="2019.4" y1="2438.0" x2="2023.4" y2="2438.0" stroke="#000"/><text x="2016.4" y="2442.5" font-size="12.5" text-anchor="end" fill="#000">−1</text><line x1="2019.4" y1="2490.5" x2="2023.4" y2="2490.5" stroke="#000"/><text x="2016.4" y="2495.0" font-size="12.5" text-anchor="end" fill="#000">−2</text><text x="2167.5" y="2549.3" font-size="12.5" text-anchor="middle" fill="#000">UMAP 1</text><text transform="translate(1990,2387) rotate(-90)" font-size="12.5" text-anchor="middle">UMAP 2</text><rect x="1904.3" y="2258.6" width="63.8" height="55.5" fill="#fff" stroke="#555" stroke-width="0.9"/><polyline points="1907.3,2281.9 1909.2,2281.4 1911.2,2284.9 1913.1,2278.4 1915.0,2280.9 1916.9,2278.5 1918.9,2282.9 1920.8,2286.8 1922.7,2292.0 1924.6,2292.2 1926.6,2290.8 1928.5,2291.7 1930.4,2278.7 1932.3,2273.9 1934.3,2273.0 1936.2,2269.2 1938.1,2270.0 1940.1,2268.9 1942.0,2271.2 1943.9,2275.8 1945.8,2274.5 1947.8,2277.1 1949.7,2279.2 1951.6,2278.7 1953.5,2281.5 1955.5,2284.5 1957.4,2281.9 1959.3,2283.1 1961.2,2282.1 1963.2,2282.4 1965.1,2280.6" fill="none" stroke="#9edae5" stroke-width="1" opacity="0.7"/><polyline points="1907.3,2283.6 1909.2,2286.6 1911.2,2285.2 1913.1,2281.8 1915.0,2281.4 1916.9,2285.7 1918.9,2285.7 1920.8,2293.8 1922.7,2298.9 1924.6,2299.1 1926.6,2291.0 1928.5,2279.2 1930.4,2279.4 1932.3,2281.0 1934.3,2272.0 1936.2,2271.7 1938.1,2269.5 1940.1,2271.4 1942.0,2270.8 1943.9,2273.0 1945.8,2281.2 1947.8,2278.4 1949.7,2278.0 1951.6,2278.6 1953.5,2280.1 1955.5,2278.9 1957.4,2280.2 1959.3,2283.8 1961.2,2282.9 1963.2,2277.7 1965.1,2280.2" fill="none" stroke="#9edae5" stroke-width="1" opacity="0.7"/><polyline points="1907.3,2281.3 1909.2,2282.5 1911.2,2279.2 1913.1,2279.4 1915.0,2280.1 1916.9,2283.9 1918.9,2278.1 1920.8,2291.4 1922.7,2294.5 1924.6,2300.5 1926.6,2298.2 1928.5,2288.3 1930.4,2280.7 1932.3,2274.3 1934.3,2277.7 1936.2,2267.5 1938.1,2272.3 1940.1,2271.6 1942.0,2274.2 1943.9,2272.7 1945.8,2278.5 1947.8,2277.1 1949.7,2278.6 1951.6,2279.4 1953.5,2279.2 1955.5,2282.7 1957.4,2283.9 1959.3,2277.3 1961.2,2280.0 1963.2,2282.5 1965.1,2282.2" fill="none" stroke="#9edae5" stroke-width="1" opacity="0.7"/><polyline points="1907.3,2281.4 1909.2,2285.5 1911.2,2277.4 1913.1,2278.1 1915.0,2283.2 1916.9,2281.6 1918.9,2279.6 1920.8,2287.5 1922.7,2290.7 1924.6,2293.9 1926.6,2293.6 1928.5,2283.0 1930.4,2283.3 1932.3,2273.1 1934.3,2271.8 1936.2,2269.8 1938.1,2266.9 1940.1,2277.4 1942.0,2269.7 1943.9,2273.4 1945.8,2277.3 1947.8,2280.5 1949.7,2273.5 1951.6,2283.5 1953.5,2280.5 1955.5,2286.2 1957.4,2280.0 1959.3,2278.6 1961.2,2283.3 1963.2,2278.1 1965.1,2282.7" fill="none" stroke="#9edae5" stroke-width="1" opacity="0.7"/><polyline points="1907.3,2278.7 1909.2,2282.7 1911.2,2281.4 1913.1,2281.2 1915.0,2282.0 1916.9,2284.9 1918.9,2283.8 1920.8,2282.3 1922.7,2292.4 1924.6,2296.4 1926.6,2293.3 1928.5,2286.1 1930.4,2276.5 1932.3,2279.2 1934.3,2270.0 1936.2,2271.8 1938.1,2268.2 1940.1,2270.9 1942.0,2263.7 1943.9,2270.7 1945.8,2280.6 1947.8,2280.0 1949.7,2281.4 1951.6,2277.1 1953.5,2276.9 1955.5,2282.4 1957.4,2281.7 1959.3,2281.2 1961.2,2280.7 1963.2,2283.2 1965.1,2288.0" fill="none" stroke="#9edae5" stroke-width="1" opacity="0.7"/><polyline points="1907.3,2277.0 1909.2,2283.9 1911.2,2278.0 1913.1,2279.3 1915.0,2285.0 1916.9,2281.1 1918.9,2285.3 1920.8,2282.2 1922.7,2292.3 1924.6,2299.3 1926.6,2294.9 1928.5,2287.3 1930.4,2277.6 1932.3,2273.5 1934.3,2273.3 1936.2,2274.4 1938.1,2268.7 1940.1,2271.8 1942.0,2274.8 1943.9,2268.4 1945.8,2276.4 1947.8,2273.9 1949.7,2281.5 1951.6,2282.3 1953.5,2284.4 1955.5,2280.8 1957.4,2284.4 1959.3,2285.5 1961.2,2284.3 1963.2,2284.3 1965.1,2282.2" fill="none" stroke="#9edae5" stroke-width="1" opacity="0.7"/><polyline points="1907.3,2281.3 1909.2,2284.3 1911.2,2278.9 1913.1,2281.6 1915.0,2286.5 1916.9,2284.3 1918.9,2276.4 1920.8,2286.7 1922.7,2288.4 1924.6,2293.4 1926.6,2291.5 1928.5,2288.5 1930.4,2285.5 1932.3,2272.5 1934.3,2276.4 1936.2,2269.5 1938.1,2275.0 1940.1,2272.5 1942.0,2273.3 1943.9,2279.9 1945.8,2276.5 1947.8,2277.3 1949.7,2271.5 1951.6,2283.3 1953.5,2282.0 1955.5,2278.7 1957.4,2281.7 1959.3,2280.0 1961.2,2278.1 1963.2,2276.7 1965.1,2285.7" fill="none" stroke="#9edae5" stroke-width="1" opacity="0.7"/><polyline points="1907.3,2283.8 1909.2,2278.5 1911.2,2279.1 1913.1,2286.3 1915.0,2283.4 1916.9,2286.4 1918.9,2279.1 1920.8,2287.5 1922.7,2293.0 1924.6,2298.1 1926.6,2287.0 1928.5,2281.6 1930.4,2279.6 1932.3,2279.3 1934.3,2277.4 1936.2,2271.8 1938.1,2269.9 1940.1,2276.0 1942.0,2274.2 1943.9,2270.4 1945.8,2279.1 1947.8,2280.5 1949.7,2277.9 1951.6,2286.7 1953.5,2282.4 1955.5,2282.4 1957.4,2279.5 1959.3,2287.9 1961.2,2286.6 1963.2,2281.6 1965.1,2281.2" fill="none" stroke="#9edae5" stroke-width="1" opacity="0.7"/><text x="1908.3" y="2321.1" font-size="6" text-anchor="middle" fill="#000">0</text><text x="1932.8" y="2321.1" font-size="6" text-anchor="middle" fill="#000">25</text><text x="1957.2" y="2321.1" font-size="6" text-anchor="middle" fill="#000">50</text><text transform="translate(1885.3,2286.3) rotate(-90)" font-size="6" text-anchor="middle">z-scored</text><text transform="translate(1891.3,2286.3) rotate(-90)" font-size="6" text-anchor="middle">Amplitude</text><rect x="2367.4" y="2258.6" width="63.6" height="55.5" fill="#fff" stroke="#555" stroke-width="0.9"/><polyline points="2370.4,2279.4 2372.3,2283.4 2374.2,2283.0 2376.2,2280.5 2378.1,2278.3 2380.0,2284.7 2381.9,2286.0 2383.8,2285.2 2385.8,2292.6 2387.7,2303.0 2389.6,2294.2 2391.5,2283.7 2393.4,2280.2 2395.4,2273.6 2397.3,2277.2 2399.2,2270.1 2401.1,2271.9 2403.0,2272.8 2405.0,2277.3 2406.9,2275.1 2408.8,2275.7 2410.7,2277.2 2412.6,2277.8 2414.6,2279.1 2416.5,2280.3 2418.4,2282.6 2420.3,2282.7 2422.2,2281.6 2424.2,2286.6 2426.1,2279.8 2428.0,2286.7" fill="none" stroke="#ff9896" stroke-width="1" opacity="0.7"/><polyline points="2370.4,2288.3 2372.3,2278.0 2374.2,2283.0 2376.2,2280.6 2378.1,2282.2 2380.0,2281.2 2381.9,2282.6 2383.8,2286.9 2385.8,2292.2 2387.7,2302.0 2389.6,2290.4 2391.5,2283.4 2393.4,2279.8 2395.4,2278.9 2397.3,2271.7 2399.2,2273.0 2401.1,2269.9 2403.0,2273.3 2405.0,2273.6 2406.9,2275.1 2408.8,2279.0 2410.7,2271.0 2412.6,2281.0 2414.6,2276.1 2416.5,2279.1 2418.4,2282.0 2420.3,2284.2 2422.2,2279.4 2424.2,2279.7 2426.1,2284.8 2428.0,2278.1" fill="none" stroke="#ff9896" stroke-width="1" opacity="0.7"/><polyline points="2370.4,2283.3 2372.3,2282.8 2374.2,2278.6 2376.2,2283.6 2378.1,2286.8 2380.0,2284.1 2381.9,2283.6 2383.8,2288.2 2385.8,2287.0 2387.7,2298.5 2389.6,2294.7 2391.5,2287.8 2393.4,2278.4 2395.4,2276.6 2397.3,2274.8 2399.2,2272.2 2401.1,2269.6 2403.0,2279.3 2405.0,2270.8 2406.9,2276.5 2408.8,2276.6 2410.7,2276.7 2412.6,2279.9 2414.6,2283.8 2416.5,2277.0 2418.4,2276.6 2420.3,2281.6 2422.2,2282.2 2424.2,2281.5 2426.1,2281.9 2428.0,2278.7" fill="none" stroke="#ff9896" stroke-width="1" opacity="0.7"/><polyline points="2370.4,2279.6 2372.3,2280.0 2374.2,2281.2 2376.2,2278.8 2378.1,2282.4 2380.0,2283.3 2381.9,2283.3 2383.8,2289.7 2385.8,2288.6 2387.7,2298.8 2389.6,2293.9 2391.5,2280.1 2393.4,2277.5 2395.4,2275.4 2397.3,2276.8 2399.2,2277.2 2401.1,2274.4 2403.0,2273.5 2405.0,2275.3 2406.9,2273.1 2408.8,2275.7 2410.7,2277.5 2412.6,2282.4 2414.6,2276.7 2416.5,2285.1 2418.4,2279.1 2420.3,2283.2 2422.2,2277.0 2424.2,2281.9 2426.1,2280.6 2428.0,2282.9" fill="none" stroke="#ff9896" stroke-width="1" opacity="0.7"/><polyline points="2370.4,2284.9 2372.3,2272.7 2374.2,2283.5 2376.2,2281.3 2378.1,2278.9 2380.0,2282.4 2381.9,2279.5 2383.8,2287.3 2385.8,2289.2 2387.7,2296.6 2389.6,2292.0 2391.5,2285.7 2393.4,2278.7 2395.4,2280.6 2397.3,2269.5 2399.2,2270.5 2401.1,2272.2 2403.0,2265.5 2405.0,2271.3 2406.9,2269.9 2408.8,2276.8 2410.7,2276.4 2412.6,2277.8 2414.6,2274.5 2416.5,2284.5 2418.4,2279.8 2420.3,2281.4 2422.2,2283.9 2424.2,2280.9 2426.1,2281.8 2428.0,2284.7" fill="none" stroke="#ff9896" stroke-width="1" opacity="0.7"/><polyline points="2370.4,2283.6 2372.3,2289.8 2374.2,2282.8 2376.2,2282.3 2378.1,2283.1 2380.0,2278.8 2381.9,2280.2 2383.8,2288.4 2385.8,2291.6 2387.7,2301.7 2389.6,2292.4 2391.5,2282.3 2393.4,2279.4 2395.4,2278.0 2397.3,2274.7 2399.2,2276.5 2401.1,2272.3 2403.0,2268.7 2405.0,2269.5 2406.9,2273.9 2408.8,2276.2 2410.7,2277.4 2412.6,2282.4 2414.6,2284.5 2416.5,2281.3 2418.4,2281.3 2420.3,2282.7 2422.2,2282.7 2424.2,2281.9 2426.1,2283.9 2428.0,2280.1" fill="none" stroke="#ff9896" stroke-width="1" opacity="0.7"/><polyline points="2370.4,2281.6 2372.3,2286.0 2374.2,2280.6 2376.2,2279.4 2378.1,2283.2 2380.0,2286.5 2381.9,2283.4 2383.8,2278.7 2385.8,2294.6 2387.7,2295.1 2389.6,2294.7 2391.5,2282.5 2393.4,2273.6 2395.4,2273.3 2397.3,2272.3 2399.2,2272.3 2401.1,2274.5 2403.0,2276.0 2405.0,2267.7 2406.9,2274.9 2408.8,2272.3 2410.7,2277.1 2412.6,2280.8 2414.6,2282.5 2416.5,2278.5 2418.4,2283.4 2420.3,2282.6 2422.2,2282.8 2424.2,2281.6 2426.1,2279.6 2428.0,2280.5" fill="none" stroke="#ff9896" stroke-width="1" opacity="0.7"/><polyline points="2370.4,2275.9 2372.3,2282.1 2374.2,2279.6 2376.2,2280.9 2378.1,2286.6 2380.0,2282.3 2381.9,2276.8 2383.8,2286.3 2385.8,2292.1 2387.7,2298.2 2389.6,2297.5 2391.5,2288.1 2393.4,2274.3 2395.4,2282.0 2397.3,2271.5 2399.2,2271.3 2401.1,2269.5 2403.0,2266.4 2405.0,2270.4 2406.9,2274.1 2408.8,2276.0 2410.7,2272.6 2412.6,2278.0 2414.6,2286.4 2416.5,2281.0 2418.4,2277.8 2420.3,2280.8 2422.2,2278.4 2424.2,2278.8 2426.1,2285.0 2428.0,2284.5" fill="none" stroke="#ff9896" stroke-width="1" opacity="0.7"/><text x="2371.4" y="2321.1" font-size="6" text-anchor="middle" fill="#000">0</text><text x="2395.8" y="2321.1" font-size="6" text-anchor="middle" fill="#000">25</text><text x="2420.1" y="2321.1" font-size="6" text-anchor="middle" fill="#000">50</text><text transform="translate(2348.4,2286.3) rotate(-90)" font-size="6" text-anchor="middle">z-scored</text><text transform="translate(2354.4,2286.3) rotate(-90)" font-size="6" text-anchor="middle">Amplitude</text><rect x="1904.3" y="2325.5" width="63.8" height="55.5" fill="#fff" stroke="#555" stroke-width="0.9"/><polyline points="1907.3,2341.8 1909.2,2348.0 1911.2,2348.1 1913.1,2349.3 1915.0,2350.0 1916.9,2345.9 1918.9,2348.3 1920.8,2356.4 1922.7,2364.7 1924.6,2364.9 1926.6,2361.7 1928.5,2355.5 1930.4,2350.4 1932.3,2339.4 1934.3,2337.3 1936.2,2339.0 1938.1,2335.4 1940.1,2332.9 1942.0,2338.8 1943.9,2346.9 1945.8,2343.4 1947.8,2346.4 1949.7,2346.0 1951.6,2347.0 1953.5,2345.9 1955.5,2346.6 1957.4,2349.3 1959.3,2346.5 1961.2,2347.4 1963.2,2346.1 1965.1,2347.3" fill="none" stroke="#c7c7c7" stroke-width="1" opacity="0.7"/><polyline points="1907.3,2351.7 1909.2,2348.1 1911.2,2347.4 1913.1,2353.2 1915.0,2348.6 1916.9,2352.6 1918.9,2349.3 1920.8,2354.2 1922.7,2363.8 1924.6,2364.7 1926.6,2353.8 1928.5,2355.6 1930.4,2346.7 1932.3,2346.8 1934.3,2342.1 1936.2,2343.3 1938.1,2335.4 1940.1,2336.6 1942.0,2341.0 1943.9,2338.9 1945.8,2341.3 1947.8,2348.6 1949.7,2341.5 1951.6,2347.8 1953.5,2344.0 1955.5,2353.1 1957.4,2354.3 1959.3,2345.0 1961.2,2345.5 1963.2,2349.5 1965.1,2347.6" fill="none" stroke="#c7c7c7" stroke-width="1" opacity="0.7"/><polyline points="1907.3,2353.0 1909.2,2349.6 1911.2,2349.3 1913.1,2346.0 1915.0,2349.3 1916.9,2352.2 1918.9,2354.3 1920.8,2356.4 1922.7,2360.4 1924.6,2364.6 1926.6,2355.4 1928.5,2344.9 1930.4,2343.4 1932.3,2347.8 1934.3,2337.5 1936.2,2336.6 1938.1,2336.9 1940.1,2334.9 1942.0,2332.6 1943.9,2339.1 1945.8,2348.8 1947.8,2346.1 1949.7,2346.4 1951.6,2349.2 1953.5,2347.1 1955.5,2344.8 1957.4,2348.0 1959.3,2349.1 1961.2,2347.4 1963.2,2355.6 1965.1,2349.3" fill="none" stroke="#c7c7c7" stroke-width="1" opacity="0.7"/><polyline points="1907.3,2349.9 1909.2,2344.8 1911.2,2345.8 1913.1,2346.1 1915.0,2346.4 1916.9,2341.4 1918.9,2345.0 1920.8,2354.9 1922.7,2359.1 1924.6,2364.8 1926.6,2358.2 1928.5,2350.2 1930.4,2347.1 1932.3,2342.1 1934.3,2337.3 1936.2,2336.4 1938.1,2339.3 1940.1,2342.2 1942.0,2343.7 1943.9,2343.1 1945.8,2338.0 1947.8,2346.3 1949.7,2346.6 1951.6,2340.9 1953.5,2345.8 1955.5,2351.6 1957.4,2348.0 1959.3,2345.5 1961.2,2350.7 1963.2,2351.2 1965.1,2348.8" fill="none" stroke="#c7c7c7" stroke-width="1" opacity="0.7"/><polyline points="1907.3,2351.1 1909.2,2353.6 1911.2,2347.9 1913.1,2350.0 1915.0,2349.8 1916.9,2347.6 1918.9,2345.5 1920.8,2353.8 1922.7,2362.1 1924.6,2363.2 1926.6,2359.6 1928.5,2350.5 1930.4,2344.6 1932.3,2346.7 1934.3,2339.3 1936.2,2337.8 1938.1,2339.2 1940.1,2338.3 1942.0,2340.2 1943.9,2342.6 1945.8,2343.8 1947.8,2345.3 1949.7,2345.6 1951.6,2347.7 1953.5,2349.6 1955.5,2348.3 1957.4,2351.3 1959.3,2352.3 1961.2,2351.1 1963.2,2354.7 1965.1,2348.4" fill="none" stroke="#c7c7c7" stroke-width="1" opacity="0.7"/><polyline points="1907.3,2350.0 1909.2,2351.8 1911.2,2343.7 1913.1,2346.8 1915.0,2346.6 1916.9,2355.7 1918.9,2345.4 1920.8,2349.4 1922.7,2356.0 1924.6,2364.3 1926.6,2365.9 1928.5,2345.5 1930.4,2346.2 1932.3,2345.1 1934.3,2335.4 1936.2,2340.5 1938.1,2340.4 1940.1,2335.6 1942.0,2342.6 1943.9,2343.2 1945.8,2338.8 1947.8,2349.3 1949.7,2346.5 1951.6,2351.3 1953.5,2351.5 1955.5,2346.7 1957.4,2345.8 1959.3,2343.6 1961.2,2348.8 1963.2,2348.1 1965.1,2354.3" fill="none" stroke="#c7c7c7" stroke-width="1" opacity="0.7"/><polyline points="1907.3,2347.8 1909.2,2350.3 1911.2,2348.6 1913.1,2346.5 1915.0,2341.3 1916.9,2347.5 1918.9,2351.0 1920.8,2349.7 1922.7,2361.6 1924.6,2367.3 1926.6,2359.3 1928.5,2353.3 1930.4,2344.3 1932.3,2338.8 1934.3,2340.4 1936.2,2343.1 1938.1,2340.2 1940.1,2341.0 1942.0,2339.0 1943.9,2342.3 1945.8,2338.3 1947.8,2347.5 1949.7,2343.5 1951.6,2347.3 1953.5,2351.3 1955.5,2348.9 1957.4,2349.6 1959.3,2349.1 1961.2,2343.2 1963.2,2348.2 1965.1,2348.0" fill="none" stroke="#c7c7c7" stroke-width="1" opacity="0.7"/><polyline points="1907.3,2348.4 1909.2,2346.3 1911.2,2346.8 1913.1,2353.7 1915.0,2346.8 1916.9,2352.3 1918.9,2348.6 1920.8,2345.9 1922.7,2355.9 1924.6,2363.0 1926.6,2366.9 1928.5,2352.7 1930.4,2350.6 1932.3,2344.3 1934.3,2346.2 1936.2,2339.3 1938.1,2338.2 1940.1,2331.3 1942.0,2344.7 1943.9,2340.3 1945.8,2341.7 1947.8,2345.4 1949.7,2345.2 1951.6,2348.3 1953.5,2347.2 1955.5,2348.5 1957.4,2348.4 1959.3,2351.0 1961.2,2347.7 1963.2,2349.2 1965.1,2351.7" fill="none" stroke="#c7c7c7" stroke-width="1" opacity="0.7"/><text x="1908.3" y="2388.0" font-size="6" text-anchor="middle" fill="#000">0</text><text x="1932.8" y="2388.0" font-size="6" text-anchor="middle" fill="#000">25</text><text x="1957.2" y="2388.0" font-size="6" text-anchor="middle" fill="#000">50</text><text transform="translate(1885.3,2353.2) rotate(-90)" font-size="6" text-anchor="middle">z-scored</text><text transform="translate(1891.3,2353.2) rotate(-90)" font-size="6" text-anchor="middle">Amplitude</text><rect x="2367.4" y="2325.5" width="63.6" height="55.5" fill="#fff" stroke="#555" stroke-width="0.9"/><polyline points="2370.4,2342.6 2372.3,2345.3 2374.2,2351.6 2376.2,2348.2 2378.1,2345.9 2380.0,2351.7 2381.9,2348.4 2383.8,2348.4 2385.8,2357.3 2387.7,2363.6 2389.6,2366.6 2391.5,2350.9 2393.4,2350.1 2395.4,2342.6 2397.3,2346.6 2399.2,2334.4 2401.1,2340.4 2403.0,2341.5 2405.0,2336.7 2406.9,2343.9 2408.8,2347.8 2410.7,2345.4 2412.6,2349.4 2414.6,2346.5 2416.5,2345.7 2418.4,2348.5 2420.3,2344.3 2422.2,2348.5 2424.2,2350.7 2426.1,2354.3 2428.0,2350.0" fill="none" stroke="#ffbb78" stroke-width="1" opacity="0.7"/><polyline points="2370.4,2347.8 2372.3,2351.0 2374.2,2350.5 2376.2,2347.3 2378.1,2346.9 2380.0,2347.3 2381.9,2349.9 2383.8,2355.3 2385.8,2360.8 2387.7,2361.0 2389.6,2358.8 2391.5,2345.3 2393.4,2347.1 2395.4,2345.9 2397.3,2334.8 2399.2,2337.4 2401.1,2337.0 2403.0,2336.8 2405.0,2338.8 2406.9,2344.6 2408.8,2345.7 2410.7,2349.9 2412.6,2345.6 2414.6,2353.7 2416.5,2346.2 2418.4,2351.3 2420.3,2351.0 2422.2,2347.3 2424.2,2346.1 2426.1,2353.8 2428.0,2346.8" fill="none" stroke="#ffbb78" stroke-width="1" opacity="0.7"/><polyline points="2370.4,2346.4 2372.3,2348.4 2374.2,2349.8 2376.2,2350.8 2378.1,2349.3 2380.0,2350.9 2381.9,2353.1 2383.8,2349.4 2385.8,2357.8 2387.7,2366.9 2389.6,2358.5 2391.5,2348.2 2393.4,2349.8 2395.4,2344.5 2397.3,2336.6 2399.2,2336.4 2401.1,2335.4 2403.0,2334.2 2405.0,2336.8 2406.9,2337.1 2408.8,2344.8 2410.7,2341.3 2412.6,2345.4 2414.6,2350.5 2416.5,2347.5 2418.4,2347.1 2420.3,2346.8 2422.2,2349.8 2424.2,2348.4 2426.1,2349.8 2428.0,2350.7" fill="none" stroke="#ffbb78" stroke-width="1" opacity="0.7"/><polyline points="2370.4,2347.6 2372.3,2351.0 2374.2,2342.4 2376.2,2349.1 2378.1,2347.5 2380.0,2352.9 2381.9,2344.1 2383.8,2351.5 2385.8,2359.6 2387.7,2363.6 2389.6,2355.1 2391.5,2352.3 2393.4,2345.4 2395.4,2341.2 2397.3,2342.6 2399.2,2340.1 2401.1,2340.8 2403.0,2337.1 2405.0,2339.6 2406.9,2340.3 2408.8,2340.4 2410.7,2345.2 2412.6,2340.9 2414.6,2350.1 2416.5,2348.2 2418.4,2354.1 2420.3,2348.9 2422.2,2351.7 2424.2,2350.1 2426.1,2351.0 2428.0,2352.2" fill="none" stroke="#ffbb78" stroke-width="1" opacity="0.7"/><polyline points="2370.4,2347.1 2372.3,2346.7 2374.2,2346.5 2376.2,2347.0 2378.1,2350.5 2380.0,2351.6 2381.9,2347.4 2383.8,2356.8 2385.8,2363.5 2387.7,2368.9 2389.6,2356.0 2391.5,2348.4 2393.4,2345.0 2395.4,2342.6 2397.3,2347.0 2399.2,2337.8 2401.1,2337.4 2403.0,2339.5 2405.0,2340.6 2406.9,2341.1 2408.8,2343.4 2410.7,2346.4 2412.6,2345.9 2414.6,2349.6 2416.5,2344.2 2418.4,2354.2 2420.3,2349.0 2422.2,2346.6 2424.2,2352.2 2426.1,2347.8 2428.0,2350.3" fill="none" stroke="#ffbb78" stroke-width="1" opacity="0.7"/><polyline points="2370.4,2348.4 2372.3,2349.8 2374.2,2349.8 2376.2,2346.7 2378.1,2350.7 2380.0,2347.5 2381.9,2357.2 2383.8,2352.5 2385.8,2363.6 2387.7,2358.2 2389.6,2365.4 2391.5,2346.5 2393.4,2341.8 2395.4,2343.3 2397.3,2343.9 2399.2,2339.2 2401.1,2336.1 2403.0,2343.6 2405.0,2335.3 2406.9,2342.5 2408.8,2341.5 2410.7,2347.0 2412.6,2348.4 2414.6,2349.9 2416.5,2350.2 2418.4,2348.7 2420.3,2347.9 2422.2,2347.0 2424.2,2352.7 2426.1,2348.7 2428.0,2345.4" fill="none" stroke="#ffbb78" stroke-width="1" opacity="0.7"/><polyline points="2370.4,2350.5 2372.3,2344.7 2374.2,2351.8 2376.2,2349.7 2378.1,2346.3 2380.0,2350.4 2381.9,2351.7 2383.8,2354.8 2385.8,2363.2 2387.7,2366.6 2389.6,2357.2 2391.5,2350.4 2393.4,2345.4 2395.4,2341.4 2397.3,2332.0 2399.2,2338.4 2401.1,2339.8 2403.0,2338.6 2405.0,2338.7 2406.9,2339.3 2408.8,2341.4 2410.7,2342.2 2412.6,2346.6 2414.6,2347.4 2416.5,2347.0 2418.4,2341.1 2420.3,2342.6 2422.2,2349.2 2424.2,2355.3 2426.1,2346.2 2428.0,2353.2" fill="none" stroke="#ffbb78" stroke-width="1" opacity="0.7"/><polyline points="2370.4,2347.0 2372.3,2348.9 2374.2,2347.7 2376.2,2346.7 2378.1,2344.7 2380.0,2349.3 2381.9,2349.8 2383.8,2355.5 2385.8,2355.4 2387.7,2362.0 2389.6,2363.4 2391.5,2351.9 2393.4,2352.1 2395.4,2345.5 2397.3,2341.7 2399.2,2341.0 2401.1,2338.9 2403.0,2335.6 2405.0,2338.4 2406.9,2342.1 2408.8,2342.4 2410.7,2342.8 2412.6,2345.3 2414.6,2352.4 2416.5,2342.7 2418.4,2354.0 2420.3,2348.2 2422.2,2348.9 2424.2,2352.7 2426.1,2350.1 2428.0,2346.2" fill="none" stroke="#ffbb78" stroke-width="1" opacity="0.7"/><text x="2371.4" y="2388.0" font-size="6" text-anchor="middle" fill="#000">0</text><text x="2395.8" y="2388.0" font-size="6" text-anchor="middle" fill="#000">25</text><text x="2420.1" y="2388.0" font-size="6" text-anchor="middle" fill="#000">50</text><text transform="translate(2348.4,2353.2) rotate(-90)" font-size="6" text-anchor="middle">z-scored</text><text transform="translate(2354.4,2353.2) rotate(-90)" font-size="6" text-anchor="middle">Amplitude</text><rect x="1904.3" y="2392.4" width="63.8" height="55.5" fill="#fff" stroke="#555" stroke-width="0.9"/><polyline points="1907.3,2411.9 1909.2,2412.6 1911.2,2419.8 1913.1,2416.2 1915.0,2414.1 1916.9,2412.0 1918.9,2416.9 1920.8,2421.5 1922.7,2428.6 1924.6,2432.2 1926.6,2423.2 1928.5,2415.9 1930.4,2408.2 1932.3,2411.8 1934.3,2408.8 1936.2,2406.0 1938.1,2406.7 1940.1,2403.5 1942.0,2406.5 1943.9,2411.4 1945.8,2412.1 1947.8,2412.0 1949.7,2416.6 1951.6,2411.5 1953.5,2418.0 1955.5,2415.8 1957.4,2416.7 1959.3,2414.4 1961.2,2412.7 1963.2,2417.0 1965.1,2416.1" fill="none" stroke="#c49c94" stroke-width="1" opacity="0.7"/><polyline points="1907.3,2418.4 1909.2,2419.2 1911.2,2415.2 1913.1,2414.4 1915.0,2417.8 1916.9,2419.5 1918.9,2418.2 1920.8,2421.9 1922.7,2429.8 1924.6,2432.3 1926.6,2423.2 1928.5,2421.4 1930.4,2415.1 1932.3,2407.7 1934.3,2405.2 1936.2,2407.6 1938.1,2405.5 1940.1,2399.4 1942.0,2401.8 1943.9,2404.2 1945.8,2409.2 1947.8,2411.8 1949.7,2412.5 1951.6,2414.5 1953.5,2413.3 1955.5,2420.6 1957.4,2411.8 1959.3,2413.3 1961.2,2414.4 1963.2,2417.1 1965.1,2419.5" fill="none" stroke="#c49c94" stroke-width="1" opacity="0.7"/><polyline points="1907.3,2415.4 1909.2,2416.9 1911.2,2409.6 1913.1,2417.8 1915.0,2414.9 1916.9,2419.1 1918.9,2415.9 1920.8,2416.7 1922.7,2422.5 1924.6,2432.0 1926.6,2431.4 1928.5,2424.3 1930.4,2414.3 1932.3,2406.0 1934.3,2408.7 1936.2,2402.5 1938.1,2403.8 1940.1,2406.1 1942.0,2408.0 1943.9,2408.7 1945.8,2412.2 1947.8,2414.6 1949.7,2415.9 1951.6,2417.5 1953.5,2420.8 1955.5,2416.6 1957.4,2420.0 1959.3,2416.3 1961.2,2417.7 1963.2,2418.8 1965.1,2418.4" fill="none" stroke="#c49c94" stroke-width="1" opacity="0.7"/><polyline points="1907.3,2413.9 1909.2,2415.2 1911.2,2412.4 1913.1,2420.3 1915.0,2416.4 1916.9,2415.4 1918.9,2419.3 1920.8,2415.2 1922.7,2425.1 1924.6,2438.8 1926.6,2433.2 1928.5,2423.3 1930.4,2409.8 1932.3,2408.8 1934.3,2407.9 1936.2,2405.1 1938.1,2408.9 1940.1,2409.7 1942.0,2407.0 1943.9,2406.5 1945.8,2410.9 1947.8,2415.6 1949.7,2412.9 1951.6,2416.7 1953.5,2422.0 1955.5,2413.6 1957.4,2420.8 1959.3,2412.8 1961.2,2414.5 1963.2,2409.7 1965.1,2419.4" fill="none" stroke="#c49c94" stroke-width="1" opacity="0.7"/><polyline points="1907.3,2418.3 1909.2,2415.3 1911.2,2419.3 1913.1,2417.8 1915.0,2419.3 1916.9,2412.8 1918.9,2420.1 1920.8,2417.0 1922.7,2428.2 1924.6,2435.9 1926.6,2426.5 1928.5,2419.0 1930.4,2413.0 1932.3,2407.3 1934.3,2408.2 1936.2,2406.6 1938.1,2404.7 1940.1,2402.3 1942.0,2399.5 1943.9,2408.0 1945.8,2407.2 1947.8,2410.8 1949.7,2415.2 1951.6,2416.2 1953.5,2418.3 1955.5,2412.8 1957.4,2417.6 1959.3,2416.7 1961.2,2413.7 1963.2,2415.7 1965.1,2415.7" fill="none" stroke="#c49c94" stroke-width="1" opacity="0.7"/><polyline points="1907.3,2414.6 1909.2,2417.7 1911.2,2411.1 1913.1,2413.2 1915.0,2416.7 1916.9,2415.8 1918.9,2414.1 1920.8,2422.0 1922.7,2429.1 1924.6,2429.0 1926.6,2425.1 1928.5,2419.0 1930.4,2411.3 1932.3,2409.5 1934.3,2408.9 1936.2,2410.4 1938.1,2402.9 1940.1,2410.5 1942.0,2407.4 1943.9,2410.4 1945.8,2403.2 1947.8,2405.7 1949.7,2411.5 1951.6,2414.5 1953.5,2414.9 1955.5,2415.9 1957.4,2406.9 1959.3,2416.7 1961.2,2420.4 1963.2,2415.6 1965.1,2416.0" fill="none" stroke="#c49c94" stroke-width="1" opacity="0.7"/><polyline points="1907.3,2412.7 1909.2,2410.4 1911.2,2419.1 1913.1,2410.6 1915.0,2408.8 1916.9,2418.2 1918.9,2417.8 1920.8,2418.5 1922.7,2427.0 1924.6,2434.8 1926.6,2426.1 1928.5,2420.0 1930.4,2405.9 1932.3,2412.2 1934.3,2407.2 1936.2,2405.4 1938.1,2406.9 1940.1,2406.0 1942.0,2405.1 1943.9,2406.8 1945.8,2399.7 1947.8,2414.2 1949.7,2415.7 1951.6,2416.3 1953.5,2418.9 1955.5,2418.2 1957.4,2416.0 1959.3,2415.2 1961.2,2415.1 1963.2,2413.6 1965.1,2413.7" fill="none" stroke="#c49c94" stroke-width="1" opacity="0.7"/><polyline points="1907.3,2415.4 1909.2,2416.8 1911.2,2413.9 1913.1,2417.0 1915.0,2412.6 1916.9,2414.3 1918.9,2410.6 1920.8,2419.3 1922.7,2424.0 1924.6,2425.4 1926.6,2426.4 1928.5,2423.3 1930.4,2415.0 1932.3,2410.2 1934.3,2408.5 1936.2,2400.5 1938.1,2409.1 1940.1,2405.2 1942.0,2406.6 1943.9,2412.5 1945.8,2407.2 1947.8,2413.3 1949.7,2414.3 1951.6,2414.2 1953.5,2414.0 1955.5,2417.2 1957.4,2415.8 1959.3,2421.5 1961.2,2413.6 1963.2,2413.0 1965.1,2417.7" fill="none" stroke="#c49c94" stroke-width="1" opacity="0.7"/><text x="1908.3" y="2454.9" font-size="6" text-anchor="middle" fill="#000">0</text><text x="1932.8" y="2454.9" font-size="6" text-anchor="middle" fill="#000">25</text><text x="1957.2" y="2454.9" font-size="6" text-anchor="middle" fill="#000">50</text><text transform="translate(1885.3,2420.1) rotate(-90)" font-size="6" text-anchor="middle">z-scored</text><text transform="translate(1891.3,2420.1) rotate(-90)" font-size="6" text-anchor="middle">Amplitude</text><rect x="2367.4" y="2392.4" width="63.6" height="55.5" fill="#fff" stroke="#555" stroke-width="0.9"/><polyline points="2370.4,2416.4 2372.3,2413.3 2374.2,2416.5 2376.2,2418.3 2378.1,2415.4 2380.0,2416.9 2381.9,2413.8 2383.8,2423.8 2385.8,2430.8 2387.7,2438.5 2389.6,2435.5 2391.5,2420.9 2393.4,2413.8 2395.4,2410.2 2397.3,2405.8 2399.2,2404.2 2401.1,2405.8 2403.0,2403.6 2405.0,2405.5 2406.9,2408.0 2408.8,2409.0 2410.7,2411.4 2412.6,2411.7 2414.6,2415.0 2416.5,2414.3 2418.4,2418.0 2420.3,2414.0 2422.2,2417.4 2424.2,2416.9 2426.1,2415.4 2428.0,2415.8" fill="none" stroke="#1f77b4" stroke-width="1" opacity="0.7"/><polyline points="2370.4,2416.1 2372.3,2415.0 2374.2,2413.8 2376.2,2415.7 2378.1,2417.4 2380.0,2417.8 2381.9,2416.7 2383.8,2422.7 2385.8,2432.3 2387.7,2439.8 2389.6,2433.2 2391.5,2418.4 2393.4,2412.8 2395.4,2408.8 2397.3,2407.9 2399.2,2406.6 2401.1,2404.2 2403.0,2404.5 2405.0,2407.2 2406.9,2406.3 2408.8,2407.4 2410.7,2411.3 2412.6,2413.4 2414.6,2415.2 2416.5,2414.8 2418.4,2416.2 2420.3,2416.5 2422.2,2416.0 2424.2,2414.7 2426.1,2416.9 2428.0,2416.6" fill="none" stroke="#1f77b4" stroke-width="1" opacity="0.7"/><polyline points="2370.4,2415.6 2372.3,2418.7 2374.2,2415.2 2376.2,2417.8 2378.1,2414.9 2380.0,2414.6 2381.9,2419.8 2383.8,2429.4 2385.8,2439.3 2387.7,2438.7 2389.6,2428.2 2391.5,2417.8 2393.4,2411.9 2395.4,2407.8 2397.3,2407.3 2399.2,2406.2 2401.1,2403.9 2403.0,2404.5 2405.0,2405.7 2406.9,2408.1 2408.8,2410.7 2410.7,2413.4 2412.6,2412.5 2414.6,2412.7 2416.5,2416.1 2418.4,2414.7 2420.3,2411.9 2422.2,2415.0 2424.2,2414.2 2426.1,2416.3 2428.0,2416.5" fill="none" stroke="#1f77b4" stroke-width="1" opacity="0.7"/><polyline points="2370.4,2416.8 2372.3,2415.9 2374.2,2416.4 2376.2,2415.2 2378.1,2416.6 2380.0,2417.3 2381.9,2417.9 2383.8,2420.8 2385.8,2429.2 2387.7,2440.9 2389.6,2432.9 2391.5,2424.4 2393.4,2415.5 2395.4,2411.7 2397.3,2408.3 2399.2,2405.8 2401.1,2404.3 2403.0,2403.5 2405.0,2404.7 2406.9,2410.4 2408.8,2411.7 2410.7,2413.4 2412.6,2414.9 2414.6,2412.9 2416.5,2415.1 2418.4,2416.6 2420.3,2414.9 2422.2,2417.1 2424.2,2414.2 2426.1,2416.3 2428.0,2416.0" fill="none" stroke="#1f77b4" stroke-width="1" opacity="0.7"/><polyline points="2370.4,2416.1 2372.3,2415.7 2374.2,2417.3 2376.2,2417.1 2378.1,2416.6 2380.0,2415.3 2381.9,2416.0 2383.8,2420.2 2385.8,2430.7 2387.7,2437.5 2389.6,2434.6 2391.5,2424.1 2393.4,2416.6 2395.4,2410.6 2397.3,2407.2 2399.2,2405.7 2401.1,2405.6 2403.0,2405.7 2405.0,2407.5 2406.9,2407.6 2408.8,2409.6 2410.7,2413.5 2412.6,2414.4 2414.6,2417.4 2416.5,2416.9 2418.4,2415.1 2420.3,2413.6 2422.2,2417.2 2424.2,2415.0 2426.1,2416.0 2428.0,2414.9" fill="none" stroke="#1f77b4" stroke-width="1" opacity="0.7"/><polyline points="2370.4,2416.2 2372.3,2414.3 2374.2,2416.6 2376.2,2417.5 2378.1,2415.7 2380.0,2417.0 2381.9,2419.6 2383.8,2427.0 2385.8,2435.8 2387.7,2439.1 2389.6,2427.8 2391.5,2416.9 2393.4,2411.3 2395.4,2410.4 2397.3,2409.2 2399.2,2408.1 2401.1,2404.6 2403.0,2405.3 2405.0,2404.7 2406.9,2407.5 2408.8,2411.5 2410.7,2414.0 2412.6,2412.0 2414.6,2412.8 2416.5,2414.8 2418.4,2413.8 2420.3,2417.6 2422.2,2414.9 2424.2,2413.6 2426.1,2418.6 2428.0,2416.3" fill="none" stroke="#1f77b4" stroke-width="1" opacity="0.7"/><polyline points="2370.4,2414.1 2372.3,2418.1 2374.2,2418.7 2376.2,2416.4 2378.1,2414.7 2380.0,2414.6 2381.9,2416.6 2383.8,2422.7 2385.8,2434.9 2387.7,2439.2 2389.6,2429.6 2391.5,2417.4 2393.4,2413.1 2395.4,2409.7 2397.3,2408.7 2399.2,2405.7 2401.1,2403.6 2403.0,2403.9 2405.0,2405.9 2406.9,2405.4 2408.8,2411.1 2410.7,2412.0 2412.6,2414.1 2414.6,2414.7 2416.5,2417.7 2418.4,2416.1 2420.3,2416.1 2422.2,2418.1 2424.2,2417.7 2426.1,2416.3 2428.0,2416.1" fill="none" stroke="#1f77b4" stroke-width="1" opacity="0.7"/><polyline points="2370.4,2414.0 2372.3,2415.6 2374.2,2415.7 2376.2,2416.4 2378.1,2415.0 2380.0,2416.3 2381.9,2416.9 2383.8,2423.5 2385.8,2433.0 2387.7,2440.5 2389.6,2432.5 2391.5,2423.8 2393.4,2413.9 2395.4,2411.5 2397.3,2408.4 2399.2,2407.9 2401.1,2405.7 2403.0,2404.2 2405.0,2405.4 2406.9,2406.0 2408.8,2411.4 2410.7,2409.0 2412.6,2413.1 2414.6,2416.2 2416.5,2416.6 2418.4,2415.8 2420.3,2416.7 2422.2,2414.1 2424.2,2414.3 2426.1,2416.1 2428.0,2417.1" fill="none" stroke="#1f77b4" stroke-width="1" opacity="0.7"/><text x="2371.4" y="2454.9" font-size="6" text-anchor="middle" fill="#000">0</text><text x="2395.8" y="2454.9" font-size="6" text-anchor="middle" fill="#000">25</text><text x="2420.1" y="2454.9" font-size="6" text-anchor="middle" fill="#000">50</text><text transform="translate(2348.4,2420.1) rotate(-90)" font-size="6" text-anchor="middle">z-scored</text><text transform="translate(2354.4,2420.1) rotate(-90)" font-size="6" text-anchor="middle">Amplitude</text><line x1="1968" y1="2259" x2="2263" y2="2378" stroke="#888" stroke-width="0.8" stroke-dasharray="2 2"/><line x1="1968" y1="2326" x2="2068" y2="2310" stroke="#888" stroke-width="0.8" stroke-dasharray="2 2"/><line x1="1968" y1="2393" x2="2146" y2="2419" stroke="#888" stroke-width="0.8" stroke-dasharray="2 2"/><line x1="2367" y1="2259" x2="2218" y2="2416" stroke="#888" stroke-width="0.8" stroke-dasharray="2 2"/><line x1="2367" y1="2326" x2="2199" y2="2361" stroke="#888" stroke-width="0.8" stroke-dasharray="2 2"/><line x1="2367" y1="2393" x2="2063" y2="2478" stroke="#888" stroke-width="0.8" stroke-dasharray="2 2"/><path d="M2525.0 2329.3v-48.1h1.3v48.1zM2526.3 2329.3v-55.5h1.3v55.5zM2527.7 2329.3v-56.0h1.3v56.0zM2529.0 2329.3v-46.0h1.3v46.0zM2530.3 2329.3v-54.0h1.3v54.0zM2531.7 2329.3v-68.5h1.3v68.5zM2533.0 2329.3v-53.2h1.3v53.2zM2534.3 2329.3v-48.4h1.3v48.4zM2535.6 2329.3v-52.6h1.3v52.6zM2537.0 2329.3v-59.5h1.3v59.5zM2538.3 2329.3v-43.0h1.3v43.0zM2539.6 2329.3v-54.1h1.3v54.1zM2541.0 2329.3v-46.7h1.3v46.7zM2542.3 2329.3v-43.9h1.3v43.9zM2543.6 2329.3v-45.1h1.3v45.1zM2545.0 2329.3v-46.4h1.3v46.4zM2546.3 2329.3v-50.5h1.3v50.5zM2547.6 2329.3v-57.5h1.3v57.5zM2549.0 2329.3v-35.8h1.3v35.8zM2550.3 2329.3v-55.4h1.3v55.4zM2551.6 2329.3v-58.5h1.3v58.5zM2553.0 2329.3v-61.0h1.3v61.0zM2554.3 2329.3v-48.5h1.3v48.5zM2555.6 2329.3v-55.3h1.3v55.3zM2556.9 2329.3v-53.7h1.3v53.7zM2558.3 2329.3v-52.7h1.3v52.7zM2559.6 2329.3v-55.4h1.3v55.4zM2560.9 2329.3v-48.2h1.3v48.2zM2562.3 2329.3v-58.6h1.3v58.6zM2563.6 2329.3v-32.8h1.3v32.8zM2564.9 2329.3v-47.5h1.3v47.5zM2566.3 2329.3v-44.8h1.3v44.8zM2567.6 2329.3v-45.2h1.3v45.2zM2568.9 2329.3v-50.7h1.3v50.7zM2570.3 2329.3v-49.0h1.3v49.0zM2571.6 2329.3v-55.2h1.3v55.2zM2572.9 2329.3v-54.2h1.3v54.2zM2574.2 2329.3v-57.9h1.3v57.9zM2575.6 2329.3v-43.3h1.3v43.3zM2576.9 2329.3v-48.1h1.3v48.1zM2578.2 2329.3v-48.8h1.3v48.8zM2579.6 2329.3v-52.8h1.3v52.8zM2580.9 2329.3v-54.5h1.3v54.5zM2582.2 2329.3v-53.8h1.3v53.8zM2583.6 2329.3v-56.4h1.3v56.4zM2584.9 2329.3v-52.8h1.3v52.8zM2586.2 2329.3v-48.6h1.3v48.6zM2587.6 2329.3v-60.8h1.3v60.8zM2594.2 2329.3v-47.5h1.3v47.5zM2595.5 2329.3v-62.4h1.3v62.4zM2596.9 2329.3v-63.9h1.3v63.9zM2598.2 2329.3v-43.6h1.3v43.6zM2599.5 2329.3v-51.2h1.3v51.2zM2600.9 2329.3v-64.6h1.3v64.6zM2602.2 2329.3v-34.9h1.3v34.9zM2603.5 2329.3v-51.5h1.3v51.5zM2604.9 2329.3v-40.6h1.3v40.6zM2606.2 2329.3v-50.9h1.3v50.9zM2607.5 2329.3v-48.3h1.3v48.3zM2608.9 2329.3v-60.5h1.3v60.5zM2610.2 2329.3v-39.3h1.3v39.3zM2611.5 2329.3v-59.5h1.3v59.5zM2612.8 2329.3v-47.0h1.3v47.0zM2614.2 2329.3v-41.9h1.3v41.9zM2615.5 2329.3v-54.3h1.3v54.3zM2616.8 2329.3v-50.0h1.3v50.0zM2618.2 2329.3v-43.2h1.3v43.2zM2619.5 2329.3v-52.3h1.3v52.3zM2620.8 2329.3v-48.3h1.3v48.3zM2622.2 2329.3v-48.6h1.3v48.6zM2623.5 2329.3v-34.7h1.3v34.7zM2624.8 2329.3v-51.9h1.3v51.9zM2626.2 2329.3v-59.0h1.3v59.0zM2627.5 2329.3v-45.9h1.3v45.9zM2628.8 2329.3v-45.3h1.3v45.3zM2630.1 2329.3v-40.3h1.3v40.3zM2631.5 2329.3v-61.1h1.3v61.1zM2632.8 2329.3v-48.9h1.3v48.9zM2634.1 2329.3v-41.2h1.3v41.2zM2635.5 2329.3v-51.0h1.3v51.0zM2636.8 2329.3v-57.1h1.3v57.1zM2638.1 2329.3v-45.7h1.3v45.7zM2639.5 2329.3v-44.1h1.3v44.1zM2640.8 2329.3v-45.5h1.3v45.5zM2642.1 2329.3v-44.9h1.3v44.9zM2643.5 2329.3v-42.1h1.3v42.1zM2644.8 2329.3v-75.0h1.3v75.0zM2646.1 2329.3v-39.3h1.3v39.3zM2647.5 2329.3v-65.9h1.3v65.9zM2648.8 2329.3v-48.5h1.3v48.5zM2650.1 2329.3v-51.5h1.3v51.5zM2651.4 2329.3v-49.7h1.3v49.7zM2652.8 2329.3v-42.1h1.3v42.1zM2654.1 2329.3v-59.9h1.3v59.9zM2655.4 2329.3v-44.0h1.3v44.0zM2656.8 2329.3v-47.1h1.3v47.1z" fill="#c4c4c4"/><path d="M2538.4 2314V2271M2541.9 2317V2271M2624.1 2316V2271M2547.2 2303V2271M2542.4 2296V2271M2611.5 2295V2271M2621.6 2299V2271M2560.6 2309V2271M2575.6 2310V2271M2646.4 2308V2271M2631.4 2302V2271M2536.0 2315V2271M2601.9 2297V2271M2556.0 2314V2271" stroke="#fff" stroke-width="0.9"/><polyline points="2518.5,2252.8 2518.5,2329.3 2664.6,2329.3" fill="none" stroke="#000" stroke-width="1.1"/><line x1="2538.3" y1="2329.3" x2="2538.3" y2="2332.3" stroke="#000" stroke-width="0.8"/><text x="2538.3" y="2340.3" font-size="7.8" text-anchor="middle" fill="#000">−0.04</text><line x1="2564.9" y1="2329.3" x2="2564.9" y2="2332.3" stroke="#000" stroke-width="0.8"/><text x="2564.9" y="2340.3" font-size="7.8" text-anchor="middle" fill="#000">−0.02</text><line x1="2591.6" y1="2329.3" x2="2591.6" y2="2332.3" stroke="#000" stroke-width="0.8"/><text x="2591.6" y="2340.3" font-size="7.8" text-anchor="middle" fill="#000">0.00</text><line x1="2618.2" y1="2329.3" x2="2618.2" y2="2332.3" stroke="#000" stroke-width="0.8"/><text x="2618.2" y="2340.3" font-size="7.8" text-anchor="middle" fill="#000">0.02</text><line x1="2644.8" y1="2329.3" x2="2644.8" y2="2332.3" stroke="#000" stroke-width="0.8"/><text x="2644.8" y="2340.3" font-size="7.8" text-anchor="middle" fill="#000">0.04</text><text x="2515.5" y="2332.3" font-size="7.8" text-anchor="end" fill="#000">0</text><text x="2515.5" y="2312.2" font-size="7.8" text-anchor="end" fill="#000">20</text><text x="2515.5" y="2292.0" font-size="7.8" text-anchor="end" fill="#000">40</text><text x="2515.5" y="2271.9" font-size="7.8" text-anchor="end" fill="#000">60</text><text x="2591.6" y="2247.8" font-size="11.5" text-anchor="middle" fill="#000">Unit 1</text><text transform="translate(2495.5,2291.0) rotate(-90)" font-size="10" text-anchor="middle">Spike count</text><polyline points="2527.5,2272.8 2528.4,2272.8 2529.3,2272.8 2530.2,2272.8 2531.1,2272.8 2532.0,2272.8 2532.9,2272.9 2533.8,2273.6 2534.7,2275.5 2535.6,2276.7 2536.5,2275.1 2537.4,2272.6 2538.3,2271.2 2539.2,2270.8 2540.1,2271.1 2541.0,2271.8 2541.9,2272.4 2542.8,2272.7 2543.7,2272.8 2544.6,2272.8 2545.5,2272.8" fill="none" stroke="#d4c2ea" stroke-width="4" opacity="0.9"/><polyline points="2527.5,2272.8 2528.4,2272.8 2529.3,2272.8 2530.2,2272.8 2531.1,2272.8 2532.0,2272.8 2532.9,2272.9 2533.8,2273.6 2534.7,2275.5 2535.6,2276.7 2536.5,2275.1 2537.4,2272.6 2538.3,2271.2 2539.2,2270.8 2540.1,2271.1 2541.0,2271.8 2541.9,2272.4 2542.8,2272.7 2543.7,2272.8 2544.6,2272.8 2545.5,2272.8" fill="none" stroke="#6a3d9a" stroke-width="1.1"/><polyline points="2563.5,2272.8 2564.4,2272.8 2565.3,2272.8 2566.2,2272.8 2567.1,2272.8 2568.0,2272.8 2568.9,2272.8 2569.8,2273.1 2570.7,2273.9 2571.6,2274.4 2572.5,2273.7 2573.4,2272.7 2574.3,2272.2 2575.2,2272.0 2576.1,2272.1 2577.0,2272.4 2577.9,2272.6 2578.8,2272.8 2579.7,2272.8 2580.6,2272.8 2581.5,2272.8" fill="none" stroke="#d4c2ea" stroke-width="4" opacity="0.9"/><polyline points="2563.5,2272.8 2564.4,2272.8 2565.3,2272.8 2566.2,2272.8 2567.1,2272.8 2568.0,2272.8 2568.9,2272.8 2569.8,2273.1 2570.7,2273.9 2571.6,2274.4 2572.5,2273.7 2573.4,2272.7 2574.3,2272.2 2575.2,2272.0 2576.1,2272.1 2577.0,2272.4 2577.9,2272.6 2578.8,2272.8 2579.7,2272.8 2580.6,2272.8 2581.5,2272.8" fill="none" stroke="#6a3d9a" stroke-width="1.1"/><polyline points="2527.5,2311.3 2528.4,2311.3 2529.3,2311.3 2530.2,2311.3 2531.1,2311.3 2532.0,2311.3 2532.9,2311.4 2533.8,2312.1 2534.7,2314.0 2535.6,2315.2 2536.5,2313.6 2537.4,2311.1 2538.3,2309.7 2539.2,2309.3 2540.1,2309.6 2541.0,2310.3 2541.9,2310.9 2542.8,2311.2 2543.7,2311.3 2544.6,2311.3 2545.5,2311.3" fill="none" stroke="#d4c2ea" stroke-width="4" opacity="0.9"/><polyline points="2527.5,2311.3 2528.4,2311.3 2529.3,2311.3 2530.2,2311.3 2531.1,2311.3 2532.0,2311.3 2532.9,2311.4 2533.8,2312.1 2534.7,2314.0 2535.6,2315.2 2536.5,2313.6 2537.4,2311.1 2538.3,2309.7 2539.2,2309.3 2540.1,2309.6 2541.0,2310.3 2541.9,2310.9 2542.8,2311.2 2543.7,2311.3 2544.6,2311.3 2545.5,2311.3" fill="none" stroke="#6a3d9a" stroke-width="1.1"/><polyline points="2563.5,2311.3 2564.4,2311.3 2565.3,2311.3 2566.2,2311.3 2567.1,2311.3 2568.0,2311.3 2568.9,2311.4 2569.8,2312.1 2570.7,2314.0 2571.6,2315.2 2572.5,2313.6 2573.4,2311.1 2574.3,2309.7 2575.2,2309.3 2576.1,2309.6 2577.0,2310.3 2577.9,2310.9 2578.8,2311.2 2579.7,2311.3 2580.6,2311.3 2581.5,2311.3" fill="none" stroke="#d4c2ea" stroke-width="4" opacity="0.9"/><polyline points="2563.5,2311.3 2564.4,2311.3 2565.3,2311.3 2566.2,2311.3 2567.1,2311.3 2568.0,2311.3 2568.9,2311.4 2569.8,2312.1 2570.7,2314.0 2571.6,2315.2 2572.5,2313.6 2573.4,2311.1 2574.3,2309.7 2575.2,2309.3 2576.1,2309.6 2577.0,2310.3 2577.9,2310.9 2578.8,2311.2 2579.7,2311.3 2580.6,2311.3 2581.5,2311.3" fill="none" stroke="#6a3d9a" stroke-width="1.1"/><path d="M2686.0 2329.3v-33.7h1.3v33.7zM2687.3 2329.3v-54.6h1.3v54.6zM2688.7 2329.3v-42.6h1.3v42.6zM2690.0 2329.3v-43.1h1.3v43.1zM2691.4 2329.3v-41.8h1.3v41.8zM2692.7 2329.3v-52.6h1.3v52.6zM2694.0 2329.3v-49.3h1.3v49.3zM2695.4 2329.3v-51.0h1.3v51.0zM2696.7 2329.3v-53.9h1.3v53.9zM2698.1 2329.3v-48.6h1.3v48.6zM2699.4 2329.3v-53.9h1.3v53.9zM2700.7 2329.3v-34.1h1.3v34.1zM2702.1 2329.3v-38.9h1.3v38.9zM2703.4 2329.3v-40.1h1.3v40.1zM2704.8 2329.3v-36.0h1.3v36.0zM2706.1 2329.3v-40.2h1.3v40.2zM2707.4 2329.3v-46.3h1.3v46.3zM2708.8 2329.3v-49.5h1.3v49.5zM2710.1 2329.3v-38.2h1.3v38.2zM2711.5 2329.3v-42.1h1.3v42.1zM2712.8 2329.3v-31.0h1.3v31.0zM2714.1 2329.3v-45.5h1.3v45.5zM2715.5 2329.3v-37.8h1.3v37.8zM2716.8 2329.3v-36.8h1.3v36.8zM2718.2 2329.3v-41.2h1.3v41.2zM2719.5 2329.3v-48.5h1.3v48.5zM2720.8 2329.3v-35.4h1.3v35.4zM2722.2 2329.3v-38.2h1.3v38.2zM2723.5 2329.3v-33.7h1.3v33.7zM2724.9 2329.3v-40.2h1.3v40.2zM2726.2 2329.3v-30.8h1.3v30.8zM2727.5 2329.3v-30.4h1.3v30.4zM2728.9 2329.3v-33.5h1.3v33.5zM2730.2 2329.3v-43.0h1.3v43.0zM2731.6 2329.3v-30.2h1.3v30.2zM2732.9 2329.3v-34.4h1.3v34.4zM2734.2 2329.3v-37.4h1.3v37.4zM2735.6 2329.3v-40.9h1.3v40.9zM2736.9 2329.3v-39.2h1.3v39.2zM2738.3 2329.3v-34.9h1.3v34.9zM2739.6 2329.3v-34.3h1.3v34.3zM2740.9 2329.3v-32.1h1.3v32.1zM2742.3 2329.3v-29.8h1.3v29.8zM2743.6 2329.3v-35.5h1.3v35.5zM2745.0 2329.3v-35.1h1.3v35.1zM2746.3 2329.3v-37.7h1.3v37.7zM2747.6 2329.3v-35.7h1.3v35.7zM2749.0 2329.3v-33.7h1.3v33.7zM2755.7 2329.3v-38.8h1.3v38.8zM2757.0 2329.3v-40.4h1.3v40.4zM2758.4 2329.3v-32.1h1.3v32.1zM2759.7 2329.3v-37.0h1.3v37.0zM2761.0 2329.3v-37.3h1.3v37.3zM2762.4 2329.3v-21.0h1.3v21.0zM2763.7 2329.3v-37.6h1.3v37.6zM2765.1 2329.3v-43.6h1.3v43.6zM2766.4 2329.3v-21.5h1.3v21.5zM2767.7 2329.3v-47.5h1.3v47.5zM2769.1 2329.3v-27.4h1.3v27.4zM2770.4 2329.3v-30.4h1.3v30.4zM2771.8 2329.3v-35.7h1.3v35.7zM2773.1 2329.3v-35.0h1.3v35.0zM2774.4 2329.3v-29.8h1.3v29.8zM2775.8 2329.3v-41.1h1.3v41.1zM2777.1 2329.3v-39.7h1.3v39.7zM2778.5 2329.3v-40.6h1.3v40.6zM2779.8 2329.3v-51.7h1.3v51.7zM2781.1 2329.3v-38.4h1.3v38.4zM2782.5 2329.3v-38.3h1.3v38.3zM2783.8 2329.3v-38.0h1.3v38.0zM2785.2 2329.3v-34.8h1.3v34.8zM2786.5 2329.3v-23.6h1.3v23.6zM2787.8 2329.3v-42.5h1.3v42.5zM2789.2 2329.3v-31.7h1.3v31.7zM2790.5 2329.3v-33.3h1.3v33.3zM2791.9 2329.3v-44.6h1.3v44.6zM2793.2 2329.3v-48.1h1.3v48.1zM2794.5 2329.3v-38.8h1.3v38.8zM2795.9 2329.3v-45.4h1.3v45.4zM2797.2 2329.3v-44.2h1.3v44.2zM2798.6 2329.3v-52.2h1.3v52.2zM2799.9 2329.3v-40.3h1.3v40.3zM2801.2 2329.3v-46.7h1.3v46.7zM2802.6 2329.3v-42.3h1.3v42.3zM2803.9 2329.3v-51.7h1.3v51.7zM2805.3 2329.3v-50.3h1.3v50.3zM2806.6 2329.3v-38.1h1.3v38.1zM2807.9 2329.3v-48.0h1.3v48.0zM2809.3 2329.3v-46.4h1.3v46.4zM2810.6 2329.3v-56.6h1.3v56.6zM2812.0 2329.3v-47.8h1.3v47.8zM2813.3 2329.3v-35.5h1.3v35.5zM2814.6 2329.3v-39.2h1.3v39.2zM2816.0 2329.3v-49.9h1.3v49.9zM2817.3 2329.3v-40.8h1.3v40.8zM2818.7 2329.3v-51.8h1.3v51.8z" fill="#c4c4c4"/><path d="M2729.7 2307V2272M2814.9 2297V2272M2704.1 2301V2272M2795.8 2311V2272M2805.1 2293V2272M2695.5 2303V2272M2737.0 2307V2272M2759.5 2295V2272M2770.5 2294V2272M2719.3 2297V2272M2738.5 2316V2272M2793.6 2304V2272M2716.2 2294V2272M2751.9 2301V2272" stroke="#fff" stroke-width="0.9"/><polyline points="2679.5,2252.8 2679.5,2329.3 2826.5,2329.3" fill="none" stroke="#000" stroke-width="1.1"/><line x1="2699.4" y1="2329.3" x2="2699.4" y2="2332.3" stroke="#000" stroke-width="0.8"/><text x="2699.4" y="2340.3" font-size="7.8" text-anchor="middle" fill="#000">−0.04</text><line x1="2726.2" y1="2329.3" x2="2726.2" y2="2332.3" stroke="#000" stroke-width="0.8"/><text x="2726.2" y="2340.3" font-size="7.8" text-anchor="middle" fill="#000">−0.02</text><line x1="2753.0" y1="2329.3" x2="2753.0" y2="2332.3" stroke="#000" stroke-width="0.8"/><text x="2753.0" y="2340.3" font-size="7.8" text-anchor="middle" fill="#000">0.00</text><line x1="2779.8" y1="2329.3" x2="2779.8" y2="2332.3" stroke="#000" stroke-width="0.8"/><text x="2779.8" y="2340.3" font-size="7.8" text-anchor="middle" fill="#000">0.02</text><line x1="2806.6" y1="2329.3" x2="2806.6" y2="2332.3" stroke="#000" stroke-width="0.8"/><text x="2806.6" y="2340.3" font-size="7.8" text-anchor="middle" fill="#000">0.04</text><text x="2676.5" y="2332.3" font-size="7.8" text-anchor="end" fill="#000">0</text><text x="2676.5" y="2303.8" font-size="7.8" text-anchor="end" fill="#000">20</text><text x="2676.5" y="2275.2" font-size="7.8" text-anchor="end" fill="#000">40</text><text x="2753.0" y="2247.8" font-size="11.5" text-anchor="middle" fill="#000">Unit 2</text><polyline points="2688.5,2272.8 2689.4,2272.8 2690.3,2272.8 2691.2,2272.8 2692.1,2272.8 2693.0,2272.8 2693.9,2272.9 2694.8,2273.6 2695.7,2275.5 2696.6,2276.7 2697.5,2275.1 2698.4,2272.6 2699.3,2271.2 2700.2,2270.8 2701.1,2271.1 2702.0,2271.8 2702.9,2272.4 2703.8,2272.7 2704.7,2272.8 2705.6,2272.8 2706.5,2272.8" fill="none" stroke="#d4c2ea" stroke-width="4" opacity="0.9"/><polyline points="2688.5,2272.8 2689.4,2272.8 2690.3,2272.8 2691.2,2272.8 2692.1,2272.8 2693.0,2272.8 2693.9,2272.9 2694.8,2273.6 2695.7,2275.5 2696.6,2276.7 2697.5,2275.1 2698.4,2272.6 2699.3,2271.2 2700.2,2270.8 2701.1,2271.1 2702.0,2271.8 2702.9,2272.4 2703.8,2272.7 2704.7,2272.8 2705.6,2272.8 2706.5,2272.8" fill="none" stroke="#6a3d9a" stroke-width="1.1"/><polyline points="2724.5,2272.8 2725.4,2272.8 2726.3,2272.8 2727.2,2272.8 2728.1,2272.8 2729.0,2272.8 2729.9,2273.0 2730.8,2274.3 2731.7,2277.6 2732.6,2279.8 2733.5,2276.9 2734.4,2272.5 2735.3,2270.0 2736.2,2269.2 2737.1,2269.8 2738.0,2271.0 2738.9,2272.0 2739.8,2272.6 2740.7,2272.8 2741.6,2272.8 2742.5,2272.8" fill="none" stroke="#d4c2ea" stroke-width="4" opacity="0.9"/><polyline points="2724.5,2272.8 2725.4,2272.8 2726.3,2272.8 2727.2,2272.8 2728.1,2272.8 2729.0,2272.8 2729.9,2273.0 2730.8,2274.3 2731.7,2277.6 2732.6,2279.8 2733.5,2276.9 2734.4,2272.5 2735.3,2270.0 2736.2,2269.2 2737.1,2269.8 2738.0,2271.0 2738.9,2272.0 2739.8,2272.6 2740.7,2272.8 2741.6,2272.8 2742.5,2272.8" fill="none" stroke="#6a3d9a" stroke-width="1.1"/><polyline points="2688.5,2311.3 2689.4,2311.3 2690.3,2311.3 2691.2,2311.3 2692.1,2311.3 2693.0,2311.3 2693.9,2311.5 2694.8,2312.8 2695.7,2316.1 2696.6,2318.3 2697.5,2315.4 2698.4,2311.0 2699.3,2308.5 2700.2,2307.7 2701.1,2308.3 2702.0,2309.5 2702.9,2310.5 2703.8,2311.1 2704.7,2311.3 2705.6,2311.3 2706.5,2311.3" fill="none" stroke="#d4c2ea" stroke-width="4" opacity="0.9"/><polyline points="2688.5,2311.3 2689.4,2311.3 2690.3,2311.3 2691.2,2311.3 2692.1,2311.3 2693.0,2311.3 2693.9,2311.5 2694.8,2312.8 2695.7,2316.1 2696.6,2318.3 2697.5,2315.4 2698.4,2311.0 2699.3,2308.5 2700.2,2307.7 2701.1,2308.3 2702.0,2309.5 2702.9,2310.5 2703.8,2311.1 2704.7,2311.3 2705.6,2311.3 2706.5,2311.3" fill="none" stroke="#6a3d9a" stroke-width="1.1"/><polyline points="2724.5,2311.3 2725.4,2311.3 2726.3,2311.3 2727.2,2311.3 2728.1,2311.3 2729.0,2311.3 2729.9,2311.4 2730.8,2312.1 2731.7,2314.0 2732.6,2315.2 2733.5,2313.6 2734.4,2311.1 2735.3,2309.7 2736.2,2309.3 2737.1,2309.6 2738.0,2310.3 2738.9,2310.9 2739.8,2311.2 2740.7,2311.3 2741.6,2311.3 2742.5,2311.3" fill="none" stroke="#d4c2ea" stroke-width="4" opacity="0.9"/><polyline points="2724.5,2311.3 2725.4,2311.3 2726.3,2311.3 2727.2,2311.3 2728.1,2311.3 2729.0,2311.3 2729.9,2311.4 2730.8,2312.1 2731.7,2314.0 2732.6,2315.2 2733.5,2313.6 2734.4,2311.1 2735.3,2309.7 2736.2,2309.3 2737.1,2309.6 2738.0,2310.3 2738.9,2310.9 2739.8,2311.2 2740.7,2311.3 2741.6,2311.3 2742.5,2311.3" fill="none" stroke="#6a3d9a" stroke-width="1.1"/><path d="M2525.0 2444.3v-36.8h1.3v36.8zM2526.3 2444.3v-40.6h1.3v40.6zM2527.7 2444.3v-24.6h1.3v24.6zM2529.0 2444.3v-38.4h1.3v38.4zM2530.3 2444.3v-40.4h1.3v40.4zM2531.7 2444.3v-37.1h1.3v37.1zM2533.0 2444.3v-38.3h1.3v38.3zM2534.3 2444.3v-33.5h1.3v33.5zM2535.6 2444.3v-35.2h1.3v35.2zM2537.0 2444.3v-49.7h1.3v49.7zM2538.3 2444.3v-33.6h1.3v33.6zM2539.6 2444.3v-50.6h1.3v50.6zM2541.0 2444.3v-32.4h1.3v32.4zM2542.3 2444.3v-50.5h1.3v50.5zM2543.6 2444.3v-40.9h1.3v40.9zM2545.0 2444.3v-46.2h1.3v46.2zM2546.3 2444.3v-40.5h1.3v40.5zM2547.6 2444.3v-45.3h1.3v45.3zM2549.0 2444.3v-58.3h1.3v58.3zM2550.3 2444.3v-26.1h1.3v26.1zM2551.6 2444.3v-37.8h1.3v37.8zM2553.0 2444.3v-44.8h1.3v44.8zM2554.3 2444.3v-52.1h1.3v52.1zM2555.6 2444.3v-33.1h1.3v33.1zM2556.9 2444.3v-42.4h1.3v42.4zM2558.3 2444.3v-48.1h1.3v48.1zM2559.6 2444.3v-38.5h1.3v38.5zM2560.9 2444.3v-42.2h1.3v42.2zM2562.3 2444.3v-43.9h1.3v43.9zM2563.6 2444.3v-48.9h1.3v48.9zM2564.9 2444.3v-45.0h1.3v45.0zM2566.3 2444.3v-44.8h1.3v44.8zM2567.6 2444.3v-37.6h1.3v37.6zM2568.9 2444.3v-38.6h1.3v38.6zM2570.3 2444.3v-57.4h1.3v57.4zM2571.6 2444.3v-33.3h1.3v33.3zM2572.9 2444.3v-39.5h1.3v39.5zM2574.2 2444.3v-37.3h1.3v37.3zM2575.6 2444.3v-42.6h1.3v42.6zM2576.9 2444.3v-35.9h1.3v35.9zM2578.2 2444.3v-47.1h1.3v47.1zM2579.6 2444.3v-36.9h1.3v36.9zM2580.9 2444.3v-38.1h1.3v38.1zM2582.2 2444.3v-31.4h1.3v31.4zM2583.6 2444.3v-38.8h1.3v38.8zM2584.9 2444.3v-31.2h1.3v31.2zM2586.2 2444.3v-40.0h1.3v40.0zM2587.6 2444.3v-45.5h1.3v45.5zM2594.2 2444.3v-30.4h1.3v30.4zM2595.5 2444.3v-55.0h1.3v55.0zM2596.9 2444.3v-47.7h1.3v47.7zM2598.2 2444.3v-43.5h1.3v43.5zM2599.5 2444.3v-39.5h1.3v39.5zM2600.9 2444.3v-49.1h1.3v49.1zM2602.2 2444.3v-45.1h1.3v45.1zM2603.5 2444.3v-39.1h1.3v39.1zM2604.9 2444.3v-43.2h1.3v43.2zM2606.2 2444.3v-43.0h1.3v43.0zM2607.5 2444.3v-36.2h1.3v36.2zM2608.9 2444.3v-51.6h1.3v51.6zM2610.2 2444.3v-32.7h1.3v32.7zM2611.5 2444.3v-45.1h1.3v45.1zM2612.8 2444.3v-35.7h1.3v35.7zM2614.2 2444.3v-41.7h1.3v41.7zM2615.5 2444.3v-40.5h1.3v40.5zM2616.8 2444.3v-43.3h1.3v43.3zM2618.2 2444.3v-52.9h1.3v52.9zM2619.5 2444.3v-38.9h1.3v38.9zM2620.8 2444.3v-46.0h1.3v46.0zM2622.2 2444.3v-44.9h1.3v44.9zM2623.5 2444.3v-43.9h1.3v43.9zM2624.8 2444.3v-34.1h1.3v34.1zM2626.2 2444.3v-42.1h1.3v42.1zM2627.5 2444.3v-30.7h1.3v30.7zM2628.8 2444.3v-50.0h1.3v50.0zM2630.1 2444.3v-52.4h1.3v52.4zM2631.5 2444.3v-43.3h1.3v43.3zM2632.8 2444.3v-45.8h1.3v45.8zM2634.1 2444.3v-42.0h1.3v42.0zM2635.5 2444.3v-29.5h1.3v29.5zM2636.8 2444.3v-40.0h1.3v40.0zM2638.1 2444.3v-48.6h1.3v48.6zM2639.5 2444.3v-41.6h1.3v41.6zM2640.8 2444.3v-36.5h1.3v36.5zM2642.1 2444.3v-22.0h1.3v22.0zM2643.5 2444.3v-49.5h1.3v49.5zM2644.8 2444.3v-53.5h1.3v53.5zM2646.1 2444.3v-54.2h1.3v54.2zM2647.5 2444.3v-59.9h1.3v59.9zM2648.8 2444.3v-27.0h1.3v27.0zM2650.1 2444.3v-42.3h1.3v42.3zM2651.4 2444.3v-46.8h1.3v46.8zM2652.8 2444.3v-38.3h1.3v38.3zM2654.1 2444.3v-43.8h1.3v43.8zM2655.4 2444.3v-50.2h1.3v50.2zM2656.8 2444.3v-38.1h1.3v38.1z" fill="#c4c4c4"/><path d="M2637.1 2422V2394M2591.4 2407V2394M2541.6 2430V2394M2639.0 2419V2394M2629.1 2406V2394M2627.7 2418V2394M2625.0 2420V2394M2554.2 2427V2394M2648.1 2420V2394M2529.3 2417V2394M2657.3 2417V2394M2590.5 2423V2394M2608.9 2418V2394M2590.0 2409V2394" stroke="#fff" stroke-width="0.9"/><polyline points="2518.5,2367.6 2518.5,2444.3 2664.6,2444.3" fill="none" stroke="#000" stroke-width="1.1"/><line x1="2538.3" y1="2444.3" x2="2538.3" y2="2447.3" stroke="#000" stroke-width="0.8"/><text x="2538.3" y="2455.3" font-size="7.8" text-anchor="middle" fill="#000">−0.04</text><line x1="2564.9" y1="2444.3" x2="2564.9" y2="2447.3" stroke="#000" stroke-width="0.8"/><text x="2564.9" y="2455.3" font-size="7.8" text-anchor="middle" fill="#000">−0.02</text><line x1="2591.6" y1="2444.3" x2="2591.6" y2="2447.3" stroke="#000" stroke-width="0.8"/><text x="2591.6" y="2455.3" font-size="7.8" text-anchor="middle" fill="#000">0.00</text><line x1="2618.2" y1="2444.3" x2="2618.2" y2="2447.3" stroke="#000" stroke-width="0.8"/><text x="2618.2" y="2455.3" font-size="7.8" text-anchor="middle" fill="#000">0.02</text><line x1="2644.8" y1="2444.3" x2="2644.8" y2="2447.3" stroke="#000" stroke-width="0.8"/><text x="2644.8" y="2455.3" font-size="7.8" text-anchor="middle" fill="#000">0.04</text><text x="2515.5" y="2447.3" font-size="7.8" text-anchor="end" fill="#000">0</text><text x="2515.5" y="2431.7" font-size="7.8" text-anchor="end" fill="#000">5</text><text x="2515.5" y="2416.1" font-size="7.8" text-anchor="end" fill="#000">10</text><text x="2515.5" y="2400.5" font-size="7.8" text-anchor="end" fill="#000">15</text><text x="2515.5" y="2384.8" font-size="7.8" text-anchor="end" fill="#000">20</text><text x="2591.6" y="2362.6" font-size="11.5" text-anchor="middle" fill="#000">Unit 3</text><text transform="translate(2495.5,2405.9) rotate(-90)" font-size="10" text-anchor="middle">Spike count</text><polyline points="2527.5,2387.6 2528.4,2387.6 2529.3,2387.6 2530.2,2387.6 2531.1,2387.6 2532.0,2387.6 2532.9,2387.6 2533.8,2387.9 2534.7,2388.7 2535.6,2389.2 2536.5,2388.5 2537.4,2387.5 2538.3,2387.0 2539.2,2386.8 2540.1,2386.9 2541.0,2387.2 2541.9,2387.4 2542.8,2387.6 2543.7,2387.6 2544.6,2387.6 2545.5,2387.6" fill="none" stroke="#d4c2ea" stroke-width="4" opacity="0.9"/><polyline points="2527.5,2387.6 2528.4,2387.6 2529.3,2387.6 2530.2,2387.6 2531.1,2387.6 2532.0,2387.6 2532.9,2387.6 2533.8,2387.9 2534.7,2388.7 2535.6,2389.2 2536.5,2388.5 2537.4,2387.5 2538.3,2387.0 2539.2,2386.8 2540.1,2386.9 2541.0,2387.2 2541.9,2387.4 2542.8,2387.6 2543.7,2387.6 2544.6,2387.6 2545.5,2387.6" fill="none" stroke="#6a3d9a" stroke-width="1.1"/><polyline points="2563.5,2387.6 2564.4,2387.6 2565.3,2387.6 2566.2,2387.6 2567.1,2387.6 2568.0,2387.6 2568.9,2387.6 2569.8,2387.9 2570.7,2388.7 2571.6,2389.2 2572.5,2388.5 2573.4,2387.5 2574.3,2387.0 2575.2,2386.8 2576.1,2386.9 2577.0,2387.2 2577.9,2387.4 2578.8,2387.6 2579.7,2387.6 2580.6,2387.6 2581.5,2387.6" fill="none" stroke="#d4c2ea" stroke-width="4" opacity="0.9"/><polyline points="2563.5,2387.6 2564.4,2387.6 2565.3,2387.6 2566.2,2387.6 2567.1,2387.6 2568.0,2387.6 2568.9,2387.6 2569.8,2387.9 2570.7,2388.7 2571.6,2389.2 2572.5,2388.5 2573.4,2387.5 2574.3,2387.0 2575.2,2386.8 2576.1,2386.9 2577.0,2387.2 2577.9,2387.4 2578.8,2387.6 2579.7,2387.6 2580.6,2387.6 2581.5,2387.6" fill="none" stroke="#6a3d9a" stroke-width="1.1"/><polyline points="2527.5,2426.3 2528.4,2426.3 2529.3,2426.3 2530.2,2426.3 2531.1,2426.3 2532.0,2426.3 2532.9,2426.5 2533.8,2427.8 2534.7,2431.1 2535.6,2433.3 2536.5,2430.4 2537.4,2426.0 2538.3,2423.5 2539.2,2422.7 2540.1,2423.3 2541.0,2424.5 2541.9,2425.5 2542.8,2426.1 2543.7,2426.3 2544.6,2426.3 2545.5,2426.3" fill="none" stroke="#d4c2ea" stroke-width="4" opacity="0.9"/><polyline points="2527.5,2426.3 2528.4,2426.3 2529.3,2426.3 2530.2,2426.3 2531.1,2426.3 2532.0,2426.3 2532.9,2426.5 2533.8,2427.8 2534.7,2431.1 2535.6,2433.3 2536.5,2430.4 2537.4,2426.0 2538.3,2423.5 2539.2,2422.7 2540.1,2423.3 2541.0,2424.5 2541.9,2425.5 2542.8,2426.1 2543.7,2426.3 2544.6,2426.3 2545.5,2426.3" fill="none" stroke="#6a3d9a" stroke-width="1.1"/><polyline points="2563.5,2426.3 2564.4,2426.3 2565.3,2426.3 2566.2,2426.3 2567.1,2426.3 2568.0,2426.3 2568.9,2426.3 2569.8,2426.6 2570.7,2427.4 2571.6,2427.9 2572.5,2427.2 2573.4,2426.2 2574.3,2425.7 2575.2,2425.5 2576.1,2425.6 2577.0,2425.9 2577.9,2426.1 2578.8,2426.3 2579.7,2426.3 2580.6,2426.3 2581.5,2426.3" fill="none" stroke="#d4c2ea" stroke-width="4" opacity="0.9"/><polyline points="2563.5,2426.3 2564.4,2426.3 2565.3,2426.3 2566.2,2426.3 2567.1,2426.3 2568.0,2426.3 2568.9,2426.3 2569.8,2426.6 2570.7,2427.4 2571.6,2427.9 2572.5,2427.2 2573.4,2426.2 2574.3,2425.7 2575.2,2425.5 2576.1,2425.6 2577.0,2425.9 2577.9,2426.1 2578.8,2426.3 2579.7,2426.3 2580.6,2426.3 2581.5,2426.3" fill="none" stroke="#6a3d9a" stroke-width="1.1"/><path d="M2686.0 2444.3v-39.0h1.3v39.0zM2687.3 2444.3v-35.4h1.3v35.4zM2688.7 2444.3v-34.5h1.3v34.5zM2690.0 2444.3v-40.2h1.3v40.2zM2691.4 2444.3v-44.6h1.3v44.6zM2692.7 2444.3v-56.1h1.3v56.1zM2694.0 2444.3v-41.4h1.3v41.4zM2695.4 2444.3v-52.5h1.3v52.5zM2696.7 2444.3v-43.4h1.3v43.4zM2698.1 2444.3v-33.8h1.3v33.8zM2699.4 2444.3v-44.1h1.3v44.1zM2700.7 2444.3v-40.5h1.3v40.5zM2702.1 2444.3v-33.3h1.3v33.3zM2703.4 2444.3v-31.3h1.3v31.3zM2704.8 2444.3v-34.2h1.3v34.2zM2706.1 2444.3v-47.3h1.3v47.3zM2707.4 2444.3v-45.1h1.3v45.1zM2708.8 2444.3v-48.5h1.3v48.5zM2710.1 2444.3v-42.3h1.3v42.3zM2711.5 2444.3v-28.1h1.3v28.1zM2712.8 2444.3v-31.6h1.3v31.6zM2714.1 2444.3v-36.4h1.3v36.4zM2715.5 2444.3v-45.3h1.3v45.3zM2716.8 2444.3v-40.0h1.3v40.0zM2718.2 2444.3v-37.7h1.3v37.7zM2719.5 2444.3v-41.4h1.3v41.4zM2720.8 2444.3v-55.4h1.3v55.4zM2722.2 2444.3v-47.6h1.3v47.6zM2723.5 2444.3v-36.3h1.3v36.3zM2724.9 2444.3v-31.8h1.3v31.8zM2726.2 2444.3v-34.7h1.3v34.7zM2727.5 2444.3v-27.0h1.3v27.0zM2728.9 2444.3v-35.1h1.3v35.1zM2730.2 2444.3v-34.4h1.3v34.4zM2731.6 2444.3v-25.6h1.3v25.6zM2732.9 2444.3v-51.3h1.3v51.3zM2734.2 2444.3v-43.7h1.3v43.7zM2735.6 2444.3v-38.8h1.3v38.8zM2736.9 2444.3v-44.0h1.3v44.0zM2738.3 2444.3v-30.9h1.3v30.9zM2739.6 2444.3v-34.0h1.3v34.0zM2740.9 2444.3v-48.7h1.3v48.7zM2742.3 2444.3v-38.1h1.3v38.1zM2743.6 2444.3v-51.2h1.3v51.2zM2745.0 2444.3v-31.3h1.3v31.3zM2746.3 2444.3v-36.6h1.3v36.6zM2747.6 2444.3v-53.9h1.3v53.9zM2749.0 2444.3v-45.1h1.3v45.1zM2755.7 2444.3v-51.1h1.3v51.1zM2757.0 2444.3v-36.7h1.3v36.7zM2758.4 2444.3v-36.9h1.3v36.9zM2759.7 2444.3v-50.5h1.3v50.5zM2761.0 2444.3v-46.3h1.3v46.3zM2762.4 2444.3v-45.7h1.3v45.7zM2763.7 2444.3v-35.5h1.3v35.5zM2765.1 2444.3v-46.3h1.3v46.3zM2766.4 2444.3v-39.2h1.3v39.2zM2767.7 2444.3v-42.4h1.3v42.4zM2769.1 2444.3v-35.2h1.3v35.2zM2770.4 2444.3v-41.9h1.3v41.9zM2771.8 2444.3v-42.7h1.3v42.7zM2773.1 2444.3v-45.4h1.3v45.4zM2774.4 2444.3v-40.9h1.3v40.9zM2775.8 2444.3v-40.9h1.3v40.9zM2777.1 2444.3v-42.2h1.3v42.2zM2778.5 2444.3v-39.5h1.3v39.5zM2779.8 2444.3v-45.5h1.3v45.5zM2781.1 2444.3v-35.4h1.3v35.4zM2782.5 2444.3v-45.2h1.3v45.2zM2783.8 2444.3v-44.9h1.3v44.9zM2785.2 2444.3v-37.6h1.3v37.6zM2786.5 2444.3v-39.8h1.3v39.8zM2787.8 2444.3v-39.1h1.3v39.1zM2789.2 2444.3v-39.7h1.3v39.7zM2790.5 2444.3v-36.6h1.3v36.6zM2791.9 2444.3v-50.3h1.3v50.3zM2793.2 2444.3v-42.3h1.3v42.3zM2794.5 2444.3v-36.3h1.3v36.3zM2795.9 2444.3v-25.9h1.3v25.9zM2797.2 2444.3v-49.2h1.3v49.2zM2798.6 2444.3v-38.5h1.3v38.5zM2799.9 2444.3v-43.1h1.3v43.1zM2801.2 2444.3v-40.2h1.3v40.2zM2802.6 2444.3v-53.7h1.3v53.7zM2803.9 2444.3v-34.2h1.3v34.2zM2805.3 2444.3v-48.3h1.3v48.3zM2806.6 2444.3v-48.8h1.3v48.8zM2807.9 2444.3v-36.2h1.3v36.2zM2809.3 2444.3v-42.4h1.3v42.4zM2810.6 2444.3v-47.4h1.3v47.4zM2812.0 2444.3v-36.3h1.3v36.3zM2813.3 2444.3v-46.9h1.3v46.9zM2814.6 2444.3v-25.7h1.3v25.7zM2816.0 2444.3v-27.4h1.3v27.4zM2817.3 2444.3v-36.8h1.3v36.8zM2818.7 2444.3v-32.3h1.3v32.3z" fill="#c4c4c4"/><path d="M2794.7 2421V2396M2711.9 2416V2396M2722.2 2430V2396M2738.1 2422V2396M2690.3 2426V2396M2814.8 2421V2396M2735.3 2423V2396M2779.6 2421V2396M2740.3 2419V2396M2722.9 2416V2396M2742.8 2415V2396M2732.7 2417V2396M2712.3 2422V2396M2752.0 2436V2396" stroke="#fff" stroke-width="0.9"/><polyline points="2679.5,2367.6 2679.5,2444.3 2826.5,2444.3" fill="none" stroke="#000" stroke-width="1.1"/><line x1="2699.4" y1="2444.3" x2="2699.4" y2="2447.3" stroke="#000" stroke-width="0.8"/><text x="2699.4" y="2455.3" font-size="7.8" text-anchor="middle" fill="#000">−0.04</text><line x1="2726.2" y1="2444.3" x2="2726.2" y2="2447.3" stroke="#000" stroke-width="0.8"/><text x="2726.2" y="2455.3" font-size="7.8" text-anchor="middle" fill="#000">−0.02</text><line x1="2753.0" y1="2444.3" x2="2753.0" y2="2447.3" stroke="#000" stroke-width="0.8"/><text x="2753.0" y="2455.3" font-size="7.8" text-anchor="middle" fill="#000">0.00</text><line x1="2779.8" y1="2444.3" x2="2779.8" y2="2447.3" stroke="#000" stroke-width="0.8"/><text x="2779.8" y="2455.3" font-size="7.8" text-anchor="middle" fill="#000">0.02</text><line x1="2806.6" y1="2444.3" x2="2806.6" y2="2447.3" stroke="#000" stroke-width="0.8"/><text x="2806.6" y="2455.3" font-size="7.8" text-anchor="middle" fill="#000">0.04</text><text x="2676.5" y="2447.3" font-size="7.8" text-anchor="end" fill="#000">0</text><text x="2676.5" y="2431.7" font-size="7.8" text-anchor="end" fill="#000">10</text><text x="2676.5" y="2416.1" font-size="7.8" text-anchor="end" fill="#000">20</text><text x="2676.5" y="2400.5" font-size="7.8" text-anchor="end" fill="#000">30</text><text x="2676.5" y="2384.8" font-size="7.8" text-anchor="end" fill="#000">40</text><text x="2753.0" y="2362.6" font-size="11.5" text-anchor="middle" fill="#000">Unit 4</text><polyline points="2688.5,2387.6 2689.4,2387.6 2690.3,2387.6 2691.2,2387.6 2692.1,2387.6 2693.0,2387.6 2693.9,2387.6 2694.8,2387.9 2695.7,2388.7 2696.6,2389.2 2697.5,2388.5 2698.4,2387.5 2699.3,2387.0 2700.2,2386.8 2701.1,2386.9 2702.0,2387.2 2702.9,2387.4 2703.8,2387.6 2704.7,2387.6 2705.6,2387.6 2706.5,2387.6" fill="none" stroke="#d4c2ea" stroke-width="4" opacity="0.9"/><polyline points="2688.5,2387.6 2689.4,2387.6 2690.3,2387.6 2691.2,2387.6 2692.1,2387.6 2693.0,2387.6 2693.9,2387.6 2694.8,2387.9 2695.7,2388.7 2696.6,2389.2 2697.5,2388.5 2698.4,2387.5 2699.3,2387.0 2700.2,2386.8 2701.1,2386.9 2702.0,2387.2 2702.9,2387.4 2703.8,2387.6 2704.7,2387.6 2705.6,2387.6 2706.5,2387.6" fill="none" stroke="#6a3d9a" stroke-width="1.1"/><polyline points="2724.5,2387.6 2725.4,2387.6 2726.3,2387.6 2727.2,2387.6 2728.1,2387.6 2729.0,2387.6 2729.9,2387.7 2730.8,2388.4 2731.7,2390.3 2732.6,2391.5 2733.5,2389.9 2734.4,2387.4 2735.3,2386.0 2736.2,2385.6 2737.1,2385.9 2738.0,2386.6 2738.9,2387.2 2739.8,2387.5 2740.7,2387.6 2741.6,2387.6 2742.5,2387.6" fill="none" stroke="#d4c2ea" stroke-width="4" opacity="0.9"/><polyline points="2724.5,2387.6 2725.4,2387.6 2726.3,2387.6 2727.2,2387.6 2728.1,2387.6 2729.0,2387.6 2729.9,2387.7 2730.8,2388.4 2731.7,2390.3 2732.6,2391.5 2733.5,2389.9 2734.4,2387.4 2735.3,2386.0 2736.2,2385.6 2737.1,2385.9 2738.0,2386.6 2738.9,2387.2 2739.8,2387.5 2740.7,2387.6 2741.6,2387.6 2742.5,2387.6" fill="none" stroke="#6a3d9a" stroke-width="1.1"/><polyline points="2688.5,2426.3 2689.4,2426.3 2690.3,2426.3 2691.2,2426.3 2692.1,2426.3 2693.0,2426.3 2693.9,2426.4 2694.8,2427.1 2695.7,2429.0 2696.6,2430.2 2697.5,2428.6 2698.4,2426.1 2699.3,2424.7 2700.2,2424.3 2701.1,2424.6 2702.0,2425.3 2702.9,2425.9 2703.8,2426.2 2704.7,2426.3 2705.6,2426.3 2706.5,2426.3" fill="none" stroke="#d4c2ea" stroke-width="4" opacity="0.9"/><polyline points="2688.5,2426.3 2689.4,2426.3 2690.3,2426.3 2691.2,2426.3 2692.1,2426.3 2693.0,2426.3 2693.9,2426.4 2694.8,2427.1 2695.7,2429.0 2696.6,2430.2 2697.5,2428.6 2698.4,2426.1 2699.3,2424.7 2700.2,2424.3 2701.1,2424.6 2702.0,2425.3 2702.9,2425.9 2703.8,2426.2 2704.7,2426.3 2705.6,2426.3 2706.5,2426.3" fill="none" stroke="#6a3d9a" stroke-width="1.1"/><polyline points="2724.5,2426.3 2725.4,2426.3 2726.3,2426.3 2727.2,2426.3 2728.1,2426.3 2729.0,2426.3 2729.9,2426.5 2730.8,2427.8 2731.7,2431.1 2732.6,2433.3 2733.5,2430.4 2734.4,2426.0 2735.3,2423.5 2736.2,2422.7 2737.1,2423.3 2738.0,2424.5 2738.9,2425.5 2739.8,2426.1 2740.7,2426.3 2741.6,2426.3 2742.5,2426.3" fill="none" stroke="#d4c2ea" stroke-width="4" opacity="0.9"/><polyline points="2724.5,2426.3 2725.4,2426.3 2726.3,2426.3 2727.2,2426.3 2728.1,2426.3 2729.0,2426.3 2729.9,2426.5 2730.8,2427.8 2731.7,2431.1 2732.6,2433.3 2733.5,2430.4 2734.4,2426.0 2735.3,2423.5 2736.2,2422.7 2737.1,2423.3 2738.0,2424.5 2738.9,2425.5 2739.8,2426.1 2740.7,2426.3 2741.6,2426.3 2742.5,2426.3" fill="none" stroke="#6a3d9a" stroke-width="1.1"/><path d="M2525.0 2559.2v-45.7h1.3v45.7zM2526.3 2559.2v-31.9h1.3v31.9zM2527.7 2559.2v-51.4h1.3v51.4zM2529.0 2559.2v-34.1h1.3v34.1zM2530.3 2559.2v-48.9h1.3v48.9zM2531.7 2559.2v-43.5h1.3v43.5zM2533.0 2559.2v-46.7h1.3v46.7zM2534.3 2559.2v-47.6h1.3v47.6zM2535.6 2559.2v-45.7h1.3v45.7zM2537.0 2559.2v-40.2h1.3v40.2zM2538.3 2559.2v-43.0h1.3v43.0zM2539.6 2559.2v-47.9h1.3v47.9zM2541.0 2559.2v-48.5h1.3v48.5zM2542.3 2559.2v-41.9h1.3v41.9zM2543.6 2559.2v-45.3h1.3v45.3zM2545.0 2559.2v-53.7h1.3v53.7zM2546.3 2559.2v-43.9h1.3v43.9zM2547.6 2559.2v-42.6h1.3v42.6zM2549.0 2559.2v-37.1h1.3v37.1zM2550.3 2559.2v-40.4h1.3v40.4zM2551.6 2559.2v-36.7h1.3v36.7zM2553.0 2559.2v-41.7h1.3v41.7zM2554.3 2559.2v-48.3h1.3v48.3zM2555.6 2559.2v-32.2h1.3v32.2zM2556.9 2559.2v-48.5h1.3v48.5zM2558.3 2559.2v-39.7h1.3v39.7zM2559.6 2559.2v-52.0h1.3v52.0zM2560.9 2559.2v-46.5h1.3v46.5zM2562.3 2559.2v-54.2h1.3v54.2zM2563.6 2559.2v-46.1h1.3v46.1zM2564.9 2559.2v-33.1h1.3v33.1zM2566.3 2559.2v-45.9h1.3v45.9zM2567.6 2559.2v-50.1h1.3v50.1zM2568.9 2559.2v-34.8h1.3v34.8zM2570.3 2559.2v-42.3h1.3v42.3zM2571.6 2559.2v-38.7h1.3v38.7zM2572.9 2559.2v-43.0h1.3v43.0zM2574.2 2559.2v-34.7h1.3v34.7zM2575.6 2559.2v-47.2h1.3v47.2zM2576.9 2559.2v-58.1h1.3v58.1zM2578.2 2559.2v-36.1h1.3v36.1zM2579.6 2559.2v-45.9h1.3v45.9zM2580.9 2559.2v-48.7h1.3v48.7zM2582.2 2559.2v-56.8h1.3v56.8zM2583.6 2559.2v-33.3h1.3v33.3zM2584.9 2559.2v-46.4h1.3v46.4zM2586.2 2559.2v-49.1h1.3v49.1zM2587.6 2559.2v-37.5h1.3v37.5zM2594.2 2559.2v-37.9h1.3v37.9zM2595.5 2559.2v-40.6h1.3v40.6zM2596.9 2559.2v-45.4h1.3v45.4zM2598.2 2559.2v-56.8h1.3v56.8zM2599.5 2559.2v-46.1h1.3v46.1zM2600.9 2559.2v-43.6h1.3v43.6zM2602.2 2559.2v-52.1h1.3v52.1zM2603.5 2559.2v-46.1h1.3v46.1zM2604.9 2559.2v-51.0h1.3v51.0zM2606.2 2559.2v-48.1h1.3v48.1zM2607.5 2559.2v-41.7h1.3v41.7zM2608.9 2559.2v-48.8h1.3v48.8zM2610.2 2559.2v-45.9h1.3v45.9zM2611.5 2559.2v-35.5h1.3v35.5zM2612.8 2559.2v-48.5h1.3v48.5zM2614.2 2559.2v-42.3h1.3v42.3zM2615.5 2559.2v-37.5h1.3v37.5zM2616.8 2559.2v-51.0h1.3v51.0zM2618.2 2559.2v-45.5h1.3v45.5zM2619.5 2559.2v-37.3h1.3v37.3zM2620.8 2559.2v-47.2h1.3v47.2zM2622.2 2559.2v-50.8h1.3v50.8zM2623.5 2559.2v-28.1h1.3v28.1zM2624.8 2559.2v-37.0h1.3v37.0zM2626.2 2559.2v-36.7h1.3v36.7zM2627.5 2559.2v-33.7h1.3v33.7zM2628.8 2559.2v-48.2h1.3v48.2zM2630.1 2559.2v-38.2h1.3v38.2zM2631.5 2559.2v-31.4h1.3v31.4zM2632.8 2559.2v-44.0h1.3v44.0zM2634.1 2559.2v-43.3h1.3v43.3zM2635.5 2559.2v-37.6h1.3v37.6zM2636.8 2559.2v-48.7h1.3v48.7zM2638.1 2559.2v-54.9h1.3v54.9zM2639.5 2559.2v-43.1h1.3v43.1zM2640.8 2559.2v-49.7h1.3v49.7zM2642.1 2559.2v-44.4h1.3v44.4zM2643.5 2559.2v-55.0h1.3v55.0zM2644.8 2559.2v-34.7h1.3v34.7zM2646.1 2559.2v-31.6h1.3v31.6zM2647.5 2559.2v-37.8h1.3v37.8zM2648.8 2559.2v-40.3h1.3v40.3zM2650.1 2559.2v-47.3h1.3v47.3zM2651.4 2559.2v-42.0h1.3v42.0zM2652.8 2559.2v-27.2h1.3v27.2zM2654.1 2559.2v-33.7h1.3v33.7zM2655.4 2559.2v-42.5h1.3v42.5zM2656.8 2559.2v-47.9h1.3v47.9z" fill="#c4c4c4"/><path d="M2540.1 2551V2506M2622.5 2539V2506M2634.2 2526V2506M2528.5 2542V2506M2560.1 2543V2506M2528.8 2544V2506M2570.2 2538V2506M2595.7 2521V2506M2539.4 2547V2506M2645.2 2543V2506M2596.7 2542V2506M2644.2 2523V2506M2600.9 2549V2506M2574.5 2530V2506" stroke="#fff" stroke-width="0.9"/><polyline points="2518.5,2482.5 2518.5,2559.2 2664.6,2559.2" fill="none" stroke="#000" stroke-width="1.1"/><line x1="2538.3" y1="2559.2" x2="2538.3" y2="2562.2" stroke="#000" stroke-width="0.8"/><text x="2538.3" y="2570.2" font-size="7.8" text-anchor="middle" fill="#000">−0.04</text><line x1="2564.9" y1="2559.2" x2="2564.9" y2="2562.2" stroke="#000" stroke-width="0.8"/><text x="2564.9" y="2570.2" font-size="7.8" text-anchor="middle" fill="#000">−0.02</text><line x1="2591.6" y1="2559.2" x2="2591.6" y2="2562.2" stroke="#000" stroke-width="0.8"/><text x="2591.6" y="2570.2" font-size="7.8" text-anchor="middle" fill="#000">0.00</text><line x1="2618.2" y1="2559.2" x2="2618.2" y2="2562.2" stroke="#000" stroke-width="0.8"/><text x="2618.2" y="2570.2" font-size="7.8" text-anchor="middle" fill="#000">0.02</text><line x1="2644.8" y1="2559.2" x2="2644.8" y2="2562.2" stroke="#000" stroke-width="0.8"/><text x="2644.8" y="2570.2" font-size="7.8" text-anchor="middle" fill="#000">0.04</text><text x="2515.5" y="2562.2" font-size="7.8" text-anchor="end" fill="#000">0</text><text x="2515.5" y="2542.0" font-size="7.8" text-anchor="end" fill="#000">20</text><text x="2515.5" y="2521.8" font-size="7.8" text-anchor="end" fill="#000">40</text><text x="2515.5" y="2501.6" font-size="7.8" text-anchor="end" fill="#000">60</text><text x="2591.6" y="2477.5" font-size="11.5" text-anchor="middle" fill="#000">Unit 5</text><text transform="translate(2495.5,2520.8) rotate(-90)" font-size="10" text-anchor="middle">Spike count</text><polyline points="2527.5,2502.5 2528.4,2502.5 2529.3,2502.5 2530.2,2502.5 2531.1,2502.5 2532.0,2502.5 2532.9,2502.7 2533.8,2504.0 2534.7,2507.3 2535.6,2509.5 2536.5,2506.6 2537.4,2502.2 2538.3,2499.7 2539.2,2498.9 2540.1,2499.5 2541.0,2500.7 2541.9,2501.7 2542.8,2502.3 2543.7,2502.5 2544.6,2502.5 2545.5,2502.5" fill="none" stroke="#d4c2ea" stroke-width="4" opacity="0.9"/><polyline points="2527.5,2502.5 2528.4,2502.5 2529.3,2502.5 2530.2,2502.5 2531.1,2502.5 2532.0,2502.5 2532.9,2502.7 2533.8,2504.0 2534.7,2507.3 2535.6,2509.5 2536.5,2506.6 2537.4,2502.2 2538.3,2499.7 2539.2,2498.9 2540.1,2499.5 2541.0,2500.7 2541.9,2501.7 2542.8,2502.3 2543.7,2502.5 2544.6,2502.5 2545.5,2502.5" fill="none" stroke="#6a3d9a" stroke-width="1.1"/><polyline points="2563.5,2502.5 2564.4,2502.5 2565.3,2502.5 2566.2,2502.5 2567.1,2502.5 2568.0,2502.5 2568.9,2502.6 2569.8,2503.3 2570.7,2505.2 2571.6,2506.4 2572.5,2504.8 2573.4,2502.3 2574.3,2500.9 2575.2,2500.5 2576.1,2500.8 2577.0,2501.5 2577.9,2502.1 2578.8,2502.4 2579.7,2502.5 2580.6,2502.5 2581.5,2502.5" fill="none" stroke="#d4c2ea" stroke-width="4" opacity="0.9"/><polyline points="2563.5,2502.5 2564.4,2502.5 2565.3,2502.5 2566.2,2502.5 2567.1,2502.5 2568.0,2502.5 2568.9,2502.6 2569.8,2503.3 2570.7,2505.2 2571.6,2506.4 2572.5,2504.8 2573.4,2502.3 2574.3,2500.9 2575.2,2500.5 2576.1,2500.8 2577.0,2501.5 2577.9,2502.1 2578.8,2502.4 2579.7,2502.5 2580.6,2502.5 2581.5,2502.5" fill="none" stroke="#6a3d9a" stroke-width="1.1"/><polyline points="2527.5,2541.2 2528.4,2541.2 2529.3,2541.2 2530.2,2541.2 2531.1,2541.2 2532.0,2541.2 2532.9,2541.3 2533.8,2542.0 2534.7,2543.9 2535.6,2545.1 2536.5,2543.5 2537.4,2541.0 2538.3,2539.6 2539.2,2539.2 2540.1,2539.5 2541.0,2540.2 2541.9,2540.8 2542.8,2541.1 2543.7,2541.2 2544.6,2541.2 2545.5,2541.2" fill="none" stroke="#d4c2ea" stroke-width="4" opacity="0.9"/><polyline points="2527.5,2541.2 2528.4,2541.2 2529.3,2541.2 2530.2,2541.2 2531.1,2541.2 2532.0,2541.2 2532.9,2541.3 2533.8,2542.0 2534.7,2543.9 2535.6,2545.1 2536.5,2543.5 2537.4,2541.0 2538.3,2539.6 2539.2,2539.2 2540.1,2539.5 2541.0,2540.2 2541.9,2540.8 2542.8,2541.1 2543.7,2541.2 2544.6,2541.2 2545.5,2541.2" fill="none" stroke="#6a3d9a" stroke-width="1.1"/><polyline points="2563.5,2541.2 2564.4,2541.2 2565.3,2541.2 2566.2,2541.2 2567.1,2541.2 2568.0,2541.2 2568.9,2541.3 2569.8,2542.0 2570.7,2543.9 2571.6,2545.1 2572.5,2543.5 2573.4,2541.0 2574.3,2539.6 2575.2,2539.2 2576.1,2539.5 2577.0,2540.2 2577.9,2540.8 2578.8,2541.1 2579.7,2541.2 2580.6,2541.2 2581.5,2541.2" fill="none" stroke="#d4c2ea" stroke-width="4" opacity="0.9"/><polyline points="2563.5,2541.2 2564.4,2541.2 2565.3,2541.2 2566.2,2541.2 2567.1,2541.2 2568.0,2541.2 2568.9,2541.3 2569.8,2542.0 2570.7,2543.9 2571.6,2545.1 2572.5,2543.5 2573.4,2541.0 2574.3,2539.6 2575.2,2539.2 2576.1,2539.5 2577.0,2540.2 2577.9,2540.8 2578.8,2541.1 2579.7,2541.2 2580.6,2541.2 2581.5,2541.2" fill="none" stroke="#6a3d9a" stroke-width="1.1"/><path d="M2686.0 2559.2v-46.6h1.3v46.6zM2687.3 2559.2v-37.2h1.3v37.2zM2688.7 2559.2v-49.0h1.3v49.0zM2690.0 2559.2v-42.7h1.3v42.7zM2691.4 2559.2v-54.4h1.3v54.4zM2692.7 2559.2v-49.0h1.3v49.0zM2694.0 2559.2v-46.2h1.3v46.2zM2695.4 2559.2v-43.8h1.3v43.8zM2696.7 2559.2v-53.1h1.3v53.1zM2698.1 2559.2v-33.3h1.3v33.3zM2699.4 2559.2v-48.3h1.3v48.3zM2700.7 2559.2v-46.0h1.3v46.0zM2702.1 2559.2v-43.7h1.3v43.7zM2703.4 2559.2v-40.9h1.3v40.9zM2704.8 2559.2v-46.3h1.3v46.3zM2706.1 2559.2v-37.7h1.3v37.7zM2707.4 2559.2v-34.6h1.3v34.6zM2708.8 2559.2v-49.7h1.3v49.7zM2710.1 2559.2v-38.6h1.3v38.6zM2711.5 2559.2v-40.4h1.3v40.4zM2712.8 2559.2v-42.5h1.3v42.5zM2714.1 2559.2v-45.6h1.3v45.6zM2715.5 2559.2v-40.3h1.3v40.3zM2716.8 2559.2v-42.4h1.3v42.4zM2718.2 2559.2v-27.3h1.3v27.3zM2719.5 2559.2v-32.1h1.3v32.1zM2720.8 2559.2v-43.4h1.3v43.4zM2722.2 2559.2v-47.4h1.3v47.4zM2723.5 2559.2v-39.7h1.3v39.7zM2724.9 2559.2v-37.5h1.3v37.5zM2726.2 2559.2v-35.9h1.3v35.9zM2727.5 2559.2v-39.5h1.3v39.5zM2728.9 2559.2v-42.5h1.3v42.5zM2730.2 2559.2v-37.9h1.3v37.9zM2731.6 2559.2v-39.6h1.3v39.6zM2732.9 2559.2v-35.8h1.3v35.8zM2734.2 2559.2v-38.0h1.3v38.0zM2735.6 2559.2v-27.2h1.3v27.2zM2736.9 2559.2v-26.3h1.3v26.3zM2738.3 2559.2v-38.5h1.3v38.5zM2739.6 2559.2v-43.4h1.3v43.4zM2740.9 2559.2v-37.6h1.3v37.6zM2742.3 2559.2v-34.2h1.3v34.2zM2743.6 2559.2v-44.7h1.3v44.7zM2745.0 2559.2v-32.9h1.3v32.9zM2746.3 2559.2v-27.3h1.3v27.3zM2747.6 2559.2v-27.6h1.3v27.6zM2749.0 2559.2v-29.5h1.3v29.5zM2755.7 2559.2v-34.1h1.3v34.1zM2757.0 2559.2v-32.6h1.3v32.6zM2758.4 2559.2v-39.5h1.3v39.5zM2759.7 2559.2v-44.9h1.3v44.9zM2761.0 2559.2v-38.5h1.3v38.5zM2762.4 2559.2v-28.5h1.3v28.5zM2763.7 2559.2v-39.9h1.3v39.9zM2765.1 2559.2v-45.1h1.3v45.1zM2766.4 2559.2v-35.3h1.3v35.3zM2767.7 2559.2v-24.5h1.3v24.5zM2769.1 2559.2v-37.7h1.3v37.7zM2770.4 2559.2v-43.8h1.3v43.8zM2771.8 2559.2v-41.8h1.3v41.8zM2773.1 2559.2v-48.9h1.3v48.9zM2774.4 2559.2v-36.0h1.3v36.0zM2775.8 2559.2v-46.8h1.3v46.8zM2777.1 2559.2v-32.5h1.3v32.5zM2778.5 2559.2v-41.6h1.3v41.6zM2779.8 2559.2v-26.6h1.3v26.6zM2781.1 2559.2v-36.0h1.3v36.0zM2782.5 2559.2v-37.9h1.3v37.9zM2783.8 2559.2v-35.1h1.3v35.1zM2785.2 2559.2v-50.7h1.3v50.7zM2786.5 2559.2v-42.2h1.3v42.2zM2787.8 2559.2v-37.4h1.3v37.4zM2789.2 2559.2v-32.4h1.3v32.4zM2790.5 2559.2v-38.2h1.3v38.2zM2791.9 2559.2v-40.0h1.3v40.0zM2793.2 2559.2v-43.9h1.3v43.9zM2794.5 2559.2v-48.3h1.3v48.3zM2795.9 2559.2v-35.4h1.3v35.4zM2797.2 2559.2v-39.0h1.3v39.0zM2798.6 2559.2v-44.6h1.3v44.6zM2799.9 2559.2v-42.6h1.3v42.6zM2801.2 2559.2v-57.8h1.3v57.8zM2802.6 2559.2v-44.1h1.3v44.1zM2803.9 2559.2v-44.5h1.3v44.5zM2805.3 2559.2v-41.2h1.3v41.2zM2806.6 2559.2v-30.0h1.3v30.0zM2807.9 2559.2v-51.8h1.3v51.8zM2809.3 2559.2v-40.9h1.3v40.9zM2810.6 2559.2v-43.1h1.3v43.1zM2812.0 2559.2v-50.8h1.3v50.8zM2813.3 2559.2v-42.5h1.3v42.5zM2814.6 2559.2v-51.2h1.3v51.2zM2816.0 2559.2v-35.9h1.3v35.9zM2817.3 2559.2v-43.4h1.3v43.4zM2818.7 2559.2v-45.0h1.3v45.0z" fill="#c4c4c4"/><path d="M2756.4 2536V2504M2780.0 2531V2504M2785.7 2530V2504M2715.3 2525V2504M2723.4 2521V2504M2748.0 2522V2504M2733.7 2537V2504M2781.3 2521V2504M2758.0 2539V2504M2718.9 2544V2504M2735.5 2526V2504M2792.7 2543V2504M2692.8 2551V2504M2778.4 2540V2504" stroke="#fff" stroke-width="0.9"/><polyline points="2679.5,2482.5 2679.5,2559.2 2826.5,2559.2" fill="none" stroke="#000" stroke-width="1.1"/><line x1="2699.4" y1="2559.2" x2="2699.4" y2="2562.2" stroke="#000" stroke-width="0.8"/><text x="2699.4" y="2570.2" font-size="7.8" text-anchor="middle" fill="#000">−0.04</text><line x1="2726.2" y1="2559.2" x2="2726.2" y2="2562.2" stroke="#000" stroke-width="0.8"/><text x="2726.2" y="2570.2" font-size="7.8" text-anchor="middle" fill="#000">−0.02</text><line x1="2753.0" y1="2559.2" x2="2753.0" y2="2562.2" stroke="#000" stroke-width="0.8"/><text x="2753.0" y="2570.2" font-size="7.8" text-anchor="middle" fill="#000">0.00</text><line x1="2779.8" y1="2559.2" x2="2779.8" y2="2562.2" stroke="#000" stroke-width="0.8"/><text x="2779.8" y="2570.2" font-size="7.8" text-anchor="middle" fill="#000">0.02</text><line x1="2806.6" y1="2559.2" x2="2806.6" y2="2562.2" stroke="#000" stroke-width="0.8"/><text x="2806.6" y="2570.2" font-size="7.8" text-anchor="middle" fill="#000">0.04</text><text x="2676.5" y="2562.2" font-size="7.8" text-anchor="end" fill="#000">0</text><text x="2676.5" y="2533.6" font-size="7.8" text-anchor="end" fill="#000">10</text><text x="2676.5" y="2504.9" font-size="7.8" text-anchor="end" fill="#000">20</text><text x="2753.0" y="2477.5" font-size="11.5" text-anchor="middle" fill="#000">Unit 6</text><polyline points="2688.5,2502.5 2689.4,2502.5 2690.3,2502.5 2691.2,2502.5 2692.1,2502.5 2693.0,2502.5 2693.9,2502.6 2694.8,2503.3 2695.7,2505.2 2696.6,2506.4 2697.5,2504.8 2698.4,2502.3 2699.3,2500.9 2700.2,2500.5 2701.1,2500.8 2702.0,2501.5 2702.9,2502.1 2703.8,2502.4 2704.7,2502.5 2705.6,2502.5 2706.5,2502.5" fill="none" stroke="#d4c2ea" stroke-width="4" opacity="0.9"/><polyline points="2688.5,2502.5 2689.4,2502.5 2690.3,2502.5 2691.2,2502.5 2692.1,2502.5 2693.0,2502.5 2693.9,2502.6 2694.8,2503.3 2695.7,2505.2 2696.6,2506.4 2697.5,2504.8 2698.4,2502.3 2699.3,2500.9 2700.2,2500.5 2701.1,2500.8 2702.0,2501.5 2702.9,2502.1 2703.8,2502.4 2704.7,2502.5 2705.6,2502.5 2706.5,2502.5" fill="none" stroke="#6a3d9a" stroke-width="1.1"/><polyline points="2724.5,2502.5 2725.4,2502.5 2726.3,2502.5 2727.2,2502.5 2728.1,2502.5 2729.0,2502.5 2729.9,2502.6 2730.8,2503.3 2731.7,2505.2 2732.6,2506.4 2733.5,2504.8 2734.4,2502.3 2735.3,2500.9 2736.2,2500.5 2737.1,2500.8 2738.0,2501.5 2738.9,2502.1 2739.8,2502.4 2740.7,2502.5 2741.6,2502.5 2742.5,2502.5" fill="none" stroke="#d4c2ea" stroke-width="4" opacity="0.9"/><polyline points="2724.5,2502.5 2725.4,2502.5 2726.3,2502.5 2727.2,2502.5 2728.1,2502.5 2729.0,2502.5 2729.9,2502.6 2730.8,2503.3 2731.7,2505.2 2732.6,2506.4 2733.5,2504.8 2734.4,2502.3 2735.3,2500.9 2736.2,2500.5 2737.1,2500.8 2738.0,2501.5 2738.9,2502.1 2739.8,2502.4 2740.7,2502.5 2741.6,2502.5 2742.5,2502.5" fill="none" stroke="#6a3d9a" stroke-width="1.1"/><polyline points="2688.5,2541.2 2689.4,2541.2 2690.3,2541.2 2691.2,2541.2 2692.1,2541.2 2693.0,2541.2 2693.9,2541.2 2694.8,2541.5 2695.7,2542.3 2696.6,2542.8 2697.5,2542.1 2698.4,2541.1 2699.3,2540.6 2700.2,2540.4 2701.1,2540.5 2702.0,2540.8 2702.9,2541.0 2703.8,2541.2 2704.7,2541.2 2705.6,2541.2 2706.5,2541.2" fill="none" stroke="#d4c2ea" stroke-width="4" opacity="0.9"/><polyline points="2688.5,2541.2 2689.4,2541.2 2690.3,2541.2 2691.2,2541.2 2692.1,2541.2 2693.0,2541.2 2693.9,2541.2 2694.8,2541.5 2695.7,2542.3 2696.6,2542.8 2697.5,2542.1 2698.4,2541.1 2699.3,2540.6 2700.2,2540.4 2701.1,2540.5 2702.0,2540.8 2702.9,2541.0 2703.8,2541.2 2704.7,2541.2 2705.6,2541.2 2706.5,2541.2" fill="none" stroke="#6a3d9a" stroke-width="1.1"/><polyline points="2724.5,2541.2 2725.4,2541.2 2726.3,2541.2 2727.2,2541.2 2728.1,2541.2 2729.0,2541.2 2729.9,2541.3 2730.8,2542.0 2731.7,2543.9 2732.6,2545.1 2733.5,2543.5 2734.4,2541.0 2735.3,2539.6 2736.2,2539.2 2737.1,2539.5 2738.0,2540.2 2738.9,2540.8 2739.8,2541.1 2740.7,2541.2 2741.6,2541.2 2742.5,2541.2" fill="none" stroke="#d4c2ea" stroke-width="4" opacity="0.9"/><polyline points="2724.5,2541.2 2725.4,2541.2 2726.3,2541.2 2727.2,2541.2 2728.1,2541.2 2729.0,2541.2 2729.9,2541.3 2730.8,2542.0 2731.7,2543.9 2732.6,2545.1 2733.5,2543.5 2734.4,2541.0 2735.3,2539.6 2736.2,2539.2 2737.1,2539.5 2738.0,2540.2 2738.9,2540.8 2739.8,2541.1 2740.7,2541.2 2741.6,2541.2 2742.5,2541.2" fill="none" stroke="#6a3d9a" stroke-width="1.1"/><circle cx="1624.6" cy="2707" r="13.5" fill="none" stroke="#bbb" stroke-width="0.8" stroke-dasharray="1.5 1.5"/><circle cx="1624.6" cy="2707" r="27.0" fill="none" stroke="#bbb" stroke-width="0.8" stroke-dasharray="1.5 1.5"/><circle cx="1624.6" cy="2707" r="40.5" fill="none" stroke="#bbb" stroke-width="0.8" stroke-dasharray="1.5 1.5"/><circle cx="1624.6" cy="2707" r="53.7" fill="none" stroke="#bbb" stroke-width="0.8" stroke-dasharray="1.5 1.5"/><circle cx="1624.6" cy="2707" r="67.7" fill="none" stroke="#bbb" stroke-width="0.8" stroke-dasharray="1.5 1.5"/><line x1="1542.0" y1="2707" x2="1707.1" y2="2707" stroke="#bbb" stroke-width="0.8" stroke-dasharray="1.5 1.5"/><line x1="1624.6" y1="2624.4" x2="1624.6" y2="2789.6" stroke="#bbb" stroke-width="0.8" stroke-dasharray="1.5 1.5"/><polygon points="1624.6,2707.0 1643.3,2688.3 1624.6,2656.6 1607.1,2689.5 1612.2,2707.0 1622.3,2709.3 1624.6,2786.3 1666.1,2748.5" fill="#3a6fd8" fill-opacity="0.1" stroke="#2f62d0" stroke-width="2" stroke-linejoin="miter"/><circle cx="1624.6" cy="2707" r="82.6" fill="none" stroke="#000" stroke-width="1.2"/><text x="1624.6" y="2593.5" font-size="12" text-anchor="middle" fill="#000">Unit 1</text><text x="1624.6" y="2612.4" font-size="10.5" text-anchor="middle" fill="#000">90°</text><text x="1624.6" y="2807.3" font-size="10.5" text-anchor="middle" fill="#000">270°</text><text x="1539.0" y="2710.5" font-size="10.5" text-anchor="end" fill="#000">180°</text><text x="1710.2" y="2710.5" font-size="10.5" text-anchor="start" fill="#000">0°</text><text x="1545.0" y="2817.2" font-size="10.5" text-anchor="start" fill="#000">gOSI: 0.51</text><circle cx="1839.9" cy="2707" r="13.5" fill="none" stroke="#bbb" stroke-width="0.8" stroke-dasharray="1.5 1.5"/><circle cx="1839.9" cy="2707" r="27.0" fill="none" stroke="#bbb" stroke-width="0.8" stroke-dasharray="1.5 1.5"/><circle cx="1839.9" cy="2707" r="40.5" fill="none" stroke="#bbb" stroke-width="0.8" stroke-dasharray="1.5 1.5"/><circle cx="1839.9" cy="2707" r="53.7" fill="none" stroke="#bbb" stroke-width="0.8" stroke-dasharray="1.5 1.5"/><circle cx="1839.9" cy="2707" r="67.7" fill="none" stroke="#bbb" stroke-width="0.8" stroke-dasharray="1.5 1.5"/><line x1="1757.3" y1="2707" x2="1922.5" y2="2707" stroke="#bbb" stroke-width="0.8" stroke-dasharray="1.5 1.5"/><line x1="1839.9" y1="2624.4" x2="1839.9" y2="2789.6" stroke="#bbb" stroke-width="0.8" stroke-dasharray="1.5 1.5"/><polygon points="1866.3,2707.0 1871.4,2675.5 1839.9,2707.0 1800.2,2667.3 1773.8,2707.0 1783.8,2763.1 1839.9,2722.7 1869.7,2736.8" fill="#3a6fd8" fill-opacity="0.1" stroke="#2f62d0" stroke-width="2" stroke-linejoin="miter"/><circle cx="1839.9" cy="2707" r="82.6" fill="none" stroke="#000" stroke-width="1.2"/><text x="1839.9" y="2593.5" font-size="12" text-anchor="middle" fill="#000">Unit 2</text><text x="1839.9" y="2612.4" font-size="10.5" text-anchor="middle" fill="#000">90°</text><text x="1839.9" y="2807.3" font-size="10.5" text-anchor="middle" fill="#000">270°</text><text x="1754.3" y="2710.5" font-size="10.5" text-anchor="end" fill="#000">180°</text><text x="1925.5" y="2710.5" font-size="10.5" text-anchor="start" fill="#000">0°</text><text x="1760.3" y="2817.2" font-size="10.5" text-anchor="start" fill="#000">gOSI: 0.25</text><circle cx="2055.4" cy="2707" r="13.5" fill="none" stroke="#bbb" stroke-width="0.8" stroke-dasharray="1.5 1.5"/><circle cx="2055.4" cy="2707" r="27.0" fill="none" stroke="#bbb" stroke-width="0.8" stroke-dasharray="1.5 1.5"/><circle cx="2055.4" cy="2707" r="40.5" fill="none" stroke="#bbb" stroke-width="0.8" stroke-dasharray="1.5 1.5"/><circle cx="2055.4" cy="2707" r="53.7" fill="none" stroke="#bbb" stroke-width="0.8" stroke-dasharray="1.5 1.5"/><circle cx="2055.4" cy="2707" r="67.7" fill="none" stroke="#bbb" stroke-width="0.8" stroke-dasharray="1.5 1.5"/><line x1="1972.8" y1="2707" x2="2138.0" y2="2707" stroke="#bbb" stroke-width="0.8" stroke-dasharray="1.5 1.5"/><line x1="2055.4" y1="2624.4" x2="2055.4" y2="2789.6" stroke="#bbb" stroke-width="0.8" stroke-dasharray="1.5 1.5"/><polygon points="2103.3,2707.0 2091.6,2670.8 2055.4,2663.2 2023.9,2675.5 2021.5,2707.0 2055.4,2707.0 2055.4,2786.3 2074.1,2725.7" fill="#3a6fd8" fill-opacity="0.1" stroke="#2f62d0" stroke-width="2" stroke-linejoin="miter"/><circle cx="2055.4" cy="2707" r="82.6" fill="none" stroke="#000" stroke-width="1.2"/><text x="2055.4" y="2593.5" font-size="12" text-anchor="middle" fill="#000">Unit 3</text><text x="2055.4" y="2612.4" font-size="10.5" text-anchor="middle" fill="#000">90°</text><text x="2055.4" y="2807.3" font-size="10.5" text-anchor="middle" fill="#000">270°</text><text x="1969.8" y="2710.5" font-size="10.5" text-anchor="end" fill="#000">180°</text><text x="2141.0" y="2710.5" font-size="10.5" text-anchor="start" fill="#000">0°</text><text x="1975.8" y="2817.2" font-size="10.5" text-anchor="start" fill="#000">gOSI: 0.14</text><circle cx="2270" cy="2707" r="13.5" fill="none" stroke="#bbb" stroke-width="0.8" stroke-dasharray="1.5 1.5"/><circle cx="2270" cy="2707" r="27.0" fill="none" stroke="#bbb" stroke-width="0.8" stroke-dasharray="1.5 1.5"/><circle cx="2270" cy="2707" r="40.5" fill="none" stroke="#bbb" stroke-width="0.8" stroke-dasharray="1.5 1.5"/><circle cx="2270" cy="2707" r="53.7" fill="none" stroke="#bbb" stroke-width="0.8" stroke-dasharray="1.5 1.5"/><circle cx="2270" cy="2707" r="67.7" fill="none" stroke="#bbb" stroke-width="0.8" stroke-dasharray="1.5 1.5"/><line x1="2187.4" y1="2707" x2="2352.6" y2="2707" stroke="#bbb" stroke-width="0.8" stroke-dasharray="1.5 1.5"/><line x1="2270" y1="2624.4" x2="2270" y2="2789.6" stroke="#bbb" stroke-width="0.8" stroke-dasharray="1.5 1.5"/><polygon points="2349.3,2707.0 2284.6,2692.4 2270.0,2694.6 2222.1,2659.1 2211.4,2707.0 2237.3,2739.7 2270.0,2707.0 2303.9,2740.9" fill="#3a6fd8" fill-opacity="0.1" stroke="#2f62d0" stroke-width="2" stroke-linejoin="miter"/><circle cx="2270" cy="2707" r="82.6" fill="none" stroke="#000" stroke-width="1.2"/><text x="2270.0" y="2593.5" font-size="12" text-anchor="middle" fill="#000">Unit 4</text><text x="2270.0" y="2612.4" font-size="10.5" text-anchor="middle" fill="#000">90°</text><text x="2270.0" y="2807.3" font-size="10.5" text-anchor="middle" fill="#000">270°</text><text x="2184.4" y="2710.5" font-size="10.5" text-anchor="end" fill="#000">180°</text><text x="2355.6" y="2710.5" font-size="10.5" text-anchor="start" fill="#000">0°</text><text x="2190.4" y="2817.2" font-size="10.5" text-anchor="start" fill="#000">gOSI: 0.40</text><circle cx="2485.2" cy="2707" r="13.5" fill="none" stroke="#bbb" stroke-width="0.8" stroke-dasharray="1.5 1.5"/><circle cx="2485.2" cy="2707" r="27.0" fill="none" stroke="#bbb" stroke-width="0.8" stroke-dasharray="1.5 1.5"/><circle cx="2485.2" cy="2707" r="40.5" fill="none" stroke="#bbb" stroke-width="0.8" stroke-dasharray="1.5 1.5"/><circle cx="2485.2" cy="2707" r="53.7" fill="none" stroke="#bbb" stroke-width="0.8" stroke-dasharray="1.5 1.5"/><circle cx="2485.2" cy="2707" r="67.7" fill="none" stroke="#bbb" stroke-width="0.8" stroke-dasharray="1.5 1.5"/><line x1="2402.6" y1="2707" x2="2567.7" y2="2707" stroke="#bbb" stroke-width="0.8" stroke-dasharray="1.5 1.5"/><line x1="2485.2" y1="2624.4" x2="2485.2" y2="2789.6" stroke="#bbb" stroke-width="0.8" stroke-dasharray="1.5 1.5"/><polygon points="2538.1,2707.0 2540.7,2651.5 2485.2,2693.8 2435.6,2657.4 2468.7,2707.0 2447.8,2744.4 2485.2,2707.0 2516.7,2738.5" fill="#3a6fd8" fill-opacity="0.1" stroke="#2f62d0" stroke-width="2" stroke-linejoin="miter"/><circle cx="2485.2" cy="2707" r="82.6" fill="none" stroke="#000" stroke-width="1.2"/><text x="2485.2" y="2593.5" font-size="12" text-anchor="middle" fill="#000">Unit 5</text><text x="2485.2" y="2612.4" font-size="10.5" text-anchor="middle" fill="#000">90°</text><text x="2485.2" y="2807.3" font-size="10.5" text-anchor="middle" fill="#000">270°</text><text x="2399.6" y="2710.5" font-size="10.5" text-anchor="end" fill="#000">180°</text><text x="2570.8" y="2710.5" font-size="10.5" text-anchor="start" fill="#000">0°</text><text x="2405.6" y="2817.2" font-size="10.5" text-anchor="start" fill="#000">gOSI: 0.18</text><circle cx="2700.5" cy="2707" r="13.5" fill="none" stroke="#bbb" stroke-width="0.8" stroke-dasharray="1.5 1.5"/><circle cx="2700.5" cy="2707" r="27.0" fill="none" stroke="#bbb" stroke-width="0.8" stroke-dasharray="1.5 1.5"/><circle cx="2700.5" cy="2707" r="40.5" fill="none" stroke="#bbb" stroke-width="0.8" stroke-dasharray="1.5 1.5"/><circle cx="2700.5" cy="2707" r="53.7" fill="none" stroke="#bbb" stroke-width="0.8" stroke-dasharray="1.5 1.5"/><circle cx="2700.5" cy="2707" r="67.7" fill="none" stroke="#bbb" stroke-width="0.8" stroke-dasharray="1.5 1.5"/><line x1="2617.9" y1="2707" x2="2783.1" y2="2707" stroke="#bbb" stroke-width="0.8" stroke-dasharray="1.5 1.5"/><line x1="2700.5" y1="2624.4" x2="2700.5" y2="2789.6" stroke="#bbb" stroke-width="0.8" stroke-dasharray="1.5 1.5"/><polygon points="2760.0,2707.0 2756.6,2650.9 2700.5,2685.5 2683.6,2690.1 2663.3,2707.0 2656.1,2751.4 2700.5,2751.6 2700.5,2707.0" fill="#3a6fd8" fill-opacity="0.1" stroke="#2f62d0" stroke-width="2" stroke-linejoin="miter"/><circle cx="2700.5" cy="2707" r="82.6" fill="none" stroke="#000" stroke-width="1.2"/><text x="2700.5" y="2593.5" font-size="12" text-anchor="middle" fill="#000">Unit 6</text><text x="2700.5" y="2612.4" font-size="10.5" text-anchor="middle" fill="#000">90°</text><text x="2700.5" y="2807.3" font-size="10.5" text-anchor="middle" fill="#000">270°</text><text x="2614.9" y="2710.5" font-size="10.5" text-anchor="end" fill="#000">180°</text><text x="2786.1" y="2710.5" font-size="10.5" text-anchor="start" fill="#000">0°</text><text x="2620.9" y="2817.2" font-size="10.5" text-anchor="start" fill="#000">gOSI: 0.37</text></svg><!-- col3.html --><svg class="sv" style="left:0;top:0" width="4283" height="2880" viewBox="0 0 4283 2880" font-family="Liberation Serif" text-anchor="middle"><rect x="1481" y="1523" width="1301" height="47" fill="#ddd5ee"/><rect x="1481" y="1642.7" width="1301" height="47.3" fill="#ddd5ee"/><rect x="1481" y="1387.2" width="1301" height="3.5" fill="#000"/><rect x="1481" y="1459.7" width="1301" height="2.5" fill="#000"/><rect x="1481" y="1578.7" width="1301" height="2.5" fill="#000"/><rect x="1481" y="1698.2" width="1301" height="3.5" fill="#000"/><text x="1507.6" y="1437.5" font-size="44.5" text-anchor="start" font-weight="bold">Dataset</text><text x="1866.6" y="1437.5" font-size="44.5" font-weight="bold">Method</text><text x="2177" y="1437.5" font-size="44.5" font-weight="bold">Accuracy</text><text x="2419.5" y="1437.5" font-size="44.5" font-weight="bold">Recall</text><text x="2660.5" y="1437.5" font-size="44.5" font-weight="bold">Precision</text><text x="1507.6" y="1528.6" font-size="44.5" text-anchor="start">Static</text><text x="1507.6" y="1647.5" font-size="44.5" text-anchor="start">Drift</text><text x="1866.6" y="1508" font-size="44.5">Threshold detector</text><text x="2177" y="1508" font-size="44.5" text-anchor="middle" font-family="Liberation Serif">0.61<tspan dx="3" font-size="54.3">±</tspan><tspan dx="3">0.03</tspan></text><text x="2419.5" y="1508" font-size="44.5" text-anchor="middle" font-family="Liberation Serif">0.71<tspan dx="3" font-size="54.3">±</tspan><tspan dx="3">0.02</tspan></text><text x="2660.5" y="1508" font-size="44.5" text-anchor="middle" font-family="Liberation Serif">0.81<tspan dx="3" font-size="54.3">±</tspan><tspan dx="3">0.02</tspan></text><text x="1866.6" y="1557.8" font-size="44.5">SimSort’s detector</text><text x="2177" y="1557.8" font-size="44.5" text-anchor="middle" font-family="Liberation Serif"><tspan font-weight="bold">0.72</tspan><tspan dx="1" font-size="54.3">±</tspan><tspan dx="1" font-weight="bold">0.03</tspan></text><text x="2419.5" y="1557.8" font-size="44.5" text-anchor="middle" font-family="Liberation Serif"><tspan font-weight="bold">0.84</tspan><tspan dx="1" font-size="54.3">±</tspan><tspan dx="1" font-weight="bold">0.02</tspan></text><text x="2660.5" y="1557.8" font-size="44.5" text-anchor="middle" font-family="Liberation Serif"><tspan font-weight="bold">0.82</tspan><tspan dx="1" font-size="54.3">±</tspan><tspan dx="1" font-weight="bold">0.02</tspan></text><text x="1866.6" y="1629" font-size="44.5">Threshold detector</text><text x="2177" y="1629" font-size="44.5" text-anchor="middle" font-family="Liberation Serif">0.60<tspan dx="3" font-size="54.3">±</tspan><tspan dx="3">0.03</tspan></text><text x="2419.5" y="1629" font-size="44.5" text-anchor="middle" font-family="Liberation Serif">0.70<tspan dx="3" font-size="54.3">±</tspan><tspan dx="3">0.03</tspan></text><text x="2660.5" y="1629" font-size="44.5" text-anchor="middle" font-family="Liberation Serif">0.80<tspan dx="3" font-size="54.3">±</tspan><tspan dx="3">0.02</tspan></text><text x="1866.6" y="1677" font-size="44.5">SimSort’s detector</text><text x="2177" y="1677" font-size="44.5" text-anchor="middle" font-family="Liberation Serif"><tspan font-weight="bold">0.68</tspan><tspan dx="1" font-size="54.3">±</tspan><tspan dx="1" font-weight="bold">0.03</tspan></text><text x="2419.5" y="1677" font-size="44.5" text-anchor="middle" font-family="Liberation Serif"><tspan font-weight="bold">0.82</tspan><tspan dx="1" font-size="54.3">±</tspan><tspan dx="1" font-weight="bold">0.02</tspan></text><text x="2660.5" y="1677" font-size="44.5" text-anchor="middle" font-family="Liberation Serif"><tspan font-weight="bold">0.81</tspan><tspan dx="1" font-size="54.3">±</tspan><tspan dx="1" font-weight="bold">0.02</tspan></text><rect x="1478" y="1860.2" width="1321" height="3.5" fill="#000"/><rect x="1478" y="1931.7" width="1321" height="2.5" fill="#000"/><rect x="1478" y="2049.7" width="1321" height="3.5" fill="#000"/><text x="1499.7" y="1910" font-size="44.5" text-anchor="start" font-weight="bold">Dataset</text><text x="1885.7" y="1910" font-size="44.5" font-weight="bold">PCA</text><text x="2147.3" y="1910" font-size="44.5" text-anchor="middle" font-family="Liberation Serif"><tspan font-style="italic">t</tspan><tspan font-weight="bold">-SNE</tspan></text><text x="2408" y="1910" font-size="44.5" font-weight="bold">UMAP</text><text x="2669" y="1910" font-size="44.5" font-weight="bold">Ours</text><text x="1499.7" y="1980.8" font-size="44.5" text-anchor="start">Hybrid-static</text><text x="1885.7" y="1980.8" font-size="44.5" word-spacing="1.5">0.79 <tspan font-size="54.3">±</tspan> 0.04</text><text x="2147.3" y="1980.8" font-size="44.5" word-spacing="1.5">0.88 <tspan font-size="54.3">±</tspan> 0.02</text><text x="2408" y="1980.8" font-size="44.5" word-spacing="1.5">0.88 <tspan font-size="54.3">±</tspan> 0.02</text><text x="2669" y="1980.8" font-size="44.5" word-spacing="1.5"><tspan font-weight="bold">0.91</tspan> <tspan font-size="54.3">±</tspan> <tspan font-weight="bold">0.02</tspan></text><text x="1499.7" y="2028.3" font-size="44.5" text-anchor="start">Hybrid-drift</text><text x="1885.7" y="2028.3" font-size="44.5" word-spacing="1.5">0.74 <tspan font-size="54.3">±</tspan> 0.04</text><text x="2147.3" y="2028.3" font-size="44.5" word-spacing="1.5">0.85 <tspan font-size="54.3">±</tspan> 0.02</text><text x="2408" y="2028.3" font-size="44.5" word-spacing="1.5">0.85 <tspan font-size="54.3">±</tspan> 0.01</text><text x="2669" y="2028.3" font-size="44.5" word-spacing="1.5"><tspan font-weight="bold">0.89</tspan> <tspan font-size="54.3">±</tspan> <tspan font-weight="bold">0.03</tspan></text><rect x="2872.6" y="1103" width="1384.4" height="34.6" fill="#ddd5ee"/><rect x="2872.6" y="726.9" width="1384.4" height="3" fill="#000"/><rect x="2872.6" y="815.3" width="1384.4" height="2" fill="#000"/><rect x="2872.6" y="1144.5" width="1384.4" height="3" fill="#000"/><rect x="3113.7" y="740" width="1.6" height="68.3" fill="#000"/><rect x="3113.7" y="826.6" width="1.6" height="310.9" fill="#000"/><rect x="3685.2" y="740" width="1.6" height="68.3" fill="#000"/><rect x="3685.2" y="826.6" width="1.6" height="310.9" fill="#000"/><text x="2893.7" y="781.7" font-size="30.8" text-anchor="start" font-weight="bold">Methods</text><text x="3400" y="764.3" font-size="30.8" font-weight="bold" textLength="488" lengthAdjust="spacing">Hybrid-static (SNR&gt;3, 9 recordings)</text><text x="3972" y="764.3" font-size="30.8" font-weight="bold" textLength="477" lengthAdjust="spacing">Hybrid-drift (SNR&gt;3, 9 recordings)</text><text x="3209.4" y="798.6" font-size="30.8" font-weight="bold">Accuracy</text><text x="3400" y="798.6" font-size="30.8" font-weight="bold">Recall</text><text x="3590.5" y="798.6" font-size="30.8" font-weight="bold">Precision</text><text x="3781" y="798.6" font-size="30.8" font-weight="bold">Accuracy</text><text x="3971" y="798.6" font-size="30.8" font-weight="bold">Recall</text><text x="4162" y="798.6" font-size="30.8" font-weight="bold">Precision</text><text x="2893.7" y="850.5" font-size="30.8" text-anchor="start">HerdingSpikes2</text><text x="3209.4" y="850.5" font-size="30.8" word-spacing="3">0.35 <tspan font-size="37.6">±</tspan> 0.01</text><text x="3400" y="850.5" font-size="30.8" word-spacing="3">0.44 <tspan font-size="37.6">±</tspan> 0.02</text><text x="3590.5" y="850.5" font-size="30.8" word-spacing="3">0.53 <tspan font-size="37.6">±</tspan> 0.01</text><text x="3781" y="850.5" font-size="30.8" word-spacing="3">0.29 <tspan font-size="37.6">±</tspan> 0.01</text><text x="3971" y="850.5" font-size="30.8" word-spacing="3">0.37 <tspan font-size="37.6">±</tspan> 0.02</text><text x="4162" y="850.5" font-size="30.8" word-spacing="3">0.48 <tspan font-size="37.6">±</tspan> 0.02</text><text x="2893.7" y="885.0" font-size="30.8" text-anchor="start">IronClust</text><text x="3209.4" y="885.0" font-size="30.8" word-spacing="3">0.57 <tspan font-size="37.6">±</tspan> 0.04</text><text x="3400" y="885.0" font-size="30.8" word-spacing="3"><tspan font-weight="bold">0.81</tspan> <tspan font-size="37.6">±</tspan> <tspan font-weight="bold">0.01</tspan></text><text x="3590.5" y="885.0" font-size="30.8" word-spacing="3">0.60 <tspan font-size="37.6">±</tspan> 0.04</text><text x="3781" y="885.0" font-size="30.8" word-spacing="3">0.54 <tspan font-size="37.6">±</tspan> 0.03</text><text x="3971" y="885.0" font-size="30.8" word-spacing="3">0.71 <tspan font-size="37.6">±</tspan> 0.02</text><text x="4162" y="885.0" font-size="30.8" word-spacing="3">0.65 <tspan font-size="37.6">±</tspan> 0.03</text><text x="2893.7" y="919.6" font-size="30.8" text-anchor="start">JRClust</text><text x="3209.4" y="919.6" font-size="30.8" word-spacing="3">0.47 <tspan font-size="37.6">±</tspan> 0.04</text><text x="3400" y="919.6" font-size="30.8" word-spacing="3">0.63 <tspan font-size="37.6">±</tspan> 0.02</text><text x="3590.5" y="919.6" font-size="30.8" word-spacing="3">0.59 <tspan font-size="37.6">±</tspan> 0.03</text><text x="3781" y="919.6" font-size="30.8" word-spacing="3">0.35 <tspan font-size="37.6">±</tspan> 0.03</text><text x="3971" y="919.6" font-size="30.8" word-spacing="3">0.48 <tspan font-size="37.6">±</tspan> 0.03</text><text x="4162" y="919.6" font-size="30.8" word-spacing="3">0.57 <tspan font-size="37.6">±</tspan> 0.02</text><text x="2893.7" y="954.1" font-size="30.8" text-anchor="start">KiloSort</text><text x="3209.4" y="954.1" font-size="30.8" word-spacing="3">0.60 <tspan font-size="37.6">±</tspan> 0.02</text><text x="3400" y="954.1" font-size="30.8" word-spacing="3">0.65 <tspan font-size="37.6">±</tspan> 0.02</text><text x="3590.5" y="954.1" font-size="30.8" word-spacing="3">0.72 <tspan font-size="37.6">±</tspan> 0.02</text><text x="3781" y="954.1" font-size="30.8" word-spacing="3">0.51 <tspan font-size="37.6">±</tspan> 0.02</text><text x="3971" y="954.1" font-size="30.8" word-spacing="3">0.62 <tspan font-size="37.6">±</tspan> 0.01</text><text x="4162" y="954.1" font-size="30.8" word-spacing="3"><tspan font-weight="bold">0.72</tspan> <tspan font-size="37.6">±</tspan> <tspan font-weight="bold">0.03</tspan></text><text x="2893.7" y="988.7" font-size="30.8" text-anchor="start">KiloSort2</text><text x="3209.4" y="988.7" font-size="30.8" word-spacing="3">0.39 <tspan font-size="37.6">±</tspan> 0.03</text><text x="3400" y="988.7" font-size="30.8" word-spacing="3">0.37 <tspan font-size="37.6">±</tspan> 0.03</text><text x="3590.5" y="988.7" font-size="30.8" word-spacing="3">0.51 <tspan font-size="37.6">±</tspan> 0.03</text><text x="3781" y="988.7" font-size="30.8" word-spacing="3">0.30 <tspan font-size="37.6">±</tspan> 0.02</text><text x="3971" y="988.7" font-size="30.8" word-spacing="3">0.31 <tspan font-size="37.6">±</tspan> 0.02</text><text x="4162" y="988.7" font-size="30.8" word-spacing="3">0.57 <tspan font-size="37.6">±</tspan> 0.04</text><text x="2893.7" y="1023.3" font-size="30.8" text-anchor="start">MountainSort4</text><text x="3209.4" y="1023.3" font-size="30.8" word-spacing="3">0.59 <tspan font-size="37.6">±</tspan> 0.02</text><text x="3400" y="1023.3" font-size="30.8" word-spacing="3">0.73 <tspan font-size="37.6">±</tspan> 0.01</text><text x="3590.5" y="1023.3" font-size="30.8" word-spacing="3">0.73 <tspan font-size="37.6">±</tspan> 0.03</text><text x="3781" y="1023.3" font-size="30.8" word-spacing="3">0.36 <tspan font-size="37.6">±</tspan> 0.02</text><text x="3971" y="1023.3" font-size="30.8" word-spacing="3">0.57 <tspan font-size="37.6">±</tspan> 0.02</text><text x="4162" y="1023.3" font-size="30.8" word-spacing="3">0.61 <tspan font-size="37.6">±</tspan> 0.03</text><text x="2893.7" y="1057.8" font-size="30.8" text-anchor="start">SpykingCircus</text><text x="3209.4" y="1057.8" font-size="30.8" word-spacing="3">0.57 <tspan font-size="37.6">±</tspan> 0.01</text><text x="3400" y="1057.8" font-size="30.8" word-spacing="3">0.63 <tspan font-size="37.6">±</tspan> 0.01</text><text x="3590.5" y="1057.8" font-size="30.8" word-spacing="3">0.75 <tspan font-size="37.6">±</tspan> 0.03</text><text x="3781" y="1057.8" font-size="30.8" word-spacing="3">0.48 <tspan font-size="37.6">±</tspan> 0.02</text><text x="3971" y="1057.8" font-size="30.8" word-spacing="3">0.55 <tspan font-size="37.6">±</tspan> 0.02</text><text x="4162" y="1057.8" font-size="30.8" word-spacing="3">0.68 <tspan font-size="37.6">±</tspan> 0.03</text><text x="2893.7" y="1092.4" font-size="30.8" text-anchor="start">Tridesclous</text><text x="3209.4" y="1092.4" font-size="30.8" word-spacing="3">0.54 <tspan font-size="37.6">±</tspan> 0.03</text><text x="3400" y="1092.4" font-size="30.8" word-spacing="3">0.66 <tspan font-size="37.6">±</tspan> 0.02</text><text x="3590.5" y="1092.4" font-size="30.8" word-spacing="3">0.59 <tspan font-size="37.6">±</tspan> 0.04</text><text x="3781" y="1092.4" font-size="30.8" word-spacing="3">0.37 <tspan font-size="37.6">±</tspan> 0.02</text><text x="3971" y="1092.4" font-size="30.8" word-spacing="3">0.52 <tspan font-size="37.6">±</tspan> 0.03</text><text x="4162" y="1092.4" font-size="30.8" word-spacing="3">0.55 <tspan font-size="37.6">±</tspan> 0.04</text><text x="2893.7" y="1126.9" font-size="30.8" text-anchor="start">SimSort</text><text x="3209.4" y="1126.9" font-size="30.8" word-spacing="3"><tspan font-weight="bold">0.62</tspan> <tspan font-size="37.6">±</tspan> <tspan font-weight="bold">0.04</tspan></text><text x="3400" y="1126.9" font-size="30.8" word-spacing="3">0.68 <tspan font-size="37.6">±</tspan> 0.04</text><text x="3590.5" y="1126.9" font-size="30.8" word-spacing="3"><tspan font-weight="bold">0.77</tspan> <tspan font-size="37.6">±</tspan> <tspan font-weight="bold">0.03</tspan></text><text x="3781" y="1126.9" font-size="30.8" word-spacing="3"><tspan font-weight="bold">0.56</tspan> <tspan font-size="37.6">±</tspan> <tspan font-weight="bold">0.03</tspan></text><text x="3971" y="1126.9" font-size="30.8" word-spacing="3"><tspan font-weight="bold">0.63</tspan> <tspan font-size="37.6">±</tspan> <tspan font-weight="bold">0.03</tspan></text><text x="4162" y="1126.9" font-size="30.8" word-spacing="3">0.69 <tspan font-size="37.6">±</tspan> 0.03</text><rect x="2876" y="1544" width="1374" height="33.6" fill="#ddd5ee"/><rect x="2876" y="1305.5" width="1374" height="3" fill="#000"/><rect x="2876" y="1394.0" width="1374" height="2" fill="#000"/><rect x="2876" y="1583.5" width="1374" height="3" fill="#000"/><rect x="3104.2" y="1319" width="1.6" height="67" fill="#000"/><rect x="3104.2" y="1405" width="1.6" height="172" fill="#000"/><rect x="3677.2" y="1319" width="1.6" height="67" fill="#000"/><rect x="3677.2" y="1405" width="1.6" height="172" fill="#000"/><text x="2896" y="1362" font-size="30.8" text-anchor="start" font-weight="bold">Methods</text><text x="3391" y="1345" font-size="30.8" font-weight="bold">Easy (12 recordings)</text><text x="3964" y="1345" font-size="30.8" font-weight="bold">Difficult (8 recordings)</text><text x="3200.8" y="1378.5" font-size="30.8" font-weight="bold">Accuracy</text><text x="3390.8" y="1378.5" font-size="30.8" font-weight="bold">Recall</text><text x="3581.8" y="1378.5" font-size="30.8" font-weight="bold">Precision</text><text x="3773.8" y="1378.5" font-size="30.8" font-weight="bold">Accuracy</text><text x="3964" y="1378.5" font-size="30.8" font-weight="bold">Recall</text><text x="4154.8" y="1378.5" font-size="30.8" font-weight="bold">Precision</text><text x="2896" y="1430.0" font-size="30.8" text-anchor="start">KiloSort</text><text x="3200.8" y="1430.0" font-size="30.8" word-spacing="3">0.54 <tspan font-size="37.6">±</tspan> 0.12</text><text x="3390.8" y="1430.0" font-size="30.8" word-spacing="3">0.46 <tspan font-size="37.6">±</tspan> 0.15</text><text x="3581.8" y="1430.0" font-size="30.8" word-spacing="3">0.62 <tspan font-size="37.6">±</tspan> 0.13</text><text x="3773.8" y="1430.0" font-size="30.8" word-spacing="3">0.17 <tspan font-size="37.6">±</tspan> 0.07</text><text x="3964" y="1430.0" font-size="30.8" word-spacing="3">0.23 <tspan font-size="37.6">±</tspan> 0.10</text><text x="4154.8" y="1430.0" font-size="30.8" word-spacing="3">0.18 <tspan font-size="37.6">±</tspan> 0.07</text><text x="2896" y="1464.5" font-size="30.8" text-anchor="start">KiloSort2</text><text x="3200.8" y="1464.5" font-size="30.8" word-spacing="3">0.61 <tspan font-size="37.6">±</tspan> 0.09</text><text x="3390.8" y="1464.5" font-size="30.8" word-spacing="3">0.66 <tspan font-size="37.6">±</tspan> 0.09</text><text x="3581.8" y="1464.5" font-size="30.8" word-spacing="3">0.67 <tspan font-size="37.6">±</tspan> 0.09</text><text x="3773.8" y="1464.5" font-size="30.8" word-spacing="3">0.10 <tspan font-size="37.6">±</tspan> 0.07</text><text x="3964" y="1464.5" font-size="30.8" word-spacing="3">0.12 <tspan font-size="37.6">±</tspan> 0.09</text><text x="4154.8" y="1464.5" font-size="30.8" word-spacing="3">0.10 <tspan font-size="37.6">±</tspan> 0.07</text><text x="2896" y="1499.0" font-size="30.8" text-anchor="start">MountainSort4</text><text x="3200.8" y="1499.0" font-size="30.8" word-spacing="3">0.73 <tspan font-size="37.6">±</tspan> 0.08</text><text x="3390.8" y="1499.0" font-size="30.8" word-spacing="3">0.79 <tspan font-size="37.6">±</tspan> 0.07</text><text x="3581.8" y="1499.0" font-size="30.8" word-spacing="3">0.79 <tspan font-size="37.6">±</tspan> 0.08</text><text x="3773.8" y="1499.0" font-size="30.8" word-spacing="3">0.48 <tspan font-size="37.6">±</tspan> 0.16</text><text x="3964" y="1499.0" font-size="30.8" word-spacing="3">0.49 <tspan font-size="37.6">±</tspan> 0.16</text><text x="4154.8" y="1499.0" font-size="30.8" word-spacing="3">0.52 <tspan font-size="37.6">±</tspan> 0.17</text><text x="2896" y="1533.5" font-size="30.8" text-anchor="start">MountainSort5</text><text x="3200.8" y="1533.5" font-size="30.8" word-spacing="3">0.71 <tspan font-size="37.6">±</tspan> 0.09</text><text x="3390.8" y="1533.5" font-size="30.8" word-spacing="3">0.74 <tspan font-size="37.6">±</tspan> 0.08</text><text x="3581.8" y="1533.5" font-size="30.8" word-spacing="3">0.79 <tspan font-size="37.6">±</tspan> 0.10</text><text x="3773.8" y="1533.5" font-size="30.8" word-spacing="3">0.42 <tspan font-size="37.6">±</tspan> 0.15</text><text x="3964" y="1533.5" font-size="30.8" word-spacing="3">0.46 <tspan font-size="37.6">±</tspan> 0.15</text><text x="4154.8" y="1533.5" font-size="30.8" word-spacing="3">0.46 <tspan font-size="37.6">±</tspan> 0.16</text><text x="2896" y="1568.0" font-size="30.8" text-anchor="start">SimSort</text><text x="3200.8" y="1568.0" font-size="30.8" word-spacing="3"><tspan font-weight="bold">0.75</tspan> <tspan font-size="37.6">±</tspan> <tspan font-weight="bold">0.06</tspan></text><text x="3390.8" y="1568.0" font-size="30.8" word-spacing="3"><tspan font-weight="bold">0.84</tspan> <tspan font-size="37.6">±</tspan> <tspan font-weight="bold">0.04</tspan></text><text x="3581.8" y="1568.0" font-size="30.8" word-spacing="3"><tspan font-weight="bold">0.85</tspan> <tspan font-size="37.6">±</tspan> <tspan font-weight="bold">0.05</tspan></text><text x="3773.8" y="1568.0" font-size="30.8" word-spacing="3"><tspan font-weight="bold">0.71</tspan> <tspan font-size="37.6">±</tspan> <tspan font-weight="bold">0.10</tspan></text><text x="3964" y="1568.0" font-size="30.8" word-spacing="3"><tspan font-weight="bold">0.81</tspan> <tspan font-size="37.6">±</tspan> <tspan font-weight="bold">0.07</tspan></text><text x="4154.8" y="1568.0" font-size="30.8" word-spacing="3"><tspan font-weight="bold">0.81</tspan> <tspan font-size="37.6">±</tspan> <tspan font-weight="bold">0.09</tspan></text><rect x="3152" y="1977" width="799" height="34" fill="#ddd5ee"/><rect x="3152" y="1738.5" width="799" height="3" fill="#000"/><rect x="3152" y="1825.5" width="799" height="2" fill="#000"/><rect x="3152" y="2016.0" width="799" height="3" fill="#000"/><rect x="3381.2" y="1751" width="1.6" height="69" fill="#000"/><rect x="3381.2" y="1838" width="1.6" height="173" fill="#000"/><text x="3170.8" y="1793" font-size="30.8" text-anchor="start" font-weight="bold">Methods</text><text x="3667" y="1776" font-size="30.8" text-anchor="middle" font-family="Liberation Serif" font-weight="bold">BBP L6 <tspan font-size="26">(20 trials)</tspan></text><text x="3477" y="1811" font-size="30.8" font-weight="bold">Accuracy</text><text x="3665.8" y="1811" font-size="30.8" font-weight="bold">Recall</text><text x="3855.6" y="1811" font-size="30.8" font-weight="bold">Precision</text><text x="3170.8" y="1861.0" font-size="30.8" text-anchor="start">KiloSort</text><text x="3477" y="1861.0" font-size="30.8" word-spacing="3">0.49 <tspan font-size="37.6">±</tspan> 0.05</text><text x="3665.8" y="1861.0" font-size="30.8" word-spacing="3">0.51 <tspan font-size="37.6">±</tspan> 0.05</text><text x="3855.6" y="1861.0" font-size="30.8" word-spacing="3">0.53 <tspan font-size="37.6">±</tspan> 0.05</text><text x="3170.8" y="1895.7" font-size="30.8" text-anchor="start">KiloSort2</text><text x="3477" y="1895.7" font-size="30.8" word-spacing="3">0.51 <tspan font-size="37.6">±</tspan> 0.06</text><text x="3665.8" y="1895.7" font-size="30.8" word-spacing="3">0.53 <tspan font-size="37.6">±</tspan> 0.06</text><text x="3855.6" y="1895.7" font-size="30.8" word-spacing="3">0.53 <tspan font-size="37.6">±</tspan> 0.06</text><text x="3170.8" y="1930.5" font-size="30.8" text-anchor="start">MountainSort4</text><text x="3477" y="1930.5" font-size="30.8" word-spacing="3">0.84 <tspan font-size="37.6">±</tspan> 0.03</text><text x="3665.8" y="1930.5" font-size="30.8" word-spacing="3">0.84 <tspan font-size="37.6">±</tspan> 0.03</text><text x="3855.6" y="1930.5" font-size="30.8" word-spacing="3"><tspan font-weight="bold">0.93</tspan> <tspan font-size="37.6">±</tspan> <tspan font-weight="bold">0.03</tspan></text><text x="3170.8" y="1965.2" font-size="30.8" text-anchor="start">MountainSort5</text><text x="3477" y="1965.2" font-size="30.8" word-spacing="3">0.66 <tspan font-size="37.6">±</tspan> 0.06</text><text x="3665.8" y="1965.2" font-size="30.8" word-spacing="3">0.68 <tspan font-size="37.6">±</tspan> 0.06</text><text x="3855.6" y="1965.2" font-size="30.8" word-spacing="3">0.79 <tspan font-size="37.6">±</tspan> 0.07</text><text x="3170.8" y="2000.0" font-size="30.8" text-anchor="start">SimSort</text><text x="3477" y="2000.0" font-size="30.8" word-spacing="3"><tspan font-weight="bold">0.85</tspan> <tspan font-size="37.6">±</tspan> <tspan font-weight="bold">0.02</tspan></text><text x="3665.8" y="2000.0" font-size="30.8" word-spacing="3"><tspan font-weight="bold">0.90</tspan> <tspan font-size="37.6">±</tspan> <tspan font-weight="bold">0.01</tspan></text><text x="3855.6" y="2000.0" font-size="30.8" word-spacing="3"><tspan font-weight="bold">0.93</tspan> <tspan font-size="37.6">±</tspan> <tspan font-weight="bold">0.02</tspan></text><text x="3565" y="655.4" font-size="39.8" text-anchor="middle" font-family="Liberation Sans">Results on <tspan font-weight="bold">Hybrid dataset</tspan>.</text><text x="3565" y="704" font-size="39.8" text-anchor="middle" font-family="Liberation Sans">Data for other methods were sourced from SpikeForest.</text><text x="3564" y="1234" font-size="39.8" text-anchor="middle" font-family="Liberation Sans">Results on <tspan font-weight="bold">WaveClus dataset</tspan>.</text><text x="3564" y="1281" font-size="39.8" text-anchor="middle" font-family="Liberation Sans">Other methods were obtained through SpikeInterface.</text><text x="3565" y="1668.5" font-size="39.8" text-anchor="middle" font-family="Liberation Sans">Results on <tspan font-weight="bold">BBP L6 dataset</tspan>.</text><text x="3564" y="1717.7" font-size="39.8" text-anchor="middle" font-family="Liberation Sans">Other methods were obtained through SpikeInterface.</text></svg><!-- fig_chart.html --><svg class="sv" style="left:0;top:0" width="4283" height="2880" viewBox="0 0 4283 2880" font-family="Liberation Sans"><line x1="3327.6" y1="2193.6" x2="3327.6" y2="2772.4" stroke="#e4e4e4" stroke-width="1"/><line x1="3357.3" y1="2193.6" x2="3357.3" y2="2772.4" stroke="#e4e4e4" stroke-width="1"/><line x1="3382.5" y1="2193.6" x2="3382.5" y2="2772.4" stroke="#e4e4e4" stroke-width="1"/><line x1="3440.7" y1="2193.6" x2="3440.7" y2="2772.4" stroke="#e4e4e4" stroke-width="1"/><line x1="3470.4" y1="2193.6" x2="3470.4" y2="2772.4" stroke="#e4e4e4" stroke-width="1"/><line x1="3495.5" y1="2193.6" x2="3495.5" y2="2772.4" stroke="#e4e4e4" stroke-width="1"/><line x1="3553.7" y1="2193.6" x2="3553.7" y2="2772.4" stroke="#e4e4e4" stroke-width="1"/><line x1="3583.5" y1="2193.6" x2="3583.5" y2="2772.4" stroke="#e4e4e4" stroke-width="1"/><line x1="3608.6" y1="2193.6" x2="3608.6" y2="2772.4" stroke="#e4e4e4" stroke-width="1"/><line x1="3666.8" y1="2193.6" x2="3666.8" y2="2772.4" stroke="#e4e4e4" stroke-width="1"/><line x1="3696.5" y1="2193.6" x2="3696.5" y2="2772.4" stroke="#e4e4e4" stroke-width="1"/><line x1="3721.7" y1="2193.6" x2="3721.7" y2="2772.4" stroke="#e4e4e4" stroke-width="1"/><line x1="3779.7" y1="2193.6" x2="3779.7" y2="2772.4" stroke="#e4e4e4" stroke-width="1"/><line x1="3809.2" y1="2193.6" x2="3809.2" y2="2772.4" stroke="#e4e4e4" stroke-width="1"/><line x1="3834.2" y1="2193.6" x2="3834.2" y2="2772.4" stroke="#e4e4e4" stroke-width="1"/><line x1="3291.2" y1="2193.6" x2="3291.2" y2="2772.4" stroke="#c8c8c8" stroke-width="1.3" stroke-dasharray="5 3"/><line x1="3404.3" y1="2193.6" x2="3404.3" y2="2772.4" stroke="#c8c8c8" stroke-width="1.3" stroke-dasharray="5 3"/><line x1="3517.3" y1="2193.6" x2="3517.3" y2="2772.4" stroke="#c8c8c8" stroke-width="1.3" stroke-dasharray="5 3"/><line x1="3630.4" y1="2193.6" x2="3630.4" y2="2772.4" stroke="#c8c8c8" stroke-width="1.3" stroke-dasharray="5 3"/><line x1="3743.4" y1="2193.6" x2="3743.4" y2="2772.4" stroke="#c8c8c8" stroke-width="1.3" stroke-dasharray="5 3"/><line x1="3855.9" y1="2193.6" x2="3855.9" y2="2772.4" stroke="#c8c8c8" stroke-width="1.3" stroke-dasharray="5 3"/><line x1="3262.9" y1="2258.8" x2="3885.3" y2="2258.8" stroke="#c8c8c8" stroke-width="1.3" stroke-dasharray="5 3"/><line x1="3255.9" y1="2258.8" x2="3262.9" y2="2258.8" stroke="#000" stroke-width="1.5"/><text x="3250.9" y="2268.3" font-size="27" text-anchor="end">0.70</text><line x1="3262.9" y1="2338.6" x2="3885.3" y2="2338.6" stroke="#c8c8c8" stroke-width="1.3" stroke-dasharray="5 3"/><line x1="3255.9" y1="2338.6" x2="3262.9" y2="2338.6" stroke="#000" stroke-width="1.5"/><text x="3250.9" y="2348.1" font-size="27" text-anchor="end">0.65</text><line x1="3262.9" y1="2418.5" x2="3885.3" y2="2418.5" stroke="#c8c8c8" stroke-width="1.3" stroke-dasharray="5 3"/><line x1="3255.9" y1="2418.5" x2="3262.9" y2="2418.5" stroke="#000" stroke-width="1.5"/><text x="3250.9" y="2428.0" font-size="27" text-anchor="end">0.60</text><line x1="3262.9" y1="2497.8" x2="3885.3" y2="2497.8" stroke="#c8c8c8" stroke-width="1.3" stroke-dasharray="5 3"/><line x1="3255.9" y1="2497.8" x2="3262.9" y2="2497.8" stroke="#000" stroke-width="1.5"/><text x="3250.9" y="2507.3" font-size="27" text-anchor="end">0.55</text><line x1="3262.9" y1="2577.1" x2="3885.3" y2="2577.1" stroke="#c8c8c8" stroke-width="1.3" stroke-dasharray="5 3"/><line x1="3255.9" y1="2577.1" x2="3262.9" y2="2577.1" stroke="#000" stroke-width="1.5"/><text x="3250.9" y="2586.6" font-size="27" text-anchor="end">0.50</text><line x1="3262.9" y1="2656.9" x2="3885.3" y2="2656.9" stroke="#c8c8c8" stroke-width="1.3" stroke-dasharray="5 3"/><line x1="3255.9" y1="2656.9" x2="3262.9" y2="2656.9" stroke="#000" stroke-width="1.5"/><text x="3250.9" y="2666.4" font-size="27" text-anchor="end">0.45</text><line x1="3262.9" y1="2736.8" x2="3885.3" y2="2736.8" stroke="#c8c8c8" stroke-width="1.3" stroke-dasharray="5 3"/><line x1="3255.9" y1="2736.8" x2="3262.9" y2="2736.8" stroke="#000" stroke-width="1.5"/><text x="3250.9" y="2746.3" font-size="27" text-anchor="end">0.40</text><line x1="3885.3" y1="2244.6" x2="3892.3" y2="2244.6" stroke="#000" stroke-width="1.5"/><text x="3897.3" y="2254.1" font-size="27" text-anchor="start">0.90</text><line x1="3885.3" y1="2348.5" x2="3892.3" y2="2348.5" stroke="#000" stroke-width="1.5"/><text x="3897.3" y="2358.0" font-size="27" text-anchor="start">0.85</text><line x1="3885.3" y1="2452.9" x2="3892.3" y2="2452.9" stroke="#000" stroke-width="1.5"/><text x="3897.3" y="2462.4" font-size="27" text-anchor="start">0.80</text><line x1="3885.3" y1="2557.4" x2="3892.3" y2="2557.4" stroke="#000" stroke-width="1.5"/><text x="3897.3" y="2566.9" font-size="27" text-anchor="start">0.75</text><line x1="3885.3" y1="2661.9" x2="3892.3" y2="2661.9" stroke="#000" stroke-width="1.5"/><text x="3897.3" y="2671.4" font-size="27" text-anchor="start">0.70</text><line x1="3885.3" y1="2766.3" x2="3892.3" y2="2766.3" stroke="#000" stroke-width="1.5"/><text x="3897.3" y="2775.8" font-size="27" text-anchor="start">0.65</text><line x1="3291.2" y1="2772.4" x2="3291.2" y2="2779.4" stroke="#000" stroke-width="1.5"/><text x="3287.2" y="2811.2" font-size="28" text-anchor="middle">2<tspan font-size="19" dy="-12">8</tspan></text><line x1="3404.3" y1="2772.4" x2="3404.3" y2="2779.4" stroke="#000" stroke-width="1.5"/><text x="3400.3" y="2811.2" font-size="28" text-anchor="middle">2<tspan font-size="19" dy="-12">9</tspan></text><line x1="3517.3" y1="2772.4" x2="3517.3" y2="2779.4" stroke="#000" stroke-width="1.5"/><text x="3513.3" y="2811.2" font-size="28" text-anchor="middle">2<tspan font-size="19" dy="-12">10</tspan></text><line x1="3630.4" y1="2772.4" x2="3630.4" y2="2779.4" stroke="#000" stroke-width="1.5"/><text x="3626.4" y="2811.2" font-size="28" text-anchor="middle">2<tspan font-size="19" dy="-12">11</tspan></text><line x1="3743.4" y1="2772.4" x2="3743.4" y2="2779.4" stroke="#000" stroke-width="1.5"/><text x="3739.4" y="2811.2" font-size="28" text-anchor="middle">2<tspan font-size="19" dy="-12">12</tspan></text><line x1="3855.9" y1="2772.4" x2="3855.9" y2="2779.4" stroke="#000" stroke-width="1.5"/><text x="3851.9" y="2811.2" font-size="28" text-anchor="middle">2<tspan font-size="19" dy="-12">13</tspan></text><line x1="3327.6" y1="2772.4" x2="3327.6" y2="2776.4" stroke="#000" stroke-width="1"/><line x1="3357.3" y1="2772.4" x2="3357.3" y2="2776.4" stroke="#000" stroke-width="1"/><line x1="3382.5" y1="2772.4" x2="3382.5" y2="2776.4" stroke="#000" stroke-width="1"/><line x1="3440.7" y1="2772.4" x2="3440.7" y2="2776.4" stroke="#000" stroke-width="1"/><line x1="3470.4" y1="2772.4" x2="3470.4" y2="2776.4" stroke="#000" stroke-width="1"/><line x1="3495.5" y1="2772.4" x2="3495.5" y2="2776.4" stroke="#000" stroke-width="1"/><line x1="3553.7" y1="2772.4" x2="3553.7" y2="2776.4" stroke="#000" stroke-width="1"/><line x1="3583.5" y1="2772.4" x2="3583.5" y2="2776.4" stroke="#000" stroke-width="1"/><line x1="3608.6" y1="2772.4" x2="3608.6" y2="2776.4" stroke="#000" stroke-width="1"/><line x1="3666.8" y1="2772.4" x2="3666.8" y2="2776.4" stroke="#000" stroke-width="1"/><line x1="3696.5" y1="2772.4" x2="3696.5" y2="2776.4" stroke="#000" stroke-width="1"/><line x1="3721.7" y1="2772.4" x2="3721.7" y2="2776.4" stroke="#000" stroke-width="1"/><line x1="3779.7" y1="2772.4" x2="3779.7" y2="2776.4" stroke="#000" stroke-width="1"/><line x1="3809.2" y1="2772.4" x2="3809.2" y2="2776.4" stroke="#000" stroke-width="1"/><line x1="3834.2" y1="2772.4" x2="3834.2" y2="2776.4" stroke="#000" stroke-width="1"/><line x1="3267.8" y1="2772.4" x2="3267.8" y2="2776.4" stroke="#000" stroke-width="1"/><line x1="3873.1" y1="2772.4" x2="3873.1" y2="2776.4" stroke="#000" stroke-width="1"/><rect x="3262.9" y="2193.6" width="622.4" height="578.8" fill="none" stroke="#000" stroke-width="1.8"/><g opacity="1.0"><polyline points="3291.2,2671.1 3404.3,2598.6 3517.3,2495.3 3630.4,2446.2 3743.4,2450.5 3855.9,2411.1" fill="none" stroke="#6a2fb0" stroke-width="4.8" stroke-linecap="round"/><circle cx="3291.2" cy="2671.1" r="7.5" fill="#6a2fb0"/><circle cx="3404.3" cy="2598.6" r="7.5" fill="#6a2fb0"/><circle cx="3517.3" cy="2495.3" r="7.5" fill="#6a2fb0"/><circle cx="3630.4" cy="2446.2" r="7.5" fill="#6a2fb0"/><circle cx="3743.4" cy="2450.5" r="7.5" fill="#6a2fb0"/><circle cx="3855.9" cy="2411.1" r="7.5" fill="#6a2fb0"/></g><g opacity="0.8"><polyline points="3291.2,2746.6 3404.3,2643.4 3517.3,2562.9 3630.4,2535.9 3743.4,2528.5 3855.9,2491.0" fill="none" stroke="#b793e0" stroke-width="4.8" stroke-linecap="round"/><circle cx="3291.2" cy="2746.6" r="7.5" fill="#b793e0"/><circle cx="3404.3" cy="2643.4" r="7.5" fill="#b793e0"/><circle cx="3517.3" cy="2562.9" r="7.5" fill="#b793e0"/><circle cx="3630.4" cy="2535.9" r="7.5" fill="#b793e0"/><circle cx="3743.4" cy="2528.5" r="7.5" fill="#b793e0"/><circle cx="3855.9" cy="2491.0" r="7.5" fill="#b793e0"/></g><g opacity="1.0"><polyline points="3291.2,2333.1 3404.3,2344.2 3517.3,2348.5 3630.4,2220.0 3743.4,2235.4 3855.9,2232.3" fill="none" stroke="#6a2fb0" stroke-width="4.8" stroke-dasharray="3 9" stroke-linecap="round"/><circle cx="3291.2" cy="2333.1" r="7.5" fill="#6a2fb0"/><circle cx="3404.3" cy="2344.2" r="7.5" fill="#6a2fb0"/><circle cx="3517.3" cy="2348.5" r="7.5" fill="#6a2fb0"/><circle cx="3630.4" cy="2220.0" r="7.5" fill="#6a2fb0"/><circle cx="3743.4" cy="2235.4" r="7.5" fill="#6a2fb0"/><circle cx="3855.9" cy="2232.3" r="7.5" fill="#6a2fb0"/></g><g opacity="0.8"><polyline points="3291.2,2357.7 3404.3,2374.9 3517.3,2373.0 3630.4,2276.6 3743.4,2291.9 3855.9,2287.6" fill="none" stroke="#b793e0" stroke-width="4.8" stroke-dasharray="3 9" stroke-linecap="round"/><circle cx="3291.2" cy="2357.7" r="7.5" fill="#b793e0"/><circle cx="3404.3" cy="2374.9" r="7.5" fill="#b793e0"/><circle cx="3517.3" cy="2373.0" r="7.5" fill="#b793e0"/><circle cx="3630.4" cy="2276.6" r="7.5" fill="#b793e0"/><circle cx="3743.4" cy="2291.9" r="7.5" fill="#b793e0"/><circle cx="3855.9" cy="2287.6" r="7.5" fill="#b793e0"/></g><g opacity="1.0"><polyline points="3291.2,2600.4 3404.3,2476.9 3517.3,2311.6 3630.4,2296.9 3743.4,2295.0 3855.9,2220.0" fill="none" stroke="#2a9d68" stroke-width="4.8" stroke-linecap="round"/><circle cx="3291.2" cy="2600.4" r="7.5" fill="#2a9d68"/><circle cx="3404.3" cy="2476.9" r="7.5" fill="#2a9d68"/><circle cx="3517.3" cy="2311.6" r="7.5" fill="#2a9d68"/><circle cx="3630.4" cy="2296.9" r="7.5" fill="#2a9d68"/><circle cx="3743.4" cy="2295.0" r="7.5" fill="#2a9d68"/><circle cx="3855.9" cy="2220.0" r="7.5" fill="#2a9d68"/></g><g opacity="0.9"><polyline points="3291.2,2746.6 3404.3,2610.8 3517.3,2419.7 3630.4,2368.7 3743.4,2371.2 3855.9,2266.7" fill="none" stroke="#84d9ad" stroke-width="4.8" stroke-linecap="round"/><circle cx="3291.2" cy="2746.6" r="7.5" fill="#84d9ad"/><circle cx="3404.3" cy="2610.8" r="7.5" fill="#84d9ad"/><circle cx="3517.3" cy="2419.7" r="7.5" fill="#84d9ad"/><circle cx="3630.4" cy="2368.7" r="7.5" fill="#84d9ad"/><circle cx="3743.4" cy="2371.2" r="7.5" fill="#84d9ad"/><circle cx="3855.9" cy="2266.7" r="7.5" fill="#84d9ad"/></g><rect x="3554.2" y="2575.8" width="319.5" height="186.2" rx="4" fill="#fff" fill-opacity="0.8" stroke="#d0d0d0" stroke-width="1.5"/><g opacity="1.0"><line x1="3561.6" y1="2591.8" x2="3602.7" y2="2591.8" stroke="#6a2fb0" stroke-width="4.8"/><circle cx="3581.8" cy="2591.8" r="7.5" fill="#6a2fb0"/></g><text x="3618.1" y="2599.8" font-size="22.5">Sorting Acc - static</text><g opacity="0.8"><line x1="3561.6" y1="2621.9" x2="3602.7" y2="2621.9" stroke="#b793e0" stroke-width="4.8"/><circle cx="3581.8" cy="2621.9" r="7.5" fill="#b793e0"/></g><text x="3618.1" y="2629.9" font-size="22.5">Sorting Acc - drift</text><g opacity="1.0"><line x1="3561.6" y1="2652.0" x2="3602.7" y2="2652.0" stroke="#6a2fb0" stroke-width="4.8" stroke-dasharray="3 9"/><circle cx="3581.8" cy="2652.0" r="7.5" fill="#6a2fb0"/></g><text x="3618.1" y="2660.0" font-size="22.5">Detection Acc - static</text><g opacity="0.8"><line x1="3561.6" y1="2682.1" x2="3602.7" y2="2682.1" stroke="#b793e0" stroke-width="4.8" stroke-dasharray="3 9"/><circle cx="3581.8" cy="2682.1" r="7.5" fill="#b793e0"/></g><text x="3618.1" y="2690.1" font-size="22.5">Detection Acc - drift</text><g opacity="1.0"><line x1="3561.6" y1="2712.2" x2="3602.7" y2="2712.2" stroke="#2a9d68" stroke-width="4.8"/><circle cx="3581.8" cy="2712.2" r="7.5" fill="#2a9d68"/></g><text x="3618.1" y="2720.2" font-size="22.5">Identification ARI - static</text><g opacity="0.9"><line x1="3561.6" y1="2742.3" x2="3602.7" y2="2742.3" stroke="#84d9ad" stroke-width="4.8"/><circle cx="3581.8" cy="2742.3" r="7.5" fill="#84d9ad"/></g><text x="3618.1" y="2750.3" font-size="22.5">Identification ARI - drift</text><text transform="translate(3174.4,2483.7) rotate(-90)" font-size="31" text-anchor="middle">Accuracy</text><text transform="translate(3991.7,2484.3) rotate(-90)" font-size="31" text-anchor="middle">ARI</text><text x="3573.9" y="2848.0" font-size="31" text-anchor="middle">Data Size</text></svg>
</body></html>
